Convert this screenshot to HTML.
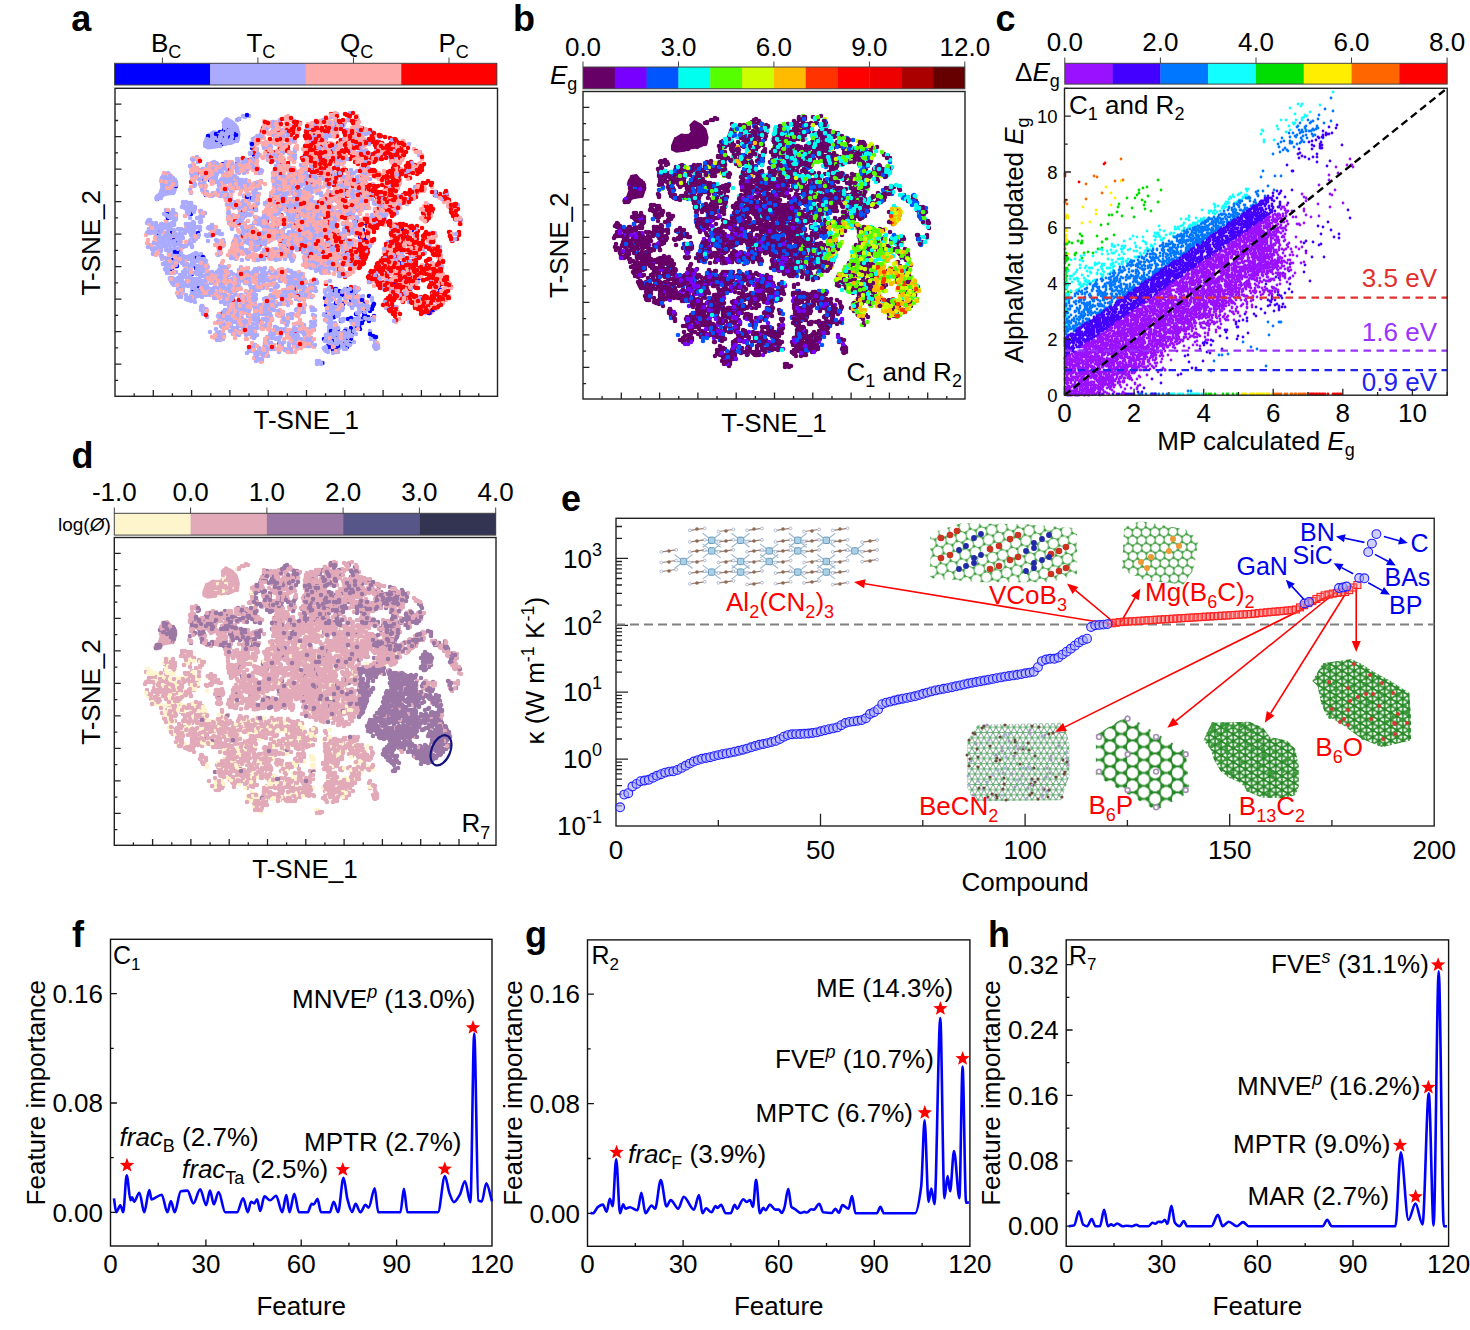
<!DOCTYPE html>
<html><head><meta charset="utf-8"><style>
html,body{margin:0;padding:0;background:#fff;overflow:hidden;}
svg{display:block;font-family:"Liberation Sans", sans-serif;}
</style></head><body>
<svg width="1470" height="1330" viewBox="0 0 1470 1330">
<rect width="1470" height="1330" fill="#fff"/>
<text x="71.3" y="31.0" font-size="36" font-weight="bold" >a</text>
<rect x="114.60" y="63.30" width="95.85" height="21.70" fill="#0000FF"/>
<rect x="210.15" y="63.30" width="95.85" height="21.70" fill="#AAAAFF"/>
<rect x="305.70" y="63.30" width="95.85" height="21.70" fill="#FFAAAA"/>
<rect x="401.25" y="63.30" width="95.85" height="21.70" fill="#FF0000"/>
<rect x="114.60" y="63.30" width="382.20" height="21.70" fill="none" stroke="#444" stroke-width="1.0"/>
<path d="M162.4 63.3L162.4 57.5M257.9 63.3L257.9 57.5M353.5 63.3L353.5 57.5M449.0 63.3L449.0 57.5" stroke="#444" stroke-width="1.0" fill="none"/>
<text x="150.9" y="52.4" font-size="26">B<tspan font-size="18" dy="6">C</tspan></text>
<text x="246.4" y="52.4" font-size="26">T<tspan font-size="18" dy="6">C</tspan></text>
<text x="340.0" y="52.4" font-size="26">Q<tspan font-size="18" dy="6">C</tspan></text>
<text x="438.5" y="52.4" font-size="26">P<tspan font-size="18" dy="6">C</tspan></text>
<path d="M204.0 142.4L207.1 135.3L213.2 131.3L220.3 132.3L224.3 128.2L222.3 122.1L226.4 118.0L232.5 121.1L237.5 126.2L239.6 134.3L238.6 140.4L232.5 143.4L224.3 144.5L216.2 147.5L208.1 148.5L204.0 146.5ZM155.3 197.3L159.3 193.2L161.4 187.1L160.4 179.0L163.4 172.9L168.5 171.9L172.5 176.9L175.6 179.0L176.6 187.1L174.6 193.2L169.5 194.2L164.4 195.2L159.3 199.3L156.3 199.3Z" fill="#AAAAFF" stroke="#AAAAFF" stroke-width="2" stroke-linejoin="round"/>
<path d="M224 130h0m-2 5h0m11 0h0m-16 5h0m3 1h0m2 3h0m30 4h0m2 7h0m-5 6h0m-42 16h0m-4 3h0m-33 12h0m36 3h0m-14 30h0m-35 3h0m15 4h0m221-1h0m-228 3h0m14 3h0m181 0h0m-182 4h0m188-1h0m32 1h0m-223 10h0m4 0h0m259-3h0m-239 8h0m193 0h0m-216 7h0m8-5h0m222 8h0m-234 6h0m242-1h0m-236 13h0m2 3h0m3-4h0m2 0h0m212 1h0m42 2h0m-105 6h0m1-3h0m-10 9h0m22-2h0m1-2h0m3 2h0m18 0h0m-16 7h0m71-1h0m-92 7h0m2-3h0m18 1h0m13 4h0m-1 2h0m4 4h0m-27 3h0m7-1h0m14 0h0m11-1h0m-22 10h0m5 0h0m3-2h0m-22 6h0m16 0h0m-29 7h0m2 1h0m25-1h0m-23 7h0m9-3h0m4 2h0m2-3h0m3 0h0" stroke="#0000FF" stroke-width="4.6" stroke-linecap="round" fill="none"/>
<path d="M337 114h0m13-1h0m-113 7h0m6-4h0m91-1h0m0 0h0m1 5h0m23 0h0m-31 4h0m27 1h0m-129 4h0m38 1h0m20 0h0m11-1h0m15 0h0m0-2h0m27-1h0m10 4h0m2 0h0m8 1h0m1-1h0m2-3h0m7 3h0m1 0h0m-148 3h0m4 3h0m2 1h0m3-2h0m2-1h0m5 2h0m20 2h0m3-1h0m3-3h0m10-1h0m3 2h0m3 2h0m3-1h0m3 1h0m25-1h0m14-1h0m4-3h0m22 4h0m8 0h0m3-1h0m21 2h0m-156 4h0m0 2h0m6 0h0m6-4h0m1 2h0m18 0h0m1-2h0m19 0h0m3-1h0m2 0h0m1 6h0m28-3h0m6-2h0m8 5h0m2-1h0m4 0h0m26-4h0m14 1h0m5 0h0m9 4h0m-165 0h0m58 0h0m9 3h0m10 2h0m0 0h0m12-1h0m4 1h0m4 0h0m7-1h0m13-2h0m14 0h0m7 1h0m2 0h0m3 1h0m15 2h0m6-1h0m12 0h0m3-2h0m12-3h0m-137 10h0m2 1h0m18-2h0m2 2h0m1 0h0m28-1h0m4-2h0m7 1h0m0 0h0m1-1h0m1-1h0m6 2h0m1-3h0m9 2h0m7 1h0m1 1h0m12 2h0m47-1h0m1-3h0m-223 5h0m1 5h0m1-3h0m39 1h0m1-1h0m4 2h0m0 0h0m9-1h0m3-2h0m13 2h0m8-2h0m33 4h0m2-5h0m1 4h0m16-4h0m5 4h0m9-3h0m2 2h0m14-1h0m7-2h0m2 2h0m1 0h0m4-1h0m7 0h0m8-1h0m11-1h0m-207 11h0m1-1h0m16-2h0m2 3h0m4-5h0m2 1h0m1 1h0m8 4h0m0-1h0m3-2h0m1 1h0m8-3h0m3 1h0m2 0h0m1-2h0m2 1h0m1-1h0m3 5h0m27-1h0m37-3h0m1-1h0m3 0h0m2 2h0m3-2h0m2 3h0m4-2h0m15 0h0m68 4h0m8 0h0m-226 3h0m0 0h0m9 4h0m1-5h0m5 3h0m4-4h0m1 1h0m0 4h0m1-2h0m2 1h0m1 2h0m2-4h0m2-1h0m6 1h0m2 0h0m0 2h0m1-1h0m2 2h0m6-1h0m1 1h0m1-4h0m8 0h0m6-1h0m2 3h0m0-1h0m5 0h0m12 3h0m5-2h0m2 0h0m0 1h0m10-4h0m0 3h0m16 1h0m0-4h0m24 4h0m21-2h0m16 2h0m2-3h0m18 4h0m20-2h0m2 2h0m9 0h0m-256 6h0m2-1h0m1 1h0m1 0h0m0-4h0m7 3h0m34 0h0m6-2h0m1-2h0m8 5h0m1-2h0m4 0h0m4-2h0m1 3h0m1-1h0m2-1h0m40-1h0m4 5h0m2-2h0m2-3h0m4 4h0m11-2h0m0-1h0m4 2h0m1-3h0m4 5h0m1 0h0m9-2h0m5 0h0m2-2h0m3 1h0m5 2h0m1-4h0m4 4h0m5-2h0m4 0h0m6-3h0m11 2h0m9-2h0m34 1h0m3 1h0m-245 4h0m0 3h0m5 0h0m4-2h0m2-1h0m19 6h0m11-6h0m0 5h0m11-3h0m6 2h0m2-3h0m6 1h0m0-1h0m1 2h0m2-1h0m3-1h0m6-1h0m1 4h0m0 0h0m0-3h0m14 3h0m4-3h0m14 1h0m3 0h0m1-2h0m1 2h0m5 2h0m4-2h0m5 1h0m1 2h0m1-1h0m0-4h0m3 2h0m8 3h0m1 0h0m0-4h0m2 2h0m0-1h0m0 4h0m2-6h0m4 0h0m1 4h0m2-4h0m9 4h0m5-2h0m2-1h0m5 4h0m3 0h0m1 0h0m5 0h0m0-1h0m15-4h0m2 3h0m25 2h0m-220 1h0m2 0h0m1 2h0m27-2h0m24 1h0m1 1h0m1 1h0m6 0h0m9-3h0m2 2h0m4 1h0m4 0h0m7-2h0m21 1h0m1 1h0m2-1h0m7 2h0m5-3h0m4 3h0m6-1h0m8 0h0m2-1h0m2 0h0m2 1h0m10-2h0m6 4h0m2-1h0m1-2h0m5 1h0m3 2h0m0-1h0m2 1h0m21-5h0m1 5h0m6-2h0m11 0h0m0-3h0m3 0h0m8 2h0m19 2h0m6 0h0m-265 6h0m13-3h0m2 0h0m18 0h0m0 0h0m21 2h0m7-2h0m7 2h0m0-2h0m1 1h0m3 3h0m14-1h0m14-1h0m15 2h0m4 0h0m6-3h0m1 0h0m0 4h0m12-2h0m0-3h0m5-1h0m8 5h0m0 0h0m18-3h0m11 2h0m0-4h0m11 4h0m5-3h0m1 1h0m2 3h0m0 0h0m1-5h0m8 0h0m4 2h0m19-2h0m23 4h0m2-3h0m-257 5h0m29 4h0m40-2h0m17 1h0m22 2h0m3-2h0m7-2h0m0 2h0m1-3h0m5 0h0m0 4h0m1 1h0m0-2h0m4-3h0m6 3h0m1 2h0m4-3h0m10 2h0m2 1h0m1 0h0m1-1h0m1 2h0m9-1h0m3-4h0m1 4h0m7-2h0m13-2h0m1 1h0m5 1h0m7-3h0m5 2h0m6-1h0m11 0h0m4 1h0m2 3h0m16-4h0m47 1h0m-261 6h0m1 1h0m6 0h0m32-3h0m10 1h0m16 4h0m3-4h0m11 1h0m3-1h0m1 0h0m6 4h0m4-4h0m2-1h0m4 4h0m0-2h0m5 3h0m2-5h0m0 0h0m1 2h0m0 1h0m2-3h0m2 4h0m3 0h0m1 0h0m0 1h0m12-1h0m0-2h0m2 2h0m1 0h0m0-2h0m3 3h0m1-1h0m2-3h0m1 1h0m0 4h0m4 0h0m1-2h0m1 2h0m3-2h0m9-3h0m3 5h0m0-5h0m17 1h0m5 1h0m14-2h0m2 0h0m0 4h0m9-5h0m1 4h0m34-3h0m21-1h0m9 1h0m-291 11h0m1-5h0m5 5h0m1-3h0m11 3h0m2-5h0m0 1h0m3 2h0m1-4h0m2 0h0m11 3h0m24 0h0m3 3h0m11-1h0m4-5h0m25 1h0m0 1h0m1 1h0m14-2h0m6 0h0m11 4h0m12-3h0m3 2h0m2-2h0m2 1h0m0 2h0m2-3h0m2-1h0m2 3h0m1 1h0m0-1h0m2 1h0m4-3h0m10-1h0m4 3h0m2 1h0m0 0h0m21 0h0m12-1h0m1-4h0m10 3h0m0-1h0m29 3h0m7-2h0m-282 7h0m1 0h0m16 1h0m8 1h0m1-3h0m22-1h0m3-1h0m3-1h0m25 1h0m2 2h0m1 0h0m4 2h0m1-3h0m4 4h0m1-5h0m1 2h0m13-2h0m1 2h0m1-1h0m1 0h0m5 1h0m0-1h0m1 1h0m1-2h0m1 5h0m0-5h0m5 1h0m1 1h0m4 1h0m5-1h0m8 1h0m0-1h0m2-2h0m1 2h0m3-2h0m9 5h0m11-3h0m2-1h0m8 3h0m0-1h0m1 2h0m1-2h0m3-2h0m0 0h0m2 0h0m4 1h0m30-1h0m4 0h0m6 3h0m2-5h0m48 0h0m30 4h0m5 0h0m-314 3h0m4 2h0m0-2h0m5 0h0m2 3h0m9-3h0m5 2h0m2 0h0m12-1h0m2 3h0m5-1h0m1 0h0m0-3h0m7-1h0m28 1h0m2 2h0m1 3h0m1-4h0m3 1h0m11 3h0m10-5h0m3 1h0m2 0h0m1-1h0m1 4h0m6 0h0m2-2h0m2 1h0m1-2h0m2 3h0m2-5h0m2 2h0m4 3h0m6-3h0m3-2h0m1 0h0m1 3h0m1 2h0m2-3h0m2-1h0m1 4h0m3 0h0m3-4h0m3 0h0m0 3h0m4 1h0m15-1h0m4-1h0m0-2h0m2 5h0m7-4h0m5 2h0m2-1h0m16-3h0m16 2h0m18 4h0m1-2h0m-252 7h0m0-4h0m7-1h0m2 3h0m2-3h0m5 6h0m1-1h0m5-4h0m10 0h0m5 2h0m3-2h0m5 0h0m0 4h0m1 0h0m17-3h0m5 3h0m0-2h0m2 0h0m27 0h0m0-1h0m1 1h0m0 3h0m2-1h0m8 0h0m11-2h0m12 1h0m11 1h0m2 1h0m0-5h0m6 1h0m2-2h0m4 5h0m12 0h0m2-5h0m2 4h0m5-1h0m0 1h0m2-2h0m2 2h0m0-3h0m1 3h0m3 0h0m5 2h0m5-5h0m3 0h0m2 3h0m3-2h0m-196 6h0m2 1h0m3 2h0m5-1h0m1 0h0m1 1h0m1-2h0m0-2h0m2 1h0m0 3h0m3-3h0m18 0h0m1 4h0m1-5h0m0 4h0m12-4h0m5 1h0m10-2h0m17 4h0m2-1h0m3-2h0m0-1h0m4 5h0m0 1h0m1-5h0m3 1h0m2 3h0m10 0h0m1-1h0m6-1h0m1 1h0m0 1h0m1-5h0m0 3h0m2-1h0m2 2h0m0-2h0m7 4h0m0-2h0m3 2h0m8-4h0m5 2h0m6-2h0m1 1h0m3-1h0m1-1h0m0-1h0m1 1h0m2 1h0m4 2h0m0 1h0m3-4h0m2 2h0m3-2h0m2-1h0m5 2h0m7 2h0m5-2h0m5-2h0m15 4h0m2 1h0m-216 6h0m7-1h0m5-4h0m0 0h0m2 1h0m6 0h0m0 1h0m4 3h0m13-3h0m3-1h0m26-1h0m4 1h0m2 3h0m34-1h0m7-1h0m19 0h0m2-1h0m1 0h0m5 2h0m4-2h0m0 3h0m0-1h0m1 0h0m5 2h0m0-4h0m2 0h0m5 1h0m1 2h0m1-4h0m2 3h0m2 0h0m1 3h0m1-1h0m2-1h0m1 0h0m3-1h0m0 1h0m6-2h0m11 3h0m5-3h0m5 3h0m0-3h0m3 3h0m14-4h0m23 1h0m2 2h0m-235 5h0m4-2h0m0 3h0m1 0h0m3-4h0m3 4h0m1 0h0m3 0h0m7 0h0m0-1h0m4 0h0m11-2h0m27 0h0m4-1h0m8 5h0m1 1h0m1-6h0m18 3h0m2 0h0m16 3h0m13-5h0m2 5h0m4-3h0m1 2h0m1-1h0m2-1h0m1-2h0m1-1h0m3 4h0m1 0h0m3-3h0m1 2h0m1 3h0m3-4h0m0 0h0m1 1h0m0 2h0m1-2h0m4 2h0m0-5h0m5 3h0m3 0h0m3 0h0m8 1h0m1-1h0m4 1h0m7 1h0m3-2h0m0-2h0m5 3h0m4-1h0m12 0h0m21 2h0m3-2h0m8 2h0m15 1h0m1-3h0m-262 5h0m0-1h0m9 3h0m12-3h0m1 1h0m9 3h0m8-2h0m4-2h0m35 1h0m2 3h0m0-4h0m0 3h0m4-3h0m1 1h0m11-2h0m18 1h0m5 4h0m10-2h0m3 0h0m6-2h0m3 4h0m11-1h0m3-3h0m4 1h0m3-1h0m4 1h0m4-2h0m1 1h0m15 2h0m1 1h0m11-1h0m2 0h0m4 2h0m1-2h0m5-3h0m23 1h0m8 2h0m2 2h0m6-3h0m7-2h0m7 5h0m-254 2h0m3 4h0m4-5h0m5 1h0m3 4h0m0-1h0m1-1h0m1 0h0m6 1h0m10-1h0m0-3h0m3 1h0m5 0h0m1 3h0m2-1h0m41-3h0m1 1h0m7 0h0m3 0h0m6-1h0m7 1h0m6 0h0m2 0h0m6-1h0m0 1h0m26 1h0m2-2h0m1 1h0m5 4h0m1-2h0m2 2h0m7 0h0m1-4h0m2 2h0m3 2h0m1-3h0m0-1h0m1 0h0m0 4h0m15-1h0m61 1h0m-250 1h0m3 4h0m1 1h0m3-5h0m5 3h0m1-1h0m8-1h0m2 2h0m1-3h0m2 3h0m3-3h0m2 0h0m4 2h0m1 1h0m4 1h0m1-3h0m1 2h0m17 1h0m2 1h0m4-2h0m13 2h0m7-1h0m12 1h0m2 0h0m3-1h0m23 2h0m19-3h0m4 1h0m3-3h0m9 1h0m3-1h0m2 5h0m0-5h0m2-1h0m12 2h0m43 3h0m4-3h0m4-2h0m41 3h0m-258 5h0m4 3h0m5-1h0m1-2h0m4 2h0m1 0h0m6 0h0m4-1h0m1 3h0m2-6h0m2 5h0m2-1h0m2 0h0m5 0h0m4-4h0m2 0h0m1 3h0m1 1h0m4-3h0m2 4h0m12-4h0m5 0h0m1 4h0m8-3h0m2 0h0m3 3h0m2 0h0m1-3h0m1 1h0m4 0h0m8 1h0m2 0h0m1-4h0m1 2h0m42 1h0m4-3h0m14 6h0m7-3h0m1 2h0m33-4h0m10 1h0m2 1h0m22 0h0m20 1h0m-265 4h0m3 1h0m9-1h0m0-2h0m4 1h0m1 4h0m3-4h0m2 3h0m2-1h0m6-2h0m1 4h0m3 0h0m3-1h0m3-1h0m5-1h0m3-1h0m2 0h0m0 1h0m1 0h0m1-1h0m8 3h0m8-4h0m1 2h0m1-1h0m0 4h0m1-1h0m2-4h0m0 0h0m6 3h0m2-3h0m5 4h0m1-4h0m2 4h0m2 1h0m2-3h0m1-1h0m5 1h0m2 2h0m4-4h0m0 0h0m3 1h0m4-1h0m1 2h0m3-2h0m3 1h0m0 0h0m1 2h0m1-1h0m1-2h0m2 3h0m2 2h0m7-4h0m0 3h0m13 0h0m1 2h0m63-1h0m0-3h0m19 1h0m16 2h0m24 1h0m-267 1h0m4 2h0m2-2h0m7 0h0m5 1h0m3 2h0m3-1h0m0 2h0m2-5h0m2 4h0m3-3h0m2 0h0m2 2h0m1 3h0m6-6h0m6 2h0m1 0h0m3-1h0m3-1h0m3 1h0m1 3h0m1-3h0m5 3h0m1-2h0m8-1h0m4 2h0m11 1h0m4-1h0m8 0h0m17-1h0m1-2h0m1 6h0m0-2h0m1-3h0m5 1h0m2-1h0m1 0h0m1-1h0m4 1h0m6 3h0m5-3h0m77 0h0m15 0h0m1 3h0m5 0h0m3-4h0m28 1h0m-268 6h0m14 4h0m2-4h0m5 5h0m1-4h0m2 1h0m6 2h0m2-4h0m0 4h0m1 0h0m2 0h0m1-5h0m4 0h0m1 1h0m0-1h0m6 0h0m3 3h0m2-1h0m1-1h0m15 3h0m10-2h0m15 0h0m14 0h0m4-2h0m7 0h0m0 5h0m0-1h0m5 1h0m4-5h0m3 1h0m8 2h0m9-1h0m1 0h0m4 0h0m1-1h0m0 1h0m1 4h0m4-3h0m1 2h0m2 0h0m4-2h0m4-2h0m3 2h0m2-1h0m1 3h0m0-1h0m47-3h0m38-1h0m6 4h0m-263 5h0m5 2h0m3 0h0m2-3h0m19-1h0m1 0h0m9 1h0m2-2h0m1 1h0m3 2h0m4 1h0m9 1h0m6 0h0m2-2h0m1-1h0m20 2h0m6 0h0m1-3h0m5 1h0m3 3h0m1-2h0m0 1h0m2-1h0m2 0h0m10-2h0m0 4h0m1 1h0m2-5h0m0 0h0m2-1h0m6 2h0m1 1h0m1-1h0m15-1h0m2 5h0m0-3h0m2-2h0m0 1h0m1 1h0m14 0h0m4-2h0m0 2h0m1-2h0m7 2h0m3 0h0m-133 4h0m2 5h0m1-5h0m1 2h0m0-1h0m5 0h0m0 1h0m0 2h0m3-5h0m3 4h0m2-2h0m0-2h0m1 4h0m1-3h0m6 0h0m1-1h0m15 3h0m1-2h0m2-1h0m0 3h0m0 1h0m5 2h0m23 0h0m4-1h0m26 0h0m0-4h0m5 4h0m1 1h0m2-3h0m12 1h0m2-4h0m4 2h0m1-2h0m2 3h0m0-3h0m1 5h0m0-2h0m7 2h0m6-5h0m1 3h0m15-2h0m0 1h0m47-1h0m-234 6h0m1 2h0m0-3h0m21 6h0m2-2h0m3 1h0m2-3h0m4 2h0m0 0h0m2-2h0m1-1h0m7-1h0m4 3h0m8-2h0m2 1h0m2-1h0m1 0h0m0 2h0m0 2h0m12-3h0m24 1h0m3 1h0m3-1h0m10 1h0m21 0h0m0-3h0m5 1h0m3 2h0m18-1h0m1 2h0m2-1h0m1-3h0m3 1h0m3 2h0m1-3h0m-153 9h0m6 0h0m1-4h0m4 6h0m2-4h0m0 0h0m0 3h0m1-5h0m5 0h0m18 2h0m0 3h0m10-3h0m3 1h0m9 0h0m4-1h0m9 4h0m1-4h0m6 1h0m18 1h0m9-2h0m4 2h0m0-3h0m3 2h0m2 3h0m1-6h0m1 2h0m1-1h0m3 1h0m20 4h0m5-2h0m-145 7h0m1-1h0m2 1h0m1 0h0m8 0h0m0 0h0m4-4h0m3-1h0m1 0h0m2 2h0m1-2h0m5 6h0m4-5h0m1 0h0m20 1h0m10 2h0m2 0h0m3-2h0m1-1h0m1-1h0m1 0h0m10 5h0m30 1h0m1-2h0m12-1h0m10-2h0m2 1h0m2 1h0m1 2h0m3 0h0m5-4h0m-150 10h0m6-2h0m11 2h0m1-1h0m12-2h0m3 3h0m13-4h0m4 0h0m4 0h0m5 2h0m10 2h0m11-5h0m4 2h0m6 3h0m1 0h0m24-3h0m2 0h0m0-2h0m0 4h0m1-2h0m2 3h0m10 0h0m13-5h0m-142 9h0m3 2h0m10-4h0m3 3h0m2-3h0m3 1h0m7 0h0m1-1h0m5 0h0m0-1h0m27 0h0m9 4h0m0-2h0m5 1h0m2 1h0m6-3h0m5 2h0m5-3h0m0 2h0m19 0h0m2 0h0m0 3h0m1-4h0m2 4h0m5-1h0m3-1h0m28-2h0m-154 7h0m4 2h0m32-3h0m2 1h0m13 4h0m6-5h0m5 2h0m13 1h0m5 0h0m3 1h0m6-5h0m0 1h0m2 3h0m0-4h0m0 2h0m3 0h0m15 3h0m2-3h0m0-2h0m2 0h0m0 6h0m1-4h0m5 2h0m4-3h0m1 0h0m3 2h0m3-1h0m1 0h0m2 4h0m22-4h0m4 3h0m-124 6h0m3 0h0m1-2h0m11 2h0m16-2h0m2-3h0m5 3h0m0 2h0m6-5h0m6 3h0m1 0h0m1-1h0m4 0h0m4 1h0m2 1h0m13 1h0m6 0h0m2 0h0m13 0h0m27-1h0m1-2h0m1-1h0m2 2h0m-131 8h0m2-3h0m0 1h0m1-3h0m10 6h0m3-1h0m1-1h0m7-3h0m4 0h0m4 3h0m12-3h0m33-1h0m10 0h0m2 3h0m1-1h0m-81 11h0m6 0h0m57 0h0m4 2h0" stroke="#AAAAFF" stroke-width="4.6" stroke-linecap="round" fill="none"/>
<path d="M335 113h0m-47 3h0m44 0h0m15-1h0m10 4h0m-90 3h0m1 3h0m3 1h0m1-2h0m0-2h0m20-2h0m1 1h0m3 3h0m2-1h0m2 1h0m8 0h0m0 1h0m12-4h0m8 4h0m16 0h0m-69 2h0m2-1h0m1 2h0m8 2h0m1 2h0m0-1h0m7 1h0m3-1h0m10-1h0m2 1h0m15 0h0m2-5h0m0 3h0m4-2h0m3 1h0m0-2h0m2 5h0m1-2h0m2-1h0m1 1h0m21 2h0m5-2h0m0 2h0m-104 7h0m2-1h0m6-3h0m6-2h0m6 3h0m0-3h0m1 2h0m5 3h0m4-5h0m7 1h0m17 2h0m3-2h0m1 1h0m3-2h0m1 5h0m6-4h0m16 1h0m2 2h0m16-1h0m8-1h0m0 1h0m-116 8h0m0-3h0m3 1h0m12 2h0m3-2h0m1 0h0m0 0h0m2 2h0m0-3h0m0 0h0m2-2h0m1 2h0m1 3h0m2-3h0m0-2h0m0 4h0m6 1h0m3-1h0m4 0h0m11-3h0m1 0h0m10 0h0m1-1h0m6 2h0m6 3h0m14-2h0m0 3h0m1-5h0m1 2h0m0-1h0m1 1h0m2-2h0m1 0h0m0 5h0m13-4h0m1-1h0m7 0h0m32 2h0m-149 5h0m9-1h0m2 3h0m1 0h0m3 2h0m10-3h0m0 2h0m1-5h0m2 3h0m3-2h0m3-1h0m26 0h0m2 3h0m4 2h0m9-3h0m2-1h0m7 3h0m0 1h0m8-2h0m4 1h0m3-3h0m8 5h0m1-3h0m2-1h0m1-1h0m0 0h0m1 5h0m17-4h0m4-1h0m2 0h0m2 1h0m3 0h0m0-1h0m1 0h0m3 2h0m1-3h0m4 5h0m11 0h0m-157 3h0m3 3h0m13 1h0m5-1h0m2-1h0m4-3h0m3 0h0m5 3h0m1 1h0m19-3h0m4-1h0m1 0h0m8 0h0m10 2h0m1 1h0m4 1h0m21-1h0m1-3h0m3 2h0m4 0h0m6 2h0m3-5h0m1 2h0m9 3h0m2-1h0m0-4h0m2 0h0m4 2h0m-201 7h0m3 0h0m34 3h0m16-2h0m15-2h0m5 1h0m0 0h0m6-3h0m2 3h0m5 0h0m23-2h0m16 0h0m4 3h0m12 0h0m17-2h0m0 0h0m8-1h0m3 1h0m1-1h0m6 2h0m6 1h0m18-2h0m-202 6h0m22 0h0m6 1h0m0 1h0m8-1h0m9 0h0m7 0h0m4 1h0m0 1h0m3-3h0m3-2h0m2 0h0m15 0h0m10 2h0m1-1h0m1 2h0m10-3h0m12 1h0m30 1h0m5 0h0m0-1h0m17-1h0m42 0h0m11 0h0m1 2h0m11 1h0m-258 9h0m36-1h0m3 0h0m8 0h0m2-5h0m3 4h0m10-3h0m10 3h0m6-2h0m3 1h0m9-2h0m1 3h0m5 1h0m13-1h0m3-1h0m3-1h0m3 2h0m2-3h0m6 2h0m1-1h0m4 2h0m6-4h0m1 5h0m0-1h0m8-1h0m1 2h0m2-4h0m10 2h0m3 0h0m12-1h0m5-2h0m18 3h0m1 0h0m1 1h0m1-2h0m7 4h0m1-1h0m6 0h0m14-2h0m3 1h0m5 1h0m0-4h0m13 2h0m-243 5h0m22 0h0m4 1h0m26 2h0m2-5h0m1 5h0m10 0h0m37 1h0m7-2h0m9-3h0m4 4h0m6 1h0m7-4h0m14-2h0m1 3h0m2-3h0m11 1h0m5 0h0m13 1h0m6 2h0m1-2h0m1 2h0m3-3h0m3 2h0m1-3h0m0 1h0m2-1h0m7 3h0m1-3h0m16 3h0m5-3h0m2 5h0m9-2h0m-237 8h0m3-2h0m20 1h0m6-1h0m0-1h0m0 2h0m21-1h0m4-1h0m13 2h0m6 0h0m8 1h0m3 1h0m2-4h0m37 4h0m1-3h0m9 1h0m3-3h0m1 4h0m6-1h0m1-1h0m9 0h0m9-3h0m8 0h0m5 4h0m10 1h0m0-1h0m5-4h0m7 6h0m4-2h0m10 1h0m6 1h0m1-1h0m4-4h0m1 4h0m5-2h0m21 2h0m2 0h0m1 0h0m-233 2h0m31 1h0m4 0h0m18 0h0m2 0h0m7 2h0m0 2h0m26-6h0m3 4h0m2 1h0m2-3h0m5 4h0m5-3h0m12 2h0m3-4h0m12 0h0m5-1h0m0 5h0m10-2h0m4 3h0m7-6h0m9 4h0m16-3h0m0 2h0m22 1h0m23-3h0m5 4h0m8-4h0m-262 5h0m33 0h0m4 3h0m3 1h0m12 0h0m18-2h0m8 0h0m10 2h0m1-2h0m13 1h0m11-1h0m11 1h0m8 1h0m8 0h0m19-4h0m1 6h0m5-1h0m14-1h0m1-1h0m2 1h0m4 1h0m0-5h0m7 2h0m2 0h0m3 1h0m3 2h0m1-4h0m3 3h0m2 0h0m1 0h0m1-2h0m3-2h0m4 4h0m4-3h0m15 1h0m5-2h0m7 1h0m23 1h0m-283 4h0m70 2h0m4-1h0m9 4h0m5 0h0m2-3h0m6 0h0m3-2h0m17 5h0m4-2h0m21-2h0m3 1h0m4-2h0m5 4h0m4 0h0m3 0h0m7 0h0m11-2h0m7 2h0m0-4h0m14 1h0m0 4h0m2-4h0m8 2h0m3-2h0m5 3h0m3-3h0m8 2h0m3 2h0m7-1h0m3 1h0m2-4h0m44 3h0m-217 3h0m1 4h0m7-2h0m7 2h0m5-1h0m1-4h0m0 5h0m18-5h0m3 5h0m1-4h0m1 0h0m4 0h0m3-1h0m2 5h0m0 1h0m2-4h0m8 4h0m2-1h0m2 0h0m1-3h0m2 0h0m5 0h0m0-2h0m1 4h0m6-1h0m5 2h0m8-3h0m9 2h0m8-2h0m1 2h0m3 0h0m0-3h0m6 2h0m1-2h0m2 1h0m3 0h0m1 0h0m2 0h0m0-1h0m8 0h0m13 1h0m4 2h0m0 1h0m3-2h0m3-3h0m1 5h0m5-2h0m1 1h0m28-2h0m1 3h0m2-3h0m22 1h0m3-3h0m3 2h0m-289 7h0m35-1h0m32 3h0m6 1h0m3-3h0m3 1h0m2 1h0m5-2h0m25 1h0m13-2h0m3 2h0m3-1h0m0 0h0m0 0h0m5-1h0m6 2h0m3-3h0m3 0h0m1 4h0m4-5h0m6 1h0m5 4h0m0-3h0m1 2h0m10-2h0m1 1h0m1 0h0m1 0h0m0 1h0m2 2h0m1-3h0m1 0h0m1 1h0m4-4h0m1 6h0m24-1h0m2-4h0m7-1h0m1 3h0m3 0h0m1-3h0m0 3h0m2-3h0m0 1h0m35-1h0m3 6h0m21-5h0m-286 10h0m71-1h0m0 1h0m26-1h0m15 1h0m3-1h0m1-1h0m14-3h0m10 5h0m4-4h0m10 3h0m2 1h0m10-5h0m3 2h0m9 0h0m3 3h0m20-4h0m8 1h0m5 3h0m44-5h0m-238 11h0m5-2h0m8 2h0m13-2h0m20-3h0m7 3h0m8 2h0m16-5h0m1 2h0m2 3h0m21-2h0m3 0h0m9-1h0m2 3h0m9-1h0m1-4h0m0 4h0m3-4h0m10 3h0m4 2h0m0-5h0m1 5h0m2 1h0m4-3h0m8-1h0m5 2h0m6-3h0m4 2h0m13-1h0m2-1h0m1 4h0m17-4h0m4 1h0m3 2h0m17 1h0m-262 6h0m10-1h0m11 1h0m36-4h0m4 2h0m57 2h0m4-4h0m4 2h0m3 2h0m22-3h0m2 3h0m0-5h0m5 4h0m8-2h0m1 2h0m1 1h0m8-3h0m2 1h0m5 1h0m3 1h0m6-2h0m8 0h0m3 3h0m2-2h0m3-1h0m8-3h0m0 1h0m22 0h0m3 1h0m5 0h0m1-1h0m5 2h0m-227 6h0m57 2h0m7-5h0m2 3h0m0-1h0m5 1h0m3-2h0m2 3h0m6-4h0m1 3h0m0-2h0m2 2h0m1-2h0m7 1h0m3 2h0m17-1h0m1 0h0m6-1h0m5-2h0m7 0h0m6 4h0m16-3h0m0 0h0m1-1h0m7 4h0m3 0h0m50-2h0m2-1h0m9 0h0m20 0h0m3-1h0m0 2h0m2 3h0m1 0h0m-272 1h0m29 2h0m32-1h0m14 2h0m1-2h0m3 2h0m4 2h0m0 1h0m16-3h0m2 3h0m3-6h0m6 2h0m12 0h0m10 3h0m2-2h0m3 0h0m0-3h0m3 3h0m6 1h0m7 1h0m1-2h0m1 2h0m0-5h0m5 0h0m0 3h0m3-2h0m1 0h0m10 4h0m3-4h0m1 1h0m1-1h0m1 5h0m8-2h0m2-4h0m0 5h0m2 0h0m2-4h0m17 2h0m2 0h0m19 3h0m37 0h0m3-4h0m4-2h0m19 1h0m-267 5h0m34 2h0m12 3h0m4-2h0m2 2h0m10-1h0m6 0h0m1-2h0m1 2h0m15 2h0m3-2h0m0 0h0m11 0h0m1-1h0m1 0h0m4-1h0m0-2h0m6 0h0m8 6h0m0-5h0m1 4h0m17-3h0m4 0h0m7-1h0m1 3h0m13-3h0m1 3h0m2-3h0m1 3h0m4-1h0m4 1h0m5-3h0m22 5h0m5-4h0m3 1h0m14 0h0m2-3h0m4 5h0m4-4h0m4 0h0m9 1h0m4 4h0m-280 3h0m18 3h0m2 0h0m52-3h0m8 2h0m1-3h0m15 3h0m4-2h0m4 2h0m2-4h0m1 1h0m1-1h0m2-1h0m3 6h0m10-1h0m2-4h0m3 1h0m3 0h0m4 4h0m41 0h0m0-6h0m6 3h0m12 1h0m6-1h0m1 1h0m2-3h0m5 4h0m20-4h0m4-1h0m23 0h0m27 5h0m-215 4h0m47-2h0m5-1h0m4 1h0m14 0h0m16 0h0m5-1h0m3 4h0m1-3h0m4 1h0m3 3h0m7-4h0m10 3h0m1-1h0m0 1h0m6 1h0m9 1h0m3-6h0m29 2h0m2 0h0m1 2h0m3-3h0m1 4h0m1-3h0m8 3h0m8-3h0m-228 8h0m12 1h0m6 0h0m3-1h0m0-3h0m1 2h0m33 0h0m3 2h0m15-1h0m44-3h0m12 3h0m1-1h0m1 0h0m10 1h0m7-1h0m1 0h0m1-3h0m4 1h0m10-1h0m1 4h0m2-4h0m1 2h0m1 2h0m25 1h0m3-3h0m3 0h0m5 0h0m1 0h0m0 3h0m1-3h0m1 3h0m4 0h0m3-2h0m1-1h0m12 3h0m1-4h0m1 4h0m7-2h0m2-1h0m0 3h0m14-4h0m3 1h0m-233 9h0m0-2h0m5 1h0m5 1h0m2 0h0m3-5h0m0 4h0m0 0h0m2 1h0m14-1h0m2-3h0m4 0h0m1 3h0m11 1h0m11-2h0m5-2h0m5 4h0m12-3h0m6 2h0m2 0h0m2 1h0m23-4h0m5 2h0m5 1h0m1-3h0m5 3h0m3-4h0m4 4h0m3 0h0m3-2h0m19 2h0m3-2h0m1 3h0m5-5h0m22 2h0m2 0h0m8 2h0m4 1h0m1-3h0m14 0h0m0 2h0m0-1h0m1 3h0m6-4h0m2 0h0m-228 5h0m2 2h0m8-2h0m11 1h0m7-2h0m8 3h0m4 1h0m1-3h0m0 5h0m8-2h0m7-1h0m3 0h0m1-2h0m4 0h0m6 0h0m3 5h0m0-2h0m5 1h0m12-3h0m11 1h0m61 2h0m4-2h0m0-1h0m0 2h0m7-1h0m4 0h0m0 1h0m9 2h0m9-1h0m4-3h0m4 3h0m0-5h0m7 5h0m20-2h0m-223 5h0m16 1h0m0 0h0m18 2h0m6 1h0m3-4h0m30-1h0m6-1h0m2 0h0m10 6h0m63-2h0m5 0h0m2-1h0m5 0h0m2-2h0m4 4h0m3-1h0m2 0h0m6-3h0m4 2h0m3 1h0m4-2h0m17-1h0m1 0h0m1 4h0m14-2h0m1 1h0m0-3h0m0 1h0m-245 10h0m10-2h0m4 0h0m4-4h0m4 6h0m3-5h0m9 1h0m45 4h0m1-4h0m5 0h0m0 3h0m15 1h0m9-6h0m3 0h0m11 2h0m20 4h0m5-6h0m3 0h0m38 4h0m13-2h0m37-1h0m2 0h0m3 2h0m-226 6h0m1-1h0m15-1h0m15 4h0m2-2h0m16-1h0m1 1h0m19 0h0m41-1h0m3 3h0m3-4h0m3 3h0m18-2h0m31 2h0m3-1h0m7-3h0m0 1h0m4 3h0m13-1h0m3 0h0m11 1h0m0 1h0m9-4h0m7 5h0m-204 5h0m4-3h0m0 1h0m9 0h0m6 2h0m2 0h0m3-2h0m1 1h0m4-3h0m1 1h0m55-2h0m16 2h0m9 2h0m3-4h0m3 1h0m1 2h0m26-2h0m31 3h0m4 2h0m9-3h0m5 3h0m3-4h0m-234 7h0m0-2h0m38 3h0m1-4h0m5 2h0m3-2h0m4 0h0m3 5h0m8-1h0m8-3h0m7 3h0m31-3h0m57-1h0m29 1h0m23-1h0m3 5h0m5-3h0m4 4h0m1-4h0m-214 10h0m8-4h0m8 3h0m7-3h0m10 4h0m12-4h0m5 1h0m1-3h0m10 4h0m19-2h0m60-1h0m32-1h0m7 0h0m-176 10h0m4-3h0m1 5h0m10-2h0m4-1h0m0 1h0m4-2h0m10-1h0m5 2h0m10 1h0m12-1h0m2 0h0m0-3h0m10 6h0m4-1h0m98-1h0m-169 6h0m17 1h0m2-1h0m6 1h0m5-4h0m7 1h0m3 0h0m3 3h0m16-5h0m4 6h0m46-5h0m-114 8h0m31-2h0m17 0h0m0-1h0m19 0h0m7 4h0m42-2h0m3 2h0m-129 3h0m55 0h0m1 2h0m4-1h0m33 2h0m1-3h0m20-1h0m5 6h0m10-2h0m-77 7h0m1-5h0m0 0h0m9 3h0m32-1h0m1-2h0m2 1h0m1 3h0m0-4h0m20 4h0m11-3h0m-79 11h0m1-1h0m4-3h0m7-1h0m2 0h0m25-1h0m29 0h0m-76 10h0m1-4h0m5 0h0m5 1h0m-6 5h0" stroke="#FFAAAA" stroke-width="4.6" stroke-linecap="round" fill="none"/>
<path d="M331 114h0m22-1h0m-22 1h0m5 3h0m11-2h0m2 5h0m1-4h0m-73 7h0m17-2h0m1 4h0m2 0h0m3-2h0m37 1h0m1-1h0m19-1h0m-46 5h0m2 3h0m4 0h0m6 1h0m3-4h0m18 4h0m12 0h0m6-3h0m-88 7h0m19-2h0m12 3h0m1 1h0m2-2h0m2-1h0m3 2h0m0-1h0m0 2h0m13 0h0m4-4h0m16 1h0m1-1h0m1 1h0m1-1h0m6 1h0m3 1h0m2-3h0m13 5h0m7-2h0m1 1h0m-111 3h0m10 0h0m32 4h0m8-4h0m18 4h0m2 0h0m7 1h0m1-4h0m25 0h0m3 2h0m3 0h0m3 1h0m8-5h0m-136 11h0m26 0h0m42-3h0m0 0h0m2 0h0m2-2h0m6 1h0m14 0h0m0-1h0m1 1h0m12 0h0m16 0h0m1-1h0m3 4h0m3 0h0m6 0h0m2 1h0m1-1h0m2-4h0m2 5h0m6-1h0m-114 3h0m18 4h0m3 0h0m2 1h0m14-1h0m0-2h0m7-1h0m1 3h0m5-4h0m3 2h0m3-3h0m7 3h0m1-3h0m11 2h0m0 2h0m1-2h0m9 4h0m2-2h0m1-1h0m13 2h0m1-5h0m2 5h0m5-5h0m5 5h0m-154 5h0m6-1h0m38 0h0m11-1h0m11 2h0m0-2h0m6-2h0m6 5h0m1 0h0m2 0h0m0 0h0m5-3h0m0 3h0m5 0h0m1-3h0m11 1h0m8 3h0m1-3h0m3-3h0m2 4h0m1-2h0m9 4h0m1-2h0m2-2h0m1-1h0m4 2h0m29 3h0m-174 2h0m34-2h0m9 2h0m40 4h0m15 0h0m23-4h0m5 0h0m0-1h0m29-1h0m4 3h0m14-2h0m5 2h0m5 2h0m1-2h0m3-1h0m-181 5h0m38-1h0m30 2h0m1 0h0m6 3h0m7-2h0m2 3h0m5-2h0m7 1h0m3-2h0m4-1h0m18-2h0m22 5h0m0 0h0m4-2h0m7-1h0m4 2h0m1 1h0m1-2h0m6-3h0m1 1h0m4 0h0m0-1h0m1 4h0m5 0h0m-126 5h0m16 2h0m15-3h0m0-2h0m5 2h0m2 2h0m17-4h0m13 4h0m3 1h0m17 0h0m1 0h0m2-2h0m4 0h0m3-1h0m2-1h0m1-1h0m4 2h0m11 2h0m-97 5h0m21 2h0m1-4h0m9 2h0m8 0h0m14 1h0m16-4h0m9 2h0m2 1h0m2-2h0m1 3h0m3-4h0m19 5h0m10-4h0m-191 7h0m41 3h0m19-3h0m39 0h0m30 0h0m0 1h0m5 0h0m2 2h0m1-3h0m1 0h0m12 2h0m2 1h0m4 0h0m23-1h0m1 2h0m4-2h0m-139 7h0m54-5h0m11 4h0m10-2h0m11 3h0m2-4h0m5 2h0m1-3h0m5 6h0m2-3h0m11-3h0m2 5h0m1-1h0m6-1h0m7 0h0m4 1h0m21-1h0m5-1h0m1 3h0m4-4h0m2 1h0m0 3h0m-164 4h0m19 1h0m1-1h0m16 1h0m22-1h0m25 2h0m11-3h0m3-1h0m4 4h0m2-2h0m3-1h0m0-2h0m13 1h0m1 4h0m0-2h0m2-1h0m0-1h0m39 0h0m1 0h0m1-1h0m-192 9h0m14 2h0m10-1h0m0-4h0m17 3h0m24 0h0m26-1h0m8-1h0m5 2h0m4-2h0m15 4h0m6-1h0m6-1h0m0 2h0m4-3h0m6 1h0m27 0h0m0 2h0m0-3h0m2 2h0m24-2h0m1 2h0m-188 7h0m34-3h0m2 0h0m28 2h0m18 1h0m6-2h0m28 2h0m45-1h0m25-2h0m-185 6h0m1 0h0m0 3h0m58-4h0m4 0h0m44 3h0m2-1h0m5 2h0m2-3h0m40 0h0m2 1h0m1 2h0m2-4h0m26-1h0m2 3h0m2-3h0m3 4h0m-225 4h0m42 3h0m53-3h0m31-1h0m14 4h0m1-3h0m0 1h0m15 1h0m9-2h0m2 1h0m2 0h0m5 2h0m-160 3h0m31 3h0m25-3h0m24 3h0m5 0h0m14-2h0m45-2h0m2 1h0m0 2h0m3 1h0m0-2h0m5-1h0m3 4h0m2-6h0m5 0h0m2 0h0m10 6h0m0 0h0m1-1h0m0-1h0m3 2h0m20-2h0m10 0h0m-207 6h0m87-3h0m1 1h0m3-2h0m18 2h0m1 2h0m1-3h0m1 4h0m4-3h0m6 3h0m28-4h0m4 4h0m4-1h0m5-4h0m1 5h0m0-2h0m1 2h0m9-3h0m8-2h0m17 1h0m0 0h0m6 4h0m2-5h0m-175 9h0m13 2h0m7-2h0m24 1h0m1-4h0m20 1h0m13-1h0m2 1h0m0 5h0m1-3h0m0-2h0m0 2h0m2 0h0m5-3h0m19 3h0m0 0h0m1 2h0m2-5h0m6 4h0m1-3h0m5 2h0m1 1h0m1 0h0m3-1h0m20-3h0m2 2h0m0-1h0m19 0h0m-179 9h0m13-3h0m1 4h0m47-5h0m15 3h0m8 2h0m8-3h0m3 0h0m18-1h0m1 0h0m1 2h0m0 0h0m2 1h0m2 1h0m3-3h0m6-1h0m6 4h0m4-4h0m22 2h0m2-1h0m-128 9h0m31 1h0m16-1h0m10-1h0m2 1h0m2-5h0m17 5h0m3-2h0m4 2h0m1-3h0m0 2h0m3-3h0m0-1h0m2 4h0m1 0h0m4 1h0m4-5h0m10 3h0m3 2h0m14-2h0m6-1h0m-184 5h0m63 4h0m11 1h0m14-2h0m8-4h0m7 4h0m4 0h0m17 2h0m1-4h0m0 2h0m8 2h0m0-1h0m1-4h0m1 5h0m5-6h0m2 4h0m11-1h0m3 0h0m3 3h0m1-4h0m13-1h0m8 5h0m2-2h0m1-2h0m-116 10h0m1-1h0m5-4h0m3-1h0m26 4h0m1-2h0m17-2h0m1 4h0m3-2h0m4 1h0m12-1h0m4-1h0m1 0h0m2 3h0m6 1h0m0-5h0m1 4h0m2-4h0m2 5h0m1-3h0m2 2h0m9-3h0m1 2h0m8 1h0m2 1h0m1-3h0m0-1h0m-69 8h0m2-1h0m0 0h0m14 2h0m8-3h0m1 4h0m3-2h0m1-1h0m5 2h0m3-2h0m1 3h0m6 0h0m8-1h0m4 0h0m8-1h0m5-2h0m1 2h0m-95 4h0m24 2h0m8-2h0m2 4h0m3 1h0m4-1h0m3-2h0m4 2h0m4-2h0m3-3h0m2 2h0m3 1h0m25-2h0m1 4h0m11-4h0m4 0h0m0 4h0m1-1h0m0 1h0m-116 6h0m20 0h0m27-2h0m13-1h0m3-1h0m3 2h0m1 1h0m4-1h0m4 2h0m1 0h0m0-2h0m1 0h0m1-1h0m1-1h0m3 0h0m1 2h0m1-3h0m14 5h0m5-2h0m0-1h0m3 3h0m8-4h0m1 2h0m2-2h0m3 4h0m-173 6h0m115-4h0m2 3h0m5-2h0m0-1h0m0 4h0m7-5h0m3 4h0m24 0h0m5 1h0m6 0h0m-53 6h0m6-4h0m6 0h0m1 0h0m2 0h0m2 0h0m1 0h0m3 0h0m8 2h0m5 0h0m8-2h0m0 5h0m7-3h0m0-2h0m0 3h0m-55 2h0m0 4h0m3-3h0m0 3h0m1-3h0m2 1h0m11 0h0m12 4h0m0-3h0m1-3h0m4 6h0m3-3h0m2-2h0m4 3h0m9-2h0m5-1h0m-174 8h0m122 0h0m24-2h0m0 1h0m7-2h0m0 1h0m3 2h0m1 0h0m5 1h0m3-3h0m1 2h0m-214 5h0m200 0h0m-161 8h0m19 22h0" stroke="#FF0000" stroke-width="4.6" stroke-linecap="round" fill="none"/>
<path d="M226 130h0m3 1h0m-21 5h0m8-2h0m4-2h0m5 4h0m2-1h0m1 1h0m8-1h0m-1 3h0m18 15h0m-30 11h0m-5 5h0m-8 11h0m-38 8h0m-15 11h0m274 9h0m-260 5h0m20 1h0m-23 4h0m-9 15h0m204-3h0m-194 10h0m5-2h0m21-2h0m220 3h0m-24 3h0m-212 12h0m18 3h0m205 6h0m-225 3h0m217 2h0m-222 2h0m20 4h0m10 17h0m133 0h0m4 0h0m3 3h0m5-5h0m4 2h0m-9 4h0m12 0h0m-28 10h0m10-2h0m15-3h0m4 2h0m10 1h0m1 2h0m8-1h0m-36 7h0m2-1h0m30 0h0m63 0h0m-107 5h0m8 1h0m30 0h0m1-1h0m9 1h0m-48 4h0m15 1h0m12 2h0m10-3h0m6 1h0m-31 8h0m20-1h0m-13 3h0m8 1h0m17 2h0m-42 6h0m5 0h0m13-2h0m0 7h0m1 2h0m3-3h0m-17 6h0m4-1h0m-15 14h0" stroke="#0000FF" stroke-width="4.6" stroke-linecap="round" fill="none"/>
<path d="M245 117h0m4-1h0m35 3h0m47-2h0m5-1h0m20 2h0m-130 2h0m49 4h0m5-4h0m0 1h0m53 2h0m3 0h0m4-2h0m8-1h0m-123 8h0m4 3h0m33 1h0m2 0h0m4-5h0m5 3h0m0-4h0m6 2h0m1 3h0m7-2h0m20-1h0m9-2h0m7 3h0m11-1h0m0 3h0m2-1h0m7-4h0m9 4h0m1-2h0m2 2h0m-136 7h0m0-2h0m3-2h0m4 4h0m1-5h0m3 1h0m1-1h0m27 4h0m4-1h0m0-3h0m11 3h0m0-1h0m4 3h0m29-1h0m1 1h0m18-5h0m6 2h0m0 2h0m18 0h0m0-3h0m23-1h0m-156 6h0m2 6h0m0-5h0m2-1h0m0 3h0m6-1h0m25 3h0m7-2h0m49 2h0m6-4h0m4 2h0m9-2h0m25 3h0m16-1h0m10 0h0m27 2h0m-179 1h0m27 2h0m3 4h0m2-1h0m7-1h0m3 0h0m2-1h0m1-1h0m15-1h0m21 3h0m0-3h0m1 0h0m4 3h0m5-3h0m3 3h0m6-2h0m5 0h0m7 0h0m3 2h0m9-1h0m10 1h0m-109 6h0m3-2h0m5 3h0m13-4h0m4 1h0m14 1h0m4 2h0m1 0h0m1-4h0m10 1h0m19 2h0m18-3h0m2 0h0m9-1h0m4 3h0m10-1h0m4 3h0m16-1h0m3 1h0m-198 4h0m64 1h0m12-2h0m6 2h0m7 1h0m10-5h0m4 2h0m11 0h0m4 1h0m8-1h0m5 3h0m0 1h0m12-1h0m2-5h0m2 3h0m3 1h0m5-1h0m11-3h0m3 1h0m2-1h0m7 3h0m1 1h0m1-4h0m2 0h0m17 5h0m1-5h0m3 1h0m-202 10h0m14-1h0m7 0h0m3-2h0m3 1h0m3 1h0m2 1h0m1-5h0m7 5h0m0-1h0m3 2h0m1-3h0m9 2h0m6-3h0m3-2h0m3 6h0m25-5h0m18 2h0m5 0h0m15-3h0m4 4h0m11 0h0m2 1h0m3-4h0m67 1h0m-217 9h0m4-1h0m0 2h0m8-5h0m4 1h0m6 1h0m4 1h0m0-1h0m2-3h0m21 1h0m38 0h0m13 2h0m3-2h0m17 1h0m11 1h0m3-2h0m1 3h0m0-1h0m3-2h0m20 5h0m5-1h0m3-2h0m5 1h0m6-3h0m2 1h0m43-1h0m-251 9h0m5-3h0m1 4h0m29-4h0m6 2h0m2 2h0m1-4h0m0 1h0m2 2h0m8 0h0m0-2h0m5 4h0m3-1h0m1-1h0m4-2h0m2 4h0m44-2h0m1 0h0m0 1h0m3-5h0m8 3h0m3-3h0m7 5h0m0-3h0m1 0h0m0 0h0m7-1h0m3 1h0m2 3h0m21 0h0m3-2h0m1 1h0m8-1h0m2 2h0m12-2h0m7 2h0m1-5h0m5 5h0m18-1h0m-226 7h0m1-5h0m4 5h0m1-3h0m2-1h0m0 3h0m2 2h0m1-5h0m3 1h0m0 2h0m25 1h0m3-2h0m9-3h0m5 2h0m10 0h0m4 2h0m4 2h0m2-1h0m8-1h0m0-1h0m0-3h0m12 4h0m1 0h0m2-2h0m15-2h0m0 2h0m14-2h0m7 2h0m0 0h0m1-2h0m1 1h0m0 1h0m3 2h0m2-4h0m6 0h0m1 1h0m4 4h0m0-5h0m4 6h0m12-5h0m4 4h0m1-1h0m5-1h0m23-3h0m7 5h0m26 0h0m-225 4h0m0-2h0m1-1h0m1 3h0m48-2h0m4 2h0m1-1h0m10 0h0m0 0h0m4 1h0m0 1h0m15 0h0m24 1h0m1 0h0m4-3h0m6 1h0m2-1h0m3 3h0m5-5h0m8 3h0m20-3h0m7 5h0m10 1h0m12-1h0m1-2h0m11-2h0m1 1h0m43 3h0m4-1h0m-259 7h0m46-3h0m2-2h0m3 3h0m1 0h0m1 1h0m1-1h0m7 1h0m4-2h0m1 3h0m0-3h0m19 2h0m5 0h0m0 0h0m6-4h0m0 5h0m1-2h0m1 2h0m14-1h0m4-1h0m2 0h0m2 2h0m5-2h0m9-2h0m2 2h0m1 0h0m3 1h0m0-1h0m1-3h0m2 6h0m3 0h0m19 0h0m3-1h0m3-1h0m1-4h0m7 4h0m0-1h0m6-3h0m11 5h0m8-5h0m0 5h0m3-1h0m5-4h0m1 2h0m6-2h0m0 1h0m2 1h0m2 0h0m19 2h0m44 0h0m2-3h0m-287 5h0m23 4h0m8 1h0m37 1h0m1-6h0m2 1h0m4 3h0m7 1h0m8-3h0m23 4h0m0-5h0m1 2h0m7-1h0m3 1h0m1-2h0m7 0h0m8 5h0m1-6h0m12 4h0m9-1h0m4 1h0m1-4h0m4 3h0m0-3h0m6 3h0m5 0h0m0 1h0m12-1h0m4 1h0m2-1h0m5 1h0m2 0h0m7 1h0m33 0h0m6-4h0m-231 8h0m6 0h0m0 1h0m1-4h0m2 1h0m0 0h0m1 1h0m3 3h0m44-3h0m3 0h0m1 2h0m0-2h0m1 2h0m3-4h0m9 0h0m1 0h0m11 5h0m1-2h0m10 2h0m10-1h0m1 1h0m2-2h0m3-3h0m3 4h0m3-1h0m0 0h0m3 1h0m4-3h0m2 4h0m1-2h0m0-3h0m8 4h0m0-2h0m8-2h0m0 6h0m12-4h0m11 3h0m1-3h0m8-2h0m2 4h0m1-3h0m4 0h0m14 0h0m3 0h0m6 4h0m7 0h0m3-1h0m1-4h0m7 0h0m-239 11h0m3-2h0m5 1h0m12 0h0m1-2h0m5 0h0m6-1h0m1 3h0m28-2h0m12 0h0m7 2h0m3 0h0m14 1h0m1 0h0m7-4h0m2 2h0m20 2h0m3-5h0m1 0h0m1 4h0m3-2h0m2 0h0m1 0h0m1 2h0m3-4h0m2 5h0m4-2h0m4-1h0m3 2h0m3 1h0m5-2h0m0-2h0m3 2h0m2-1h0m12 2h0m0-2h0m5 2h0m22-4h0m5 4h0m1-1h0m13 2h0m1-1h0m1-4h0m1 3h0m56-2h0m-252 9h0m28 1h0m0-1h0m8-4h0m0 2h0m2-1h0m1 1h0m1 0h0m2 0h0m17 1h0m2 0h0m4-2h0m0 2h0m7-2h0m0 2h0m1 0h0m4 0h0m5 1h0m9-4h0m6 4h0m1-2h0m1-2h0m13 3h0m0-2h0m1 1h0m5 1h0m9 2h0m2-3h0m1 0h0m14 0h0m5-1h0m1-1h0m3 5h0m3-4h0m17 0h0m11 2h0m-223 6h0m1 1h0m2-1h0m2 2h0m0-2h0m1 2h0m3-3h0m1 1h0m0-2h0m15 2h0m2 0h0m2-1h0m1 3h0m2 1h0m6-1h0m8 1h0m4-3h0m20 2h0m0-1h0m4-4h0m3 1h0m6 2h0m0 1h0m6 0h0m3-3h0m4 1h0m5 2h0m3-4h0m17 0h0m6 4h0m2-1h0m2 2h0m3-2h0m0-3h0m6 3h0m1 3h0m3-2h0m5 1h0m5-3h0m2 1h0m2 1h0m5-1h0m0-2h0m1 1h0m6 1h0m12-1h0m2 3h0m0-2h0m9 0h0m2 2h0m16-2h0m-226 8h0m3 0h0m4-1h0m6-3h0m1 2h0m0-1h0m7 0h0m6 0h0m1 3h0m5 0h0m8-4h0m2 3h0m3-3h0m2-1h0m5 2h0m14 3h0m8 1h0m21-4h0m6 0h0m2 3h0m2-5h0m0 2h0m1-1h0m5 4h0m7-1h0m3-2h0m2 1h0m0-2h0m1 0h0m1 0h0m1 3h0m1-1h0m1 1h0m1-3h0m2 3h0m1 1h0m2-1h0m13-4h0m12 1h0m2 5h0m5-4h0m1 2h0m1 0h0m13 0h0m25 0h0m1-1h0m18-2h0m18 3h0m2-3h0m38 4h0m-273 3h0m1 0h0m5 1h0m4 2h0m2-2h0m2-1h0m1 0h0m1 3h0m0-4h0m0 3h0m4-1h0m2 2h0m2-2h0m0-3h0m1 4h0m27-4h0m10 0h0m16 2h0m6-2h0m0 3h0m2 1h0m2 0h0m2 0h0m1 0h0m0-2h0m1-1h0m4 4h0m2-2h0m2-2h0m11 3h0m3 1h0m0-1h0m15-1h0m0 0h0m0-1h0m0-1h0m6 4h0m2-3h0m3-2h0m0 0h0m2 3h0m2-3h0m5 6h0m0-5h0m4 2h0m2-1h0m2-2h0m0 2h0m1 1h0m3 3h0m0-1h0m1-1h0m3-3h0m2 0h0m1 0h0m1 2h0m14-1h0m4 2h0m54-3h0m4 4h0m5-5h0m7 2h0m1 0h0m0 0h0m35-2h0m1 6h0m3-1h0m-296 3h0m0 0h0m3-1h0m3 4h0m2-5h0m0 4h0m2-3h0m5 1h0m13 1h0m0 1h0m4 0h0m0-4h0m17 1h0m9 0h0m6-1h0m0 1h0m1 2h0m11 2h0m10-3h0m1-2h0m1 2h0m2 0h0m7 0h0m2 3h0m2-5h0m3 3h0m3-3h0m3 1h0m14 1h0m0-2h0m2 4h0m2 0h0m3-2h0m1-1h0m1 1h0m0 4h0m2-6h0m2 5h0m6-4h0m0 4h0m4 0h0m2-4h0m0 4h0m3-2h0m1-1h0m3 2h0m1-4h0m1 2h0m4 4h0m1-5h0m0 1h0m10 2h0m19-3h0m3 4h0m42-1h0m13 1h0m-261 2h0m4 2h0m3-1h0m4 0h0m2 3h0m0-2h0m5-2h0m5 3h0m3-1h0m0 0h0m2 2h0m7-4h0m9-1h0m27 4h0m1-1h0m0 0h0m15 1h0m2-4h0m2 2h0m2 0h0m1 0h0m3 3h0m1 1h0m5-5h0m1 0h0m4 3h0m0 0h0m2-1h0m2-3h0m4 4h0m4-1h0m3 2h0m3-1h0m7 1h0m1-4h0m9-1h0m0 2h0m5 0h0m1 0h0m7 1h0m3-2h0m5 5h0m1 0h0m0-2h0m0 0h0m2-3h0m2 0h0m4-1h0m1 1h0m2 4h0m3-1h0m3-4h0m11 1h0m4 1h0m0 2h0m0 0h0m1-1h0m3-3h0m5 2h0m2 1h0m2 0h0m54 1h0m1-4h0m0 0h0m10 3h0m17-2h0m-271 7h0m0-1h0m3 2h0m2 1h0m4 0h0m5 0h0m4 1h0m3-1h0m7-2h0m2 4h0m2-4h0m17 1h0m17 1h0m3-3h0m1 0h0m18 3h0m7-4h0m4 3h0m1-3h0m1 4h0m1-2h0m0 4h0m3-1h0m2-4h0m2 5h0m1-1h0m5-2h0m0 1h0m20 2h0m2-3h0m5-1h0m4 1h0m2 0h0m20-2h0m0-1h0m2 3h0m4-1h0m4 0h0m9 0h0m1 1h0m35 1h0m1-2h0m8 1h0m24-2h0m15-1h0m-271 11h0m1-3h0m1 2h0m3 2h0m1-1h0m5-4h0m2-1h0m6 1h0m4 1h0m4 1h0m2-3h0m2 4h0m0-1h0m4-3h0m1 5h0m26-5h0m5 1h0m6 1h0m16 0h0m3-1h0m3 0h0m15-1h0m1 1h0m12 2h0m1-1h0m12 2h0m0-1h0m2-1h0m1 4h0m2-1h0m4-4h0m11 3h0m3 2h0m3-1h0m1-2h0m2 1h0m7-4h0m6 2h0m3-1h0m2 3h0m2-1h0m2-2h0m2 2h0m31-1h0m7 1h0m0-1h0m36 3h0m-267 6h0m1 0h0m0-4h0m1 0h0m4 2h0m5-2h0m14 5h0m3-4h0m3 2h0m7-3h0m1 4h0m3-2h0m13-1h0m4 1h0m17 1h0m23 1h0m15 1h0m31-4h0m4-1h0m1 3h0m0-3h0m2 1h0m0-1h0m1 2h0m0 1h0m1 0h0m4-1h0m4 2h0m3-1h0m10-3h0m5 0h0m11-1h0m76 4h0m6-1h0m4 0h0m-275 6h0m4-2h0m22 2h0m4-2h0m3 2h0m1-1h0m1 4h0m4-5h0m2 1h0m1 3h0m3-3h0m1 1h0m4-1h0m4 2h0m1-2h0m0 2h0m0 1h0m2 1h0m3-2h0m4-2h0m8-2h0m2 3h0m4 0h0m1 1h0m3 0h0m7 1h0m6-4h0m2 1h0m2 2h0m4-3h0m8 1h0m1-2h0m3 5h0m2-3h0m1 3h0m4-4h0m4 2h0m2 0h0m2 1h0m5 0h0m19-2h0m0-1h0m18 5h0m0-4h0m44 2h0m29-4h0m0 1h0m15-1h0m-257 9h0m2-1h0m5 2h0m1-2h0m4 3h0m6-1h0m4 0h0m1 2h0m2-1h0m2 1h0m5-1h0m4-3h0m8 4h0m0-1h0m1-2h0m5-2h0m3 2h0m0-1h0m1 0h0m6 2h0m14 1h0m1 0h0m1-5h0m5 1h0m0 3h0m7 0h0m0-2h0m1 1h0m2-1h0m2 3h0m1 1h0m7-3h0m1 2h0m2-2h0m0 0h0m7 2h0m2-2h0m0-1h0m14 3h0m1-2h0m1 1h0m4 1h0m0 0h0m27 0h0m56-2h0m16 3h0m3-3h0m7 2h0m19-2h0m10 1h0m-268 4h0m8-1h0m2 2h0m5 1h0m7-2h0m2 1h0m2-1h0m7 4h0m9-1h0m12-4h0m2 3h0m3 1h0m1 0h0m1-1h0m3-2h0m2 0h0m19 0h0m18 0h0m1 3h0m11-1h0m4-4h0m2 4h0m0-1h0m1-1h0m5 2h0m2-1h0m3-3h0m5 3h0m2 0h0m3 3h0m40-1h0m43-1h0m10 0h0m3 2h0m39-4h0m-271 5h0m3 4h0m1-2h0m9 0h0m3-1h0m0 2h0m4-2h0m3-1h0m2 0h0m1 2h0m3 3h0m1-3h0m2 1h0m1 1h0m8 0h0m8-3h0m5 2h0m4-2h0m10 2h0m2 0h0m1 1h0m1-2h0m0-3h0m3 1h0m0 3h0m26 0h0m7 1h0m9 0h0m10 0h0m0 0h0m1-4h0m3 2h0m2-2h0m1 1h0m12 2h0m2-2h0m2-2h0m1 6h0m6-1h0m6-1h0m5-2h0m8-1h0m41 2h0m15 2h0m22-2h0m-255 4h0m3 1h0m7 2h0m4 0h0m0-3h0m1-1h0m0 0h0m1 5h0m1-2h0m0-3h0m3 2h0m4 1h0m16-1h0m6-1h0m1 1h0m1 0h0m6 2h0m3-4h0m6 4h0m3 0h0m6 1h0m1-5h0m3 6h0m1-5h0m0 2h0m1 2h0m8 0h0m7-4h0m2 0h0m1 1h0m10 1h0m3-2h0m1 1h0m0 1h0m0-2h0m2-1h0m4 2h0m12-2h0m6 3h0m17 1h0m1-1h0m5-2h0m10 3h0m2 0h0m2-1h0m2 1h0m6 0h0m4-1h0m11 1h0m28-4h0m31 5h0m5-4h0m0-1h0m-241 8h0m34 0h0m2 3h0m1-2h0m2 2h0m5 1h0m6-2h0m2 1h0m1-1h0m1-1h0m4 2h0m2 0h0m0 0h0m6 0h0m4-5h0m1 4h0m1 1h0m0-4h0m1-1h0m1 1h0m3 1h0m3 1h0m6 1h0m6-3h0m1-1h0m0 5h0m12-5h0m5 5h0m24 0h0m0 0h0m1 0h0m1 0h0m13-2h0m9-3h0m1 5h0m1-4h0m0 2h0m2 2h0m6 0h0m65-1h0m9-3h0m-231 8h0m1 1h0m20 0h0m2 1h0m7-2h0m0-3h0m1 2h0m4-1h0m0 3h0m2-1h0m12-2h0m0 1h0m7 2h0m1 0h0m2-1h0m0-1h0m0 3h0m2-3h0m4 0h0m0 1h0m7 2h0m23-4h0m11 3h0m1-2h0m2 2h0m12 0h0m1 0h0m2-1h0m0-2h0m1 4h0m11-1h0m1-2h0m9 0h0m7-1h0m0 0h0m0 5h0m2-1h0m0-5h0m3 1h0m1 3h0m1-1h0m1-2h0m0-1h0m29 2h0m29-2h0m5 0h0m7 2h0m-234 6h0m17 2h0m5-2h0m0 3h0m1-4h0m3 5h0m5-5h0m3 0h0m5 0h0m5 0h0m6 3h0m9-2h0m6 4h0m2-6h0m1 4h0m11-2h0m1 0h0m6 1h0m2 0h0m2-1h0m9-2h0m24 4h0m7-3h0m1 1h0m2-1h0m2 0h0m1-1h0m19 4h0m7 2h0m61-5h0m-208 9h0m4-3h0m5 1h0m5-1h0m1 3h0m5-1h0m1 1h0m7-1h0m6-2h0m2 0h0m1 1h0m0-1h0m17 0h0m16 3h0m1-4h0m3 0h0m22 5h0m1-2h0m15 2h0m5 0h0m9-4h0m8 4h0m4-4h0m2 3h0m3-1h0m8-2h0m5 1h0m-153 6h0m16 3h0m6-2h0m0 0h0m0-2h0m5 5h0m2-3h0m3 1h0m0 1h0m0-5h0m1 5h0m3-5h0m5 5h0m1-3h0m4 0h0m1 2h0m2-3h0m7 3h0m4 1h0m13-1h0m8 1h0m0 0h0m1-3h0m1-1h0m7 3h0m3 2h0m1-5h0m14 2h0m7 2h0m19-2h0m1 2h0m1-3h0m0 3h0m1-5h0m2 1h0m-150 7h0m14 3h0m9-3h0m6 0h0m0 3h0m7 0h0m0-5h0m2 3h0m1 1h0m1 0h0m1 0h0m4-2h0m15 3h0m1-1h0m1-2h0m1 2h0m1 0h0m7 1h0m4-4h0m3 2h0m0 1h0m4 1h0m5-1h0m7 0h0m1-2h0m21 3h0m1 0h0m2-2h0m0-3h0m1 4h0m1 0h0m9-1h0m2 1h0m2-2h0m3 3h0m2-4h0m3 5h0m2-5h0m2 3h0m-140 3h0m52 0h0m3 0h0m1 1h0m5 0h0m2 2h0m1-3h0m12 2h0m1-3h0m8 3h0m6 0h0m1 1h0m1-3h0m2 1h0m1 3h0m14-3h0m2-1h0m6 0h0m2 3h0m0-1h0m3 0h0m4-1h0m1-2h0m-79 9h0m5-1h0m1-1h0m9 0h0m13-1h0m10 0h0m4 4h0m0-2h0m3 1h0m17 3h0m1-6h0m4 5h0m1-3h0m2 3h0m2-2h0m1 2h0m0-4h0m1 5h0m1-3h0m6-3h0m1 2h0m2 1h0m26-1h0m1 0h0m1 2h0m0-2h0m1 3h0m-118 5h0m4-1h0m2-1h0m16-2h0m3 2h0m3-1h0m3 3h0m33-4h0m1 2h0m1 1h0m1-1h0m9 2h0m1-2h0m38-2h0m3 0h0m-121 7h0m0 0h0m0 2h0m1 2h0m4 0h0m6-3h0m-10 4h0m59 1h0" stroke="#AAAAFF" stroke-width="4.6" stroke-linecap="round" fill="none"/>
<path d="M336 114h0m-50 3h0m6 3h0m34-3h0m3 3h0m4-5h0m24 1h0m0 2h0m-93 3h0m3 4h0m9-3h0m12 2h0m2-4h0m8 2h0m2 2h0m20-3h0m0 3h0m6-3h0m6 1h0m0 2h0m21-2h0m-90 7h0m3 0h0m6 3h0m6-4h0m1 1h0m6-1h0m3 2h0m3-1h0m3-3h0m5 2h0m15 3h0m9-2h0m6-3h0m1 5h0m7 1h0m1-6h0m1 1h0m16 2h0m3 2h0m4 1h0m-105 6h0m0-2h0m8-3h0m5 1h0m6 3h0m0 1h0m0-4h0m2 0h0m10 1h0m2-1h0m16 3h0m4-4h0m1 1h0m7 3h0m6-3h0m0-1h0m11 4h0m11-2h0m3 2h0m1 0h0m0 1h0m0-1h0m1 1h0m3-5h0m5 2h0m0 2h0m19-2h0m1 0h0m6 2h0m-121 1h0m2 4h0m11-1h0m15-2h0m15-1h0m1 3h0m4 1h0m2 2h0m6-1h0m5-1h0m15-1h0m9-2h0m16 4h0m34 0h0m4-2h0m-147 8h0m10-4h0m31 1h0m0 3h0m6 0h0m6 1h0m4 0h0m4-3h0m3 3h0m1 0h0m1-1h0m1 0h0m1-5h0m1 6h0m2-1h0m8 1h0m4-5h0m2 0h0m4 5h0m5-5h0m32 1h0m6-1h0m4 0h0m5 1h0m1-2h0m8 1h0m-149 9h0m9-3h0m1 4h0m1 0h0m2-4h0m3 4h0m2-1h0m0-1h0m2-2h0m1 3h0m2 1h0m12-1h0m2 1h0m13-5h0m6 6h0m1-6h0m2 4h0m7 1h0m5-2h0m6-3h0m3 3h0m3-1h0m1 0h0m4 0h0m7 2h0m5 1h0m10 0h0m25-3h0m1 0h0m1 3h0m5 0h0m23 0h0m-229 3h0m46 1h0m13 0h0m17-1h0m1 2h0m1-1h0m1-3h0m0 3h0m2-1h0m4 2h0m2 1h0m4-1h0m10 1h0m0-1h0m9-1h0m4 0h0m3 1h0m6-2h0m7 0h0m1 1h0m3-2h0m2 2h0m3-2h0m9 0h0m1-1h0m2 6h0m2-6h0m12 4h0m15 0h0m1-2h0m1 0h0m1-2h0m1 2h0m4-1h0m15 4h0m7-3h0m19 1h0m-231 8h0m22-1h0m4 1h0m2 0h0m4-2h0m4-1h0m3-2h0m17 1h0m3 4h0m4-5h0m3 4h0m25 0h0m2-1h0m4-2h0m16 1h0m1 3h0m0-4h0m5 0h0m3 2h0m2 0h0m7 1h0m3-2h0m36-2h0m7 3h0m24-2h0m2 4h0m2-2h0m11 0h0m7 1h0m5-2h0m-228 7h0m2 3h0m1-1h0m3-5h0m14 0h0m1 2h0m3-1h0m8-1h0m6 5h0m3-2h0m15 1h0m4-4h0m2 2h0m7 2h0m13 2h0m3 0h0m11-4h0m2 1h0m3-3h0m3 3h0m4 2h0m3-1h0m3 0h0m4-3h0m20-1h0m5 5h0m1 0h0m3-3h0m7 1h0m3 2h0m13-5h0m3 3h0m20 0h0m21-1h0m7 1h0m6 0h0m-250 4h0m29 3h0m3 1h0m9-4h0m3 3h0m11-2h0m3-2h0m2 2h0m0 1h0m53-1h0m1 2h0m6 2h0m6-4h0m10 3h0m9-3h0m8 1h0m4-1h0m1-2h0m8 3h0m4-1h0m1-1h0m1 1h0m3 3h0m4-1h0m1-3h0m15 2h0m13-2h0m7 0h0m4 2h0m2 0h0m4-3h0m15 5h0m2-5h0m-241 7h0m2 3h0m0-3h0m29-1h0m2 4h0m9-3h0m1 3h0m1-1h0m8 0h0m4-3h0m11 4h0m5-2h0m20 0h0m4 2h0m12-1h0m6 2h0m14-3h0m3-1h0m6 0h0m12 4h0m10-3h0m3 0h0m0-2h0m9 3h0m1 0h0m2 2h0m8-3h0m0 3h0m11-1h0m4-1h0m16-2h0m4-1h0m1 2h0m1-1h0m0 1h0m10-1h0m-231 7h0m35 0h0m2 2h0m0-3h0m1 1h0m19-2h0m9 5h0m8 0h0m2-3h0m1-1h0m3 3h0m1-3h0m26 0h0m5 2h0m4 1h0m13 2h0m1-2h0m4 1h0m12-5h0m23 0h0m1 1h0m3 2h0m0-2h0m10 5h0m2-3h0m7-3h0m2 0h0m1 0h0m6 5h0m4-2h0m4 2h0m9-4h0m0 2h0m12 0h0m21 2h0m1-2h0m2 2h0m1-5h0m3 3h0m-219 5h0m2 1h0m1 0h0m8 0h0m1 0h0m12 1h0m2-4h0m13 3h0m2 2h0m0-4h0m0-1h0m2 2h0m5 2h0m0 1h0m1-4h0m3 1h0m13-1h0m2 4h0m6-1h0m9-3h0m1 1h0m6 0h0m1-1h0m6 4h0m2-4h0m4 2h0m4 2h0m11-1h0m6 0h0m4-4h0m1 5h0m2-3h0m2-2h0m1 2h0m6 0h0m2-1h0m1 2h0m3 1h0m2-1h0m1-1h0m2 0h0m5 4h0m0-2h0m3 0h0m1-1h0m4 0h0m2 2h0m5-2h0m7-1h0m10 1h0m20 2h0m1-5h0m2 1h0m19 1h0m2 0h0m-211 6h0m4 3h0m16-5h0m11 3h0m10 1h0m2-2h0m7 0h0m4 0h0m2 2h0m8-2h0m5 2h0m1-1h0m5 0h0m0-1h0m10-2h0m11 4h0m6 0h0m2 1h0m7-4h0m5 3h0m0-2h0m4 2h0m5 0h0m5 1h0m1-5h0m10 5h0m0-1h0m0-3h0m14 2h0m13 1h0m3 0h0m1 0h0m6-2h0m3 3h0m40-2h0m1-3h0m-214 10h0m1-1h0m11 0h0m8-2h0m2 2h0m13-2h0m0-1h0m3 0h0m2 5h0m4-1h0m6-1h0m5 1h0m10 0h0m3-1h0m3 0h0m5 1h0m8 2h0m1-4h0m5 0h0m0 3h0m4-1h0m6 1h0m6-2h0m1 3h0m9-3h0m6-1h0m1 3h0m5-1h0m2-4h0m1 2h0m4 2h0m15-3h0m1 3h0m0-2h0m36 3h0m11-1h0m16-2h0m1-2h0m3 1h0m4 3h0m-256 3h0m1 2h0m1 2h0m38-5h0m0 3h0m3-1h0m8 1h0m14-1h0m1-2h0m6 5h0m1-1h0m1 1h0m1-5h0m7 6h0m8-3h0m3-1h0m2-1h0m8 2h0m14-1h0m0 1h0m1 3h0m4-1h0m14-2h0m3-1h0m4 3h0m3-1h0m0-3h0m7-1h0m6 1h0m1 3h0m0-4h0m15 4h0m4-2h0m10-2h0m2 4h0m3-2h0m0 3h0m37-3h0m0-2h0m-255 7h0m0-1h0m52 3h0m3 0h0m9 0h0m4-3h0m4 5h0m10-2h0m10-3h0m5 6h0m0-1h0m13-3h0m6 4h0m5-6h0m16 6h0m1-1h0m0-5h0m5 0h0m9 5h0m4 1h0m6-2h0m9 0h0m3-3h0m0 0h0m2 0h0m0 1h0m8 2h0m7 1h0m6 0h0m11-3h0m5 3h0m32-3h0m1 0h0m0 1h0m3 2h0m-276 3h0m51-2h0m30 2h0m6 2h0m3-2h0m5 3h0m0-4h0m5 4h0m4 0h0m2-5h0m4 1h0m1-1h0m8 3h0m5-2h0m0 3h0m6-4h0m4 2h0m3 0h0m9 2h0m4-1h0m8 0h0m11 0h0m1-2h0m0-1h0m1 2h0m3 1h0m3-1h0m9 1h0m1 1h0m11-3h0m2 4h0m2-1h0m19-4h0m3 4h0m11-4h0m0 0h0m0 3h0m12-1h0m2 1h0m0 1h0m4-1h0m0 3h0m0-1h0m10-1h0m49-2h0m-264 10h0m16-2h0m42 1h0m9-3h0m18 1h0m16-1h0m8 0h0m2 2h0m0 2h0m8-6h0m2 4h0m5-1h0m11-1h0m20-2h0m2 4h0m1-2h0m1-2h0m1 5h0m2-2h0m11-3h0m23 5h0m1 1h0m6-2h0m0-3h0m2 4h0m1-2h0m1-1h0m6 2h0m-266 3h0m27 4h0m2 0h0m66-1h0m3 1h0m0-1h0m6 1h0m2-1h0m14 0h0m13 2h0m1-2h0m0-3h0m1 3h0m1-3h0m7 3h0m11-1h0m2 2h0m1 0h0m0 0h0m2-2h0m1 1h0m1-2h0m2 0h0m2 0h0m5-2h0m2 5h0m3-2h0m2 0h0m3 0h0m3 1h0m1-2h0m6 3h0m3-1h0m4-2h0m1 3h0m3-5h0m14 2h0m1 0h0m6 2h0m23-4h0m2 0h0m10 0h0m11 6h0m22-4h0m15 0h0m-304 7h0m1-3h0m4 5h0m2-3h0m26 0h0m1 0h0m12-2h0m29 1h0m2 4h0m14-1h0m2-2h0m0 0h0m8-1h0m5 0h0m2-1h0m1 2h0m11 0h0m16 3h0m6 0h0m2 0h0m1 0h0m1-1h0m18 1h0m20-1h0m3-4h0m6 4h0m4 0h0m3 0h0m1-2h0m5-2h0m12 5h0m3-1h0m1-3h0m3 0h0m0 2h0m20-2h0m3 3h0m1 1h0m1-2h0m3-1h0m6 1h0m13 3h0m2-1h0m2 0h0m9-5h0m-273 11h0m22-2h0m37-2h0m2 3h0m18-1h0m0 3h0m20-6h0m8 2h0m6 2h0m1-1h0m7 1h0m4-4h0m2 5h0m1-1h0m2 1h0m2-3h0m6 2h0m4-1h0m0-1h0m9-2h0m2 0h0m4 2h0m9-1h0m2 1h0m3 2h0m6-1h0m4-2h0m5 4h0m0-3h0m1 2h0m0 1h0m4-2h0m1-1h0m2 2h0m2 1h0m36-4h0m0 4h0m1 0h0m5-3h0m0 1h0m3-1h0m4-1h0m6 0h0m0 3h0m2-2h0m7 3h0m12-1h0m4-2h0m0 1h0m2 0h0m0-3h0m1 3h0m-280 4h0m59 1h0m20 0h0m2-2h0m0 2h0m4 0h0m0-2h0m5 4h0m0 1h0m2-1h0m6 2h0m7-5h0m4 2h0m5-1h0m0 4h0m3-3h0m5 3h0m4-2h0m4 0h0m5 1h0m0-2h0m20 2h0m0-1h0m3 0h0m2 0h0m1-1h0m4 2h0m9-3h0m3 3h0m2 1h0m4-4h0m3 0h0m6 0h0m7 3h0m0-4h0m28 0h0m2 3h0m6-2h0m9 2h0m8 0h0m9-3h0m15 0h0m4 0h0m-274 5h0m21 3h0m37 2h0m37-4h0m48 2h0m6-1h0m11-1h0m3 3h0m3 0h0m2-3h0m0 1h0m3 0h0m0 1h0m12-2h0m7 2h0m10 0h0m17-1h0m3-1h0m21 2h0m27 3h0m-241 6h0m15-4h0m23 0h0m42 2h0m1 1h0m38-4h0m1 1h0m0 1h0m8 0h0m2-3h0m1 4h0m4-3h0m2 3h0m2-2h0m9 2h0m1-2h0m2 4h0m6-6h0m1 1h0m3 0h0m0-1h0m10 1h0m18-1h0m2 2h0m16-2h0m14 1h0m4 4h0m13-2h0m4-1h0m3 0h0m-229 5h0m17 4h0m24-3h0m1 3h0m5-4h0m27 3h0m4-3h0m0 3h0m14-2h0m4 2h0m69-1h0m3-1h0m4-1h0m6 3h0m0-2h0m5 2h0m1-4h0m17 1h0m4-1h0m1 5h0m3-4h0m4 5h0m8-5h0m5 2h0m2 2h0m1 1h0m3-6h0m2 5h0m2-1h0m-251 5h0m16-1h0m1 1h0m1-2h0m1 1h0m4 3h0m1-4h0m2 3h0m0 0h0m8-2h0m3 4h0m20-1h0m4-2h0m0-2h0m5 2h0m2 1h0m11-2h0m5 0h0m8-1h0m11 3h0m2-1h0m14 2h0m62-1h0m5-3h0m7-1h0m1 5h0m0-1h0m7 1h0m0-3h0m2-1h0m5 4h0m4-4h0m4 0h0m32 2h0m0 0h0m-234 3h0m7 0h0m2 2h0m18 3h0m1-3h0m2-1h0m1 3h0m1-3h0m27 2h0m32 1h0m3-1h0m1 3h0m3-2h0m6 1h0m0-2h0m3 0h0m58-3h0m10 0h0m0 2h0m1-1h0m1 4h0m2-1h0m6 1h0m2 0h0m2-1h0m6-1h0m14 2h0m1-3h0m17 4h0m4-5h0m0 4h0m0-3h0m10 2h0m2-3h0m-267 10h0m21-2h0m5-2h0m13 2h0m5 0h0m25 0h0m16-3h0m8 2h0m0 3h0m4-1h0m3 2h0m7-6h0m6 2h0m0 1h0m5-3h0m1 3h0m3 0h0m2-2h0m4 4h0m83-4h0m14 2h0m2 1h0m26-1h0m10-1h0m6-2h0m-259 9h0m20-2h0m9 2h0m9-2h0m10 4h0m8-4h0m35 5h0m2-2h0m3-4h0m20 3h0m50 0h0m5 3h0m33-2h0m6-4h0m13 4h0m5 0h0m7 2h0m11-6h0m11 2h0m-225 6h0m18-1h0m14 5h0m8-2h0m6-3h0m6 1h0m23 3h0m38-3h0m17 1h0m48-2h0m7-1h0m6 2h0m5 1h0m1 1h0m1-4h0m1 3h0m3-1h0m1 2h0m2 1h0m1-4h0m3 5h0m-207 5h0m7-4h0m12 3h0m5-1h0m5 2h0m12-2h0m4 1h0m27-1h0m0 3h0m3-3h0m3-1h0m23 0h0m10 2h0m80-2h0m4-1h0m8 0h0m8 0h0m-230 9h0m12-2h0m4 2h0m1-3h0m8 3h0m3-3h0m1 2h0m8-3h0m2 1h0m2 0h0m18 2h0m1 3h0m0-1h0m15-2h0m15 1h0m32-2h0m9 2h0m36 1h0m-154 4h0m19-3h0m0 5h0m20 0h0m3-1h0m10-3h0m127 0h0m-156 8h0m0 3h0m2-2h0m3-2h0m54-2h0m2 4h0m-89 7h0m20-4h0m2 1h0m5 0h0m13-1h0m19-1h0m5 1h0m9-1h0m2 3h0m2-2h0m15 1h0m42 4h0m-134 2h0m7 1h0m30-2h0m15 1h0m28 2h0m42 0h0m-82 5h0m17 1h0m22-2h0m3 1h0m5-2h0m1 0h0m6 3h0m5 1h0m23 0h0m40-4h0m-123 7h0m3 2h0m10 1h0m19-4h0m3 3h0m6 0h0m0 0h0m2-3h0m-32 7h0m-4 6h0" stroke="#FFAAAA" stroke-width="4.6" stroke-linecap="round" fill="none"/>
<path d="M282 119h0m55-3h0m8-2h0m2 1h0m2 1h0m-29 9h0m22 0h0m10-4h0m-90 10h0m1-3h0m15 2h0m9 0h0m12-1h0m7 2h0m11-1h0m4 0h0m49 1h0m0-1h0m-109 6h0m30-1h0m14 1h0m5-4h0m24 1h0m3 3h0m7-4h0m14 2h0m15 2h0m6 0h0m6 1h0m-108 3h0m43 0h0m21 0h0m9 1h0m1 0h0m2 2h0m12-1h0m4 1h0m3-1h0m3 1h0m16 0h0m1-4h0m1 2h0m4 1h0m4 1h0m-113 4h0m17-1h0m9 2h0m2-3h0m4 2h0m7 1h0m2 1h0m3-5h0m19 0h0m7 4h0m5-4h0m13 3h0m4-1h0m1-1h0m3 4h0m5 1h0m15-5h0m4 3h0m-154 5h0m13-1h0m6 0h0m15-2h0m28 1h0m3 3h0m0 0h0m1-2h0m0 3h0m11-4h0m9 0h0m2 0h0m2 1h0m8 4h0m2-1h0m8 0h0m11-1h0m10-1h0m5-2h0m3 1h0m3 2h0m1 0h0m1 1h0m0-3h0m1-1h0m1 3h0m3-2h0m15-1h0m-173 7h0m20-1h0m8 0h0m1 4h0m6-5h0m5 3h0m29 3h0m1-2h0m1 0h0m1 1h0m6-1h0m13 1h0m3-3h0m20 0h0m9-1h0m2 2h0m2 1h0m2-3h0m3 4h0m6-5h0m5 2h0m6-1h0m0 3h0m8-2h0m22-1h0m-134 6h0m0 2h0m27-2h0m2 4h0m5-4h0m33-1h0m39 4h0m4 1h0m8-1h0m3-1h0m-209 7h0m27-3h0m82 1h0m12 3h0m3-4h0m6 5h0m8-5h0m1 4h0m21-2h0m9-2h0m5 1h0m1 1h0m18-3h0m13 2h0m3 2h0m11-1h0m1-2h0m1 1h0m-141 4h0m30 2h0m10 2h0m8-3h0m0 1h0m0 3h0m10-4h0m2 0h0m0-1h0m38 1h0m8 1h0m0 4h0m5-5h0m0 0h0m6 2h0m3-3h0m5 2h0m11-2h0m-226 8h0m115 1h0m28 2h0m17-3h0m2 4h0m4-4h0m3-1h0m1 1h0m21 3h0m10-3h0m1 3h0m0-4h0m5-1h0m0 4h0m21 2h0m4-3h0m8 2h0m1-2h0m-134 8h0m0-4h0m48 3h0m14-3h0m9-1h0m0 4h0m5-4h0m12 1h0m7 4h0m0-2h0m17 2h0m0-1h0m1 2h0m10-2h0m1 0h0m14 2h0m-179 3h0m74 0h0m2-1h0m10 0h0m18-1h0m10 4h0m5-1h0m0-1h0m2-1h0m1 3h0m12-1h0m3-1h0m11-2h0m10 0h0m0 0h0m1 4h0m19-5h0m1 2h0m2 2h0m3 1h0m-167 2h0m16 2h0m35-2h0m16 0h0m36 3h0m1-2h0m4 2h0m1 0h0m3 1h0m2-1h0m3-3h0m4 0h0m9 3h0m5-2h0m5-2h0m33 1h0m2 1h0m-160 8h0m13-1h0m28 3h0m0-4h0m18-1h0m4 0h0m30-1h0m10 1h0m0 1h0m38 1h0m1-1h0m2 3h0m20 0h0m2 0h0m3 0h0m-215 3h0m13-2h0m25 5h0m45-3h0m2 1h0m21 1h0m27-3h0m9-1h0m6 2h0m3 2h0m29-1h0m2-2h0m7 1h0m24 3h0m-221 6h0m43 0h0m53 0h0m14-3h0m11 3h0m7 0h0m1 0h0m1-2h0m10 0h0m2 1h0m6-1h0m1 0h0m4 3h0m2-1h0m36 0h0m1-1h0m-188 3h0m57 2h0m32-3h0m39 4h0m2-1h0m2 2h0m4-1h0m4-2h0m1-1h0m9 2h0m4 1h0m3-1h0m7 0h0m3 0h0m11 1h0m-117 4h0m23-1h0m24-1h0m21 3h0m6 1h0m0-3h0m24 1h0m0-1h0m7 3h0m0-1h0m1-1h0m3 1h0m3-2h0m5 4h0m1-2h0m4-3h0m28 4h0m-207 4h0m15 3h0m11-5h0m66 5h0m3-3h0m4 0h0m1 3h0m19-2h0m2-3h0m2 2h0m0 2h0m0-3h0m26 1h0m5 0h0m3 2h0m1-2h0m4 1h0m0 2h0m4-4h0m1 1h0m13 0h0m4 2h0m0-1h0m1-2h0m22 1h0m1 2h0m0 1h0m8-4h0m-211 6h0m14 3h0m19-3h0m47-1h0m4 1h0m1 4h0m5 1h0m12-5h0m15 4h0m7-4h0m14 3h0m9 2h0m0-1h0m2-1h0m4 0h0m0-3h0m0 1h0m7 2h0m4 0h0m1-3h0m1 2h0m1 3h0m3 0h0m3-3h0m2-3h0m-156 10h0m33-1h0m29-1h0m16-2h0m9 2h0m3 2h0m3-3h0m1 2h0m0 3h0m0-1h0m1-4h0m4 4h0m20-4h0m0 1h0m4-1h0m1 0h0m1 3h0m2-2h0m0 0h0m1 1h0m0 2h0m1 0h0m1-3h0m2 2h0m2-4h0m0 4h0m9 1h0m2-3h0m2 0h0m3 2h0m2-1h0m11-1h0m6 1h0m1 1h0m1-3h0m2 4h0m-173 4h0m14-1h0m30 0h0m12-2h0m7 5h0m12 0h0m3 0h0m2-4h0m13 2h0m2-2h0m5 1h0m18 1h0m3-1h0m0-1h0m35 1h0m10 0h0m2 1h0m2 0h0m3 1h0m-126 4h0m16-1h0m21 2h0m9-1h0m3 0h0m1 3h0m1-4h0m18-1h0m0 6h0m4-6h0m0 0h0m2 5h0m0-3h0m25 3h0m2-1h0m10-1h0m4-2h0m13 3h0m-104 7h0m4-5h0m33 3h0m2 2h0m10-1h0m1 0h0m2-3h0m2 4h0m7-1h0m22-1h0m4 1h0m4-2h0m10 3h0m-68 6h0m2-4h0m2 5h0m2-5h0m7 2h0m5-1h0m10-2h0m3 2h0m8-2h0m3 0h0m0 4h0m11-3h0m4 1h0m1 0h0m2-1h0m1 5h0m4-6h0m3 1h0m-126 9h0m54-3h0m1 5h0m6-3h0m13 2h0m11-3h0m2 0h0m6 2h0m0-1h0m2-1h0m1 2h0m0-3h0m0 4h0m5-2h0m0 0h0m1-2h0m8 3h0m3-1h0m0 0h0m5-2h0m10 5h0m5-5h0m-121 7h0m53 1h0m1-2h0m1 0h0m1 5h0m1-5h0m5 3h0m3 1h0m4-2h0m2 2h0m1-2h0m3 0h0m1 3h0m1-2h0m0 0h0m0 0h0m4-3h0m1 3h0m0-1h0m3-1h0m1 3h0m1-1h0m17 1h0m5-1h0m1-3h0m2 2h0m4-1h0m2-1h0m3 2h0m-214 5h0m61-1h0m99-1h0m5 0h0m1 5h0m4 1h0m5-1h0m2-4h0m6-1h0m16 5h0m7 0h0m-141 3h0m90 2h0m4 0h0m1-2h0m4-1h0m0 2h0m3 1h0m1-4h0m1 4h0m3 1h0m4-3h0m1 3h0m7-1h0m8-2h0m5 3h0m4-1h0m5-1h0m3 2h0m1-5h0m0 5h0m2-4h0m3 2h0m1 1h0m-216 2h0m6 0h0m145 5h0m1-2h0m1 0h0m42-2h0m3 0h0m8 2h0m0 2h0m2-1h0m1-2h0m-54 5h0m2 4h0m3-4h0m24 1h0m1 0h0m3-1h0m2-1h0m2 2h0m3-2h0m-35 8h0m0-2h0m2 4h0m0-3h0m0 0h0m34 0h0m1 0h0m-34 7h0m-101 14h0" stroke="#FF0000" stroke-width="4.6" stroke-linecap="round" fill="none"/>
<path d="M239 119h0m8-4h0m-30 21h0m8 0h0m2 1h0m7-3h0m18 10h0m-76 42h0m71 11h0m5 1h0m-85 15h0m198 10h0m-206 10h0m39 0h0m204-4h0m10 1h0m-46 8h0m41 1h0m-233 1h0m4 11h0m184 0h0m-187 1h0m28 5h0m-30 3h0m23 8h0m218-2h0m21 3h0m-263 3h0m247 6h0m-26 6h0m4 2h0m-204 3h0m6-1h0m137 1h0m97 4h0m7-3h0m-86 7h0m-11 7h0m19-4h0m2 10h0m6 1h0m2-2h0m1-3h0m-39 11h0m22-3h0m73-1h0m-78 5h0m8 6h0m3-1h0m-5 3h0m2 0h0m1 3h0m-29 2h0m7 4h0m35 1h0m2 1h0m1 0h0m-47 10h0m9-1h0m-2 4h0" stroke="#0000FF" stroke-width="4.6" stroke-linecap="round" fill="none"/>
<path d="M239 119h0m26 4h0m8-1h0m20 4h0m1-5h0m6 3h0m14 1h0m1-2h0m8-3h0m6 3h0m12 3h0m4-4h0m-121 4h0m5 5h0m35-3h0m3 0h0m39 4h0m1-4h0m1-1h0m2 1h0m2-1h0m3 0h0m43 1h0m1 3h0m-144 7h0m5-1h0m3-3h0m3 3h0m0 1h0m1-4h0m0 0h0m5 3h0m0-4h0m26 3h0m3 0h0m0-1h0m14-2h0m8 2h0m2-3h0m1 0h0m2 3h0m23 3h0m0-3h0m4 2h0m11-3h0m0 3h0m2-1h0m7-3h0m20 3h0m6-3h0m5 1h0m3-1h0m-162 6h0m20 4h0m2 0h0m8-4h0m16 0h0m36 1h0m4 1h0m15-2h0m2 4h0m0 0h0m3-3h0m1 2h0m2 1h0m3-5h0m25 1h0m8 3h0m2 1h0m3-3h0m3 0h0m32 0h0m-172 6h0m51 1h0m37 2h0m4-3h0m8 2h0m6-2h0m1 3h0m4-3h0m3 3h0m3-1h0m1-1h0m8 1h0m8 1h0m3-4h0m5 0h0m7-1h0m10 4h0m-129 5h0m1 0h0m6 2h0m1-1h0m9 1h0m6-1h0m9-2h0m0 1h0m1 0h0m11 3h0m14-3h0m12 0h0m8 0h0m12 2h0m11-5h0m3 3h0m8-2h0m3 2h0m1-2h0m15 2h0m9 2h0m4-4h0m4 2h0m-205 7h0m44-1h0m1 2h0m7 0h0m1-1h0m0 1h0m5-2h0m6-2h0m0 4h0m15 0h0m0-1h0m5-4h0m17 0h0m0 4h0m10-1h0m0 2h0m1-3h0m18-2h0m1 1h0m5-1h0m4 0h0m2 2h0m2 3h0m4 0h0m24 0h0m3 0h0m10-4h0m-188 9h0m3 1h0m3 1h0m16-5h0m11 5h0m1-1h0m0-2h0m3-2h0m3 1h0m1 2h0m0 1h0m1-3h0m5 1h0m8-3h0m9 5h0m1-5h0m23 1h0m0-1h0m1 4h0m2 1h0m22 0h0m8-1h0m2-4h0m0 0h0m27 2h0m23 4h0m3-4h0m30-1h0m15 3h0m1-3h0m-216 10h0m4-3h0m11 0h0m0-1h0m3 0h0m3 2h0m1 1h0m1-1h0m3 1h0m4-3h0m11 2h0m1-1h0m6 3h0m2-3h0m12-1h0m1 4h0m3-2h0m13-1h0m0-1h0m16 0h0m1 1h0m1 0h0m3 3h0m6-1h0m3 0h0m1 1h0m6-1h0m0 1h0m9-4h0m0-1h0m8 5h0m2-1h0m0 0h0m9 1h0m29-4h0m0 3h0m1-2h0m26 1h0m12 0h0m1-1h0m-247 10h0m3-3h0m5-1h0m1 2h0m21-2h0m1 4h0m0-4h0m6 3h0m3-5h0m0 1h0m7 2h0m0 0h0m3-1h0m1 1h0m1 1h0m10 1h0m5-1h0m8 0h0m36 0h0m7-1h0m3 0h0m6 2h0m3 0h0m3-2h0m2 1h0m6-4h0m1 6h0m3-1h0m6-2h0m2-2h0m7 0h0m1 3h0m1 1h0m2 0h0m0-1h0m9-3h0m9 2h0m8 2h0m45-4h0m-232 8h0m2-3h0m1 2h0m3 3h0m0-2h0m3 2h0m1-4h0m1 4h0m0-1h0m18-3h0m1 4h0m5-1h0m4-1h0m12-2h0m2 1h0m1 3h0m6-3h0m3-2h0m12 0h0m0 2h0m1 2h0m1-1h0m1-2h0m6 2h0m6 0h0m1 1h0m18 0h0m4-2h0m3 1h0m2 1h0m4 0h0m2 1h0m2-5h0m2 5h0m6-5h0m3 2h0m2 2h0m7 2h0m4-4h0m1 4h0m11-1h0m0-5h0m3 4h0m2-2h0m1 1h0m6 3h0m4-1h0m5-3h0m8 0h0m4-1h0m2 0h0m26 1h0m1 3h0m-219 2h0m0 5h0m20-2h0m12 0h0m2-4h0m14 4h0m1-4h0m7 4h0m5 1h0m2-4h0m8-1h0m3 1h0m4-1h0m2 1h0m10 1h0m17-1h0m0 1h0m3 0h0m1 1h0m19 2h0m6-2h0m1-2h0m3 4h0m2-4h0m0 5h0m0-4h0m2 2h0m33-3h0m6 4h0m7-1h0m3-2h0m13 1h0m10 2h0m26 0h0m3-4h0m20 5h0m-278 5h0m3-1h0m1 1h0m52-2h0m0-2h0m2 0h0m8-1h0m3 1h0m0 3h0m1-1h0m0 2h0m21-2h0m6-3h0m0 2h0m1 0h0m1 0h0m0 1h0m0 2h0m1-1h0m0-2h0m20-2h0m1 1h0m4-1h0m0 5h0m0 1h0m1-1h0m1-4h0m1 2h0m2-2h0m8 3h0m0-2h0m1 0h0m1-2h0m4 5h0m3-3h0m7 4h0m6-5h0m4 0h0m0 2h0m12-2h0m2-1h0m9 2h0m8 0h0m4 2h0m3 0h0m8 0h0m12-1h0m18 1h0m4 1h0m2-1h0m11-1h0m22 1h0m-279 3h0m4-1h0m28 5h0m2 0h0m40 1h0m13-1h0m9-5h0m0 2h0m5-1h0m0 4h0m8 0h0m7-3h0m12-2h0m4 6h0m0-3h0m1 2h0m6-1h0m10-2h0m2 3h0m3-2h0m4 3h0m6-4h0m3 1h0m29-3h0m6 5h0m3-2h0m1-1h0m5 0h0m4-1h0m3 5h0m7-5h0m11 4h0m7-1h0m9-3h0m33 0h0m-276 11h0m17-5h0m1 1h0m1 2h0m5-3h0m4 3h0m36-2h0m4 1h0m1 0h0m2-2h0m1 1h0m1 2h0m2-4h0m1 0h0m0 1h0m3-1h0m1 0h0m1 0h0m2 5h0m0-2h0m1 1h0m15-4h0m5 6h0m5-2h0m1-1h0m3-1h0m1 1h0m2 2h0m1-5h0m6 2h0m1-2h0m0 4h0m6-3h0m3 0h0m1 0h0m1 1h0m1 1h0m1-3h0m9 4h0m8-3h0m1 3h0m1-2h0m7 0h0m2 2h0m9-1h0m6-2h0m0 2h0m9 1h0m3 0h0m8 0h0m17-2h0m3 0h0m65 1h0m-287 7h0m2 1h0m5-2h0m1 1h0m1-1h0m0-3h0m16 3h0m12-2h0m1 5h0m2-3h0m1 0h0m35 1h0m3 0h0m7 1h0m6-5h0m8 5h0m11 0h0m2-2h0m2 0h0m8-2h0m1 3h0m1 1h0m2-5h0m3 5h0m0-2h0m7-3h0m1 4h0m1-4h0m2 1h0m12 4h0m5-1h0m1-2h0m4-2h0m0 2h0m0-1h0m4-1h0m7 3h0m2-1h0m8 2h0m3-1h0m5-3h0m0 0h0m23 4h0m0-2h0m4 4h0m1-1h0m2 0h0m-238 6h0m20-5h0m1 1h0m0 0h0m2 1h0m1-2h0m1 2h0m1 1h0m1 1h0m1-1h0m14-1h0m41-1h0m3 0h0m4-1h0m1 2h0m2 3h0m4-5h0m12 3h0m4 1h0m2 1h0m5-3h0m4-1h0m5 2h0m13-2h0m1 0h0m2 3h0m9 1h0m3-3h0m11 1h0m16 0h0m1 2h0m3-4h0m1 1h0m20 0h0m16 0h0m87 1h0m-308 4h0m2 2h0m7-1h0m1 0h0m12-1h0m12 1h0m3 0h0m4-2h0m1 6h0m0-2h0m4 1h0m2-5h0m9 5h0m5 0h0m18-1h0m5-4h0m5 5h0m17-4h0m2 0h0m1 2h0m4 1h0m6-1h0m8-2h0m2 1h0m0 0h0m7 2h0m15-4h0m8 3h0m1 1h0m6 0h0m6-2h0m6-1h0m0 3h0m2 1h0m0 1h0m1-4h0m1-1h0m9 1h0m11-2h0m21 1h0m20 4h0m-248 5h0m4-2h0m4 2h0m4 1h0m2-5h0m2 0h0m3 5h0m11-4h0m6 1h0m1 3h0m5-1h0m3-1h0m1 1h0m17-3h0m21 0h0m13 2h0m5-1h0m3-2h0m7 5h0m3 0h0m6 0h0m0-5h0m7 5h0m7 0h0m0-3h0m6 2h0m4 1h0m2 0h0m8 0h0m2-3h0m2 0h0m0 2h0m2-2h0m3 1h0m9 2h0m23-2h0m0 1h0m1-1h0m8 2h0m1-3h0m1-2h0m4 6h0m2-4h0m34 4h0m2-1h0m19-4h0m19 4h0m-277 5h0m2-1h0m4 2h0m4-5h0m0 5h0m3-3h0m6 3h0m0-4h0m0 2h0m4-1h0m0-2h0m1 2h0m9-1h0m2 1h0m1 3h0m0 0h0m2 0h0m2-2h0m1-2h0m8 1h0m37-2h0m1 4h0m1-4h0m3 3h0m0-1h0m1 2h0m2-1h0m0 1h0m0-1h0m6 0h0m0 1h0m1-4h0m12 6h0m8-6h0m1 5h0m6 0h0m8-3h0m2-1h0m1 1h0m1 1h0m3 2h0m1-2h0m3 2h0m1-5h0m8 5h0m1-4h0m5 1h0m4 0h0m1-2h0m5 1h0m11-1h0m2 4h0m90-4h0m23 0h0m-302 9h0m6-1h0m1 1h0m0-2h0m3 3h0m0-4h0m2 5h0m4 1h0m1-4h0m3-1h0m1 4h0m3-1h0m1-3h0m0-1h0m0 0h0m1 1h0m0 4h0m8-1h0m6-3h0m23 0h0m0 3h0m1 1h0m2 1h0m14-4h0m2 3h0m4-2h0m0-2h0m8-1h0m0 3h0m0-2h0m0 0h0m2 2h0m0 1h0m1 0h0m1 1h0m2-3h0m1 1h0m0-1h0m3 0h0m0 1h0m3 0h0m2 1h0m2-3h0m0 3h0m19-2h0m4-1h0m5 3h0m1 1h0m1 0h0m5-4h0m1 4h0m4-3h0m3 2h0m6 0h0m4-3h0m2 2h0m1 2h0m1-2h0m1 1h0m2 0h0m2-1h0m2 1h0m1-2h0m5 0h0m0 3h0m4-2h0m9 0h0m4 0h0m2 2h0m6-4h0m29 4h0m4-2h0m1-2h0m13-1h0m1 2h0m-256 7h0m12-3h0m14 3h0m4-3h0m3 0h0m1 0h0m34 4h0m18-3h0m8 3h0m7-2h0m1-1h0m5 1h0m5 3h0m11-1h0m1-1h0m5-1h0m1-1h0m2 3h0m0-1h0m1-1h0m4 2h0m8-1h0m6 1h0m2-3h0m2-1h0m3 1h0m2 1h0m5 2h0m2 1h0m12-2h0m1-1h0m1 2h0m1-2h0m9-2h0m2 3h0m1-1h0m9 3h0m8-1h0m3 1h0m4-5h0m14 3h0m37-2h0m9-1h0m-271 7h0m1-1h0m1 4h0m13 0h0m1 0h0m6-3h0m13 1h0m26 0h0m13-1h0m4 0h0m1 2h0m9-2h0m2 0h0m20 2h0m1 1h0m5 0h0m1-1h0m1 0h0m1-1h0m11 2h0m1 0h0m1-4h0m28 4h0m4 1h0m3-2h0m2 3h0m9-4h0m7 1h0m3 3h0m0-1h0m1-3h0m6 0h0m40 2h0m5 1h0m4 0h0m9-1h0m-247 2h0m2 3h0m4 1h0m4-1h0m1 2h0m4-5h0m2 4h0m0 1h0m1-2h0m6-2h0m3 3h0m0-3h0m9 0h0m3 0h0m30-1h0m20 2h0m1 0h0m1 0h0m3-1h0m4-1h0m1 1h0m11 0h0m1 1h0m2-1h0m13 0h0m14 2h0m2 0h0m6 2h0m1-3h0m1 3h0m1-3h0m2 2h0m0 0h0m6-4h0m4 5h0m2-1h0m1-3h0m1 4h0m6-4h0m11 1h0m1-1h0m5 4h0m2-5h0m2 3h0m0 0h0m26-3h0m6 5h0m4-1h0m8 1h0m7-2h0m-242 8h0m20-4h0m9 1h0m0 3h0m1 0h0m1-3h0m2 2h0m25 1h0m29 0h0m2 0h0m4 0h0m2 0h0m19 1h0m29-3h0m1-3h0m3 1h0m5 3h0m1-1h0m5 2h0m4-1h0m4 1h0m18-4h0m31 2h0m2-1h0m38 0h0m-257 4h0m4 3h0m4 0h0m0-1h0m9 0h0m2 3h0m0-5h0m5 4h0m0-3h0m6 1h0m5-2h0m2 1h0m7 4h0m10-4h0m0 5h0m4-1h0m4-2h0m1 1h0m4 0h0m4 1h0m8-1h0m2-2h0m2 1h0m3 0h0m1-1h0m1 2h0m18 1h0m4-2h0m2 0h0m3 2h0m1-2h0m9-2h0m9 4h0m1-1h0m15-3h0m2-1h0m10 1h0m42 3h0m8-2h0m11 0h0m1 1h0m13-1h0m6 3h0m6-4h0m1 3h0m1-4h0m18 1h0m5 0h0m-269 10h0m1-3h0m2 1h0m0 2h0m1 0h0m3-1h0m1 1h0m3-3h0m9 0h0m0 0h0m2 2h0m3 2h0m1-3h0m8 2h0m2-4h0m5 1h0m1 3h0m2-1h0m3-2h0m4 2h0m1-1h0m4-3h0m0 4h0m5-1h0m5 2h0m1-4h0m0-1h0m7 3h0m1-3h0m3 3h0m2 2h0m7-5h0m2 4h0m2-3h0m1 1h0m1-1h0m1-1h0m2 4h0m7 0h0m6 1h0m0-1h0m8-3h0m1 5h0m2-1h0m1 0h0m3-5h0m4 2h0m6 2h0m40-4h0m30 0h0m5 3h0m7 2h0m-213 4h0m3-3h0m1 3h0m2 0h0m3 3h0m0-2h0m1 0h0m9 0h0m3-2h0m2 0h0m2-1h0m1 1h0m2 3h0m3-1h0m5-3h0m1-1h0m9 4h0m0-2h0m1 1h0m2 2h0m7 0h0m0-3h0m6 1h0m8-2h0m6 4h0m4 0h0m14-2h0m1-2h0m2 1h0m3 3h0m3-1h0m14 2h0m1-2h0m0 1h0m0 0h0m1-2h0m2-3h0m0 1h0m3 2h0m0 2h0m4-2h0m1 2h0m1 1h0m5-3h0m1 1h0m1 0h0m1 0h0m2-3h0m54-1h0m-190 11h0m2-2h0m11-3h0m3 1h0m2 1h0m3 3h0m6-5h0m1 0h0m3 5h0m1-1h0m0 0h0m2-3h0m0 0h0m1 4h0m10-5h0m3 1h0m3 0h0m2 3h0m5-3h0m3-1h0m8 4h0m0 1h0m0-1h0m11-2h0m4-2h0m17 6h0m4-2h0m2 1h0m2-1h0m1 0h0m3-3h0m0 1h0m1 1h0m8 2h0m3-3h0m5 0h0m0 1h0m5-1h0m22 0h0m9-1h0m3 4h0m0 0h0m2-4h0m6 3h0m2-2h0m1-1h0m22-1h0m3 1h0m4 0h0m4 0h0m5 4h0m8-1h0m6-4h0m30 3h0m-262 6h0m7-2h0m2 5h0m1-1h0m1-1h0m16-3h0m1-1h0m7 4h0m2-4h0m0 4h0m3-1h0m6 0h0m5 3h0m2-1h0m0-2h0m1 0h0m8-2h0m1 3h0m0-3h0m2 4h0m8 0h0m1-4h0m2 2h0m1-2h0m10 3h0m6-2h0m4 1h0m1-2h0m0-1h0m3 1h0m1 0h0m2 2h0m4-1h0m3 1h0m4-3h0m2 5h0m1-2h0m7 0h0m2-2h0m23 1h0m2 4h0m1-6h0m4 2h0m0-2h0m2 2h0m2 3h0m0 0h0m0-1h0m6 0h0m7-3h0m0 2h0m1 1h0m9-2h0m29-2h0m8 1h0m6-1h0m14 4h0m-229 3h0m30 1h0m3-2h0m1 4h0m16 0h0m19 1h0m6-1h0m3 1h0m1-3h0m1 3h0m2-3h0m6 2h0m0 0h0m3-3h0m0 1h0m9 0h0m8 3h0m29-2h0m11-2h0m0 4h0m1-3h0m13-1h0m2 3h0m0-2h0m1 2h0m1 1h0m28-3h0m24 0h0m-208 8h0m1-4h0m23 4h0m3 0h0m4 1h0m6-5h0m4 2h0m3 2h0m4 1h0m6-3h0m7 1h0m4 0h0m5 0h0m3 1h0m22 0h0m2-1h0m4-1h0m10 2h0m0-1h0m19-1h0m2 3h0m3-4h0m5 2h0m0-1h0m18 4h0m0-4h0m1-2h0m1 0h0m0 3h0m5-2h0m0-1h0m2 3h0m18-3h0m0 2h0m3 1h0m7-2h0m29 3h0m11-1h0m-233 4h0m4 4h0m13-1h0m0 1h0m4-5h0m4 2h0m2 3h0m6-1h0m1 0h0m1-2h0m2-1h0m8 3h0m11-2h0m6-2h0m1 2h0m0-1h0m3 1h0m12 1h0m2 2h0m5-2h0m16-3h0m9 3h0m11 0h0m3 2h0m1 0h0m4-3h0m5-1h0m0 3h0m1 0h0m19-3h0m8-1h0m-146 10h0m11-3h0m1-1h0m2 3h0m1 0h0m2 1h0m0-4h0m3 4h0m4 0h0m7 0h0m0-1h0m4-3h0m4 4h0m0-4h0m5 1h0m3 0h0m0 1h0m1 0h0m17 0h0m27 2h0m14-2h0m3-1h0m0 3h0m2-3h0m0 4h0m1-5h0m0 1h0m4 5h0m6-4h0m1 1h0m1-2h0m8 2h0m4 2h0m1-1h0m2 1h0m14-4h0m22 2h0m-170 4h0m7 1h0m7 0h0m3 0h0m2 1h0m2 3h0m5-3h0m7 1h0m7-1h0m3-3h0m0 0h0m8 3h0m1 2h0m1-1h0m10-3h0m10 5h0m0-1h0m14-3h0m2 1h0m1-1h0m16 0h0m0-1h0m1 0h0m3 0h0m1 1h0m3 2h0m16-3h0m1-1h0m3 1h0m-138 7h0m12-1h0m3 3h0m1 0h0m3-2h0m0-1h0m8 1h0m5 2h0m0-2h0m5 3h0m14-3h0m3-1h0m1 2h0m3-3h0m12 5h0m1-2h0m1 0h0m1-2h0m3 4h0m6-3h0m1 0h0m1 1h0m6-3h0m16 5h0m6-1h0m2-3h0m0 4h0m3-2h0m0 0h0m0 1h0m4 1h0m7-2h0m3 2h0m-134 5h0m3-3h0m1 0h0m2 2h0m30-2h0m2-1h0m12 4h0m9-1h0m13-1h0m5-1h0m1 0h0m1 2h0m1 0h0m1-3h0m11 1h0m2 1h0m18 3h0m1-4h0m1 0h0m7 3h0m1-3h0m0 2h0m3-2h0m2 3h0m0-1h0m0-1h0m3 4h0m1-5h0m23 2h0m-121 8h0m3-1h0m2-1h0m10-2h0m6 0h0m8 5h0m10-5h0m4-1h0m1 2h0m1 3h0m2-1h0m10-3h0m2 3h0m6-1h0m16-3h0m5 1h0m0 0h0m1 1h0m3-2h0m3 5h0m0-2h0m1 3h0m6-3h0m4-3h0m22 3h0m-124 6h0m4 1h0m1 1h0m1 0h0m1-5h0m3 3h0m3 1h0m5-4h0m3 1h0m11 0h0m2 1h0m1 1h0m0 0h0m2-1h0m37-2h0m2 4h0m5 1h0m3-2h0m2 1h0m6-3h0m2 0h0m30 0h0m-120 6h0m5 4h0m2-4h0m54 9h0m4 0h0m0-1h0" stroke="#AAAAFF" stroke-width="4.6" stroke-linecap="round" fill="none"/>
<path d="M286 119h0m45-4h0m4 4h0m-69 6h0m10-1h0m4 1h0m1 0h0m5-2h0m3 2h0m9-2h0m1 1h0m13-1h0m0 0h0m7 1h0m1 1h0m7-2h0m11-2h0m7 0h0m9 4h0m3-2h0m1 3h0m0-2h0m1-2h0m-96 8h0m1-4h0m3 6h0m2-6h0m6 4h0m3-1h0m12-1h0m1-1h0m20-1h0m16 5h0m23-1h0m1 0h0m1-2h0m9 0h0m5 2h0m-103 3h0m12-1h0m7 1h0m1-1h0m27 3h0m1-2h0m7-1h0m15 1h0m1 3h0m3-4h0m10 5h0m4-1h0m5-1h0m20 0h0m-120 5h0m1 4h0m2-2h0m1 0h0m3 1h0m11 0h0m11-3h0m3 0h0m2 3h0m16-4h0m1 4h0m11-4h0m15 5h0m9-1h0m4-4h0m3 4h0m1 0h0m6-3h0m1 0h0m1 0h0m3-2h0m0 5h0m4 0h0m-96 7h0m1-1h0m11 0h0m2-1h0m3-2h0m10 1h0m22-2h0m9 0h0m2 0h0m0 2h0m0-1h0m0 3h0m9 0h0m2-3h0m7 3h0m2-1h0m1-2h0m8 1h0m21 0h0m2-3h0m0 5h0m3-4h0m13 2h0m1 2h0m0-5h0m5 1h0m-138 8h0m7-1h0m9 3h0m8-3h0m17-2h0m3 3h0m8-1h0m7 3h0m3-3h0m0-1h0m2 3h0m1-1h0m11 1h0m7-4h0m5 3h0m1-1h0m3 2h0m22 0h0m0 0h0m4-3h0m1 1h0m1 1h0m7-2h0m7 2h0m1-1h0m16 0h0m3 0h0m-220 7h0m51 2h0m7 0h0m5-4h0m2 0h0m16 0h0m0 3h0m3-2h0m1 4h0m5-4h0m2 1h0m3 3h0m12-3h0m9 1h0m8 0h0m2 0h0m4 2h0m2-5h0m4-1h0m7 2h0m15 0h0m0 4h0m1-2h0m4-1h0m0 1h0m0 0h0m6-4h0m5 2h0m19 3h0m5 1h0m5-2h0m-208 5h0m16-1h0m7 3h0m4-2h0m7 1h0m0-2h0m1-1h0m4 4h0m7-2h0m3 2h0m4-2h0m0 2h0m9-3h0m23 2h0m8 0h0m1 0h0m16-2h0m3-1h0m4 0h0m4 3h0m3 0h0m2-2h0m0 1h0m12-3h0m5 1h0m5 1h0m28-2h0m30 1h0m14 4h0m4 0h0m2-4h0m1 4h0m-257 6h0m29-4h0m3 1h0m1-2h0m3 3h0m1 2h0m2-2h0m2-1h0m1 0h0m1 2h0m0 0h0m1 0h0m1-4h0m0 3h0m2 0h0m5-1h0m15 1h0m1 2h0m0 0h0m9-3h0m0 1h0m2-1h0m13 3h0m21-3h0m2 0h0m3-2h0m2 5h0m9-1h0m0 0h0m1-4h0m6 3h0m2-2h0m0 3h0m4-3h0m9 4h0m1-3h0m3 2h0m6 0h0m3-1h0m2 1h0m35-2h0m5 2h0m16 0h0m10-4h0m0 3h0m19 1h0m-223 7h0m4-2h0m6-3h0m4 4h0m0 1h0m2-3h0m2-1h0m2-1h0m14 1h0m2 0h0m2 0h0m44 0h0m5 3h0m4 2h0m5-3h0m1-1h0m1 0h0m3 0h0m1 3h0m1-5h0m5 2h0m4 1h0m8 3h0m8-1h0m4-5h0m2 2h0m2-2h0m1 2h0m4 2h0m14 1h0m2-1h0m12 1h0m2-2h0m0 2h0m1-2h0m3 1h0m12 1h0m16 0h0m1-1h0m-235 3h0m5 1h0m7 2h0m21-4h0m19 2h0m12 4h0m5-1h0m19-4h0m4 3h0m5 2h0m2-2h0m13-3h0m11 3h0m1-1h0m7-2h0m0 2h0m8-3h0m2 1h0m7-1h0m5 5h0m1-3h0m2 0h0m3 1h0m6-1h0m8 0h0m1 0h0m11 2h0m0-2h0m2 2h0m4-2h0m1 1h0m0 1h0m9 0h0m2-4h0m23 4h0m1 0h0m7 0h0m0-1h0m1 0h0m1-3h0m2 5h0m19 1h0m-248 2h0m1-1h0m20 5h0m10-6h0m5 0h0m16 2h0m0 1h0m9-1h0m2 0h0m5 0h0m7-2h0m1 4h0m3-1h0m2-2h0m22 4h0m6-2h0m5 1h0m1-3h0m2 0h0m2 0h0m0 2h0m15 3h0m11-1h0m4-1h0m16-1h0m3-1h0m5 2h0m5 2h0m8-5h0m4 1h0m2 2h0m1-3h0m0 4h0m10-2h0m11 2h0m3-1h0m10-3h0m19 3h0m-205 5h0m4-2h0m10 2h0m6 0h0m27 1h0m19 1h0m18-3h0m8 3h0m3-1h0m1 2h0m1-5h0m2 3h0m16-1h0m8-2h0m5 3h0m2-3h0m1 2h0m15 2h0m7-2h0m0-1h0m3-1h0m10 3h0m1 1h0m4-4h0m8 4h0m3-1h0m1 0h0m1-2h0m6 3h0m2 0h0m10-4h0m1-1h0m26 6h0m-213 3h0m11 0h0m8 0h0m11-1h0m13 2h0m2-2h0m0 1h0m3-3h0m8 3h0m4 1h0m2-3h0m4 2h0m8 1h0m1-3h0m4 0h0m0 4h0m0-1h0m1-1h0m3 3h0m12-4h0m0 2h0m1-3h0m6 4h0m3-4h0m6 3h0m3-2h0m2-1h0m3 4h0m0-2h0m2 3h0m5-3h0m2 1h0m2-1h0m0-3h0m9 1h0m3 0h0m8 2h0m2 2h0m2-1h0m4-1h0m1-1h0m4 3h0m6-2h0m4 0h0m1-3h0m13 0h0m12 5h0m22-1h0m-219 6h0m6-2h0m5-2h0m4 6h0m5-6h0m2 3h0m16-1h0m1 3h0m0 0h0m6 0h0m1-3h0m5 0h0m22 1h0m6 2h0m3-1h0m1-2h0m1-1h0m8 3h0m0-3h0m1 0h0m1 3h0m4 1h0m4-3h0m6 1h0m3-3h0m0 3h0m17 0h0m4-2h0m6 2h0m1 0h0m0-3h0m7 5h0m7 1h0m4-3h0m0-3h0m8 1h0m6 3h0m24 2h0m-256 0h0m35 3h0m61-1h0m5 0h0m2-2h0m4 0h0m1 1h0m9-1h0m5 1h0m2-1h0m1 1h0m6 0h0m3 3h0m1 1h0m5-1h0m0 2h0m6-2h0m10-2h0m2 3h0m0-2h0m3-1h0m3 2h0m6 0h0m10-4h0m6 1h0m8-1h0m5 5h0m10-3h0m6-1h0m44 1h0m1 3h0m3-1h0m22-3h0m2-1h0m-270 6h0m44 1h0m2 2h0m4-2h0m3-1h0m18 1h0m8 4h0m7-4h0m3 1h0m2 1h0m2 1h0m0 1h0m3-5h0m4 5h0m1-1h0m12 1h0m6-5h0m3 0h0m2 4h0m3 1h0m0-2h0m1 1h0m18-1h0m7-3h0m2 2h0m21 3h0m1-1h0m2-2h0m1 3h0m5-1h0m9-3h0m1 1h0m45 3h0m31-2h0m4-1h0m-308 10h0m64-1h0m16-2h0m2-1h0m14 3h0m16-4h0m1 0h0m7 3h0m2-2h0m3 1h0m3-2h0m6 0h0m8 4h0m3-4h0m1 3h0m1-1h0m3 3h0m2-5h0m0 0h0m10 2h0m4-1h0m2 0h0m3 2h0m3-4h0m1 5h0m16-4h0m7 1h0m11 3h0m4-5h0m4 4h0m2 1h0m23-1h0m-182 6h0m26-2h0m1 2h0m13-1h0m2 1h0m1-3h0m1 4h0m1-2h0m12 0h0m2 0h0m2 2h0m2-2h0m2 1h0m5 0h0m21 2h0m2-1h0m3-1h0m10-3h0m4 1h0m3 3h0m0 0h0m1-3h0m10 1h0m2 0h0m18-1h0m2 1h0m2 0h0m2 2h0m7-1h0m0-4h0m30 1h0m7 0h0m4 1h0m0 3h0m1 1h0m41 0h0m-297 4h0m40-2h0m1 1h0m49 0h0m2-2h0m3-1h0m1 3h0m4-2h0m1 3h0m11-3h0m3 1h0m3 3h0m0 0h0m1-3h0m9 0h0m2 1h0m4 2h0m1-1h0m2-3h0m4 0h0m0 3h0m1 2h0m4-1h0m9-5h0m0 4h0m0-1h0m11 2h0m10-4h0m3 1h0m3 0h0m5 2h0m1-2h0m13-1h0m7 1h0m5 1h0m24 2h0m4-4h0m4 4h0m15-1h0m14-1h0m5 0h0m-248 5h0m29 3h0m4 0h0m3-1h0m11 0h0m0 1h0m3-4h0m0 3h0m1 1h0m5-1h0m9-1h0m1 1h0m17-4h0m0 0h0m11 5h0m0-5h0m8 2h0m1 3h0m6-5h0m1 2h0m2 2h0m1 1h0m10-1h0m7-2h0m1 2h0m3-1h0m1-1h0m2 2h0m5 1h0m4-5h0m1 3h0m5 1h0m2-3h0m2 2h0m3 1h0m10 1h0m1-4h0m9 3h0m25 1h0m1-2h0m3-2h0m3 1h0m2-1h0m5 4h0m1 0h0m2-4h0m3 2h0m6 1h0m0-2h0m1 2h0m6 1h0m5-4h0m-198 11h0m0-1h0m2-3h0m1 3h0m1-1h0m3-1h0m0 2h0m14-3h0m33 0h0m2 2h0m2 1h0m29-4h0m3 3h0m7 1h0m1-1h0m9-2h0m0 3h0m8-3h0m1-1h0m8 4h0m34-3h0m3 2h0m2-4h0m13 5h0m5-3h0m0 0h0m6 0h0m4 0h0m-264 5h0m1 0h0m11 2h0m6 2h0m46-4h0m10-1h0m2 1h0m2 2h0m15 1h0m3-2h0m2 1h0m4 1h0m7-2h0m5 0h0m0 2h0m1-4h0m1 4h0m1-2h0m1-2h0m0 0h0m3 4h0m7 0h0m19 1h0m7 0h0m1 1h0m15-3h0m4 3h0m0-4h0m4-1h0m0 0h0m1 3h0m4 1h0m5 0h0m6 0h0m2-4h0m4 1h0m33 0h0m8-1h0m15 2h0m1-2h0m1 1h0m1-2h0m25 4h0m-271 5h0m6 2h0m4-4h0m21 4h0m36-5h0m17 2h0m52 3h0m0-4h0m10 0h0m2 1h0m1-2h0m2 3h0m4-1h0m5-2h0m6 1h0m8 0h0m10-1h0m1 2h0m29-1h0m2 3h0m5 2h0m1-4h0m9-2h0m13 5h0m27-4h0m-268 8h0m69 2h0m5-1h0m35 1h0m24-2h0m6-2h0m2 1h0m26 3h0m2 0h0m37-3h0m1 0h0m1 2h0m5-3h0m9 5h0m2-4h0m0 3h0m0-3h0m9 1h0m7 2h0m8 0h0m1-4h0m6 5h0m4-2h0m3-2h0m1-2h0m0 3h0m-264 6h0m2-1h0m17 0h0m21 3h0m13 1h0m1-5h0m2 2h0m11-1h0m8 3h0m9 0h0m23-5h0m1 4h0m1-1h0m0 0h0m43-1h0m1 1h0m1-2h0m16-1h0m6 5h0m3-5h0m31 2h0m1 1h0m9 0h0m4-3h0m0 1h0m8 2h0m8-2h0m1 3h0m0-3h0m17 0h0m7 4h0m4-5h0m-270 9h0m17 2h0m20-3h0m2 1h0m2 2h0m3-3h0m3 3h0m6 0h0m1-1h0m5 1h0m5-2h0m7-1h0m2-2h0m9 4h0m1 1h0m18-4h0m10 1h0m0 1h0m1 1h0m43 2h0m57-5h0m8 3h0m6-1h0m20-2h0m4 0h0m20 0h0m1 3h0m-265 5h0m49-2h0m8 0h0m1 0h0m11-1h0m0 0h0m10 1h0m2 4h0m3 0h0m8-3h0m3 1h0m2-2h0m18 4h0m14-5h0m52 6h0m26-4h0m4 1h0m4 2h0m10-4h0m1 0h0m4 1h0m3 3h0m2-3h0m4-2h0m20 5h0m1 0h0m1-2h0m5-2h0m3 3h0m4 1h0m-273 6h0m4-3h0m20-2h0m5 5h0m10 1h0m17-5h0m1 2h0m4-2h0m3 0h0m5 2h0m3 3h0m25-1h0m4 0h0m2-1h0m9-4h0m3 0h0m15 3h0m1-1h0m4-2h0m79 4h0m7-1h0m7-2h0m3 4h0m34-2h0m-224 5h0m1 2h0m8 1h0m16-1h0m0-2h0m6 2h0m29-2h0m11 3h0m1-4h0m2 0h0m4 2h0m4 2h0m3 0h0m1 1h0m9-4h0m34 1h0m3 0h0m6 0h0m35-3h0m5 3h0m2 0h0m6 2h0m0-1h0m12-1h0m17-3h0m7 2h0m-209 9h0m2-1h0m10-2h0m5 4h0m2-5h0m2 3h0m14-3h0m6 4h0m12-1h0m7-1h0m13 1h0m22-2h0m16 3h0m4-3h0m21 0h0m24 1h0m1 0h0m1-2h0m23 0h0m0 4h0m3-3h0m9 0h0m10 0h0m5 1h0m-236 8h0m23-1h0m1-3h0m4 4h0m0 0h0m5-5h0m16 5h0m5-3h0m38 2h0m1-1h0m39-1h0m24 1h0m22-3h0m40 5h0m3-2h0m-200 4h0m5 3h0m2 2h0m6-5h0m9 2h0m11-3h0m16 2h0m2 2h0m3-2h0m1-2h0m13 3h0m2 1h0m-83 7h0m5 0h0m10 1h0m9-3h0m1 2h0m10-3h0m0 2h0m12 1h0m10-3h0m16-2h0m12 2h0m14-2h0m12 2h0m-102 8h0m17-3h0m20 3h0m2 1h0m5 0h0m1-4h0m0-1h0m31 5h0m3-1h0m3 1h0m29-4h0m18-1h0m5 5h0m-135 2h0m11 3h0m5-2h0m1 1h0m6-2h0m27-1h0m5 3h0m9 2h0m22 0h0m0-4h0m2 2h0m2-3h0m28 4h0m-117 3h0m11 1h0m11 1h0m1 0h0m18 0h0m19 0h0m3-2h0m2 1h0m2 3h0m23-2h0m16-1h0m11 0h0m-89 5h0m5 3h0m9-3h0m5 3h0m8 0h0m15 1h0m5-5h0m5 4h0m1-2h0m4 0h0m24 3h0m-80 3h0m10-1h0m1 1h0m15 0h0m1 0h0m1-2h0m7 4h0m48-1h0" stroke="#FFAAAA" stroke-width="4.6" stroke-linecap="round" fill="none"/>
<path d="M291 118h0m35 0h0m17 2h0m13-3h0m-91 5h0m3 1h0m13 1h0m6 0h0m7-2h0m2 3h0m1-3h0m19-1h0m1 1h0m7 0h0m15-1h0m1 1h0m13 1h0m0-2h0m-64 10h0m3-2h0m1 1h0m1-3h0m12 5h0m1-6h0m6 4h0m3-2h0m1 0h0m5 0h0m3 3h0m3 0h0m1-3h0m7 1h0m5 0h0m11 2h0m0 0h0m9-1h0m-97 2h0m31 6h0m2-2h0m10-2h0m2 2h0m0 0h0m10 0h0m26-1h0m0-3h0m5 4h0m0 1h0m2-4h0m7 2h0m13 1h0m2-3h0m5 2h0m-121 5h0m29 0h0m19-2h0m4 0h0m3 5h0m2-1h0m1-3h0m6 1h0m31 1h0m3 1h0m10 1h0m3-4h0m7 4h0m1-1h0m18-3h0m1 1h0m3 3h0m3 0h0m-95 3h0m2 0h0m2-1h0m0 1h0m1 4h0m18-4h0m2-1h0m13 0h0m1 4h0m8-1h0m3-1h0m3-3h0m21 2h0m2 2h0m4-2h0m2-1h0m2 4h0m12-5h0m1 1h0m-98 8h0m1 0h0m3-3h0m6 3h0m4 0h0m2 0h0m3-1h0m14 1h0m1 3h0m2-5h0m6 0h0m13 3h0m7-1h0m10-2h0m7 3h0m1-1h0m4 1h0m7 0h0m1-3h0m1-1h0m3 1h0m2 4h0m2-3h0m-206 9h0m72 0h0m31-1h0m8-2h0m0 3h0m9-4h0m3 3h0m2 1h0m6 0h0m2-3h0m0 1h0m10-1h0m23 0h0m10 1h0m5 0h0m10-2h0m-76 6h0m0 3h0m5-2h0m1 4h0m2-6h0m2 2h0m1 2h0m4-2h0m33 1h0m2 0h0m4-2h0m26 2h0m13-2h0m1 4h0m0-2h0m11 3h0m1-2h0m1 1h0m-216 6h0m51-4h0m18 0h0m16 1h0m2 0h0m19 2h0m3 0h0m2-1h0m4 2h0m13-5h0m9 2h0m27 1h0m2-1h0m1 1h0m15 1h0m4 1h0m1-3h0m9 1h0m11 2h0m4-3h0m1 2h0m-91 8h0m1-6h0m8 4h0m0 0h0m18 2h0m20-4h0m3-1h0m5 5h0m2-3h0m2 0h0m2 0h0m0 0h0m4 0h0m1 2h0m9-5h0m-73 10h0m6-2h0m35 3h0m17-2h0m2-1h0m4 3h0m0-1h0m1 1h0m0-5h0m2 4h0m1 1h0m0-4h0m26 2h0m0 0h0m3 0h0m5 0h0m-206 6h0m112 3h0m4-1h0m18-3h0m14 3h0m0-1h0m1-4h0m1 5h0m0-4h0m1 0h0m0 5h0m2-6h0m3 6h0m9-2h0m6 1h0m0 0h0m14 0h0m2 1h0m5-1h0m5-4h0m10 5h0m14-1h0m-88 4h0m19-3h0m0 2h0m1-2h0m7 1h0m0 1h0m5 1h0m2 0h0m3 2h0m6 0h0m5-3h0m3-1h0m1 0h0m35 4h0m-215 3h0m40 0h0m13-1h0m0 2h0m14-2h0m7 4h0m18 0h0m21-3h0m2 1h0m21 0h0m13-3h0m0 4h0m6-3h0m2 3h0m6-2h0m1 0h0m1-2h0m9 1h0m5 3h0m2-3h0m44 5h0m-219 1h0m65-1h0m16 3h0m12 0h0m17 0h0m52 1h0m32 0h0m21 1h0m0-4h0m4 1h0m1-2h0m-128 9h0m61-3h0m38 0h0m2 4h0m0-2h0m3-2h0m20 3h0m0 0h0m4-2h0m-172 9h0m18 2h0m26-6h0m14 1h0m23 2h0m2 0h0m7 1h0m18-4h0m37 2h0m-145 6h0m53 1h0m0 1h0m23-1h0m2-1h0m5-2h0m3 4h0m2 1h0m4-1h0m1 2h0m1-3h0m4-1h0m1-2h0m7 1h0m10 1h0m1 3h0m0 0h0m2-3h0m8 2h0m1 0h0m48-2h0m-207 8h0m72-2h0m32 3h0m3 1h0m8-1h0m6-4h0m17 4h0m2-2h0m2-1h0m3 1h0m6 1h0m0 1h0m1-2h0m2 1h0m4-4h0m3 0h0m19 5h0m-220 2h0m46-1h0m10 2h0m57 1h0m9-1h0m0 1h0m3 2h0m0 0h0m1-1h0m35 2h0m17-6h0m3 2h0m4 2h0m5 0h0m5 1h0m9-3h0m0-1h0m12-1h0m21 2h0m-148 9h0m14-1h0m2-3h0m18 0h0m1 5h0m4-4h0m19 2h0m7-2h0m24 0h0m1 1h0m2-2h0m1-1h0m2 4h0m0-4h0m1 4h0m14-4h0m2 3h0m2-1h0m2 1h0m1 1h0m1-1h0m3 1h0m8-2h0m2 0h0m-213 6h0m72 0h0m13-2h0m33 4h0m13 1h0m10-2h0m0-2h0m0 4h0m3-2h0m1-1h0m25-2h0m6 4h0m3-4h0m1 3h0m4 1h0m4 0h0m12-1h0m1-3h0m5 1h0m3 1h0m0 1h0m3 2h0m3-2h0m-174 7h0m63 1h0m3 0h0m3-2h0m22 0h0m4-3h0m6 5h0m1-4h0m0 1h0m1 1h0m0 1h0m0 0h0m27 1h0m19-4h0m4 0h0m2 0h0m3 5h0m15-4h0m3-1h0m2 2h0m-106 9h0m12-6h0m7 1h0m4 3h0m3 0h0m1 1h0m3 1h0m15-1h0m3-2h0m2-1h0m3 0h0m3 2h0m6 1h0m9-3h0m3-2h0m8 5h0m1 1h0m12-4h0m15 1h0m-93 8h0m5-5h0m5 3h0m17 2h0m1-1h0m1-2h0m2 3h0m2-1h0m2-2h0m4 3h0m5-2h0m0-1h0m4 2h0m2 1h0m3-2h0m3-2h0m1 0h0m2 0h0m4 0h0m0 3h0m2-3h0m2 5h0m4-3h0m2 2h0m3-1h0m1 1h0m2-1h0m4 1h0m1 0h0m3-4h0m1-1h0m3 5h0m-200 5h0m41-2h0m61 2h0m28-2h0m0-1h0m9 0h0m1 1h0m1-2h0m0 4h0m1-4h0m8 1h0m18 3h0m5-3h0m1 1h0m2 3h0m3-2h0m2-3h0m7 5h0m5-2h0m1-2h0m2 0h0m4 0h0m-72 5h0m2 2h0m1 1h0m3 0h0m2 3h0m10-6h0m9 5h0m4-2h0m0 1h0m5-3h0m1 5h0m2-1h0m1-2h0m2 2h0m2 0h0m2-4h0m8 3h0m6-2h0m3-1h0m1 1h0m3 3h0m1-2h0m7 1h0m-142 3h0m77 2h0m1 0h0m0 2h0m5-2h0m2-2h0m5 2h0m0-1h0m4 2h0m2 1h0m2-2h0m3 2h0m27-2h0m6 2h0m10-3h0m1 0h0m2 1h0m-69 3h0m5 2h0m2-1h0m6 3h0m25-4h0m16 4h0m3 2h0m8-1h0m1-1h0m2-1h0m-166 8h0m108-3h0m0 0h0m4 4h0m1-2h0m0-3h0m2 1h0m14-2h0m3 3h0m2-1h0m7 3h0m1-1h0m2 0h0m0-1h0m1 0h0m5-1h0m3-1h0m3 5h0m2-3h0m8 1h0m-181 3h0m33 4h0m83 0h0m4-1h0m5-3h0m0 3h0m19-2h0m1 0h0m0 1h0m6-2h0m6 2h0m7 0h0m10 2h0m0 0h0m-52 5h0m2-1h0m5 0h0m22 0h0m3 2h0m5 0h0m0-2h0m1 2h0m7-3h0m1 0h0m0 0h0m3-1h0m-232 8h0m194-1h0m22-1h0m2-1h0m4 0h0m-183 18h0m36 3h0m-32 14h0m23 0h0m28-3h0" stroke="#FF0000" stroke-width="4.6" stroke-linecap="round" fill="none"/>
<rect x="115.00" y="88.30" width="382.50" height="308.00" fill="none" stroke="#222" stroke-width="1.4"/>
<path d="M115.0 104.2L121.4 104.2M115.0 120.5L118.1 120.5M115.0 136.7L121.4 136.7M115.0 152.9L118.1 152.9M115.0 169.2L121.4 169.2M115.0 185.4L118.1 185.4M115.0 201.7L121.4 201.7M115.0 217.9L118.1 217.9M115.0 234.2L121.4 234.2M115.0 250.4L118.1 250.4M115.0 266.7L121.4 266.7M115.0 282.9L118.1 282.9M115.0 299.2L121.4 299.2M115.0 315.4L118.1 315.4M115.0 331.7L121.4 331.7M115.0 347.9L118.1 347.9M115.0 364.2L121.4 364.2M115.0 380.4L118.1 380.4M134.2 396.3L134.2 393.2M153.3 396.3L153.3 389.9M172.4 396.3L172.4 393.2M191.6 396.3L191.6 389.9M210.8 396.3L210.8 393.2M229.9 396.3L229.9 389.9M249.0 396.3L249.0 393.2M268.2 396.3L268.2 389.9M287.4 396.3L287.4 393.2M306.5 396.3L306.5 389.9M325.6 396.3L325.6 393.2M344.8 396.3L344.8 389.9M363.9 396.3L363.9 393.2M383.1 396.3L383.1 389.9M402.2 396.3L402.2 393.2M421.4 396.3L421.4 389.9M440.5 396.3L440.5 393.2M459.7 396.3L459.7 389.9M478.8 396.3L478.8 393.2" stroke="#222" stroke-width="1.3" fill="none"/>
<text transform="translate(100.3,242.7) rotate(-90)" font-size="26" text-anchor="middle">T-SNE_2</text>
<text x="306.2" y="429.1" font-size="26" text-anchor="middle" >T-SNE_1</text>
<text x="513.0" y="31.0" font-size="36" font-weight="bold" >b</text>
<rect x="583.00" y="67.00" width="32.12" height="21.80" fill="#660066"/>
<rect x="614.82" y="67.00" width="32.12" height="21.80" fill="#7700FF"/>
<rect x="646.63" y="67.00" width="32.12" height="21.80" fill="#0055FF"/>
<rect x="678.45" y="67.00" width="32.12" height="21.80" fill="#00FFEE"/>
<rect x="710.27" y="67.00" width="32.12" height="21.80" fill="#55FF00"/>
<rect x="742.08" y="67.00" width="32.12" height="21.80" fill="#CCFF00"/>
<rect x="773.90" y="67.00" width="32.12" height="21.80" fill="#FFBB00"/>
<rect x="805.72" y="67.00" width="32.12" height="21.80" fill="#FF3300"/>
<rect x="837.53" y="67.00" width="32.12" height="21.80" fill="#FF0000"/>
<rect x="869.35" y="67.00" width="32.12" height="21.80" fill="#EE0000"/>
<rect x="901.17" y="67.00" width="32.12" height="21.80" fill="#AA0000"/>
<rect x="932.98" y="67.00" width="32.12" height="21.80" fill="#660000"/>
<rect x="583.00" y="67.00" width="381.80" height="21.80" fill="none" stroke="#444" stroke-width="1.0"/>
<text x="583.0" y="55.6" font-size="26" text-anchor="middle" >0.0</text>
<text x="678.5" y="55.6" font-size="26" text-anchor="middle" >3.0</text>
<text x="773.9" y="55.6" font-size="26" text-anchor="middle" >6.0</text>
<text x="869.4" y="55.6" font-size="26" text-anchor="middle" >9.0</text>
<text x="964.8" y="55.6" font-size="26" text-anchor="middle" >12.0</text>
<path d="M583.0 67.0L583.0 61.5M678.5 67.0L678.5 61.5M773.9 67.0L773.9 61.5M869.4 67.0L869.4 61.5M964.8 67.0L964.8 61.5" stroke="#444" stroke-width="1.0" fill="none"/>
<text x="550" y="83.9" font-size="26" font-style="italic">E<tspan font-size="18" font-style="normal" dy="6">g</tspan></text>
<path d="M672.0 145.6L675.1 138.5L681.2 134.5L688.3 135.5L692.3 131.4L690.3 125.3L694.4 121.2L700.5 124.3L705.5 129.4L707.6 137.5L706.6 143.6L700.5 146.6L692.3 147.7L684.2 150.7L676.1 151.7L672.0 149.7ZM623.3 200.5L627.3 196.4L629.4 190.3L628.4 182.2L631.4 176.1L636.5 175.1L640.5 180.1L643.6 182.2L644.6 190.3L642.6 196.4L637.5 197.4L632.4 198.4L627.3 202.5L624.3 202.5Z" fill="#660066" stroke="#660066" stroke-width="2" stroke-linejoin="round"/>
<path d="M821 116h0m-116 7h0m10-5h0m39 5h0m2-4h0m43-1h0m2 1h0m1 0h0m9 4h0m2-6h0m4 6h0m-123 1h0m39 1h0m8 1h0m3-1h0m5 3h0m0-1h0m7 0h0m5-3h0m2 4h0m3-2h0m10 2h0m12 0h0m0-4h0m7 3h0m0-1h0m13 0h0m5-2h0m13 5h0m0-2h0m-134 7h0m5 0h0m0 0h0m33 0h0m1-2h0m1-3h0m13 1h0m1 3h0m0-2h0m7 0h0m5 0h0m9 1h0m7 3h0m0 0h0m1-4h0m2-1h0m1 2h0m5-2h0m6 3h0m8-2h0m7 2h0m2-4h0m1 3h0m7 1h0m6 1h0m3-1h0m3-2h0m2 3h0m1-1h0m1 2h0m4-2h0m0 0h0m4 0h0m-154 4h0m3 3h0m0-2h0m3 0h0m0-2h0m1 1h0m3 3h0m1 0h0m0-3h0m0 0h0m1 2h0m33-2h0m0 1h0m12-1h0m3 4h0m5-3h0m2-2h0m7 1h0m1 2h0m7-3h0m9 4h0m1-1h0m2-4h0m0 3h0m1-1h0m0-1h0m2 4h0m5-5h0m8 5h0m3-4h0m2 3h0m14-1h0m0-3h0m1 4h0m3 0h0m0-3h0m1 4h0m1-1h0m0 2h0m18-5h0m2 2h0m1-2h0m1 4h0m1-4h0m4 2h0m1 1h0m1 2h0m0-2h0m-162 8h0m2-3h0m2 3h0m15-5h0m16 0h0m4 5h0m1-2h0m6-3h0m9 2h0m1 2h0m3-2h0m1-3h0m2 1h0m5 1h0m3 0h0m3 3h0m15-5h0m1 5h0m0-5h0m0 5h0m1-2h0m5-1h0m1 4h0m0-2h0m2-3h0m2 0h0m2 1h0m4 0h0m9 4h0m11 0h0m2-3h0m2-1h0m1 3h0m0-4h0m0 0h0m1 0h0m3 2h0m4 0h0m3-1h0m3 0h0m2 3h0m0 0h0m1 1h0m1-3h0m2-2h0m0 1h0m3 3h0m1-3h0m6 2h0m4 2h0m9-4h0m3-1h0m7 4h0m-147 7h0m9-2h0m2 0h0m3 2h0m0 0h0m7-6h0m4 1h0m2 2h0m3-2h0m10 4h0m2-3h0m11 3h0m6-1h0m5 0h0m1 0h0m0-1h0m0 3h0m1 0h0m4-4h0m2 3h0m2-4h0m0 2h0m2-1h0m4 4h0m0-4h0m2 0h0m0 2h0m1 0h0m0 1h0m8-4h0m0 4h0m1-4h0m2 2h0m1-1h0m4 3h0m2-2h0m2 1h0m0 0h0m1 0h0m0-2h0m2 4h0m4-5h0m1 5h0m10-3h0m4-1h0m3 0h0m7 3h0m1-3h0m0 2h0m0 1h0m7-2h0m11-3h0m-159 10h0m0-1h0m17 2h0m7 0h0m1-1h0m2-2h0m1 3h0m5-2h0m1-2h0m26-1h0m0 6h0m2-3h0m2-3h0m2 1h0m0 2h0m0-2h0m3 4h0m4 0h0m1-1h0m1-2h0m3 1h0m12-1h0m2-1h0m0 2h0m0-2h0m2 0h0m6 2h0m2 3h0m10-1h0m1-3h0m2 1h0m0 1h0m7 2h0m1-2h0m6-2h0m0 2h0m5-1h0m2 1h0m1 0h0m1 1h0m4-3h0m4-1h0m0 1h0m3 2h0m17-3h0m-223 7h0m4-1h0m1 3h0m0 2h0m40-2h0m14 0h0m5-3h0m11 4h0m4 0h0m0-1h0m0-4h0m8 1h0m4 5h0m7-3h0m0-3h0m3 0h0m0 6h0m0-1h0m12-1h0m0-2h0m5 0h0m0 3h0m2-1h0m6-4h0m4 4h0m1 0h0m1 1h0m0-1h0m6 1h0m2 0h0m0-1h0m2-1h0m2-1h0m0 3h0m4 0h0m2-3h0m1 2h0m9-2h0m4 4h0m2-3h0m3-3h0m0 4h0m2-2h0m1 0h0m1 0h0m1 1h0m3 1h0m1 0h0m4-1h0m1-3h0m5 2h0m1 1h0m4 0h0m6-2h0m5 5h0m3-4h0m2 2h0m-209 7h0m1-2h0m16 2h0m2-4h0m5 2h0m6-1h0m2 3h0m2-3h0m0 0h0m1 1h0m1 1h0m1-2h0m7-1h0m6 0h0m0 4h0m3-5h0m6 2h0m4 0h0m22-2h0m5 2h0m1 1h0m4-2h0m16 2h0m6-1h0m1 0h0m2-2h0m2 4h0m3 0h0m1-2h0m1 4h0m2-6h0m15 2h0m1 3h0m3-3h0m0 0h0m1 0h0m16-2h0m34 1h0m6 4h0m8-1h0m2-2h0m0 0h0m1 3h0m6-1h0m5 2h0m1-2h0m2-1h0m-259 9h0m1 0h0m30 0h0m8-5h0m0 2h0m1 2h0m2 0h0m1 0h0m1-1h0m4-4h0m1 3h0m1-2h0m1 0h0m3 3h0m4 0h0m5-3h0m0 0h0m5 4h0m0-2h0m14 0h0m1 2h0m1-4h0m9 1h0m2 3h0m20-3h0m1 1h0m2-3h0m1 4h0m6-1h0m1-2h0m4-1h0m8 1h0m0 1h0m1 3h0m3-5h0m0 5h0m3-4h0m0 1h0m3 3h0m0 1h0m3-1h0m6 0h0m0-5h0m0 6h0m6 0h0m1-2h0m1 1h0m1-1h0m1 0h0m1 0h0m6-2h0m0 0h0m1 0h0m18 1h0m8-1h0m3-1h0m1 0h0m0 0h0m1 1h0m3 1h0m11 0h0m3 2h0m1-1h0m5-4h0m3 3h0m13 2h0m0-2h0m11 0h0m-256 7h0m2 1h0m1-4h0m1 4h0m3-2h0m0 1h0m25-1h0m7 0h0m3 1h0m0-2h0m0 3h0m2-1h0m0-2h0m1-1h0m0 2h0m1-1h0m3 1h0m1 1h0m9-1h0m1 2h0m0 0h0m1-1h0m0-4h0m51 4h0m3 2h0m0-2h0m1-1h0m1-1h0m2 4h0m4-3h0m0 2h0m1 1h0m1-5h0m0 1h0m3 3h0m10-1h0m2 2h0m3 0h0m1-4h0m2 3h0m2 1h0m5-2h0m4-1h0m0 0h0m2-3h0m2 3h0m1 2h0m0-1h0m0-4h0m1 6h0m3-4h0m1 3h0m2-3h0m4 3h0m6-2h0m0 2h0m4-1h0m1-3h0m4 1h0m5 1h0m1 1h0m2 1h0m1 0h0m2-4h0m0 4h0m2-5h0m2 0h0m19 3h0m3 0h0m4 0h0m3 2h0m10-3h0m3 2h0m1 0h0m-246 5h0m2-1h0m3 0h0m1-1h0m0 3h0m1 0h0m0-1h0m1 3h0m1-5h0m3 1h0m0 2h0m19 0h0m6-1h0m1 1h0m8-3h0m2 3h0m1-1h0m0 0h0m3-1h0m2 0h0m0 0h0m1 3h0m2-2h0m3-2h0m4-1h0m0 2h0m2 0h0m0 3h0m2-1h0m1-2h0m3 4h0m3-2h0m1-1h0m2-3h0m1 4h0m0-3h0m6 3h0m7 2h0m1-2h0m1 2h0m1-2h0m1 0h0m16-3h0m1 2h0m1-1h0m6 2h0m1 0h0m2 1h0m2-3h0m8 0h0m2-2h0m0 2h0m1-2h0m5 4h0m2 2h0m2-6h0m1 2h0m5 2h0m0-2h0m1 4h0m9-3h0m2-2h0m5 1h0m3 0h0m0-1h0m7-1h0m5 5h0m2 0h0m4-1h0m4 0h0m5-3h0m0 4h0m2-4h0m22-1h0m2 4h0m0-1h0m1 0h0m5-2h0m1 3h0m3-3h0m20 5h0m3-1h0m2 0h0m8 0h0m-261 2h0m2 2h0m4-3h0m14 5h0m12-1h0m2 0h0m0-3h0m2 0h0m12 3h0m4-2h0m3 2h0m8 0h0m0 1h0m4-2h0m4-2h0m0 4h0m3-3h0m0-1h0m6 0h0m1 0h0m2 5h0m3-2h0m3-3h0m15 0h0m3 0h0m2 2h0m1 0h0m1 0h0m0 2h0m0-2h0m2 1h0m1 0h0m9-2h0m4 0h0m2 2h0m5 2h0m1-3h0m4 0h0m1 2h0m2 1h0m1-2h0m16-4h0m7 3h0m2-1h0m2-1h0m1 4h0m2 0h0m3-1h0m0 0h0m7 1h0m3-4h0m2 3h0m0 1h0m2-1h0m6-2h0m4 0h0m3 3h0m0-1h0m1-4h0m2 4h0m2-4h0m3 6h0m6-6h0m6 4h0m4-3h0m15 5h0m5-1h0m1 0h0m0-1h0m5 0h0m13 2h0m-277 5h0m11-5h0m21 1h0m15 1h0m5 1h0m1 0h0m1 0h0m2-2h0m2 2h0m7 0h0m8-3h0m15 5h0m1-2h0m0-1h0m6 1h0m1-3h0m1 5h0m1 0h0m21-4h0m4 5h0m1-4h0m4 0h0m2 1h0m4-2h0m2 1h0m1 2h0m1-3h0m2 3h0m1-4h0m1 6h0m3-5h0m0 2h0m5 2h0m1-1h0m7-3h0m10 1h0m6-1h0m0-1h0m5 3h0m5-1h0m4 3h0m2-1h0m3 0h0m3 1h0m1-1h0m5-3h0m2 2h0m0 2h0m2-2h0m1-3h0m0 4h0m1-3h0m1 4h0m1-2h0m2 2h0m0 0h0m7-5h0m4 2h0m3 0h0m5 1h0m1 1h0m3 0h0m9 1h0m2-4h0m5 3h0m2 1h0m4-4h0m19 2h0m6 2h0m4-4h0m-288 6h0m0 0h0m0 0h0m26 3h0m3 0h0m40-2h0m1 1h0m15 3h0m2-1h0m3-3h0m3 0h0m3-1h0m0 1h0m0 0h0m14 3h0m3-1h0m0-2h0m2 0h0m0 2h0m1 2h0m3-4h0m1 1h0m4-3h0m0 4h0m2-1h0m2-2h0m5 2h0m0 2h0m2-4h0m9 0h0m0 2h0m0 0h0m0-1h0m2 1h0m1 2h0m2-4h0m0 3h0m2 1h0m3-1h0m2 0h0m6 0h0m3 0h0m3 1h0m3-1h0m1 1h0m1 0h0m11-2h0m1 1h0m1-3h0m3 3h0m10-2h0m10-1h0m0 3h0m3-3h0m3 1h0m3 4h0m3-4h0m2-1h0m1 3h0m0 0h0m3-2h0m2 1h0m4 2h0m4-1h0m0-1h0m1-3h0m3 6h0m2-2h0m9-3h0m36 0h0m2 0h0m0 2h0m2-1h0m-266 5h0m2 3h0m5-3h0m4 4h0m34 0h0m6-2h0m1 0h0m1-2h0m6 1h0m1 0h0m5-2h0m1 5h0m0-2h0m5-2h0m0 2h0m2 1h0m1-4h0m8 0h0m2 2h0m0 0h0m1 3h0m0 1h0m0-1h0m1-3h0m1-1h0m4 5h0m1-2h0m0-2h0m5 3h0m3-5h0m6 5h0m1-5h0m0 4h0m0 2h0m5-3h0m0-1h0m2 0h0m4 1h0m0 0h0m1 0h0m1 1h0m0-3h0m5 5h0m3-2h0m0 0h0m1-1h0m2 2h0m3-2h0m1 0h0m0 3h0m3-2h0m1-2h0m0-1h0m1 4h0m2-2h0m2 2h0m2-2h0m1 3h0m1 0h0m0-4h0m3 3h0m3-2h0m2 0h0m7 1h0m3-1h0m1-2h0m5 3h0m6-3h0m1 4h0m3-2h0m1-2h0m2 2h0m15-2h0m0 3h0m1-2h0m1 0h0m1 1h0m0-3h0m3 0h0m4 2h0m0-1h0m28 4h0m28-2h0m0-3h0m3 0h0m1 5h0m-287 5h0m0 1h0m1-2h0m1 2h0m0-4h0m3 2h0m1 1h0m1-1h0m0-3h0m3 4h0m15 0h0m0-3h0m9 0h0m1 2h0m0 1h0m1 2h0m1-3h0m28 3h0m9-3h0m5 1h0m6 0h0m5-3h0m0 0h0m9 2h0m0 2h0m10 1h0m1-4h0m12 2h0m3-4h0m4 5h0m1-2h0m5 0h0m1 1h0m0 0h0m1 1h0m2-3h0m2 2h0m3-3h0m4 4h0m2-2h0m4 0h0m4-1h0m2-1h0m0 4h0m0 0h0m2-1h0m1 1h0m0-2h0m2 0h0m4-1h0m1 0h0m2 3h0m8-4h0m6-1h0m1 4h0m3-4h0m23 2h0m0 1h0m6-3h0m2 3h0m2-3h0m1 3h0m1 0h0m4 0h0m36 0h0m21 1h0m-302 7h0m18-3h0m1-1h0m2 1h0m4 2h0m22-1h0m3-2h0m3-1h0m25 1h0m1 0h0m2 2h0m0-1h0m6 2h0m1-4h0m2 3h0m2 0h0m14 0h0m6 0h0m1 1h0m1 0h0m2 2h0m5-5h0m1 0h0m1 5h0m0-1h0m3-2h0m0 1h0m2 1h0m3-5h0m0 4h0m2 0h0m1 0h0m1 2h0m7-3h0m1 1h0m2-3h0m1-1h0m4 0h0m4 0h0m6 1h0m2 3h0m1 0h0m0-3h0m1 1h0m1 1h0m2 0h0m3 1h0m10-2h0m0 0h0m6 1h0m4 0h0m5-1h0m2 3h0m3-4h0m7 0h0m10 1h0m11-1h0m6 2h0m41 2h0m35-2h0m1 1h0m-312 4h0m9 2h0m3-2h0m1 0h0m6 3h0m4-2h0m0 0h0m14-1h0m1 1h0m2 1h0m2 0h0m0-1h0m2 2h0m1 1h0m5 0h0m1-1h0m8 1h0m23-3h0m1 3h0m0-2h0m1-2h0m4-2h0m2 2h0m0 1h0m3 2h0m2 0h0m1-2h0m4 2h0m2-1h0m6-3h0m2 0h0m2 0h0m1 1h0m1-2h0m0 2h0m1-1h0m2-1h0m2 3h0m11-3h0m1 1h0m1 1h0m1 0h0m1 0h0m0-2h0m2 5h0m1-3h0m3 2h0m0 0h0m1-1h0m6-3h0m5 1h0m1 2h0m9-3h0m0 4h0m3-1h0m4 0h0m1-2h0m7 1h0m2-2h0m3 4h0m1-1h0m4 3h0m8-4h0m11-1h0m2 4h0m1-2h0m13 2h0m4 1h0m25 0h0m61-3h0m-303 7h0m3-1h0m1-2h0m4 4h0m1 0h0m7 1h0m1-1h0m10 0h0m3-3h0m24 0h0m10 4h0m17-2h0m7-1h0m0 0h0m1 0h0m2-1h0m2 4h0m2-2h0m0-3h0m0 1h0m2-1h0m1 4h0m1-2h0m6 2h0m6-3h0m2 1h0m0 2h0m1-4h0m7 3h0m0 0h0m1 1h0m0 0h0m2-1h0m1 1h0m0-3h0m10-1h0m6 2h0m4 2h0m0 1h0m2-4h0m2 3h0m7-2h0m2-3h0m2 1h0m3 4h0m0 1h0m0-1h0m1-3h0m3 3h0m1-1h0m0-2h0m2 0h0m1 0h0m2 1h0m5 1h0m0 0h0m2 0h0m1 2h0m5-4h0m0 2h0m5 0h0m7-1h0m3 2h0m15-1h0m17-3h0m2 2h0m20-3h0m9 1h0m3 5h0m34-2h0m-304 7h0m1-3h0m2 1h0m0 1h0m1-2h0m1 1h0m6 1h0m2 1h0m1-2h0m0-2h0m2 1h0m3 3h0m3-4h0m2 2h0m1 2h0m1-3h0m0-1h0m1 2h0m1 1h0m11 1h0m1-2h0m12 0h0m3-2h0m10-1h0m15 5h0m7-5h0m0 1h0m1 0h0m1 3h0m2 0h0m3-1h0m3 0h0m0 1h0m6 1h0m2-5h0m1 3h0m2 0h0m7-1h0m1 4h0m0-2h0m1-3h0m0 2h0m2-1h0m2 2h0m4 1h0m0-4h0m6 4h0m1-2h0m0-1h0m2 2h0m3-3h0m4 3h0m2-4h0m0 0h0m2 4h0m1 1h0m1-2h0m1-2h0m2 1h0m6 1h0m0-2h0m2 1h0m1 3h0m2-1h0m3 2h0m0-1h0m1-1h0m15-1h0m2-1h0m1 0h0m1 3h0m2-2h0m1-1h0m1 3h0m4-4h0m2-1h0m15 4h0m27-4h0m5 1h0m5 2h0m5 2h0m17-2h0m11 0h0m2-1h0m14 0h0m1-1h0m0 0h0m4 4h0m-305 6h0m4-3h0m3 2h0m2-2h0m6 4h0m5 0h0m5-1h0m12-2h0m0 1h0m0-2h0m3-1h0m25 4h0m2-4h0m5 3h0m0 1h0m2-2h0m9 2h0m2 1h0m1-2h0m0 1h0m4-3h0m0 0h0m0 1h0m5-1h0m3-1h0m3 3h0m1 0h0m3-1h0m0-1h0m3 3h0m1 1h0m1-6h0m7 2h0m1 0h0m1-1h0m0-1h0m12 1h0m2 4h0m2-3h0m2 2h0m1-3h0m2 1h0m4 0h0m1-1h0m5 4h0m2-4h0m0 0h0m0 4h0m2-1h0m5 0h0m2 1h0m2-2h0m0-2h0m2 4h0m1-3h0m1 2h0m1-2h0m0-1h0m3 5h0m2-2h0m2 0h0m3 2h0m4-2h0m0-3h0m1 2h0m2 2h0m3 1h0m0-1h0m1-1h0m5 0h0m1 1h0m3 0h0m1-4h0m1 5h0m1-5h0m38 5h0m2-3h0m3-2h0m5 0h0m1 1h0m1 2h0m8 1h0m2-2h0m5-1h0m7 3h0m7-3h0m2-1h0m-272 9h0m3-3h0m3 3h0m1 0h0m18-4h0m35 3h0m0-1h0m3-2h0m10 1h0m1 3h0m2-1h0m2 3h0m4-4h0m4 2h0m2 0h0m3-3h0m1 1h0m2 3h0m2-1h0m2-1h0m6 1h0m10 0h0m7-1h0m1-2h0m2 3h0m1 0h0m1 0h0m0-2h0m1 2h0m2 1h0m0 0h0m2-3h0m1 1h0m1-2h0m1-1h0m2 2h0m1 2h0m1 0h0m12-4h0m0 1h0m3 4h0m4-4h0m0 0h0m3 2h0m1-3h0m2 2h0m1 3h0m3 0h0m3-4h0m0 3h0m1 0h0m0 1h0m5-2h0m2 1h0m3-3h0m2 4h0m2-2h0m0 0h0m4 1h0m4 0h0m3-1h0m5 1h0m1 1h0m4 0h0m25-2h0m3-1h0m5-2h0m2 1h0m3 3h0m2 2h0m4-1h0m1-3h0m1 1h0m18-3h0m5 3h0m2 1h0m-284 3h0m3 2h0m2-2h0m11 2h0m10 0h0m2-2h0m13 2h0m2-2h0m1 1h0m0 4h0m2-2h0m4 1h0m14-3h0m11 1h0m5 2h0m0-3h0m2 1h0m2-1h0m0 1h0m2-1h0m4 0h0m0-2h0m5 5h0m1-5h0m3 5h0m5-1h0m6-2h0m0 0h0m4 2h0m1-1h0m1 3h0m3 0h0m3-3h0m2 0h0m1 2h0m12-1h0m3 1h0m0-1h0m1 2h0m11-2h0m1-1h0m5-1h0m8 0h0m4-2h0m0 5h0m4-2h0m1 3h0m3 0h0m4-5h0m2 0h0m1 5h0m9 0h0m3-4h0m1 3h0m1-2h0m2 3h0m2-6h0m1 3h0m0 1h0m31-3h0m24 3h0m26 1h0m-276 2h0m2-1h0m1 0h0m2 3h0m3 0h0m1 1h0m3-3h0m1 2h0m2 2h0m0-1h0m2-1h0m13-2h0m4 2h0m2-2h0m3 0h0m3 3h0m19-1h0m8-3h0m23 2h0m0 0h0m1 0h0m3 0h0m1-1h0m11 0h0m5-1h0m1 3h0m3-3h0m6 0h0m0 1h0m20 2h0m2 0h0m3 2h0m1-3h0m2 3h0m0-4h0m1-1h0m4 2h0m0 2h0m1 1h0m0-5h0m1 3h0m1 0h0m1 2h0m0-2h0m7 2h0m3-4h0m0 3h0m0-2h0m3 0h0m2-1h0m0 4h0m4-5h0m2 3h0m1-2h0m8-1h0m0 4h0m0 0h0m4 0h0m0-3h0m3 3h0m22-1h0m2-1h0m0 4h0m6-4h0m1-1h0m1 4h0m1-3h0m1 2h0m3-3h0m0 0h0m2 1h0m15 3h0m19 0h0m11-1h0m-277 8h0m2-1h0m5-2h0m13 2h0m1-4h0m1 0h0m4-1h0m5 2h0m4 2h0m2-3h0m3 2h0m1 0h0m13-1h0m2 2h0m19 1h0m0-1h0m3 2h0m4-2h0m13 1h0m49-3h0m1 1h0m3-1h0m1-1h0m2 2h0m1 1h0m3-3h0m3 5h0m2-5h0m4 1h0m0-1h0m5 2h0m10-2h0m5 0h0m0 5h0m2-4h0m3-2h0m4 4h0m1-2h0m17 4h0m4-2h0m2-2h0m0 1h0m2-1h0m7 0h0m5 1h0m4-2h0m3 3h0m2-2h0m29 3h0m1-2h0m2 1h0m-264 4h0m2 0h0m7 0h0m2 3h0m11-3h0m5 0h0m1 4h0m7-1h0m1 0h0m2 0h0m2-1h0m7 0h0m2 0h0m1-4h0m0 4h0m0 1h0m3-4h0m2 4h0m18-3h0m6 0h0m3 4h0m2-1h0m10-2h0m6-2h0m2 2h0m2-1h0m1-2h0m1 2h0m0 3h0m1 0h0m0-2h0m1 0h0m0 2h0m3 0h0m4-4h0m10 1h0m2 3h0m15-4h0m2-1h0m6 2h0m0 0h0m2-1h0m2 0h0m6 3h0m5 2h0m4-5h0m5 4h0m24-1h0m0-2h0m7-1h0m4 3h0m2-1h0m19 1h0m11 0h0m20-3h0m-263 7h0m1 1h0m9 2h0m5 0h0m1 0h0m6-1h0m2 2h0m1 0h0m5-1h0m4-3h0m1-1h0m2 3h0m3-2h0m2 4h0m1-2h0m3-2h0m3 0h0m1 2h0m1-1h0m1 2h0m3-1h0m7-2h0m4-2h0m0 2h0m2-1h0m5 2h0m0 2h0m4-1h0m4-1h0m1-2h0m3-1h0m1 4h0m1 1h0m2-2h0m1 1h0m1-2h0m6 1h0m0 0h0m3 2h0m3-5h0m7 2h0m0 1h0m1 0h0m3 2h0m5 0h0m1-4h0m4 4h0m2-2h0m5-1h0m72 3h0m2 1h0m2-2h0m1-2h0m0 2h0m3-3h0m3 4h0m19-4h0m-228 5h0m1 1h0m10 3h0m9 0h0m1-4h0m1 3h0m4-2h0m3 5h0m0-2h0m2 2h0m4-6h0m1 0h0m7 2h0m0 1h0m4 2h0m7-3h0m2 3h0m1-3h0m0-1h0m2 0h0m1 3h0m1-2h0m8-1h0m4 2h0m6-1h0m2 1h0m7 0h0m9-2h0m1 4h0m15-3h0m2 4h0m0-2h0m1 1h0m3-5h0m0 1h0m4 2h0m0-2h0m6 0h0m6 3h0m14-2h0m5 4h0m20 0h0m31-4h0m0 4h0m2-3h0m7 2h0m4-1h0m12-1h0m6 1h0m5-4h0m12 5h0m14-4h0m2 3h0m1 0h0m-266 5h0m11 0h0m1-2h0m1 0h0m1 0h0m4 1h0m3-1h0m6 5h0m2-4h0m1 2h0m1 1h0m1-4h0m0 3h0m24-3h0m0 2h0m1-2h0m8 4h0m4 0h0m30-1h0m0 2h0m3-4h0m1 2h0m2 1h0m2-1h0m0 1h0m1 0h0m5-4h0m1 3h0m1-4h0m0 5h0m4-5h0m5 1h0m1 1h0m1 0h0m3 3h0m2-5h0m4 3h0m9-1h0m5 4h0m6-4h0m1 4h0m2-1h0m7 1h0m6-4h0m4 2h0m29-2h0m3-1h0m4 3h0m6-1h0m1 3h0m1-5h0m0 0h0m3 5h0m30-3h0m5-2h0m7 4h0m0 0h0m-259 6h0m2 1h0m2-2h0m1-1h0m1 2h0m0-1h0m6-2h0m8-1h0m1-1h0m4 1h0m5 0h0m8 0h0m1 1h0m0 1h0m1 0h0m0-1h0m6 1h0m7 3h0m4-2h0m7 1h0m2 0h0m0 0h0m3-4h0m1 5h0m18-4h0m3 0h0m6 4h0m1-3h0m0 1h0m4-1h0m0-1h0m0 1h0m2 0h0m0 0h0m4-3h0m2 3h0m2-1h0m2 3h0m1-3h0m2-2h0m1 6h0m6-3h0m3-1h0m17 1h0m0-2h0m1 2h0m4-2h0m7 0h0m5 3h0m2-1h0m5 0h0m4 1h0m11-1h0m3 2h0m19-5h0m1 6h0m0-1h0m2 1h0m4-3h0m2-2h0m2 0h0m1 3h0m1 1h0m30-1h0m6-2h0m-245 7h0m32-2h0m2 5h0m1-4h0m1 1h0m0 2h0m8 1h0m3-1h0m3 0h0m1-3h0m0 1h0m2 3h0m2-5h0m5 3h0m5 1h0m1 0h0m6-4h0m0 3h0m4-2h0m5 4h0m0-4h0m8 3h0m3-4h0m1 0h0m12-1h0m26 5h0m2-2h0m1 3h0m0-1h0m0-3h0m1 3h0m1 0h0m8-4h0m0 4h0m1-3h0m3 2h0m8-4h0m3 5h0m1-4h0m0 1h0m4 3h0m4 1h0m9-6h0m11 5h0m3 0h0m2-3h0m32 4h0m13 0h0m8-1h0m2-2h0m-242 5h0m1 1h0m0-3h0m23 4h0m8-3h0m2 4h0m1-1h0m0-4h0m2 0h0m4 1h0m0 1h0m1 1h0m2 2h0m0-1h0m2-2h0m1 1h0m1 3h0m1-3h0m5 2h0m1 0h0m0-4h0m6 3h0m3-2h0m0 3h0m2-2h0m4 0h0m0 1h0m2-2h0m5 3h0m20-2h0m2 1h0m0-1h0m4-1h0m8 2h0m15-2h0m3 1h0m0-2h0m2 2h0m1 2h0m6-2h0m1 1h0m1-2h0m1 2h0m17-3h0m0 1h0m1 1h0m1-3h0m0 3h0m2 0h0m1-2h0m0 1h0m2 0h0m4 3h0m0-1h0m3-4h0m23 2h0m35 3h0m5-2h0m-233 4h0m16 1h0m2 1h0m8 3h0m2-4h0m4 4h0m1-2h0m1 0h0m0-2h0m1 0h0m3-1h0m6 0h0m14-1h0m5 2h0m0 0h0m0 1h0m2 3h0m1-2h0m1-4h0m1 5h0m11-2h0m1-3h0m5 3h0m1 0h0m13-3h0m11 4h0m2 0h0m9-2h0m7 1h0m3 1h0m0-4h0m3 1h0m0 4h0m1-4h0m1 1h0m0-2h0m19 4h0m6 0h0m1-1h0m30 1h0m26-1h0m7-2h0m-208 8h0m0 2h0m6-4h0m1 5h0m4-1h0m2-1h0m4 0h0m2-4h0m6 3h0m1 1h0m1 2h0m3-4h0m0 2h0m0-1h0m10 0h0m6-1h0m18 0h0m0 1h0m0-3h0m44 4h0m2 1h0m11-2h0m3-2h0m4 0h0m3 2h0m1 2h0m10 0h0m1-3h0m6 1h0m27 1h0m-172 6h0m9 1h0m4 0h0m11 1h0m2-3h0m7-2h0m0 3h0m5 1h0m8-4h0m7 3h0m13 2h0m12-1h0m1-1h0m1-3h0m27 0h0m2 3h0m1-2h0m2 3h0m2 0h0m8 0h0m5-1h0m2-4h0m2 3h0m3 3h0m0-6h0m0 1h0m1 1h0m-142 7h0m6-2h0m1 4h0m11-4h0m1 3h0m4-1h0m6-2h0m6 3h0m21 0h0m1-3h0m4 2h0m9 2h0m0-2h0m3 1h0m2-1h0m0 0h0m2 1h0m10 0h0m1-1h0m4 2h0m1-5h0m16 5h0m1 0h0m2-5h0m2 4h0m1-3h0m5 1h0m1 3h0m0-3h0m1 2h0m3 0h0m10 2h0m1-4h0m-137 6h0m8-1h0m22 2h0m1 0h0m5-2h0m15 1h0m0 2h0m1-3h0m10 2h0m11-1h0m2 3h0m2-4h0m2 4h0m2-1h0m9-2h0m1 3h0m0-3h0m1 2h0m1-3h0m16 5h0m1-2h0m2-3h0m1 4h0m1-3h0m0 0h0m1-1h0m5 3h0m1 0h0m1 1h0m1-1h0m2-1h0m3 2h0m0-2h0m0-3h0m2 3h0m1 3h0m-97 5h0m3-1h0m4 0h0m8-4h0m0 0h0m1 5h0m6 0h0m7-2h0m1-2h0m9 2h0m5-1h0m10 3h0m1-3h0m1 0h0m1 0h0m0-1h0m0 1h0m3-2h0m1 3h0m17 1h0m1 1h0m1-1h0m2 1h0m1-3h0m7 1h0m3 2h0m1 1h0m2-2h0m3-1h0m26-1h0m0 0h0m1 1h0m-127 5h0m8 2h0m1 1h0m2-1h0m2-1h0m1 3h0m1-4h0m0 2h0m0 0h0m2-2h0m1 3h0m19-2h0m1 0h0m47-2h0m2 2h0m0 1h0m-79 5h0m3-2h0m1 4h0m4-4h0m-7 5h0m4 1h0m55 3h0m2-3h0m2 3h0m1-1h0" stroke="#660066" stroke-width="4.6" stroke-linecap="round" fill="none"/>
<path d="M639 188h0m119 5h0m22-3h0m5 1h0m-37 18h0m-43 12h0m55-2h0m-57 8h0m77 1h0m8-1h0m-164 8h0m18-2h0m95 3h0m-33 3h0m14 2h0m8 0h0m29-3h0m39 1h0m-145 6h0m6 0h0m61-1h0m8 1h0m5 1h0m33 3h0m-2 2h0m5-2h0m4 1h0m-64 7h0m75 4h0m-33 2h0m37-1h0m2 0h0m-7 7h0m1-1h0m-105 6h0m18 5h0m16-5h0m14 1h0m11 2h0m12 0h0m13-2h0m6 3h0m-85 6h0m3 0h0m0-2h0m3 2h0m7-1h0m61 2h0m-90 5h0m31-4h0m66 4h0m6-2h0m3-2h0m1 2h0m-95 4h0m5 0h0m5-1h0m30 5h0m3-2h0m3-2h0m33 4h0m17-2h0m8-1h0m-24 5h0m2 0h0m35 3h0m-104 5h0m18-3h0m2 4h0m7 0h0m5-4h0m2 5h0m26-1h0m86-2h0m-126 8h0m3-4h0m17 3h0m0-1h0m4 1h0m32 0h0m1 0h0m36-3h0m25 6h0m-140 6h0m58-3h0m-46 3h0m4 2h0m15 2h0m9 1h0m31-5h0m36 2h0m2-1h0m25 1h0m-132 6h0m22 1h0m90-2h0m26-1h0m-69 12h0m-70 5h0m69-3h0m5-1h0m57 2h0m-48 4h0m4 1h0m34 0h0m35 0h0m-111 8h0m9-3h0m2 0h0" stroke="#7700FF" stroke-width="4.6" stroke-linecap="round" fill="none"/>
<path d="M736 127h0m-4 4h0m14 1h0m16 0h0m71 2h0m-102 2h0m2 0h0m5 1h0m8 0h0m10 1h0m-13 5h0m48 4h0m2-2h0m-7 3h0m80 4h0m-109 3h0m24 4h0m21-3h0m2 1h0m54 1h0m-145 6h0m17-4h0m10 5h0m9 0h0m42-1h0m54-3h0m45 1h0m-193 4h0m50 3h0m9-2h0m23 2h0m4-3h0m6-1h0m19 3h0m56 0h0m0-2h0m14 0h0m2 0h0m-219 11h0m7-3h0m2 3h0m7-2h0m2-4h0m3 0h0m3 3h0m12 2h0m12-2h0m128 1h0m6-1h0m18-1h0m-181 5h0m16 1h0m1 0h0m75 1h0m6 2h0m10 0h0m72-4h0m-217 8h0m56 1h0m5-3h0m0 3h0m25-3h0m22 4h0m6 0h0m4 0h0m1-2h0m5-2h0m27 2h0m2-1h0m7 0h0m27-1h0m2-1h0m2 3h0m0 1h0m-195 2h0m51 1h0m20-1h0m7 3h0m30 0h0m8-2h0m9 3h0m73-3h0m2 3h0m2 0h0m51 1h0m22 1h0m-226 4h0m27 2h0m9-4h0m2 1h0m41 1h0m57-2h0m7-2h0m12 4h0m2 1h0m58-3h0m-200 8h0m39-3h0m8 2h0m7 0h0m21 3h0m11-1h0m3-2h0m7-2h0m6 2h0m5-1h0m23 2h0m2 0h0m21 1h0m56-1h0m-209 5h0m43 1h0m0 0h0m2-1h0m9 1h0m12-1h0m2 2h0m7-1h0m1-4h0m11 4h0m7 2h0m1-2h0m10-1h0m1 3h0m5-5h0m5 2h0m39 2h0m5-2h0m1 2h0m55 1h0m-211 4h0m24-1h0m1 2h0m6-4h0m2 0h0m26 0h0m9 5h0m19-4h0m50 0h0m6 4h0m69-3h0m-224 6h0m11-1h0m29-2h0m10 5h0m41-2h0m32-3h0m105 4h0m-227 3h0m3 5h0m4-3h0m29-2h0m7 3h0m0-1h0m1 2h0m31-5h0m7 5h0m13-1h0m5 2h0m1-4h0m-171 9h0m90 1h0m33-3h0m73-2h0m1 5h0m-178 3h0m71 1h0m1-4h0m29 0h0m19 3h0m8 1h0m29-2h0m115 0h0m-286 8h0m52-3h0m1 4h0m41-2h0m7 1h0m15 1h0m9 0h0m5-1h0m3 1h0m21-1h0m9-1h0m2 1h0m0-4h0m1 2h0m18 2h0m2-3h0m103 1h0m-283 8h0m60 2h0m39 0h0m5-1h0m10-5h0m7 2h0m6 0h0m38 3h0m16-3h0m-87 5h0m9 3h0m6 1h0m5-1h0m23 2h0m8-5h0m9 0h0m7 2h0m5 1h0m18-2h0m3 0h0m-157 8h0m63-4h0m44 2h0m6 1h0m3 0h0m14 3h0m15-6h0m6 3h0m7 3h0m-154 1h0m110 0h0m2 3h0m2-1h0m5-1h0m-122 7h0m7-1h0m11 3h0m27 0h0m1 0h0m5-2h0m11-1h0m32 1h0m26-2h0m-133 9h0m7 1h0m43-4h0m6-1h0m27 3h0m11-3h0m1 4h0m-88 4h0m10-1h0m1 0h0m88 2h0m8 0h0m10 0h0m-104 8h0m3 0h0m14-5h0m7 4h0m17 0h0m30 0h0m31 0h0m19-4h0m19 5h0m-127 5h0m1-4h0m31 1h0m19 1h0m6 0h0m7 2h0m26-2h0m26-1h0m-70 10h0m2 0h0m1-3h0m2 0h0m87 1h0m-105 3h0m6 2h0m99-1h0m-135 9h0m1-4h0m4 6h0m4-2h0m2 2h0m20-1h0m69-2h0m12-2h0m2 3h0m-99 2h0m19 5h0m14-3h0m58-1h0m25 4h0m2-2h0m-116 4h0m12-1h0m82 1h0m1 4h0m21-3h0m-118 6h0m34-2h0m5 0h0m13 3h0m13 0h0m6-3h0m19 3h0m18 2h0m-125 4h0m83-3h0m30 4h0m7-3h0m-77 7h0m29 3h0m42-4h0m1 4h0m2 1h0m-59 3h0" stroke="#0055FF" stroke-width="4.6" stroke-linecap="round" fill="none"/>
<path d="M804 120h0m13 0h0m7 0h0m1 2h0m-86 7h0m21-6h0m65 3h0m-78 5h0m12 2h0m42-3h0m19 3h0m18 1h0m-109 7h0m8-4h0m2-1h0m4-1h0m0 1h0m2 4h0m53-4h0m7 3h0m7-3h0m2 1h0m1 3h0m3 0h0m2-4h0m6 3h0m1-1h0m13 1h0m1 0h0m12 1h0m-130 6h0m21-3h0m31-1h0m1 0h0m18 0h0m14 2h0m6-2h0m4 4h0m1 0h0m10-5h0m-81 11h0m32 1h0m14-6h0m0 2h0m3 4h0m58-5h0m1 3h0m6 1h0m14-1h0m-143 5h0m3 3h0m4-4h0m3 1h0m14 0h0m4 2h0m1 0h0m11 0h0m2-5h0m15 3h0m31-3h0m38 5h0m0-2h0m1-3h0m2 5h0m-144 7h0m1-3h0m60-1h0m1 4h0m12-4h0m8 0h0m7 1h0m22-2h0m9 3h0m3 0h0m1 2h0m18-5h0m-112 7h0m8 2h0m38 1h0m10-3h0m27-1h0m44 2h0m11 2h0m4 1h0m2-4h0m-218 6h0m68 2h0m4-3h0m15 1h0m7 2h0m5 0h0m19-3h0m2 2h0m36 2h0m0-2h0m2 0h0m8 0h0m14 3h0m11-4h0m4 3h0m0-4h0m13 0h0m3 1h0m1 4h0m2-2h0m-126 5h0m114 2h0m2-5h0m-161 7h0m82 0h0m3 5h0m48-1h0m5-3h0m0 1h0m6-2h0m3 3h0m1 1h0m-45 4h0m23-2h0m39 4h0m11-2h0m10 3h0m-213 4h0m49-3h0m64 0h0m1 1h0m42-1h0m25 2h0m11-1h0m21-1h0m1 3h0m-205 8h0m27-1h0m17-2h0m22-1h0m35-1h0m9 0h0m45 4h0m40 0h0m-95 5h0m25-1h0m2-2h0m40 3h0m30-3h0m20 1h0m1-2h0m3 1h0m-123 10h0m0-1h0m24-1h0m22-3h0m21 0h0m33 4h0m23-3h0m1 1h0m-141 9h0m52-3h0m92 2h0m1-4h0m-212 10h0m65 0h0m92 1h0m-39 3h0m32 4h0m5-5h0m4 3h0m8-2h0m3-2h0m37 6h0m-208 2h0m74 3h0m50-2h0m37 2h0m21-3h0m26 4h0m7-5h0m-203 7h0m33 4h0m43-1h0m69-4h0m11-1h0m9 3h0m7-2h0m5 1h0m-87 7h0m9 2h0m36-4h0m0 4h0m1-3h0m0 2h0m25-1h0m4-2h0m15 5h0m-199 1h0m125 1h0m1-1h0m0 1h0m1 2h0m4-4h0m24 5h0m6-4h0m0 3h0m27-3h0m-150 6h0m16 0h0m51 11h0m39-4h0m26 0h0m-64 8h0m33 2h0m14-3h0m32 1h0m-181 7h0m35-3h0m27 3h0m69-2h0m1 1h0m2-1h0m15 1h0m-16 7h0m5-1h0m24 0h0m-5 2h0m43 3h0m-200 7h0m189 0h0m-14 2h0" stroke="#00FFEE" stroke-width="4.6" stroke-linecap="round" fill="none"/>
<path d="M736 128h0m12-4h0m35 2h0m5 1h0m12 0h0m-45 7h0m26-1h0m4 1h0m6 0h0m33 0h0m-99 7h0m56-2h0m5 1h0m4-2h0m12-2h0m0 3h0m3-4h0m34 3h0m-56 4h0m32 5h0m29-1h0m1-2h0m22 2h0m5 0h0m-98 2h0m6 1h0m2-2h0m2 1h0m11 0h0m7 4h0m72-4h0m-39 7h0m27-1h0m-81 7h0m2 3h0m26-3h0m27 2h0m4-3h0m5 1h0m18-1h0m-113 9h0m23 1h0m-49 6h0m55-3h0m75 3h0m16-1h0m7 1h0m-212 4h0m142-2h0m30 0h0m8 0h0m2 0h0m-185 11h0m44-1h0m91-1h0m69-4h0m1 6h0m-155 1h0m122 2h0m51 3h0m2-5h0m-201 8h0m9 2h0m168 0h0m19-1h0m33-2h0m0 3h0m-90 1h0m52 3h0m-30 6h0m4 1h0m9-2h0m36 3h0m-85 4h0m33-2h0m51-1h0m5 1h0m-70 9h0m3-1h0m1-1h0m-31 8h0m19-3h0m7 5h0m4-6h0m8 1h0m7 0h0m9 2h0m6-1h0m7 4h0m-42 3h0m9 1h0m0-4h0m25 2h0m8-1h0m8 1h0m19 4h0m-98 1h0m30 2h0m5 1h0m8 1h0m17-5h0m1 5h0m1-5h0m1 3h0m1-2h0m5 4h0m15-1h0m0 1h0m1-2h0m-81 5h0m30 2h0m0 1h0m2-3h0m2-1h0m3 2h0m14 1h0m8-3h0m13 3h0m10 0h0m6 1h0m-77 4h0m19-1h0m3 0h0m31 3h0m1-3h0m9 2h0m2-3h0m0-1h0m12 3h0m-67 6h0m40 2h0m6-1h0m5-3h0m9 4h0m3 1h0m14-4h0m4-1h0m4 3h0m-77 7h0m20-4h0m5 3h0m7 0h0m18 1h0m-80 4h0m42 0h0m1-3h0m2 2h0m43-1h0m5 5h0m2-3h0m7-1h0m1-1h0m-90 8h0m25 0h0m2-2h0m1 2h0m7 1h0m16-1h0m2-2h0m14 1h0m27 0h0m-46 5h0m10 3h0m38 0h0m-74 2h0m11 3h0m7-2h0m11 4h0m10 0h0m27 0h0m10-3h0m-52 12h0m5 0h0m50 2h0m1-2h0m-57 8h0m23-2h0m9 2h0m-28 3h0m30 2h0m2-3h0m2 0h0m4 3h0m-5 5h0m-35 8h0" stroke="#55FF00" stroke-width="4.6" stroke-linecap="round" fill="none"/>
<path d="M825 119h0m-103 37h0m135-3h0m-168 16h0m36-4h0m-49 10h0m29-1h0m108 0h0m4 3h0m-25 0h0m64 3h0m0 0h0m-11 17h0m37-2h0m12 14h0m5 0h0m2 3h0m-60 13h0m52-1h0m-64 2h0m12 3h0m2 0h0m23 0h0m19 0h0m-49 7h0m27-1h0m1 2h0m2-2h0m1-1h0m-25 9h0m43-1h0m-49 5h0m23-1h0m1 2h0m18-2h0m-49 6h0m29-1h0m2 4h0m27-5h0m-26 7h0m9 0h0m8-1h0m-10 15h0m13 0h0m13 0h0m7 2h0m5-6h0m1 1h0m0 0h0m3 1h0m-67 6h0m6 0h0m9 2h0m1-3h0m8 2h0m13-2h0m6 1h0m2 4h0m9-4h0m3 2h0m1-1h0m4 2h0m0-5h0m0 1h0m-29 10h0m11-3h0m8 1h0m0 0h0m20 1h0m-66 3h0m10 1h0m16 1h0m0-2h0m1 2h0m29 2h0m0-3h0m-44 4h0m49 4h0m-54 6h0m1 0h0m13 0h0m18 0h0m7-1h0m3 2h0m5-4h0m-44 8h0m21-1h0m10-2h0m2 3h0m19-2h0m-21 6h0m16 0h0m-16 6h0" stroke="#CCFF00" stroke-width="4.6" stroke-linecap="round" fill="none"/>
<path d="M754 149h0m-2 27h0m141 36h0m5-2h0m-4 7h0m-63 7h0m59-3h0m-62 8h0m7 0h0m2 0h0m31-2h0m12 3h0m-10 8h0m12 5h0m-49 5h0m4-2h0m32-2h0m-6 8h0m-4 15h0m21-3h0m17-2h0m10 3h0m4-1h0m-63 8h0m34-2h0m2 2h0m13-1h0m1-1h0m5-1h0m6 3h0m-71 5h0m42-4h0m2 0h0m1 3h0m2 2h0m13-2h0m2-1h0m3-1h0m5 2h0m1-3h0m-66 6h0m32 5h0m8 1h0m8-1h0m1-1h0m15 2h0m2-2h0m1 0h0m0-3h0m2 3h0m2 2h0m-67 3h0m16 1h0m2-2h0m16-1h0m1 1h0m1 3h0m0-1h0m1-3h0m15 0h0m7 2h0m-31 3h0m1 6h0m1-2h0m35 0h0m-37 3h0m6 0h0m18 4h0m5-4h0m2 5h0m3-5h0m-32 8h0m6 0h0m13 1h0m7-3h0m-38 6h0m20 1h0m9 1h0m1 2h0m2-4h0m4 1h0m2 0h0" stroke="#FFBB00" stroke-width="4.6" stroke-linecap="round" fill="none"/>
<path d="M893 224h0m-9 41h0m-7 3h0m17 3h0m2 3h0m-18 9h0m2 1h0m17-2h0m-18 14h0m14 3h0m18 3h0m-32 3h0" stroke="#FF3300" stroke-width="4.6" stroke-linecap="round" fill="none"/>
<path d="M799 117h0m-82 2h0m35 3h0m2-2h0m5 1h0m1 2h0m37 0h0m2-4h0m4 4h0m0-1h0m12-4h0m3 1h0m8 4h0m-94 1h0m3 4h0m8-1h0m14 2h0m1-6h0m4 2h0m2 2h0m0 1h0m2-3h0m16 3h0m18-3h0m7-1h0m2 5h0m-117 0h0m1 2h0m38 0h0m3 2h0m1-2h0m8-1h0m4 2h0m1 2h0m3-1h0m4 0h0m1 0h0m3-3h0m3-1h0m0 2h0m15 2h0m0 1h0m2-4h0m1 0h0m4 1h0m7 1h0m2 2h0m1-5h0m0 1h0m1 5h0m2-6h0m1 6h0m0-5h0m3 1h0m1 3h0m1 0h0m1-5h0m1 6h0m1-3h0m3 0h0m2-3h0m16 2h0m8 2h0m-159 6h0m11-3h0m1 0h0m5 4h0m1 0h0m0 1h0m1-5h0m3 0h0m2 4h0m1-2h0m2 1h0m20 2h0m6-2h0m3-3h0m11-1h0m1 2h0m1 3h0m5-3h0m1 3h0m2-5h0m6 0h0m6 4h0m10-2h0m8 3h0m3-4h0m5 4h0m3 0h0m2-1h0m5-3h0m2 4h0m0-4h0m12 3h0m0-2h0m2-1h0m1 5h0m5-4h0m11 0h0m15 3h0m-163 2h0m6 4h0m6 0h0m5-5h0m1 2h0m15 3h0m12 0h0m11-2h0m2-1h0m1 1h0m1-2h0m1 2h0m1-2h0m1 5h0m1-6h0m6 5h0m2 1h0m2-5h0m3 3h0m17 1h0m1 0h0m4-4h0m0 2h0m2-3h0m11 5h0m10 0h0m2 0h0m3-4h0m5 2h0m1 0h0m3 2h0m2-3h0m0 3h0m1-3h0m4 3h0m15 0h0m15 0h0m5-3h0m7 2h0m-183 4h0m5-2h0m31 5h0m7-3h0m3 0h0m17 2h0m5-1h0m0-2h0m7 5h0m8-1h0m3-1h0m1-3h0m0 1h0m2 0h0m0 4h0m2-2h0m0 1h0m5-2h0m1 0h0m8 3h0m4-4h0m9 1h0m8 2h0m1 0h0m2-1h0m1-2h0m3-1h0m1 3h0m3-1h0m4 1h0m4-3h0m11 5h0m6-2h0m7 2h0m3-5h0m3 4h0m2-2h0m2-3h0m2 5h0m2 0h0m1-4h0m-153 9h0m3 1h0m4 0h0m2 0h0m6-4h0m1 4h0m0-2h0m6-1h0m7 2h0m7-3h0m5 2h0m0 1h0m1 1h0m1 1h0m1-1h0m10-3h0m1-2h0m2 3h0m1 0h0m8-1h0m3 1h0m5-2h0m2 1h0m1 1h0m1 2h0m3 0h0m2-4h0m0 2h0m1 1h0m1-3h0m5 3h0m2-3h0m5 0h0m4 1h0m0 2h0m1-1h0m1-1h0m0 1h0m0 2h0m8-3h0m0 2h0m4-3h0m2 2h0m7 2h0m3-4h0m5 0h0m2 3h0m5 0h0m0 1h0m0-5h0m4 5h0m2-3h0m1-1h0m0 3h0m1 0h0m2-2h0m16 0h0m4 1h0m2 2h0m-230 4h0m1 1h0m2-1h0m37 3h0m7-2h0m4 1h0m3-1h0m2 1h0m1 0h0m3-2h0m5 2h0m6-3h0m5 2h0m4 0h0m4-1h0m1-2h0m1 0h0m2 3h0m1-1h0m2-1h0m1 2h0m10 0h0m8-1h0m1 0h0m1-2h0m0 4h0m9-1h0m1 0h0m4-2h0m2 0h0m0-1h0m3 1h0m0 2h0m1-1h0m1 2h0m4 1h0m4-3h0m0-3h0m0 5h0m1 0h0m1 0h0m1-1h0m1-4h0m2 3h0m18 0h0m1 0h0m0-3h0m4 3h0m1-3h0m1 4h0m1 1h0m0-4h0m3 3h0m13-1h0m10-2h0m4 1h0m16 4h0m-221 4h0m2 0h0m22 0h0m1-2h0m2 3h0m0 0h0m2 0h0m5 0h0m1 1h0m3-2h0m5 1h0m4-2h0m0 0h0m3 0h0m5-3h0m1 5h0m1 0h0m2 0h0m0 0h0m5 0h0m1-5h0m16 1h0m12 0h0m23 3h0m1-3h0m7-1h0m1 1h0m0 2h0m2 2h0m3-2h0m0-1h0m1 4h0m1-1h0m1-5h0m5 1h0m2 1h0m5 4h0m1-2h0m7-3h0m20 3h0m2-1h0m1-1h0m2 1h0m43-3h0m1 2h0m2 3h0m7-2h0m-221 7h0m0-2h0m9-1h0m2 3h0m1-2h0m1-1h0m3 3h0m2-2h0m1 1h0m0 0h0m0-3h0m7 1h0m4 2h0m1 1h0m1 1h0m8-3h0m1 0h0m2 0h0m8-2h0m3 0h0m2 3h0m2-2h0m3 5h0m0-4h0m1 1h0m13-1h0m0-1h0m2 1h0m10 0h0m5 1h0m1 0h0m0 2h0m1-4h0m2 4h0m3 1h0m3-2h0m4-3h0m5 1h0m1 0h0m2-1h0m1 4h0m2-1h0m2 0h0m3 0h0m2-1h0m1 2h0m1 0h0m4 1h0m1-2h0m8 1h0m3-2h0m1-1h0m3 0h0m15-1h0m2 2h0m1-3h0m0 4h0m6 0h0m0-2h0m4 0h0m12 2h0m10 0h0m0-1h0m7 1h0m10-3h0m1 0h0m0 2h0m1 1h0m-253 6h0m3 1h0m1-4h0m2 0h0m2 2h0m3 1h0m19 1h0m1 1h0m4-5h0m2 4h0m1 0h0m2-5h0m4 1h0m3 3h0m3 1h0m2-5h0m2 4h0m5 2h0m5-5h0m0 4h0m3-1h0m2 2h0m2-2h0m3 1h0m37 1h0m0-1h0m1-4h0m7 3h0m1 1h0m1-2h0m7-3h0m3 2h0m1 4h0m1-3h0m2 2h0m1-2h0m0 0h0m1 3h0m4-5h0m0-1h0m1 6h0m3 0h0m14-1h0m1-1h0m2 1h0m1-3h0m0-2h0m2 3h0m1-3h0m1 5h0m3 0h0m0-1h0m2-1h0m0 0h0m5-2h0m1 1h0m1-1h0m1 2h0m2 0h0m5-3h0m5 6h0m16-1h0m6-2h0m0-1h0m1-1h0m5 4h0m0 1h0m2-3h0m4 1h0m4-1h0m1-2h0m2 0h0m0 5h0m5-1h0m17-5h0m-255 11h0m3-2h0m2-3h0m1 2h0m1 2h0m2-3h0m2 0h0m3 4h0m18-5h0m6 0h0m1 2h0m21 2h0m4-2h0m4-1h0m12 2h0m3 2h0m8-1h0m0 1h0m3-1h0m2-2h0m3 0h0m12-1h0m2 1h0m3 0h0m1-2h0m2 3h0m10-3h0m1 2h0m3 4h0m1-3h0m0-3h0m1 3h0m0-1h0m2 1h0m9-2h0m1 4h0m1-5h0m1 6h0m3-1h0m1 0h0m2-3h0m2-1h0m1 2h0m11-1h0m2 0h0m1-1h0m2 3h0m3 2h0m2-3h0m3 0h0m2-1h0m2 2h0m0-2h0m1 3h0m4 1h0m4-1h0m3-3h0m0-1h0m9 5h0m4-1h0m14-1h0m1-3h0m8 3h0m4-1h0m24 2h0m2-1h0m-256 5h0m2-1h0m0-1h0m19 5h0m28-6h0m5 1h0m1 0h0m1 3h0m0-2h0m1 1h0m16-1h0m3 3h0m0-2h0m2-2h0m29 1h0m2-2h0m4 2h0m2 0h0m1 0h0m5 1h0m4-2h0m3 0h0m2 5h0m1-1h0m6-3h0m5 0h0m3 0h0m13-2h0m1 1h0m6 2h0m3-1h0m2 2h0m6 1h0m2 1h0m2 0h0m9-6h0m1 3h0m1-2h0m1-1h0m1 2h0m5 3h0m1-5h0m2 2h0m3-1h0m0 0h0m0 2h0m1 2h0m9 0h0m1-2h0m5 1h0m3 1h0m0 1h0m19 0h0m10-2h0m-265 7h0m3-1h0m43-3h0m2 1h0m3 2h0m2-1h0m0 1h0m3-3h0m10 0h0m2 4h0m1-1h0m4 0h0m14 0h0m0 1h0m3-3h0m2 2h0m5 0h0m1-2h0m0-1h0m2 4h0m0-3h0m0 2h0m15-1h0m5-3h0m0 4h0m0 1h0m2-1h0m3-4h0m0 6h0m0 0h0m1-1h0m1-3h0m0 4h0m12-4h0m0 1h0m0-2h0m6 3h0m6-1h0m2 1h0m11-3h0m8-1h0m2 0h0m3 5h0m1 0h0m3-1h0m0-4h0m1 2h0m0 2h0m5-4h0m0 2h0m1 0h0m5 1h0m7-1h0m0 3h0m4-1h0m4-2h0m5 0h0m2 0h0m4 3h0m1-5h0m1 3h0m0 1h0m3 2h0m1-5h0m1 1h0m3 2h0m4-3h0m2 3h0m2-3h0m1 1h0m2 3h0m0-1h0m4 1h0m2-1h0m10 1h0m1-2h0m1-2h0m1 4h0m24-3h0m5 2h0m0 1h0m-284 1h0m66 3h0m2-2h0m1 1h0m8 1h0m2 2h0m5 0h0m11-4h0m1 2h0m1-2h0m7 4h0m3-2h0m5-1h0m2-1h0m5 1h0m1 0h0m9 1h0m2 0h0m1 0h0m2 2h0m1-2h0m5 1h0m1 0h0m5 0h0m2 1h0m12-3h0m1 2h0m0-2h0m2-1h0m0 3h0m1-3h0m2-1h0m8 2h0m7 2h0m3 0h0m0-3h0m1 1h0m5 2h0m2 0h0m4-4h0m3 4h0m2-1h0m5 1h0m1-2h0m1-1h0m5 3h0m0 1h0m3-1h0m0-3h0m2 3h0m3 0h0m2 1h0m1-4h0m6 1h0m2 3h0m2-1h0m3 0h0m4-3h0m1 4h0m1-2h0m44-3h0m-282 12h0m16-3h0m2-1h0m4 1h0m0 0h0m3-2h0m4 4h0m0-1h0m32-4h0m3 2h0m5 0h0m2-1h0m0 0h0m4 0h0m1-1h0m2 4h0m1-4h0m2 0h0m0 1h0m1 4h0m3-1h0m5-4h0m14 2h0m1-1h0m0 0h0m1-1h0m5 5h0m1-5h0m2 6h0m1-5h0m1 1h0m0 3h0m2-2h0m3-1h0m2 1h0m1 2h0m2 0h0m0 0h0m3-2h0m4 1h0m1-3h0m4 4h0m5-2h0m3 1h0m3 0h0m2 0h0m2-2h0m1 0h0m1-1h0m1 1h0m2 3h0m1 1h0m2 0h0m7-1h0m6-1h0m0 0h0m3 1h0m0-4h0m9 0h0m5 5h0m1-2h0m4-3h0m0 0h0m1 1h0m3 2h0m1-1h0m1 0h0m1 1h0m11-3h0m14 0h0m0 3h0m5 1h0m1-5h0m0 4h0m30 0h0m22-2h0m1 3h0m5 0h0m-291 7h0m1-6h0m6 3h0m13-2h0m0 1h0m2 2h0m4-4h0m1 2h0m8 3h0m2-2h0m0 1h0m1-1h0m24-1h0m4 4h0m31-1h0m7-3h0m1 2h0m1 0h0m2-3h0m0 0h0m2 2h0m0 1h0m4 1h0m1 1h0m8-2h0m2-4h0m1 4h0m0-3h0m0 1h0m1 4h0m4-6h0m1 1h0m0 1h0m2-2h0m0 2h0m2-1h0m0 1h0m3 0h0m2 2h0m4 1h0m2-1h0m6-2h0m2 1h0m1 1h0m0-1h0m1-1h0m2 0h0m1-1h0m0 2h0m1 0h0m10 1h0m2-1h0m0-1h0m1 1h0m4 3h0m1-3h0m2 1h0m0 0h0m3-1h0m16 2h0m13 0h0m1-2h0m0 2h0m5 1h0m8-4h0m0 2h0m3-1h0m56-2h0m-304 9h0m24-1h0m2 1h0m1-3h0m0 2h0m0-2h0m53 3h0m2-1h0m0 0h0m3-2h0m1 4h0m0-4h0m1 1h0m1-2h0m0 5h0m3-3h0m1 0h0m4-1h0m3 4h0m7-4h0m2 1h0m6 2h0m0-1h0m1 3h0m2-5h0m6 2h0m6 1h0m8 1h0m3-2h0m9 2h0m4 0h0m4 0h0m7-2h0m1 2h0m11-1h0m2 0h0m1 1h0m3-3h0m7-2h0m14 1h0m5 1h0m4 3h0m13-3h0m6 3h0m2-3h0m6 4h0m4-6h0m63 3h0m-304 4h0m3 2h0m13 1h0m0-2h0m4 0h0m1-1h0m2 2h0m12-1h0m0 3h0m2 0h0m1-3h0m3 3h0m1-5h0m1 6h0m0-2h0m0-3h0m0 3h0m36-2h0m2 1h0m0 1h0m0-3h0m15 5h0m1-1h0m5 1h0m1-4h0m1-2h0m4 1h0m5 1h0m2 2h0m0 1h0m4 0h0m3-4h0m1 1h0m3 1h0m0 2h0m9-4h0m5 2h0m0 0h0m2 2h0m1 0h0m0-5h0m1 4h0m0-4h0m3 4h0m1-2h0m4 4h0m1-5h0m1 4h0m6-3h0m4 3h0m13 0h0m2-1h0m1-2h0m4 1h0m2 1h0m0 1h0m6-4h0m0 2h0m0-1h0m3 3h0m2-1h0m1 1h0m1-2h0m5 0h0m15 1h0m3 0h0m11-3h0m12 2h0m6 0h0m2 0h0m8 1h0m-265 7h0m2-4h0m1 4h0m3 0h0m7-4h0m5 5h0m16-5h0m3 1h0m2 2h0m3-2h0m4 2h0m0-3h0m1 3h0m6-2h0m11-1h0m2 4h0m1-2h0m3 2h0m15-4h0m17 1h0m3 1h0m1-2h0m4 4h0m2 1h0m7-2h0m7 2h0m2-2h0m5 0h0m2 0h0m9 1h0m2 1h0m2 0h0m6-6h0m4 3h0m1 0h0m0-3h0m1 1h0m2 5h0m0-3h0m9 1h0m5-1h0m0-2h0m6 3h0m1 0h0m0-3h0m1 3h0m3 0h0m11-1h0m8 1h0m1-2h0m0-1h0m0 3h0m2 0h0m1-2h0m0 3h0m1-5h0m0 3h0m1 3h0m2-2h0m0-1h0m30 2h0m4 1h0m3-5h0m4 0h0m3 2h0m1-1h0m11 4h0m-259 2h0m3 3h0m3 0h0m0-2h0m3 1h0m1 2h0m1 0h0m2-4h0m1 0h0m1 3h0m1-1h0m0-3h0m1 4h0m2-2h0m1 0h0m16 2h0m0-3h0m1 0h0m1 4h0m3-5h0m12 1h0m2-1h0m30 1h0m0-2h0m1 4h0m0 1h0m3 0h0m5-4h0m2 4h0m1-4h0m1 3h0m2-3h0m6 3h0m2 0h0m1-3h0m2-1h0m2 2h0m1 3h0m1 1h0m1-2h0m0-2h0m5 4h0m1-2h0m1 0h0m1-3h0m1 5h0m0-1h0m2-2h0m5 1h0m1-1h0m3-1h0m2-1h0m7 4h0m3-2h0m1 3h0m0-5h0m2 1h0m1-1h0m0 3h0m0-1h0m1-1h0m5-2h0m0 3h0m1 1h0m3-2h0m1 4h0m2-3h0m1-1h0m3 1h0m2 1h0m4-4h0m5 6h0m0-1h0m1-1h0m0-3h0m1 3h0m3 0h0m0 0h0m0-4h0m1 5h0m17-3h0m5 3h0m2-1h0m42 0h0m17-1h0m2-3h0m0 5h0m1 0h0m21-1h0m8-4h0m-311 7h0m6 2h0m5-1h0m1 0h0m2-2h0m0 1h0m2-1h0m2 5h0m1-1h0m2-3h0m1 0h0m1 1h0m3-1h0m0 1h0m4-1h0m1-1h0m1 2h0m0-1h0m6 1h0m5 2h0m3-3h0m23 0h0m3 5h0m0-5h0m14 0h0m2 0h0m1 4h0m3-4h0m1 4h0m7-5h0m0 3h0m0-2h0m9 2h0m5 1h0m1-1h0m3-3h0m14 2h0m0-2h0m3 3h0m0-3h0m1 3h0m1 1h0m6-2h0m0 3h0m1-3h0m0 1h0m0 3h0m2-2h0m1-4h0m0 4h0m1 1h0m2-2h0m1 2h0m8-3h0m1 0h0m0 2h0m0 0h0m0 1h0m1-4h0m2 4h0m0-2h0m2 2h0m1 0h0m1-1h0m2 0h0m3-1h0m1 2h0m1-4h0m6 3h0m0-4h0m3 4h0m3-4h0m2 1h0m0 1h0m1 4h0m1-2h0m0 2h0m2-2h0m1-1h0m1 0h0m5 2h0m1-4h0m0 4h0m0-3h0m3 3h0m1-2h0m1-3h0m1 6h0m1-1h0m5-1h0m7-1h0m5-2h0m16 1h0m6-2h0m0 2h0m1 2h0m2-1h0m3 1h0m14-1h0m5 1h0m0 2h0m1-3h0m7 3h0m4-4h0m-283 5h0m7 2h0m4-2h0m0 1h0m0 3h0m2-2h0m3-3h0m7 5h0m3-2h0m3 1h0m0 0h0m1-1h0m8-3h0m6 1h0m26 1h0m2 1h0m0 1h0m11 1h0m6-4h0m2 1h0m6 3h0m6-1h0m2-2h0m1-1h0m2 3h0m0 0h0m3-2h0m8 3h0m6-1h0m2 0h0m6 1h0m1-4h0m0 1h0m2 0h0m2 3h0m4-1h0m1-4h0m9 3h0m1 0h0m1 0h0m3 3h0m0-6h0m0 1h0m1 2h0m1-3h0m0 2h0m0 3h0m5-5h0m3 1h0m2 2h0m6 1h0m2-3h0m2 1h0m1 2h0m1-1h0m3 0h0m2-2h0m0 1h0m3 3h0m6-5h0m2 2h0m1 3h0m3-1h0m1-1h0m1 2h0m3 0h0m0-3h0m1 1h0m0 2h0m1-2h0m1 2h0m1-2h0m5 1h0m1 0h0m6-4h0m18 6h0m3-5h0m3 1h0m2 3h0m1-3h0m3 1h0m17 1h0m9-3h0m4 1h0m1 2h0m4-1h0m2 0h0m-277 3h0m1 4h0m8-3h0m3 2h0m2-2h0m0 3h0m0 0h0m1-1h0m1 3h0m7-2h0m1 1h0m3 0h0m5-2h0m41 2h0m0-3h0m2 2h0m3-2h0m0 2h0m1-2h0m0-2h0m9 4h0m1-2h0m1 2h0m5-1h0m7-2h0m2-1h0m2 0h0m0 3h0m1-1h0m0 1h0m2 0h0m1 1h0m1 0h0m0-2h0m4-2h0m3 2h0m1 3h0m3-1h0m2 0h0m0-2h0m1 3h0m2-3h0m2 2h0m2-4h0m13 6h0m7-4h0m5 2h0m3-1h0m7 0h0m1 2h0m3 0h0m2 1h0m3-1h0m2-3h0m0-1h0m0 5h0m4-4h0m2 1h0m4-2h0m10 4h0m5 0h0m30 0h0m1-3h0m1 1h0m5 1h0m2-1h0m13-2h0m2 0h0m18 2h0m6-1h0m-275 9h0m5-3h0m3 0h0m1 4h0m2-1h0m0 0h0m2-2h0m2-1h0m0-1h0m3 2h0m1-3h0m4 1h0m1 0h0m3 2h0m0 2h0m6-4h0m2 2h0m1 2h0m3-4h0m0-1h0m2 3h0m30-2h0m11 0h0m1 0h0m11 0h0m5 0h0m28 2h0m14 2h0m1-2h0m2-2h0m8 3h0m1 0h0m6-3h0m0 0h0m1 4h0m5 0h0m2 0h0m0-2h0m3 3h0m1-5h0m18 2h0m1-1h0m2-2h0m1 4h0m1-1h0m0 1h0m0 0h0m2-4h0m4 1h0m16 2h0m5 2h0m0-3h0m9 4h0m0-2h0m3 0h0m6-2h0m1 1h0m25-2h0m-267 5h0m3 5h0m0-4h0m5 2h0m18 0h0m1 3h0m6-2h0m0 1h0m1 0h0m1-2h0m6 2h0m1-2h0m19 2h0m2 0h0m3-3h0m12 1h0m1 2h0m13 0h0m9 0h0m1 0h0m6-1h0m11 1h0m6 1h0m19-3h0m4 1h0m1-2h0m3 2h0m4 0h0m6 1h0m1 0h0m7-4h0m1 4h0m6-4h0m12 1h0m1-1h0m2 3h0m5-1h0m20-1h0m3 2h0m2-1h0m6-1h0m1 3h0m1 0h0m0-3h0m4 1h0m1 2h0m2 0h0m6-4h0m12 3h0m20 2h0m-271 3h0m7 0h0m16-1h0m0 2h0m1-2h0m2 1h0m8-2h0m1 5h0m1-5h0m1 0h0m2 4h0m0-4h0m2 4h0m2 0h0m7-3h0m3-1h0m1-1h0m0 5h0m1-2h0m0 2h0m0-2h0m2 2h0m0-1h0m2 1h0m2-1h0m0 0h0m9 1h0m3-1h0m1-1h0m4 1h0m0-1h0m4 2h0m7 0h0m8-3h0m6 0h0m6 2h0m9 0h0m14 0h0m2 0h0m20-2h0m4 1h0m14-1h0m1 2h0m2-4h0m8 5h0m20-1h0m8-3h0m2 0h0m1 1h0m1-1h0m0 2h0m1-3h0m6 2h0m7-1h0m8 2h0m5 3h0m7-5h0m13 5h0m-259 3h0m0 0h0m1 2h0m0-1h0m6 0h0m1-1h0m4 0h0m8-2h0m1 1h0m0 0h0m1 3h0m0-2h0m1 1h0m0 2h0m4-3h0m3-2h0m1 4h0m3 0h0m1 0h0m3-3h0m2 2h0m3 1h0m1 0h0m2-4h0m2 3h0m2-3h0m2 1h0m1-1h0m7 4h0m0 0h0m5-1h0m4-2h0m1 3h0m2-3h0m1-2h0m6 5h0m2 0h0m0-1h0m0-4h0m2 4h0m1 1h0m2-1h0m2-2h0m1 1h0m3-2h0m1 1h0m1 4h0m1-5h0m7 2h0m1-1h0m1 1h0m1-3h0m2 1h0m6 0h0m1 0h0m2-1h0m4 3h0m1-1h0m0 3h0m4-1h0m2 1h0m0-1h0m2-2h0m4 0h0m0 2h0m11-1h0m12 3h0m4-1h0m15-4h0m0-1h0m24 3h0m2-1h0m4 1h0m4 2h0m7 0h0m3-1h0m2 0h0m2-1h0m6 0h0m3 3h0m9-1h0m-237 4h0m2 0h0m2 1h0m2 1h0m1-3h0m2 1h0m2-2h0m5 1h0m3 2h0m3-1h0m4 1h0m22-1h0m2-1h0m8 3h0m3-4h0m2 2h0m9-3h0m5 5h0m3 0h0m6 1h0m1-1h0m4-2h0m4 0h0m0-1h0m3 1h0m4-1h0m12 2h0m5 0h0m1-1h0m3 1h0m2-4h0m1 4h0m1-2h0m0 4h0m9-3h0m0 0h0m1 3h0m0-1h0m1-1h0m1 0h0m0-1h0m2-1h0m0 4h0m2-5h0m61 2h0m7 0h0m3 2h0m0-1h0m3 1h0m1 0h0m1-3h0m1-1h0m3 2h0m0 2h0m11-2h0m2 3h0m6-4h0m21-1h0m9 4h0m4-3h0m-272 5h0m1 0h0m2 1h0m1 4h0m10-1h0m3-3h0m4-2h0m2 0h0m1 3h0m0 0h0m5-3h0m2 3h0m1 3h0m0-1h0m1-1h0m2 2h0m1 0h0m2 0h0m5-6h0m4 6h0m1-3h0m2-1h0m0-1h0m2 1h0m3 2h0m7-4h0m6 4h0m2 0h0m3 0h0m0-4h0m3 5h0m2-2h0m22 2h0m4 1h0m0 0h0m6-3h0m4-1h0m0-2h0m0 3h0m1 0h0m8 1h0m0 1h0m3-3h0m2 3h0m1-2h0m1-2h0m6 1h0m1-2h0m10 4h0m2-2h0m7 2h0m2-1h0m0-1h0m3 1h0m3 1h0m1-1h0m4-2h0m3 0h0m0 2h0m3 2h0m0-1h0m1-4h0m37 4h0m2-3h0m4 5h0m8-1h0m5-4h0m24 3h0m11-2h0m-267 6h0m3 1h0m5-2h0m2 3h0m1 1h0m3-4h0m24 3h0m4-2h0m2 0h0m5 3h0m3-3h0m0 4h0m2-1h0m3-5h0m2 1h0m3 4h0m2-1h0m0-3h0m2 3h0m4-3h0m0 2h0m3-2h0m20 0h0m2 0h0m4-1h0m3 2h0m1-1h0m1 4h0m1 0h0m4-4h0m1-1h0m2 1h0m4 1h0m2 3h0m2-3h0m0 3h0m31-1h0m2-1h0m5-1h0m0-2h0m2 2h0m2 3h0m0-1h0m5 1h0m0-1h0m2-1h0m0 0h0m2-2h0m0 2h0m1 0h0m1 1h0m2-3h0m0 2h0m3 0h0m7-1h0m27 0h0m6 1h0m3-2h0m1-1h0m4 4h0m2-3h0m17 4h0m3-1h0m16 1h0m-251 2h0m33-1h0m5 2h0m2 0h0m0 3h0m2 0h0m11-3h0m2 0h0m3 2h0m6 1h0m6 0h0m3 0h0m2-1h0m0-1h0m2-3h0m1 1h0m2-1h0m0 4h0m1 1h0m10-4h0m6 4h0m11 0h0m0 1h0m1-1h0m3 0h0m23-3h0m20 0h0m5-1h0m1 3h0m1-4h0m0 4h0m2-4h0m0 2h0m0 0h0m1-2h0m1 5h0m0 0h0m1-2h0m8 2h0m18 0h0m1-4h0m1-1h0m3 4h0m1-3h0m2 1h0m24 2h0m5 0h0m7-2h0m3 1h0m7-1h0m-237 8h0m2-1h0m20 3h0m5-1h0m2-3h0m5 3h0m2-3h0m18 0h0m8 2h0m4-2h0m2 1h0m4-2h0m7 4h0m16-1h0m2 2h0m1-2h0m2 0h0m1-2h0m9-1h0m1 3h0m1 0h0m14 1h0m7-1h0m3 0h0m1 1h0m1-3h0m2 1h0m11-1h0m0-1h0m8 0h0m4 3h0m3-2h0m1-2h0m0 3h0m2 1h0m16-4h0m0 2h0m49 1h0m2-2h0m-230 9h0m11 0h0m5 1h0m1-4h0m0 0h0m3 2h0m1 0h0m2 2h0m1-3h0m3-1h0m2 2h0m6-2h0m4 0h0m7 3h0m2-2h0m4 0h0m3 1h0m2-1h0m13 0h0m5 2h0m0-1h0m1-1h0m0 3h0m7 1h0m6-2h0m8-3h0m23 4h0m1-1h0m0-3h0m1 1h0m4-1h0m0 5h0m1-4h0m2-1h0m2 4h0m19-4h0m2 5h0m5-2h0m1 2h0m9-1h0m19-3h0m2-1h0m31 0h0m-211 10h0m4-1h0m1 1h0m2-4h0m0 3h0m5-1h0m3 3h0m2-5h0m1 2h0m3 1h0m3-1h0m2 0h0m0 1h0m2 0h0m8-3h0m1 1h0m2-1h0m1 1h0m0-1h0m0 0h0m11 0h0m1 1h0m17 2h0m4-3h0m1-1h0m3 0h0m2 6h0m17-2h0m20 0h0m4 2h0m6-4h0m0 0h0m1 1h0m1-2h0m0 2h0m8-3h0m5 4h0m2 1h0m0-1h0m0 1h0m3-2h0m12-3h0m23 2h0m-174 7h0m5 2h0m14-3h0m2 1h0m0 0h0m0 3h0m1-1h0m1-1h0m1-2h0m6 3h0m1 0h0m8 0h0m2-3h0m3-1h0m1 1h0m1 3h0m7-2h0m0 0h0m1 2h0m1-1h0m8 1h0m1-5h0m10 0h0m7 2h0m12-1h0m15 1h0m0-1h0m6 0h0m2 3h0m18 0h0m1-2h0m0 3h0m-142 6h0m5-3h0m0 4h0m2-3h0m11 0h0m1 1h0m1-3h0m7 1h0m8 2h0m1 0h0m0-3h0m1 2h0m1-1h0m2 1h0m15-2h0m2 1h0m3 1h0m4-2h0m6 0h0m2 4h0m1-5h0m5 1h0m2 3h0m5-3h0m3 1h0m7 0h0m1 1h0m2-3h0m13 5h0m3-3h0m1 2h0m1 1h0m3-4h0m3 3h0m0 1h0m4 0h0m0-1h0m1-1h0m2-1h0m4 2h0m3 1h0m2-3h0m1-1h0m16 1h0m-158 5h0m3 2h0m6-1h0m34-2h0m18 2h0m11 1h0m3-1h0m11-1h0m9 2h0m2-1h0m1 0h0m1 1h0m18 3h0m2 0h0m3-5h0m2 3h0m3-1h0m1-2h0m3 2h0m5-2h0m1 5h0m26-5h0m1 0h0m-127 10h0m5 0h0m1-2h0m11-1h0m5-1h0m1 4h0m2-2h0m19-3h0m2 5h0m7-4h0m1-1h0m6 1h0m4 3h0m13 1h0m2-4h0m5 4h0m2 0h0m6-2h0m2-3h0m3 0h0m0 0h0m1 2h0m0 3h0m3-1h0m0-2h0m27 2h0m0-2h0m1 3h0m-128 1h0m2 4h0m4 0h0m1 1h0m6 0h0m0-4h0m10 1h0m6 1h0m5-2h0m1 1h0m3 2h0m1 0h0m0-1h0m2-2h0m33 0h0m1 1h0m1 1h0m1-1h0m1 3h0m2-5h0m6 2h0m2 2h0m-84 6h0m2-3h0m1 0h0m5 4h0m3-3h0m-4 7h0m60 0h0m2 0h0" stroke="#660066" stroke-width="4.6" stroke-linecap="round" fill="none"/>
<path d="M748 181h0m28 2h0m-147 1h0m158 5h0m-146 0h0m116 3h0m-131 7h0m137-2h0m16 4h0m-138 18h0m119-5h0m13 2h0m-133 3h0m95 5h0m58 0h0m-89 6h0m28 0h0m32-2h0m27 0h0m-155 6h0m77 0h0m9 1h0m-61 4h0m58 1h0m13-2h0m-73 5h0m51 4h0m10 2h0m48-5h0m-59 7h0m12 1h0m18 3h0m-118 3h0m97 2h0m63-1h0m-128 5h0m121-2h0m-113 8h0m6 0h0m9 0h0m20 0h0m83 0h0m8 0h0m-100 3h0m60 0h0m-68 9h0m4-1h0m8 0h0m3 1h0m11 3h0m7-1h0m55-1h0m18 2h0m-117 1h0m92 5h0m2-1h0m-97 3h0m17-2h0m5 0h0m2 3h0m7 0h0m3-2h0m32-1h0m46 3h0m50-2h0m-157 8h0m19 0h0m105-2h0m25 1h0m-117 9h0m5-5h0m32 4h0m1-2h0m63 4h0m-80 1h0m11 2h0m68-2h0m38 2h0m-144 4h0m51 3h0m1 0h0m19-2h0m27 1h0m-96 4h0m24-1h0m6 4h0m54 1h0m1-1h0m-34 7h0m30-3h0m24 1h0m-89 8h0m5-4h0m41 0h0m-69 8h0m54-1h0m3-1h0m21 2h0m-22 7h0m22-1h0m8 1h0m6 0h0m62-2h0m-96 4h0m14 4h0m0 0h0m42-3h0m-80 6h0m2 6h0" stroke="#7700FF" stroke-width="4.6" stroke-linecap="round" fill="none"/>
<path d="M825 121h0m-91 7h0m20-2h0m14 1h0m-33 8h0m22-1h0m61-1h0m-64 2h0m9 6h0m10-1h0m19-4h0m55 2h0m-97 5h0m58 7h0m41-2h0m-61 7h0m22-1h0m-104 10h0m30-2h0m26 2h0m1-3h0m96 3h0m-184 6h0m9-4h0m5 2h0m2 0h0m5 1h0m4-2h0m1 4h0m16-2h0m3-2h0m3-1h0m65 2h0m38-1h0m42-1h0m21 5h0m-230 3h0m14 0h0m2-1h0m9 0h0m1 4h0m23-4h0m51-1h0m0 2h0m-65 3h0m4 2h0m46 3h0m13 0h0m4 0h0m52 0h0m14-3h0m-192 9h0m74-3h0m61 0h0m39 1h0m23-3h0m25 5h0m4 0h0m-202 2h0m10-1h0m21 3h0m11-2h0m47 5h0m4-1h0m1-4h0m12 3h0m9-1h0m5-2h0m26 0h0m5 5h0m30-3h0m13-2h0m30 0h0m4 2h0m3-2h0m-143 10h0m51 1h0m0-2h0m4-3h0m15 3h0m6-2h0m4 3h0m5-1h0m6-3h0m66 2h0m1-1h0m-154 8h0m2-2h0m4-1h0m9 1h0m12 2h0m28 0h0m5-2h0m24-1h0m28 0h0m54 1h0m-199 8h0m46-3h0m5-1h0m1 3h0m17 1h0m11-1h0m18-1h0m35 0h0m1 0h0m67 1h0m4-1h0m1-1h0m2 0h0m-273 11h0m43-3h0m12-2h0m2 4h0m1-1h0m0-2h0m9 2h0m23-1h0m15-1h0m27 4h0m14-6h0m0 5h0m11-2h0m1 2h0m3-1h0m13-3h0m20 3h0m6-4h0m10 2h0m0 2h0m-154 3h0m36 2h0m5 1h0m37-3h0m14 4h0m120-5h0m-219 8h0m45-2h0m39 3h0m10-3h0m7 1h0m11 2h0m4-1h0m-155 9h0m15-4h0m7 2h0m54 1h0m2-2h0m25 1h0m10 3h0m8-2h0m18 1h0m13-4h0m0 0h0m-156 6h0m50 3h0m5-3h0m2 1h0m2 3h0m2-2h0m9-2h0m28 4h0m5-3h0m23 3h0m8-4h0m1 2h0m6-2h0m3 5h0m10-2h0m11-3h0m71 1h0m2 1h0m-262 3h0m21 4h0m30 1h0m5-4h0m15 4h0m74-2h0m6 0h0m-140 8h0m41-4h0m57 3h0m10-1h0m2 0h0m24 3h0m1 0h0m14-1h0m5-2h0m13-1h0m7 3h0m2-3h0m-83 6h0m3 3h0m37 0h0m2 0h0m11 0h0m8-3h0m6 2h0m6 0h0m0-2h0m1 3h0m8-1h0m-119 2h0m3 1h0m18 1h0m75-1h0m-68 10h0m55-2h0m11 1h0m-101 6h0m19-3h0m0 0h0m35 3h0m48-1h0m-154 9h0m3-2h0m49-3h0m19-1h0m21 5h0m21-4h0m-73 7h0m19 2h0m43 1h0m21-3h0m12 1h0m48 3h0m-124 3h0m97-1h0m20-2h0m4 1h0m-136 9h0m4-3h0m52 0h0m5 0h0m21 1h0m7 2h0m20 2h0m12 0h0m17-2h0m-104 7h0m16-3h0m1 0h0m29 4h0m44-4h0m11 1h0m8-2h0m-155 10h0m106-3h0m-110 7h0m17 1h0m0 1h0m12-5h0m16 1h0m19 4h0m67 0h0m-45 1h0m72 5h0m13-3h0m-131 7h0m19-1h0m2 2h0m0-2h0m3 0h0m2-1h0m33-1h0m5 5h0m-97 3h0m22-1h0m15 1h0m27-1h0m-39 7h0m17-1h0m27 3h0m13-1h0m3 3h0m43 1h0m16-1h0m-101 8h0m6-2h0m42 0h0m36 2h0m38-1h0" stroke="#0055FF" stroke-width="4.6" stroke-linecap="round" fill="none"/>
<path d="M802 118h0m13 0h0m0 1h0m-82 7h0m2-1h0m5 2h0m22-3h0m6 3h0m0 0h0m8 0h0m4-1h0m7 1h0m5-2h0m30 4h0m5-3h0m-96 8h0m12-1h0m3-1h0m21-1h0m7 3h0m2-4h0m9 3h0m5-2h0m26 3h0m-86 4h0m1 2h0m18-5h0m2 4h0m22 0h0m1 1h0m2 0h0m2-3h0m1 4h0m11-6h0m9 2h0m17 0h0m0 2h0m8 0h0m4-3h0m3 2h0m-89 6h0m6 2h0m30-5h0m6 5h0m30-3h0m4 4h0m14-5h0m7 0h0m-104 9h0m12 1h0m6-4h0m37 3h0m2-1h0m16 1h0m22-1h0m17 1h0m0-1h0m3-1h0m2-1h0m13 2h0m1-3h0m-117 12h0m7-6h0m20 5h0m9-4h0m10 1h0m0-1h0m13 0h0m0 5h0m53-4h0m2 2h0m3-1h0m1-3h0m20 2h0m-151 6h0m6-2h0m38 5h0m11 1h0m5-5h0m7-1h0m37 1h0m26-1h0m24 1h0m-164 11h0m29-1h0m17-3h0m20 1h0m1 0h0m30-2h0m15-1h0m24 5h0m6-5h0m9 4h0m10-2h0m1 3h0m-217 2h0m14 4h0m10-3h0m10 2h0m6-2h0m33 4h0m2-3h0m14-1h0m20 3h0m32-5h0m25 1h0m49 2h0m3-2h0m1 1h0m-229 6h0m20 0h0m9 4h0m9-4h0m48-2h0m62 0h0m21 5h0m12-3h0m13 1h0m2 0h0m-124 8h0m117-5h0m13 4h0m36-1h0m1 0h0m-194 5h0m105 1h0m20-1h0m24 2h0m2 1h0m9-3h0m12 4h0m11-2h0m0 0h0m11 2h0m-219 3h0m41-3h0m1 5h0m29-3h0m49 0h0m23-2h0m1 5h0m18-2h0m1 0h0m0 0h0m6-2h0m11 2h0m1 0h0m2 2h0m42-1h0m-90 8h0m9-3h0m1-2h0m5 1h0m33 1h0m8-2h0m3 4h0m-88 5h0m63-3h0m3 3h0m-91 5h0m35 1h0m16-3h0m6 4h0m2 1h0m3-6h0m4 5h0m71-1h0m-58 4h0m1 2h0m-55 3h0m57 3h0m8-1h0m9 1h0m-76 7h0m12 0h0m5-3h0m26 4h0m1-4h0m1 4h0m31-2h0m2-2h0m3 1h0m13 3h0m14 0h0m1-1h0m-127 5h0m45-2h0m22 2h0m34 1h0m15-4h0m9 0h0m3-1h0m6 0h0m18 5h0m-167 3h0m107 0h0m6 3h0m11-3h0m15 4h0m-203 4h0m120-3h0m6 4h0m3-4h0m2 3h0m9-3h0m32 5h0m5-3h0m16-2h0m2 3h0m4 0h0m19-2h0m-163 5h0m72 1h0m17 2h0m3-2h0m43 2h0m3 0h0m1-3h0m21 2h0m-100 6h0m12-1h0m-7 9h0m16-5h0m54 5h0m-59 1h0m30 0h0m32 5h0m-97 5h0m64 1h0m19 1h0m10-3h0m-14 7h0m6-1h0m2-2h0m44 1h0m2-1h0m-65 6h0m3 0h0m18 1h0m-8 6h0m13-1h0m16 2h0m19-2h0m-8 7h0m-49 5h0m40 2h0m-119 36h0" stroke="#00FFEE" stroke-width="4.6" stroke-linecap="round" fill="none"/>
<path d="M803 116h0m15 1h0m-70 7h0m17 2h0m-29 4h0m6 8h0m45-1h0m46 8h0m34 1h0m-145 3h0m16 3h0m43 1h0m70-1h0m15-5h0m6 1h0m-64 10h0m3-5h0m38 4h0m15 1h0m3 0h0m7-3h0m-142 5h0m16 4h0m30-1h0m19-4h0m15 6h0m6-3h0m3-1h0m5 2h0m10 1h0m8-2h0m5-3h0m-164 8h0m23 0h0m73 1h0m2 1h0m-4 6h0m7 1h0m69 3h0m5 1h0m10-3h0m-199 6h0m128 1h0m20 1h0m37 0h0m3 0h0m5 1h0m1 2h0m22 1h0m-71 5h0m27-2h0m12 1h0m9 1h0m0 0h0m20 0h0m-26 6h0m16-3h0m-50 9h0m33-3h0m25-2h0m-67 15h0m78-2h0m7 1h0m24 3h0m-91 7h0m10-4h0m5 3h0m3-2h0m1 0h0m5 2h0m-20 4h0m2 2h0m1 0h0m4-3h0m0 2h0m2-1h0m4-1h0m0 0h0m9-1h0m5 4h0m5 0h0m0 0h0m10 0h0m-37 2h0m17 4h0m7 0h0m8 1h0m25 0h0m-99 2h0m28 2h0m3-1h0m1-3h0m46 2h0m-75 6h0m19 3h0m8-4h0m3 2h0m1-3h0m6 1h0m23 5h0m2-6h0m1 1h0m3 2h0m4 2h0m3 0h0m8-1h0m7-4h0m11 0h0m-73 12h0m1-5h0m24 1h0m0-1h0m1 5h0m1-3h0m2 1h0m3-4h0m15 4h0m4-2h0m17 0h0m9 2h0m-99 5h0m25 1h0m21 1h0m3-2h0m6 1h0m15-3h0m8 2h0m2-2h0m19 0h0m-106 6h0m4 1h0m16-1h0m12 2h0m14 3h0m38 0h0m-86 5h0m19-4h0m33 1h0m4 0h0m3 2h0m13-3h0m4 2h0m9 3h0m13-3h0m-15 8h0m1-4h0m21 4h0m4-3h0m4 2h0m-75 3h0m11 3h0m3 2h0m4-1h0m14-1h0m4-3h0m2 5h0m2-4h0m2 3h0m3 0h0m19-4h0m1 1h0m3 3h0m11 0h0m-92 7h0m28-5h0m2 3h0m7-2h0m10 4h0m1-1h0m7-1h0m23 2h0m1-4h0m3 3h0m6-3h0m5-1h0m-48 10h0m40-3h0m4-1h0m-49 9h0m51 2h0m-61 2h0m3-1h0m4 1h0m11 1h0m26 1h0m12 2h0m-52 5h0m2-2h0m30-2h0m4 1h0m-26 11h0" stroke="#55FF00" stroke-width="4.6" stroke-linecap="round" fill="none"/>
<path d="M858 141h0m-26 8h0m15 2h0m2-4h0m-66 16h0m-73 4h0m13-1h0m-38 8h0m22 2h0m14-3h0m157-1h0m3 4h0m-107 3h0m79 1h0m0 24h0m43 14h0m1-3h0m0 6h0m-20 9h0m-37 1h0m31 2h0m2 1h0m7-2h0m4 0h0m-52 11h0m40-5h0m1 2h0m12-1h0m-52 5h0m1 10h0m1-2h0m21 0h0m7-1h0m15 3h0m11-3h0m-37 5h0m-24 10h0m56-2h0m-38 8h0m1-3h0m1-1h0m6 0h0m30 1h0m1 4h0m19-6h0m-64 11h0m6-3h0m7 2h0m7-1h0m20-2h0m5 4h0m18-1h0m-48 7h0m20-2h0m14-2h0m9 0h0m10 3h0m6-3h0m-48 9h0m5 0h0m4 1h0m1 0h0m1-4h0m27 4h0m11-1h0m-37 6h0m29 1h0m9-2h0m-63 13h0m24-4h0m6 6h0m-24 3h0m24-2h0m2 2h0m1 0h0m7 1h0" stroke="#CCFF00" stroke-width="4.6" stroke-linecap="round" fill="none"/>
<path d="M738 147h0m11 5h0m-1 6h0m147 51h0m4 3h0m-4 3h0m4 0h0m0-1h0m0 5h0m-61 5h0m52-2h0m4 2h0m1-1h0m-44 3h0m14 10h0m1 5h0m10-3h0m8 2h0m-55 10h0m25 1h0m2 1h0m32 1h0m-60 6h0m3-3h0m53 0h0m4 4h0m3-3h0m-60 10h0m22-6h0m29 5h0m1 1h0m0-1h0m13-3h0m-43 9h0m3-1h0m9 1h0m14-1h0m2 1h0m1 0h0m1-4h0m-29 9h0m21-2h0m4-1h0m2 3h0m3 0h0m6-4h0m10 3h0m-24 8h0m7-1h0m8 1h0m8 0h0m11 1h0m5-4h0m-46 7h0m6-1h0m4 0h0m28 2h0m7-3h0m1 2h0m3 2h0m-57 3h0m40 4h0m-41 1h0m25 4h0m2-1h0m7 0h0m8-3h0m0 5h0m5-3h0m-47 7h0m24-3h0m18 5h0m3-4h0m5 0h0m-57 4h0m30 2h0m8-2h0m3 6h0m9-4h0" stroke="#FFBB00" stroke-width="4.6" stroke-linecap="round" fill="none"/>
<path d="M892 222h0m-2 48h0m1-1h0m2 0h0m-16 8h0m6-3h0m15 1h0m2 0h0m-16 9h0m21-2h0m-1 4h0m-27 13h0m18 4h0m0 5h0m2 0h0m10-2h0m-2 6h0m-8 4h0" stroke="#FF3300" stroke-width="4.6" stroke-linecap="round" fill="none"/>
<path d="M804 117h0m1 0h0m-98 6h0m0-1h0m4-2h0m2 0h0m81 1h0m0 0h0m5-1h0m1-1h0m5 0h0m19 2h0m-84 4h0m5 1h0m3 2h0m7-1h0m11-1h0m1 1h0m1-1h0m12 0h0m8-2h0m6 0h0m2 4h0m1-2h0m4 0h0m4 1h0m1-1h0m2-2h0m2 4h0m6-5h0m5 3h0m4-1h0m-132 7h0m1 2h0m3 0h0m33 1h0m11-2h0m13 0h0m1 2h0m0-2h0m5-1h0m1 1h0m4 1h0m14-4h0m2 4h0m10-2h0m3 1h0m2 1h0m6-3h0m2 1h0m15 1h0m1 2h0m0-4h0m1 0h0m2 1h0m1 3h0m3-1h0m2-2h0m1-1h0m-147 10h0m2-2h0m3 2h0m3-2h0m2 1h0m0-1h0m2-1h0m1 0h0m2 0h0m1-3h0m1 2h0m2 0h0m2 1h0m22 2h0m3-1h0m12-1h0m1 0h0m2 2h0m4 0h0m2-4h0m5 4h0m1-2h0m5-2h0m13 5h0m0-2h0m4-3h0m1 2h0m2 0h0m2 0h0m4 1h0m5-2h0m1-2h0m1 0h0m23 5h0m1 1h0m4-4h0m1 2h0m1-1h0m2-1h0m1 1h0m0 0h0m20 1h0m-172 3h0m9 0h0m1 1h0m3-2h0m0 4h0m4 0h0m2-2h0m1 3h0m2 1h0m8-3h0m18 0h0m0 0h0m1-1h0m2 1h0m1 1h0m1 0h0m6 0h0m4-3h0m12 4h0m7-3h0m17-1h0m0 0h0m3 2h0m1 3h0m3-4h0m2 2h0m10 1h0m4 0h0m9 0h0m6-2h0m0-2h0m8 3h0m1 1h0m2-3h0m3 0h0m11 3h0m13 0h0m10-4h0m1 3h0m4 0h0m-179 2h0m34 0h0m0 2h0m0 2h0m5 1h0m8-1h0m4-1h0m1-1h0m1 1h0m14 1h0m11 0h0m1 1h0m8-2h0m6-2h0m0 1h0m4 3h0m5 1h0m2-1h0m0-3h0m0 1h0m1 2h0m1-5h0m3 5h0m2-3h0m0 3h0m1-3h0m0 0h0m1-1h0m1-1h0m0 1h0m0 0h0m6 4h0m1-4h0m2 1h0m4-1h0m0 5h0m1-3h0m3-1h0m1 3h0m1-5h0m6 1h0m1 2h0m2-3h0m2 1h0m13 0h0m1-1h0m5 5h0m1 0h0m2 0h0m3-3h0m2-1h0m5 0h0m9 0h0m0-1h0m-150 9h0m0-1h0m4 2h0m0 1h0m1-1h0m12-3h0m1 0h0m1 4h0m1 0h0m5-1h0m4-2h0m0 2h0m5-3h0m5 3h0m2 2h0m12-3h0m1 0h0m9 1h0m4-1h0m0 2h0m4-2h0m6 1h0m7-1h0m2 0h0m1 0h0m0 2h0m1-2h0m3-1h0m4-1h0m9 3h0m0-1h0m0 2h0m2-2h0m2 1h0m1-2h0m0 0h0m5 3h0m2-2h0m3 3h0m2-1h0m4-5h0m7 4h0m3 1h0m0-4h0m2 4h0m2-4h0m9 1h0m18 3h0m-220 4h0m0 0h0m1 2h0m39-2h0m4 2h0m0-3h0m3 4h0m7-2h0m3 0h0m1 2h0m6-5h0m7 4h0m1-4h0m1 4h0m2-3h0m0 3h0m2-3h0m2 2h0m5-1h0m6-1h0m14 2h0m6 2h0m1-3h0m11 1h0m2-4h0m5 5h0m3-4h0m2 1h0m5 4h0m4-2h0m0-1h0m0-1h0m4-2h0m11 2h0m1 4h0m0-2h0m7-3h0m1 0h0m5 2h0m1-1h0m2 1h0m1 2h0m0-1h0m4-2h0m8-1h0m5 4h0m4 0h0m7-3h0m-212 10h0m0-1h0m2 0h0m0-3h0m3 4h0m12-4h0m5 2h0m1-4h0m9 6h0m0-2h0m1-1h0m1 2h0m1-5h0m3 3h0m1-3h0m1 5h0m2 0h0m3 1h0m1-4h0m8 1h0m2 0h0m0-2h0m3 5h0m4-6h0m3 4h0m22 1h0m5-2h0m17 0h0m2 3h0m10-5h0m0-1h0m9 1h0m3 1h0m0 2h0m7-4h0m9 1h0m20-1h0m2 2h0m0 4h0m6-5h0m27 2h0m13 0h0m2 2h0m3 0h0m-223 6h0m2-3h0m1 3h0m1-1h0m1-1h0m0 2h0m5 1h0m0 0h0m6-2h0m4-2h0m0-1h0m2 5h0m1-3h0m7-2h0m2-1h0m6 2h0m0 3h0m3 0h0m6-3h0m0 2h0m5-3h0m1 4h0m2-3h0m9-1h0m1 3h0m4 0h0m13 2h0m0 0h0m2-5h0m2 3h0m3 0h0m0-2h0m1-2h0m4 1h0m5 2h0m1 0h0m0 0h0m1-2h0m1 3h0m9 0h0m1 0h0m2 0h0m1 0h0m6 0h0m9-3h0m4 3h0m0-2h0m4-1h0m0-1h0m5 0h0m17 2h0m16 3h0m3-2h0m2 3h0m1-1h0m6 0h0m13 1h0m9-1h0m1 0h0m3-3h0m3 1h0m1-3h0m3 3h0m6 2h0m-256 6h0m0 1h0m3-3h0m27-1h0m1 0h0m4 2h0m5-4h0m0 1h0m3 4h0m2-2h0m0 1h0m5-2h0m4 0h0m7 4h0m4-3h0m1-2h0m0 3h0m4 0h0m3-2h0m2 3h0m38-1h0m0-2h0m8 0h0m5 1h0m2 0h0m4-1h0m1-1h0m2 3h0m1-2h0m2 0h0m11 0h0m2 0h0m0 1h0m2-2h0m7 0h0m1 4h0m1-2h0m2-1h0m3-1h0m0 1h0m0 0h0m4 3h0m1-4h0m2 3h0m3-2h0m7 1h0m1 3h0m5-6h0m11 3h0m0 1h0m0-2h0m1 1h0m1 3h0m1-3h0m1 1h0m5-4h0m7 6h0m4-5h0m0 4h0m4 1h0m7-5h0m3 1h0m1-2h0m3 0h0m8 2h0m-246 4h0m1 0h0m4 2h0m5 2h0m1 1h0m1-5h0m0 2h0m1 3h0m15-3h0m3-1h0m6 3h0m1 1h0m0 0h0m3-2h0m1-3h0m0 5h0m6-3h0m5-1h0m6 3h0m3-2h0m0-2h0m15 0h0m1 4h0m2 0h0m0-3h0m3 3h0m0-3h0m9 2h0m3 1h0m3-2h0m15 0h0m4 1h0m3 2h0m2-1h0m5-3h0m2 2h0m3 2h0m1 0h0m4-4h0m2 0h0m0 3h0m2 0h0m0-3h0m2 1h0m0 1h0m2 2h0m0-4h0m2 5h0m1-5h0m1-1h0m1 3h0m2-3h0m1 0h0m0 4h0m1 0h0m1 2h0m9-1h0m3 0h0m4-3h0m0 3h0m1 0h0m0-4h0m5 4h0m0-2h0m3 2h0m0 0h0m1 0h0m7 0h0m0-3h0m2 3h0m3-3h0m5 0h0m1 2h0m4-1h0m4 2h0m1 0h0m11-4h0m1 4h0m6 1h0m1-1h0m3 0h0m0-1h0m1 1h0m1-4h0m0 4h0m2-4h0m1 3h0m1-4h0m19 5h0m5-2h0m-256 5h0m3 4h0m0 0h0m1-4h0m2-1h0m1 1h0m0 2h0m27-4h0m1 3h0m2-3h0m18 2h0m4 0h0m1 0h0m4 4h0m6-3h0m4 0h0m0 1h0m4-3h0m2 3h0m1-1h0m4 1h0m1 0h0m7-2h0m13 4h0m5-1h0m2-3h0m2 2h0m7-3h0m2 5h0m5 0h0m2-1h0m3-5h0m12 0h0m1 5h0m1 1h0m4-3h0m4-2h0m5 4h0m7 0h0m1-5h0m1 6h0m0-2h0m1-1h0m8 3h0m1-5h0m2-1h0m10 4h0m1-3h0m2 4h0m1 1h0m6-1h0m1 0h0m3 0h0m1-2h0m2 3h0m0-3h0m10 2h0m0-4h0m1 2h0m3-2h0m6 5h0m1-3h0m13 2h0m0-1h0m6 1h0m1 0h0m4 0h0m1-5h0m10 1h0m-271 10h0m10-4h0m2 0h0m18 1h0m15 1h0m1-3h0m2 3h0m2 0h0m1 2h0m3-4h0m4 0h0m6 2h0m0-1h0m1 0h0m0 2h0m0-3h0m1 1h0m3 3h0m1-2h0m9 0h0m9-1h0m0 3h0m5 0h0m2-2h0m0 0h0m2-1h0m0 2h0m1-2h0m12 2h0m2 1h0m0 0h0m11-1h0m1-1h0m3-1h0m6 1h0m1-1h0m0 2h0m0 0h0m1-3h0m5-1h0m1 6h0m0-1h0m1 0h0m2 1h0m1-1h0m1 1h0m1-5h0m1 5h0m3-1h0m9-2h0m2 1h0m6 1h0m2-2h0m7-2h0m0 4h0m3-4h0m7 3h0m3 1h0m1-2h0m1 0h0m1-1h0m0-1h0m3 5h0m1-6h0m3 6h0m3-3h0m0-1h0m3 2h0m4-3h0m0 5h0m1-5h0m4 0h0m1 3h0m1 1h0m1-1h0m0-2h0m0 3h0m6-4h0m4-1h0m4 4h0m12-2h0m4-1h0m1-1h0m4 0h0m1 1h0m2 1h0m23 4h0m-283 1h0m3 0h0m29 4h0m2 1h0m0-1h0m35-3h0m4 3h0m1-4h0m12 2h0m3 0h0m0-3h0m11 2h0m9 3h0m3-3h0m4-1h0m2-1h0m1 0h0m6 5h0m0-1h0m1-1h0m1 0h0m2-2h0m1 4h0m6 1h0m4-5h0m3 5h0m5-6h0m1 5h0m0-3h0m4 3h0m1-4h0m0 3h0m1 2h0m2-2h0m1 2h0m2-2h0m5 1h0m0-2h0m4 1h0m5-1h0m6-2h0m4 1h0m1 2h0m4 1h0m5-1h0m2-4h0m1 3h0m2 2h0m3 0h0m7-2h0m0 2h0m1 0h0m2-4h0m8 2h0m3-2h0m2 0h0m1 3h0m2 0h0m1-2h0m0 4h0m1-1h0m2-4h0m4 1h0m4 2h0m3-1h0m1-3h0m1 1h0m1 2h0m2-1h0m2 3h0m2 0h0m4-4h0m42 5h0m-267 4h0m1-1h0m0-3h0m2 1h0m1 1h0m35-1h0m2 3h0m5 1h0m1-2h0m3 0h0m1-1h0m0 2h0m1-4h0m2 6h0m0-5h0m1 4h0m3-4h0m0 3h0m1 0h0m2-4h0m4 5h0m3-4h0m10-1h0m2 5h0m1-5h0m0 3h0m1 3h0m4-1h0m1-4h0m3-1h0m1 5h0m4-5h0m4 4h0m2 0h0m5 1h0m0-5h0m0 1h0m1 3h0m0-3h0m3 4h0m1 0h0m0-4h0m3 3h0m0-1h0m0-3h0m3 3h0m3-1h0m2 3h0m3-4h0m2 1h0m3 2h0m1-2h0m2 3h0m0-1h0m3-2h0m3-2h0m2 2h0m2 3h0m9-2h0m5 0h0m1-2h0m0 5h0m0-2h0m4 2h0m3-5h0m2 1h0m1 0h0m3-2h0m5 1h0m2 0h0m2-1h0m7 5h0m2 0h0m5 1h0m2-1h0m5-2h0m0 2h0m0 0h0m7-1h0m11-4h0m48 2h0m-291 8h0m7-1h0m0 0h0m17 1h0m1-2h0m1 2h0m10-2h0m1 1h0m0-2h0m38 5h0m2-4h0m1 1h0m1-1h0m3-2h0m1 5h0m1 0h0m2 0h0m16 0h0m0-5h0m3 2h0m2-1h0m3 4h0m5-2h0m6-3h0m1 1h0m1 0h0m2 4h0m1-3h0m5-1h0m1 2h0m0 0h0m7 2h0m0-2h0m4 1h0m3-4h0m3 1h0m2 1h0m2 0h0m0 1h0m1 1h0m0 2h0m0-6h0m4 6h0m0-1h0m2-4h0m2 2h0m2 0h0m2 2h0m2-1h0m2-1h0m2 0h0m3-1h0m4 2h0m5 0h0m1 1h0m0-1h0m2 1h0m2-5h0m1 1h0m6-1h0m12 6h0m3-2h0m2 1h0m2-3h0m5 3h0m5-5h0m2 0h0m0 4h0m0 0h0m3 1h0m0 0h0m61-4h0m1 0h0m-308 11h0m18-1h0m2-5h0m1 2h0m5 1h0m0 3h0m16-4h0m11 2h0m28 1h0m1-2h0m5 2h0m3-4h0m2 5h0m1-1h0m3-5h0m12 2h0m2 0h0m0 2h0m2-1h0m1 1h0m2 1h0m2-4h0m1 1h0m0-1h0m0 2h0m1 0h0m1 0h0m5 0h0m1-1h0m0 1h0m4 3h0m0-3h0m3 0h0m8 1h0m1-3h0m1 0h0m0 0h0m1 5h0m5-6h0m1 5h0m1-2h0m3 3h0m2 0h0m1-4h0m2-2h0m6 6h0m1-6h0m2 4h0m6 1h0m3-4h0m1 5h0m2-1h0m0-5h0m2 2h0m1 3h0m1-1h0m0 2h0m0-4h0m0-1h0m3 2h0m1-2h0m2 3h0m4-3h0m2 1h0m1 0h0m5-1h0m0 0h0m2 1h0m4 4h0m8 0h0m6-4h0m3 2h0m48-1h0m1 0h0m38-1h0m0 2h0m-313 3h0m4 2h0m1-2h0m10 2h0m1 1h0m2 0h0m2 1h0m7-3h0m18 1h0m6 2h0m2-5h0m9 5h0m3-2h0m0 0h0m2 2h0m2 0h0m20-4h0m3 0h0m0 0h0m8 5h0m11-4h0m2-1h0m0 1h0m3 2h0m9 0h0m3-2h0m2 3h0m3-3h0m2 0h0m2 0h0m3 1h0m9 1h0m0-1h0m1-2h0m0 4h0m2-1h0m0-1h0m0-1h0m2 3h0m1 1h0m2-5h0m2 4h0m1-2h0m1-2h0m3 3h0m2 0h0m1-4h0m2 2h0m2 0h0m1 2h0m1 0h0m0-1h0m3 1h0m2-2h0m0-1h0m1 0h0m0 1h0m1 3h0m4 1h0m2-1h0m0 1h0m1-3h0m0 0h0m0-2h0m17 4h0m15-5h0m1 0h0m3 0h0m7 6h0m13-4h0m1 3h0m3 0h0m2-3h0m2 1h0m17 2h0m-267 5h0m1 1h0m5 0h0m2-5h0m1 0h0m2 6h0m1-1h0m0-5h0m1 2h0m3-1h0m7 1h0m1 3h0m6-4h0m2 4h0m10 0h0m4-4h0m0 4h0m1-5h0m2 6h0m1-1h0m14-1h0m2 1h0m5-2h0m19-1h0m9 4h0m3-4h0m4-1h0m1 4h0m9-2h0m5-3h0m0 3h0m2-2h0m4 0h0m0 2h0m1 2h0m6 0h0m7-1h0m4 1h0m2-4h0m5 1h0m4 0h0m1 4h0m1-1h0m1-3h0m1 2h0m4 0h0m7-2h0m0-2h0m1 5h0m5-3h0m0 3h0m1-2h0m13 3h0m5-3h0m1 0h0m3 0h0m4 0h0m3 0h0m18-2h0m26 0h0m36 5h0m14-2h0m1 0h0m-304 3h0m19-1h0m3 5h0m2-1h0m1 1h0m2-3h0m1 1h0m0 1h0m3 1h0m5-5h0m0 2h0m10 0h0m1 4h0m1 0h0m2-2h0m2-1h0m8-1h0m15-2h0m17 4h0m2 0h0m4-1h0m1 1h0m2 2h0m0-5h0m1 3h0m1-1h0m0-1h0m0 0h0m2 0h0m2 3h0m1-1h0m2-1h0m2 0h0m1-2h0m0-1h0m4 5h0m6 0h0m0-3h0m1 1h0m1 2h0m1-1h0m1 2h0m3-3h0m7-1h0m3 4h0m1-3h0m5 0h0m5 3h0m0-4h0m1 0h0m2 1h0m1 2h0m1 0h0m0-5h0m1 5h0m2-2h0m0 2h0m2-3h0m2 1h0m1-3h0m0 1h0m3 1h0m2-2h0m0 3h0m0-2h0m5 0h0m1 2h0m1 1h0m1-2h0m2 0h0m0 0h0m1 2h0m1-3h0m3 0h0m0 1h0m2-1h0m2 2h0m2 2h0m3-1h0m2-4h0m1 4h0m1-1h0m0-1h0m19 0h0m1-1h0m29 2h0m16 2h0m7-3h0m1 0h0m18-2h0m17 2h0m-304 8h0m5 2h0m9-3h0m0-2h0m1 0h0m2 1h0m6 0h0m4 3h0m0-4h0m4 3h0m1-2h0m0-2h0m1 5h0m13-5h0m15 2h0m11 3h0m4-5h0m1 5h0m9-1h0m1-2h0m3 1h0m4 3h0m5-6h0m3 3h0m1 2h0m3-4h0m1 1h0m1-2h0m1 3h0m2 0h0m4-2h0m1 2h0m0 1h0m2-2h0m17 0h0m2-1h0m6 4h0m0-1h0m3 0h0m0 0h0m1-4h0m1 5h0m1-3h0m5 3h0m1 1h0m2-3h0m2 2h0m5-2h0m3 3h0m2-2h0m1-2h0m1-1h0m2 2h0m1 3h0m0-4h0m0-1h0m1 1h0m0 2h0m0-3h0m10-1h0m5 1h0m3 0h0m3 1h0m3 2h0m2-2h0m4-1h0m4 1h0m8 4h0m1-5h0m26 2h0m1-2h0m6 4h0m6 0h0m3-4h0m5 3h0m2-1h0m1 3h0m3-3h0m3 2h0m10-5h0m2 1h0m19 0h0m-300 9h0m0-1h0m7 1h0m2 1h0m5-4h0m8 2h0m1 3h0m1-1h0m3 1h0m2-3h0m0 1h0m1-4h0m1 2h0m3-1h0m6 0h0m28 2h0m10 2h0m2 1h0m0-1h0m1 0h0m2-1h0m2-1h0m1-1h0m0 3h0m8 1h0m5-4h0m4 0h0m5-1h0m4 4h0m2-3h0m2 1h0m3 3h0m2-3h0m1 2h0m10 1h0m1-4h0m2 2h0m1 1h0m1-1h0m2-1h0m0-3h0m6 3h0m0 1h0m4-2h0m2 4h0m0-2h0m1-1h0m2 2h0m0-3h0m1 1h0m5 3h0m0-3h0m0-3h0m1 4h0m4 0h0m3 0h0m2-3h0m5 1h0m6 2h0m1-4h0m3 2h0m8 3h0m0-1h0m0 0h0m1-1h0m5-2h0m9 4h0m5-2h0m26 1h0m4 1h0m0-2h0m6-3h0m9 1h0m22 4h0m3-2h0m1 0h0m1-3h0m3 5h0m-283 2h0m1 0h0m1 1h0m3 2h0m7-2h0m5 4h0m1-5h0m0 4h0m0 0h0m3-1h0m12 0h0m9 2h0m2-4h0m17 1h0m2 0h0m1-1h0m10 0h0m0-1h0m2 0h0m3 4h0m11-4h0m6 1h0m3 4h0m0-2h0m4 1h0m1-1h0m11-2h0m0 3h0m0-5h0m2 2h0m1 2h0m1-3h0m4 5h0m1-5h0m0 1h0m3 2h0m4 0h0m3-3h0m0 5h0m13-1h0m4-4h0m4 1h0m5 1h0m2 2h0m4 0h0m0-5h0m7 3h0m2-2h0m3 0h0m5 3h0m0 1h0m2 0h0m3 0h0m2 0h0m1-3h0m3 1h0m2-2h0m4 4h0m7 0h0m21-3h0m2 2h0m3-1h0m2 1h0m42-2h0m3 1h0m3-3h0m-271 12h0m0-5h0m2 4h0m4 0h0m1 0h0m4-4h0m2 3h0m0 1h0m0-5h0m3 4h0m10 0h0m0-4h0m8 1h0m2 4h0m17 0h0m20-3h0m14 0h0m0 0h0m2-1h0m6-1h0m0 1h0m7 0h0m7 0h0m2 0h0m13 0h0m12 4h0m0-2h0m3 3h0m6-4h0m0-1h0m0 0h0m5 4h0m6 0h0m0-2h0m2 1h0m1 2h0m0-1h0m2-5h0m0 4h0m1 1h0m0-4h0m3 3h0m2-2h0m6 2h0m1 0h0m1 1h0m5 0h0m0-2h0m1-2h0m4 3h0m0-4h0m6 2h0m3 0h0m0 2h0m18-2h0m3-1h0m5 5h0m0 0h0m0-4h0m3 0h0m5 3h0m4-4h0m1 4h0m1 0h0m-238 6h0m2 0h0m0-4h0m3 0h0m5 2h0m1-1h0m1 0h0m7-1h0m2 2h0m5 3h0m3-6h0m4 6h0m0-1h0m1-3h0m4 3h0m1 0h0m3-1h0m0-2h0m17 1h0m23 1h0m10 1h0m2 0h0m1 1h0m22 0h0m21-5h0m7 0h0m5 0h0m0 3h0m2-3h0m4 2h0m1 2h0m1-2h0m3-2h0m1 3h0m0 1h0m1 1h0m2-6h0m9 5h0m1-3h0m0-1h0m2 1h0m0 3h0m1-5h0m5 0h0m4 0h0m2 2h0m8-1h0m16 4h0m3 0h0m10-4h0m3 2h0m0 2h0m0 0h0m0-3h0m1 4h0m3-2h0m0-4h0m3 3h0m1 0h0m23 2h0m14-3h0m-273 4h0m4 4h0m1-3h0m1-1h0m0 3h0m0-1h0m2 0h0m6 3h0m5-4h0m0 3h0m1-2h0m4 2h0m1 0h0m6-3h0m0 3h0m12 2h0m4-3h0m2 1h0m7 1h0m7-1h0m2-2h0m2 2h0m6-2h0m8 3h0m0-1h0m2 0h0m0-1h0m5 1h0m0-3h0m8 4h0m16-2h0m1 2h0m3-2h0m2-1h0m1 0h0m6 0h0m6 2h0m3 1h0m3-1h0m19-1h0m4-2h0m9 0h0m5 5h0m7-2h0m24-2h0m5 4h0m9-4h0m5 0h0m5 3h0m1-4h0m7 1h0m0 0h0m2 0h0m29 1h0m6-2h0m0 0h0m1 2h0m-269 5h0m2 2h0m0 2h0m5-1h0m3-4h0m4 0h0m6 4h0m15-1h0m1-1h0m2 0h0m0-1h0m5 0h0m0 3h0m3-3h0m0 2h0m2-2h0m0 1h0m4-1h0m5 4h0m1-2h0m2-1h0m9-3h0m2 0h0m3 0h0m3 3h0m2-2h0m2 0h0m5-1h0m0 3h0m2 1h0m0 1h0m1 0h0m2 0h0m1-4h0m0 0h0m7 3h0m1-3h0m2 2h0m4-2h0m2 4h0m0 0h0m1 1h0m2-4h0m6 4h0m0-5h0m3 4h0m13-1h0m6 1h0m58 1h0m10-4h0m6-1h0m1 2h0m1-2h0m6 4h0m4-2h0m0 0h0m2-1h0m1 1h0m0 2h0m0-4h0m1 1h0m4 2h0m35-1h0m1-2h0m-269 6h0m1 2h0m4 0h0m1-1h0m2 1h0m3-1h0m0 4h0m0-1h0m1-1h0m1-3h0m8 3h0m3-2h0m2 0h0m3 0h0m2 3h0m4-2h0m4-2h0m3-1h0m1 5h0m6-3h0m0 0h0m8 3h0m2-1h0m1-3h0m4 2h0m1 1h0m0 0h0m1-2h0m1 1h0m6-2h0m1-1h0m9 6h0m3-1h0m3 0h0m9-4h0m3 2h0m5 1h0m13-4h0m1 0h0m1 1h0m0 0h0m2 1h0m4 3h0m3-5h0m2 4h0m0 2h0m1 0h0m1-5h0m4 5h0m61-5h0m8 2h0m4 2h0m3-2h0m6 0h0m1 3h0m1-4h0m3 2h0m0 1h0m1-1h0m2-1h0m2 0h0m0-2h0m1 3h0m0-2h0m12-2h0m22 5h0m-260 6h0m2 0h0m4-2h0m9-3h0m3 4h0m4 2h0m1-4h0m0 3h0m3-2h0m0 3h0m1-5h0m1 2h0m1 3h0m0-6h0m5 4h0m6 0h0m2-2h0m1 3h0m7-4h0m6 1h0m4 0h0m4 0h0m6 2h0m1 0h0m1 2h0m18-5h0m4 1h0m3 3h0m1-3h0m0 3h0m3 0h0m2-1h0m9-3h0m0-1h0m6 2h0m1 3h0m0 0h0m16-5h0m1 2h0m13 0h0m0 0h0m4 0h0m1 0h0m4 0h0m0 1h0m7 3h0m3-5h0m2 0h0m0 2h0m4 0h0m7 0h0m34-2h0m1 3h0m3-1h0m9-2h0m2 3h0m40 0h0m-268 5h0m2 0h0m8 3h0m4-6h0m0 0h0m2 3h0m0-2h0m15 0h0m2 0h0m2 3h0m4-2h0m1 1h0m13 1h0m1-1h0m10-1h0m1 3h0m1 0h0m2-2h0m2 1h0m5 2h0m1-3h0m0 0h0m9 2h0m2-1h0m4-2h0m1 1h0m5 0h0m7 1h0m1-1h0m2 0h0m3 2h0m3-4h0m5 2h0m6 2h0m1-2h0m2-3h0m0 1h0m6 2h0m16 0h0m1-1h0m1 1h0m1 3h0m1-6h0m2 5h0m6-1h0m6 1h0m2-5h0m2 1h0m4 3h0m3-1h0m1-1h0m2 1h0m1 0h0m2 3h0m27-4h0m6 2h0m1-3h0m0 2h0m2-3h0m6 2h0m9 1h0m2 0h0m0 1h0m4 0h0m1-1h0m12-3h0m8 5h0m-217 3h0m1 2h0m7-1h0m1-3h0m3 2h0m0 3h0m6-4h0m0 3h0m2-4h0m1 4h0m2 2h0m5-1h0m0-4h0m4 5h0m7-1h0m2-5h0m1 1h0m1 1h0m1 1h0m3 2h0m2-2h0m6 1h0m0 1h0m3-3h0m9 0h0m0 1h0m13 1h0m1 1h0m22-4h0m7 4h0m3-3h0m0 1h0m5 2h0m2-2h0m11 1h0m1 1h0m2-4h0m1 3h0m6-1h0m1 2h0m7-2h0m1 1h0m13 0h0m2-2h0m13-1h0m10 2h0m14-1h0m2 1h0m-226 3h0m1 2h0m4 3h0m19 1h0m1-2h0m1 1h0m1 0h0m1-1h0m1-3h0m1 4h0m2-1h0m0 0h0m2-1h0m1-2h0m3-1h0m1 5h0m9-5h0m5 2h0m2 4h0m1-4h0m3 0h0m1 2h0m3 0h0m6-1h0m3 1h0m29-1h0m9 1h0m16 0h0m3 2h0m11-2h0m1-2h0m18 4h0m0 0h0m2-1h0m2 0h0m0-1h0m1-1h0m0-3h0m1 1h0m0-1h0m23 6h0m31-1h0m4 0h0m0-5h0m-219 9h0m1 3h0m18-3h0m0 2h0m1-3h0m5 3h0m4-4h0m2 0h0m3 0h0m10 2h0m2 3h0m13-5h0m2 5h0m2-4h0m1-2h0m11 2h0m0 1h0m10 0h0m6 0h0m0 2h0m29-1h0m2 1h0m4-2h0m3 0h0m21-1h0m3-1h0m5 0h0m1 0h0m33-1h0m2 2h0m-182 9h0m1 0h0m12 0h0m3-2h0m2-3h0m2 1h0m0 2h0m1 1h0m0 1h0m0-1h0m1 1h0m1-3h0m1-1h0m10 0h0m6-1h0m4 5h0m1-4h0m7 4h0m2-2h0m0-2h0m15 1h0m11 4h0m2 0h0m14-6h0m11 2h0m1 0h0m4 3h0m0 1h0m1-5h0m0 0h0m4 5h0m18-1h0m2-3h0m1 0h0m3 4h0m3-5h0m4 0h0m3 1h0m3-1h0m-156 10h0m8-4h0m7 1h0m3 2h0m12 0h0m2-2h0m1 3h0m4-1h0m4-3h0m6 4h0m4-4h0m1 3h0m1-4h0m1 1h0m24 3h0m3 2h0m0 0h0m3-1h0m0-3h0m2 4h0m2-2h0m2 1h0m0 1h0m5-2h0m2-1h0m1-1h0m0 4h0m15-3h0m2-1h0m2 0h0m1-1h0m20 1h0m1-2h0m3 4h0m1-2h0m1-1h0m0 5h0m-130 1h0m3 3h0m4-2h0m1 0h0m1 0h0m0-1h0m6 1h0m0-2h0m1 1h0m0 0h0m2 2h0m1 1h0m8 2h0m13-1h0m0-4h0m1 4h0m0-3h0m3 3h0m4-5h0m3 5h0m0-1h0m7-1h0m1-2h0m3 4h0m4-1h0m0 1h0m6-3h0m3 1h0m2-1h0m2-1h0m22 1h0m3 4h0m0-1h0m3-1h0m3 0h0m1 0h0m4-3h0m4 5h0m0-5h0m24 5h0m-157 1h0m4 0h0m33 0h0m1 1h0m11 1h0m2-1h0m1 1h0m4-1h0m0 0h0m19 4h0m4-5h0m1 3h0m0 0h0m3 1h0m6-1h0m2-3h0m4 1h0m1 3h0m2-2h0m10 0h0m2-1h0m1-2h0m1 4h0m2-2h0m3 2h0m6-3h0m0 0h0m2 3h0m2-2h0m1 0h0m2 1h0m1-1h0m24 1h0m-120 9h0m1-5h0m3 3h0m0-1h0m9 2h0m6-3h0m1 2h0m8 2h0m3-3h0m7-2h0m0 4h0m4-5h0m1 3h0m3 1h0m0 0h0m3-1h0m2 1h0m1-2h0m4 2h0m2 0h0m1 1h0m0-2h0m17 3h0m4-6h0m1 5h0m2 0h0m2-4h0m1 3h0m0-2h0m1 2h0m2-4h0m3 3h0m4 2h0m27-1h0m2-3h0m2 2h0m-131 8h0m2-2h0m13 3h0m5-3h0m8-2h0m4 3h0m3-4h0m4 1h0m1 3h0m1-3h0m3 3h0m6-3h0m27 0h0m2 0h0m7 4h0m3-2h0m0 0h0m1-1h0m7-1h0m32 1h0m2-1h0m-123 5h0m3 5h0m5-4h0m-7 6h0m61 0h0" stroke="#660066" stroke-width="4.6" stroke-linecap="round" fill="none"/>
<path d="M640 189h0m102-2h0m36-1h0m-2 9h0m11-2h0m-44 6h0m8-2h0m41 4h0m2-3h0m-53 9h0m16 0h0m8 0h0m27 1h0m-73 8h0m-8 5h0m30-1h0m-121 11h0m92-5h0m18 2h0m12 1h0m28 2h0m23-3h0m-173 5h0m11 2h0m97 1h0m8-2h0m6 1h0m2 1h0m-108 1h0m74 3h0m10 1h0m41 1h0m-1 7h0m24-5h0m-161 7h0m64 2h0m53 0h0m8 1h0m-21 5h0m10-4h0m1 5h0m45-2h0m3 1h0m-57 3h0m53 1h0m1 3h0m-36 7h0m41-2h0m-148 4h0m37 1h0m11 3h0m4 0h0m2-5h0m15 3h0m1-2h0m15 0h0m24 2h0m12-1h0m9 2h0m-89 2h0m10 2h0m30 1h0m18-2h0m18-1h0m14 4h0m-82 5h0m5-3h0m1 1h0m3-1h0m33 1h0m9 0h0m20 4h0m13-5h0m-81 5h0m9 3h0m56-3h0m12 6h0m5 0h0m2-4h0m40 3h0m-118 5h0m26-3h0m12 4h0m19-3h0m12 4h0m-63 4h0m30 0h0m63 1h0m26-2h0m3-2h0m-152 8h0m35-2h0m30 3h0m60-2h0m5 0h0m-116 8h0m22-1h0m6 1h0m17-2h0m3 1h0m23 0h0m83 1h0m-152 8h0m1-1h0m49-4h0m16 1h0m12 0h0m-62 6h0m12 2h0m4 1h0m13-5h0m3 5h0m86 1h0m-117 2h0m131 2h0m-153 7h0m50 1h0m4-5h0m5 2h0m50-2h0m1 2h0m48 2h0m-110 4h0m72-2h0m-83 7h0m79 0h0m13-1h0m-78 7h0" stroke="#7700FF" stroke-width="4.6" stroke-linecap="round" fill="none"/>
<path d="M804 119h0m-43 10h0m1-5h0m42 2h0m16-1h0m-88 10h0m5-6h0m3 6h0m45-4h0m22 0h0m19 3h0m27 6h0m-129 2h0m20 4h0m44 0h0m55 1h0m-121 5h0m115-5h0m12 2h0m16 1h0m-122 5h0m19 4h0m29 0h0m22-3h0m16 1h0m40 1h0m-164 5h0m54 0h0m13-1h0m25 0h0m-108 6h0m10 1h0m7-1h0m7-2h0m31 3h0m41-4h0m77 5h0m1-2h0m-202 5h0m4-2h0m98 4h0m7 1h0m91-2h0m22 1h0m-192 5h0m58-3h0m16 2h0m38 2h0m29 2h0m-169 5h0m9-2h0m21 3h0m21-3h0m52-3h0m17 2h0m28 3h0m3-1h0m6-1h0m0 0h0m-147 5h0m21 1h0m5-1h0m2 0h0m4 0h0m59 3h0m40 0h0m23-3h0m-152 7h0m40-3h0m11 4h0m19 1h0m50 0h0m9-5h0m20 5h0m2-1h0m10-1h0m10-2h0m-147 6h0m43 3h0m9-3h0m13 4h0m6-3h0m5 2h0m16-3h0m9 2h0m10 0h0m0-2h0m16 4h0m56-5h0m30 1h0m2-1h0m-202 12h0m25-1h0m7-2h0m3-1h0m13 1h0m11 2h0m25-1h0m11-1h0m1-3h0m10 3h0m7 0h0m1 0h0m3 1h0m21-4h0m17 4h0m57 1h0m-184 6h0m28 0h0m22 0h0m7-2h0m19-3h0m14 0h0m24 0h0m7 0h0m0 2h0m58 1h0m-285 8h0m19-5h0m54 2h0m32 0h0m15 1h0m23 1h0m22-1h0m23 2h0m-198 3h0m44-1h0m1-1h0m135 4h0m11-3h0m-157 9h0m53-2h0m34-1h0m0 4h0m28 1h0m3-1h0m3 0h0m4-1h0m38 1h0m5 0h0m68-1h0m-182 2h0m6 1h0m2 3h0m43-2h0m1-1h0m10-1h0m4 2h0m141 0h0m-293 5h0m64 0h0m11 2h0m14-1h0m1-1h0m2 2h0m1 0h0m18-3h0m26 3h0m3 2h0m2-4h0m5 2h0m7-1h0m9 1h0m2 1h0m4-1h0m-95 5h0m6 1h0m20-3h0m26 3h0m3 2h0m18-4h0m3 2h0m8-1h0m3 3h0m17-1h0m9-4h0m3 2h0m-110 6h0m33 4h0m5-3h0m2 3h0m7-3h0m54 1h0m18-1h0m-80 5h0m2-1h0m14 2h0m54-2h0m8 4h0m-179 2h0m87 4h0m9 0h0m34-2h0m24 1h0m6-4h0m3 5h0m12-1h0m-159 6h0m8-1h0m12-1h0m27-2h0m9 2h0m12 4h0m2-4h0m2 2h0m5 0h0m3 1h0m7-5h0m69 5h0m-166 3h0m67 1h0m5 3h0m20-2h0m9-1h0m11 0h0m1-3h0m19 4h0m-83 8h0m5-3h0m65-3h0m-119 11h0m48-4h0m29 1h0m26 0h0m18 4h0m6-4h0m23 4h0m4 0h0m-142 6h0m24-3h0m23-2h0m13 2h0m20 1h0m80-3h0m-111 7h0m32 1h0m61 0h0m13 2h0m4-4h0m-128 9h0m36 1h0m40-4h0m14 4h0m44 1h0m2-6h0m10 2h0m-139 8h0m61-2h0m5 3h0m70 0h0m-106 5h0m20 0h0m0 0h0m6 0h0m-45 3h0m2 5h0m42-5h0m-52 10h0m4 0h0m16-4h0m42 3h0m34-3h0m1 3h0m24 0h0m-51 4h0m24-1h0m42 1h0m-100 6h0m13-2h0m15 0h0m39 5h0m-78 7h0m10-6h0m1 1h0" stroke="#0055FF" stroke-width="4.6" stroke-linecap="round" fill="none"/>
<path d="M765 128h0m20-2h0m3 2h0m3-4h0m15 1h0m6 4h0m9-5h0m0 1h0m1 4h0m-91 4h0m10-3h0m21 5h0m13-4h0m0 2h0m0-4h0m7 5h0m10 0h0m12-2h0m8 3h0m13-2h0m-100 6h0m1 0h0m0 1h0m4-5h0m47 4h0m0 0h0m41 2h0m9-1h0m2-4h0m-103 7h0m52 4h0m2-2h0m10-2h0m19 0h0m6 1h0m-68 6h0m28 1h0m20 1h0m19-5h0m17 1h0m25 0h0m6 1h0m-121 8h0m0 2h0m22-4h0m24 2h0m5 1h0m0 0h0m7-4h0m4 2h0m2-2h0m14-1h0m0 1h0m9 3h0m11 1h0m8-1h0m19-3h0m4 0h0m-147 8h0m52 0h0m9 0h0m10 2h0m1-4h0m1 4h0m14-4h0m19 0h0m1 3h0m11-2h0m1-1h0m3 3h0m1-2h0m-168 6h0m68-1h0m3 5h0m1-4h0m6 2h0m6-4h0m98 1h0m19 3h0m8 1h0m-226 2h0m4-1h0m20 4h0m39-1h0m40 2h0m20-3h0m11 1h0m3 2h0m4 0h0m1 0h0m4 1h0m1-1h0m8 0h0m6 0h0m6-2h0m5-1h0m-60 6h0m15-2h0m15 1h0m1 3h0m13 1h0m44 0h0m5-2h0m8-1h0m-78 8h0m64-2h0m5-1h0m26 3h0m0-1h0m5-1h0m-180 5h0m128 1h0m0 3h0m35 1h0m-184 3h0m156 0h0m18 2h0m0 0h0m0-1h0m39-2h0m1 3h0m6-4h0m-219 11h0m118-3h0m9 1h0m3-3h0m21 4h0m0-5h0m9 5h0m12-3h0m11 0h0m31-1h0m6 3h0m-146 5h0m0 0h0m41-2h0m40 4h0m3-3h0m0 2h0m6-3h0m32 5h0m2-1h0m25-4h0m-68 6h0m-126 8h0m72-2h0m8 1h0m10 3h0m20-1h0m12-2h0m1 0h0m-36 6h0m4 2h0m36-4h0m19 2h0m57 0h0m-62 6h0m7 1h0m0 0h0m1-1h0m3 1h0m1 2h0m8-1h0m15 1h0m-188 4h0m95-1h0m63 2h0m6-3h0m7 4h0m11-1h0m1-3h0m28-1h0m1 5h0m-238 2h0m69 1h0m77 1h0m25 2h0m17-5h0m26 2h0m-196 9h0m109-4h0m11 4h0m4 0h0m23-2h0m6-2h0m7 2h0m2 1h0m5-3h0m8 3h0m2 2h0m7-5h0m-71 9h0m6-1h0m8 2h0m2 0h0m19-2h0m14 2h0m-69 2h0m3 5h0m17-5h0m30 5h0m11 0h0m5-4h0m11-2h0m33 3h0m-126 4h0m14 0h0m50 3h0m58 0h0m-43 5h0m15-2h0m-31 6h0m11 4h0m8 0h0m-163 7h0m165-3h0m-18 3h0m20 3h0m-91 5h0m92-1h0m3 1h0m11 2h0m21-3h0m-50 8h0m-142 9h0m44 23h0m26 12h0" stroke="#00FFEE" stroke-width="4.6" stroke-linecap="round" fill="none"/>
<path d="M750 123h0m-6 4h0m40-3h0m0 5h0m49 3h0m-39 5h0m19 1h0m31 0h0m-83 6h0m25-3h0m2 2h0m54 1h0m3 1h0m-61 4h0m73-1h0m4-1h0m2 2h0m19 3h0m-157 3h0m74 0h0m44 2h0m8-1h0m-78 5h0m42 1h0m31-2h0m14 4h0m-120 1h0m33 1h0m1 0h0m114 0h0m-208 10h0m178-1h0m6-4h0m10 2h0m1 1h0m-109 5h0m40 0h0m14 3h0m15-4h0m25 0h0m-59 9h0m24-1h0m34 2h0m2-1h0m1-3h0m-150 7h0m1 7h0m7 3h0m90-3h0m5-1h0m33 1h0m30-2h0m3 1h0m-50 6h0m-11 7h0m6-1h0m97 3h0m-124 2h0m16 4h0m1-2h0m36 1h0m40 1h0m-64 5h0m7 2h0m8-3h0m0 0h0m10 0h0m-20 4h0m6 1h0m5-1h0m25 3h0m2-1h0m3 1h0m-38 6h0m1-3h0m24 1h0m2 0h0m7 3h0m2 0h0m0 0h0m1-1h0m1-3h0m2-1h0m3 0h0m1 4h0m-50 6h0m4-2h0m0-1h0m27 1h0m6-1h0m4-1h0m4 5h0m10-3h0m-84 10h0m27-5h0m4 0h0m7 2h0m1-2h0m18 5h0m0-2h0m1 0h0m1 0h0m3 1h0m1 1h0m0-2h0m1 0h0m0-2h0m16 0h0m-67 6h0m15 3h0m4-4h0m22 1h0m20 3h0m4-3h0m2-2h0m1 3h0m1 2h0m8-4h0m6 2h0m3-1h0m6 1h0m2-2h0m-82 8h0m1-2h0m29 1h0m0-1h0m3 4h0m2-2h0m3-2h0m0-1h0m7 5h0m8-5h0m23 1h0m5 2h0m-101 4h0m43 3h0m2-4h0m4 0h0m0 0h0m2 5h0m1-3h0m19 1h0m1 0h0m4 0h0m23 3h0m4-5h0m-56 7h0m4 0h0m0 3h0m14-2h0m10-3h0m14 1h0m5 3h0m10-1h0m-89 5h0m18-1h0m12 2h0m8-1h0m12 0h0m11 2h0m0 1h0m6-1h0m5-3h0m1 3h0m10 2h0m3-5h0m2 4h0m-63 2h0m12 2h0m20-2h0m5 1h0m-35 5h0m0 4h0m1-4h0m0 1h0m7-1h0m4 4h0m4-1h0m36-3h0m1 4h0m3 0h0m6-3h0m7 1h0m-68 4h0m27 4h0m8-5h0m21 6h0m-42 1h0m5 4h0m5 1h0m19-2h0m19-3h0m-23 8h0m3 0h0m2-2h0m13 1h0m-49 7h0m34 2h0m9 1h0m-39 0h0" stroke="#55FF00" stroke-width="4.6" stroke-linecap="round" fill="none"/>
<path d="M813 125h0m56 21h0m2-2h0m1 14h0m-157 5h0m121-4h0m-148 9h0m108 10h0m71 2h0m-186 3h0m164 20h0m27 2h0m1-1h0m21 6h0m2 3h0m-63 9h0m12 1h0m50-3h0m-48 7h0m19 2h0m2-1h0m2 0h0m-33 3h0m5 2h0m19-1h0m14 3h0m-10 4h0m6 3h0m-10 5h0m2-3h0m11 2h0m0 1h0m2 0h0m8-2h0m2 4h0m-22 4h0m5 1h0m18 0h0m14-2h0m-47 4h0m7 3h0m10 1h0m37-1h0m-34 8h0m20-3h0m-33 4h0m4 1h0m16 0h0m8 3h0m2-1h0m9 1h0m2 1h0m6 0h0m-49 1h0m3 1h0m19-1h0m14-1h0m12 2h0m-70 4h0m24 5h0m9-3h0m10 1h0m5-1h0m15-1h0m-51 8h0m29-1h0m1 4h0m1-4h0m0 3h0m17 0h0m5-2h0m4 0h0m8-1h0m2 0h0m3 3h0m-56 5h0m16-3h0m7-1h0m14 5h0m7 0h0m3-4h0m4 3h0m-16 7h0m2-3h0m6-1h0m3 2h0m7 0h0m-55 4h0m23 4h0m2-4h0m1 1h0m1 4h0m3-3h0m18 2h0m-45 5h0m24-3h0m8 1h0m5 2h0m-9 2h0" stroke="#CCFF00" stroke-width="4.6" stroke-linecap="round" fill="none"/>
<path d="M755 143h0m-18 18h0m2 2h0m153 46h0m8 2h0m-56 13h0m14 1h0m34-6h0m2 1h0m-64 7h0m12 3h0m40 1h0m-52 10h0m6-1h0m67 12h0m-20 5h0m17 10h0m-20 2h0m3-1h0m6 2h0m2 2h0m5 1h0m5-4h0m-61 6h0m36 4h0m4-6h0m5 0h0m16 6h0m0 0h0m1-3h0m-48 7h0m23-2h0m22 1h0m-25 8h0m3-3h0m1 3h0m38-4h0m-14 9h0m1-1h0m16-3h0m-59 9h0m17-2h0m1 4h0m1-4h0m28 0h0m1 3h0m9 0h0m-20 6h0m2-3h0m8 5h0m-46 1h0m25 1h0m3 0h0m1-1h0m3 3h0m-34 3h0m4 0h0" stroke="#FFBB00" stroke-width="4.6" stroke-linecap="round" fill="none"/>
<path d="M891 216h0m-13 51h0m6 5h0m18-1h0m-19 11h0m1-3h0m0 1h0m-2 8h0m16 0h0m18 1h0m-32 11h0m14 4h0m4 6h0m-4 6h0" stroke="#FF3300" stroke-width="4.6" stroke-linecap="round" fill="none"/>
<rect x="583.00" y="91.50" width="382.00" height="307.50" fill="none" stroke="#222" stroke-width="1.4"/>
<path d="M583.0 107.4L589.4 107.4M583.0 123.7L586.1 123.7M583.0 139.9L589.4 139.9M583.0 156.2L586.1 156.2M583.0 172.4L589.4 172.4M583.0 188.7L586.1 188.7M583.0 204.9L589.4 204.9M583.0 221.2L586.1 221.2M583.0 237.4L589.4 237.4M583.0 253.7L586.1 253.7M583.0 269.9L589.4 269.9M583.0 286.1L586.1 286.1M583.0 302.4L589.4 302.4M583.0 318.6L586.1 318.6M583.0 334.9L589.4 334.9M583.0 351.1L586.1 351.1M583.0 367.4L589.4 367.4M583.0 383.6L586.1 383.6M602.1 399.0L602.1 395.9M621.3 399.0L621.3 392.6M640.5 399.0L640.5 395.9M659.6 399.0L659.6 392.6M678.8 399.0L678.8 395.9M697.9 399.0L697.9 392.6M717.0 399.0L717.0 395.9M736.2 399.0L736.2 392.6M755.4 399.0L755.4 395.9M774.5 399.0L774.5 392.6M793.6 399.0L793.6 395.9M812.8 399.0L812.8 392.6M832.0 399.0L832.0 395.9M851.1 399.0L851.1 392.6M870.2 399.0L870.2 395.9M889.4 399.0L889.4 392.6M908.5 399.0L908.5 395.9M927.7 399.0L927.7 392.6M946.8 399.0L946.8 395.9" stroke="#222" stroke-width="1.3" fill="none"/>
<text transform="translate(568,245.2) rotate(-90)" font-size="26" text-anchor="middle">T-SNE_2</text>
<text x="774.0" y="432.0" font-size="26" text-anchor="middle" >T-SNE_1</text>
<text x="846.5" y="381" font-size="26">C<tspan font-size="18" dy="6">1</tspan><tspan dy="-6"> and R</tspan><tspan font-size="18" dy="6">2</tspan></text>
<text x="995.5" y="31.0" font-size="36" font-weight="bold" >c</text>
<rect x="1064.80" y="63.30" width="48.09" height="20.80" fill="#9911FF"/>
<rect x="1112.59" y="63.30" width="48.09" height="20.80" fill="#4400FF"/>
<rect x="1160.38" y="63.30" width="48.09" height="20.80" fill="#0077FF"/>
<rect x="1208.16" y="63.30" width="48.09" height="20.80" fill="#11FFFF"/>
<rect x="1255.95" y="63.30" width="48.09" height="20.80" fill="#00DD00"/>
<rect x="1303.74" y="63.30" width="48.09" height="20.80" fill="#FFEE00"/>
<rect x="1351.52" y="63.30" width="48.09" height="20.80" fill="#FF6600"/>
<rect x="1399.31" y="63.30" width="48.09" height="20.80" fill="#FF0000"/>
<rect x="1064.80" y="63.30" width="382.30" height="20.80" fill="none" stroke="#444" stroke-width="1.0"/>
<text x="1064.8" y="51.0" font-size="26" text-anchor="middle" >0.0</text>
<text x="1160.4" y="51.0" font-size="26" text-anchor="middle" >2.0</text>
<text x="1256.0" y="51.0" font-size="26" text-anchor="middle" >4.0</text>
<text x="1351.5" y="51.0" font-size="26" text-anchor="middle" >6.0</text>
<text x="1447.1" y="51.0" font-size="26" text-anchor="middle" >8.0</text>
<path d="M1064.8 63.3L1064.8 57.5M1160.4 63.3L1160.4 57.5M1256.0 63.3L1256.0 57.5M1351.5 63.3L1351.5 57.5M1447.1 63.3L1447.1 57.5" stroke="#444" stroke-width="1.0" fill="none"/>
<text x="1015" y="81.2" font-size="26">Δ<tspan font-style="italic">E</tspan><tspan font-size="18" dy="6">g</tspan></text>
<path d="M1104 164h0m1-1h0m-40 11h0m0 2h0m14 6h0m229 212h0m2 0h0m1 0h0m0 0h0m1 0h0m1 0h0m0 0h0m1 0h0m2 0h0m1 0h0m2 0h0m1 0h0m2 0h0m1 0h0m2 0h0m0 0h0m3 0h0m5 0h0m2 0h0m2 0h0m1 0h0m0 0h0m2 0h0m1 0h0" stroke="#FF0000" stroke-width="2.8" stroke-linecap="round" fill="none"/>
<path d="M1121 159h0m-27 17h0m3 1h0m18 4h0m8-1h0m-37 4h0m16 9h0m-36 7h0m20-1h0m-21 3h0m2 2h0m0 12h0m208 178h0m2 0h0m2 0h0m2 0h0m4 0h0m2 0h0m4 0h0m0 0h0m1 0h0m3 0h0m1 0h0m3 0h0m2 0h0m0 0h0m2 0h0m1 0h0m1 0h0m0 0h0m3 0h0m0 0h0" stroke="#FF6600" stroke-width="2.8" stroke-linecap="round" fill="none"/>
<path d="M1121 181h0m-15 6h0m5 6h0m4 5h0m-32 9h0m28-2h0m-15 5h0m-30 8h0m1-3h0m1 1h0m0 2h0m28-4h0m-14 9h0m8-1h0m-25 8h0m0 0h0m0 0h0m1 0h0m0 0h0m0-1h0m0 6h0m0 1h0m1-5h0m-2 12h0m0-1h0m0 0h0m1-1h0m0 1h0m0-3h0m1 1h0m-2 8h0m0-2h0m0-2h0m1-1h0m-1 11h0m1 1h0m2-1h0m0 0h0m-2 1h0m176 139h0m2 0h0m0 0h0m1 0h0m1 0h0m4 0h0m1 0h0m1 0h0m0 0h0m0 0h0m1 0h0m1 0h0m0 0h0m3 0h0m0 0h0m1 0h0m1 0h0m1 0h0m1 0h0m0 0h0m1 0h0m1 0h0m1 0h0m3 0h0m2 0h0m0 0h0m0 0h0m3 0h0" stroke="#FFEE00" stroke-width="2.8" stroke-linecap="round" fill="none"/>
<path d="M1158 180h0m-15 8h0m4-1h0m-8 3h0m0 3h0m22-3h0m-34 8h0m8 0h0m2-3h0m5 5h0m6-4h0m-30 11h0m1-3h0m25 1h0m1-3h0m13 0h0m-41 10h0m15-4h0m13 1h0m6 2h0m-42 4h0m3 0h0m10 1h0m12 1h0m-26 7h0m-7 1h0m-21 9h0m2 2h0m15 0h0m17-1h0m-45 7h0m9-1h0m3 2h0m1 0h0m0-2h0m20 1h0m4-3h0m1 0h0m-42 5h0m0 5h0m2-5h0m5-1h0m30 5h0m-36 5h0m9 2h0m0-1h0m1-1h0m8 0h0m4-1h0m5 1h0m5-4h0m-33 10h0m0-3h0m0 0h0m0 2h0m1 3h0m0-2h0m0 1h0m0-3h0m0-1h0m1 4h0m0-2h0m0 2h0m1-1h0m0-1h0m0 0h0m14 0h0m-17 5h0m1-2h0m3 4h0m-4 3h0m0 3h0m1 1h0m0-1h0m0-1h0m1-2h0m0 1h0m1 1h0m-3 5h0m0 3h0m0-4h0m1-1h0m1 3h0m-2 9h0m0-6h0m0 4h0m1-2h0m0 3h0m0-5h0m0 6h0m1-2h0m-1 3h0m0 2h0m0-1h0m0 2h0m1-3h0m-1 8h0m0 0h0m2-2h0m3 0h0m135 102h0m3 0h0m2 0h0m0 0h0m4 0h0m8 0h0m4 0h0m1 0h0m0 0h0m5 0h0m0 0h0m4 0h0" stroke="#00DD00" stroke-width="2.8" stroke-linecap="round" fill="none"/>
<path d="M1333 92h0m-35 12h0m4 0h0m18 1h0m-30 3h0m11-2h0m-6 8h0m9 3h0m1-2h0m2 1h0m3-4h0m-29 8h0m5 0h0m7 3h0m3-3h0m6 0h0m0-2h0m-25 8h0m1 3h0m11-3h0m5-2h0m1-1h0m-34 11h0m1-4h0m1 1h0m23 1h0m4-2h0m-26 10h0m10 0h0m-10 2h0m-18 47h0m2 0h0m-9 5h0m2-1h0m6 2h0m0-4h0m-18 8h0m1-2h0m1 1h0m2-3h0m0 1h0m1 1h0m4-2h0m1 6h0m0-1h0m1 0h0m1 0h0m2-2h0m0-1h0m2 0h0m0-2h0m2 1h0m-33 8h0m1 1h0m0 2h0m3-1h0m5 0h0m2-2h0m1-2h0m0 2h0m2-2h0m0 1h0m1 0h0m0 0h0m6 0h0m2-1h0m1 0h0m-36 8h0m7 1h0m2 0h0m3 0h0m1-1h0m2 2h0m3-1h0m2-3h0m1-1h0m1 1h0m1-1h0m1 0h0m-45 12h0m5 0h0m3-2h0m0-1h0m7 2h0m8 0h0m4 0h0m0 0h0m1 0h0m0-5h0m4 0h0m0 0h0m2 1h0m-31 9h0m0 0h0m5-3h0m4 5h0m0-2h0m2 1h0m0-1h0m2 1h0m0-1h0m1-2h0m2 0h0m1-2h0m1 2h0m0-1h0m1-1h0m0 2h0m-44 5h0m1 4h0m4 1h0m11-2h0m0-2h0m1 2h0m2-2h0m1 2h0m2-3h0m1 5h0m1-6h0m1 4h0m0 1h0m0-2h0m4 0h0m1-2h0m0 2h0m1-3h0m1 1h0m-58 10h0m4 1h0m6 0h0m4-6h0m7 5h0m1-3h0m1 0h0m0 4h0m1-3h0m1-1h0m1 3h0m0-1h0m1 2h0m6-2h0m4-1h0m1-1h0m2 3h0m1-3h0m-50 8h0m6-2h0m13 2h0m2 1h0m10-2h0m6 0h0m1 0h0m0 0h0m1-1h0m1-1h0m-52 6h0m0 2h0m2 1h0m1-1h0m0 0h0m3-1h0m3 4h0m0 0h0m1-3h0m2 2h0m1-2h0m5 3h0m5-6h0m1 3h0m0 1h0m4 1h0m6-5h0m0 1h0m1 4h0m1 1h0m3-4h0m0 1h0m1 0h0m1 1h0m2-3h0m-59 8h0m4-3h0m2 5h0m0-4h0m5 1h0m1 3h0m3-4h0m1 3h0m2 0h0m2-2h0m6-2h0m0 3h0m2 2h0m4-4h0m6 1h0m3 0h0m3 2h0m1 2h0m0 0h0m3-2h0m1-2h0m1-1h0m4 0h0m-79 10h0m4-1h0m5 1h0m1-4h0m2 5h0m1-6h0m9 1h0m15 3h0m4 1h0m6-1h0m1-4h0m1 4h0m2-1h0m1 1h0m5 0h0m3 1h0m4-3h0m2 0h0m1 0h0m-58 8h0m6 1h0m9-1h0m0-2h0m2 1h0m2-1h0m2 4h0m1-3h0m0 2h0m2-2h0m0 1h0m7-1h0m0 1h0m2-2h0m0 1h0m1 2h0m2-4h0m3 2h0m3-2h0m0 2h0m1-2h0m3-1h0m1 2h0m0-2h0m-59 10h0m8 1h0m1-2h0m3-2h0m5 0h0m2 3h0m2-3h0m1 0h0m0 4h0m2-4h0m5 5h0m1-3h0m4-1h0m1 2h0m1 1h0m3-4h0m2 0h0m1 0h0m0 0h0m1 4h0m2-5h0m0 3h0m-48 6h0m0-3h0m5 6h0m0-3h0m2 0h0m2 3h0m0-5h0m3 4h0m5-3h0m2 3h0m4-2h0m3-3h0m6 1h0m4 0h0m0 0h0m0 0h0m1 1h0m0 2h0m1-1h0m0-1h0m5-1h0m-43 5h0m0 1h0m2 3h0m5-1h0m3-3h0m3 0h0m0 2h0m0-1h0m1 4h0m1-1h0m3 2h0m1-1h0m1-3h0m1-1h0m1 2h0m1 1h0m1-2h0m0 0h0m1 2h0m1 0h0m2-2h0m2-1h0m-29 7h0m1 1h0m1-3h0m8 6h0m1-1h0m2-1h0m1-4h0m1 1h0m0 1h0m2-1h0m4-1h0m-22 10h0m0 1h0m0-1h0m0 1h0m1-2h0m0 1h0m0 1h0m1 0h0m0 0h0m1 0h0m0-2h0m0 1h0m1 0h0m0 0h0m2-4h0m-6 6h0m0 2h0m0-1h0m0 0h0m1 5h0m0-1h0m1-3h0m0 1h0m0-3h0m0 5h0m1-2h0m1-1h0m0-1h0m-4 9h0m0-1h0m0 1h0m0-1h0m0 1h0m0-2h0m1 2h0m0 1h0m0 0h0m0-2h0m1-1h0m-2 7h0m0 2h0m0-2h0m0-1h0m0 3h0m0 1h0m0-3h0m0-2h0m0-1h0m0 3h0m1 0h0m0-1h0m0-2h0m0 4h0m0 0h0m0-3h0m1 1h0m0 1h0m0 1h0m2-3h0m-4 6h0m0 2h0m0-1h0m0 2h0m0 2h0m0-5h0m1 4h0m0 0h0m0 1h0m0 0h0m0-3h0m1 0h0m0-2h0m0 1h0m1 1h0m-3 6h0m0-1h0m0 2h0m0 0h0m0 0h0m1 1h0m0-3h0m0 3h0m1-2h0m0-1h0m1 0h0m0 1h0m1 2h0m-4 4h0m0-1h0m0-1h0m1 4h0m0 1h0m0-6h0m1 5h0m0-2h0m0 2h0m1-1h0m1-3h0m101 66h0m0 0h0m2 0h0m1 0h0m1 0h0m4 0h0m2 0h0m0 0h0m3 0h0m0 0h0m5 0h0m2 0h0m0 0h0m1 0h0m1 0h0m1 0h0m0 0h0m1 0h0m0 0h0m2 0h0m0 0h0m1 0h0m1 0h0m1 0h0m3 0h0" stroke="#11FFFF" stroke-width="2.8" stroke-linecap="round" fill="none"/>
<path d="M1331 98h0m-6 11h0m8 2h0m-14 4h0m-19 8h0m8-3h0m2 3h0m1-1h0m2-1h0m5-2h0m6 4h0m7-2h0m-34 6h0m1-1h0m7 1h0m0 1h0m1-2h0m7 3h0m4-1h0m0-2h0m1 2h0m-29 5h0m4 0h0m4 2h0m2-5h0m1 3h0m1-1h0m1-1h0m0-1h0m1 2h0m3 3h0m0-4h0m0-1h0m3 1h0m2 0h0m1 3h0m0-4h0m1 5h0m1-5h0m2-1h0m-34 9h0m2 3h0m6-4h0m5-1h0m1 1h0m5 1h0m1 2h0m1-4h0m4 2h0m6-2h0m2-1h0m8 3h0m-45 6h0m3-2h0m9-1h0m0 2h0m2 0h0m0-1h0m5 2h0m3-1h0m1-1h0m3 0h0m-25 5h0m1 5h0m3-2h0m2-2h0m2 2h0m1 1h0m6-4h0m-21 7h0m-10 17h0m12 5h0m6 0h0m-20 1h0m7 9h0m-12 6h0m1 2h0m1-3h0m5 0h0m11-1h0m-34 11h0m6-3h0m2 0h0m0 0h0m1-1h0m1 1h0m5 2h0m3-4h0m0-1h0m7 1h0m-31 10h0m0-2h0m0 1h0m3-1h0m1 1h0m1-3h0m0-1h0m0 5h0m1-3h0m0-1h0m0 0h0m2-1h0m2 4h0m1 0h0m5-4h0m1 5h0m2-1h0m0 1h0m1-4h0m1-1h0m1 3h0m0-1h0m-32 8h0m4-1h0m1-3h0m0 1h0m3 2h0m0-2h0m1 2h0m0 2h0m0-1h0m1 1h0m1 1h0m0-4h0m0 3h0m1-2h0m1 3h0m2-6h0m1 3h0m1 0h0m2 1h0m1 0h0m0 2h0m0-3h0m1-2h0m0 1h0m1 0h0m1-1h0m1 1h0m-39 9h0m2 1h0m3-2h0m1 2h0m1 0h0m2-2h0m0 1h0m1-3h0m1 3h0m1-4h0m0 5h0m1-4h0m1-1h0m2 3h0m0-3h0m1 1h0m2 2h0m1-3h0m1 3h0m1-2h0m1 0h0m1 2h0m0-2h0m0 0h0m1 2h0m1-1h0m1-3h0m1 1h0m0 3h0m1-3h0m0 3h0m1-3h0m3 0h0m-41 10h0m1-1h0m1 0h0m1 0h0m1-2h0m0 3h0m1-2h0m0-1h0m1-1h0m0 1h0m1 0h0m0 0h0m1-2h0m1 5h0m2-2h0m0 1h0m0-4h0m0 5h0m1-3h0m0 3h0m1-2h0m1 0h0m1 1h0m0-3h0m0 1h0m1 0h0m0-1h0m0 0h0m1 1h0m0-1h0m0-1h0m1 4h0m1 0h0m1 0h0m0-2h0m1 1h0m1-3h0m0 4h0m1-1h0m0 0h0m2-3h0m1 3h0m0-2h0m0 4h0m1-2h0m0 1h0m1 0h0m1-1h0m1-1h0m0-1h0m1 0h0m2-1h0m1 0h0m0 0h0m-48 11h0m3-1h0m0 0h0m3 1h0m0-2h0m2 2h0m0-3h0m0 1h0m1 1h0m0-2h0m0 2h0m0 0h0m0 1h0m1-1h0m1-3h0m0 4h0m1-2h0m0-1h0m0-1h0m0 1h0m1 0h0m1 1h0m0 2h0m1-3h0m0 4h0m1-2h0m0 2h0m0-4h0m0 3h0m1 0h0m1-3h0m0 2h0m1 1h0m0-3h0m1-1h0m1 1h0m0 2h0m0 1h0m1-1h0m0-4h0m2 5h0m1-2h0m0 1h0m1 2h0m0 0h0m0-2h0m1-3h0m2-1h0m0 2h0m0 1h0m0 2h0m1-1h0m1-2h0m0 0h0m0 4h0m0 0h0m0-5h0m1 3h0m0-2h0m1 0h0m1 0h0m2-2h0m1 0h0m-47 11h0m0 1h0m1-2h0m1 1h0m1-1h0m0 1h0m1 0h0m0-2h0m2 1h0m1-1h0m0 2h0m0-5h0m2 2h0m0-1h0m1 4h0m0-3h0m1-1h0m1 5h0m1-2h0m1-1h0m0 0h0m1 1h0m0-3h0m0-1h0m0 4h0m0-3h0m1 4h0m1-3h0m2-1h0m0 1h0m0 2h0m1 1h0m1-1h0m1 1h0m0-4h0m0 4h0m1-5h0m0 1h0m0 0h0m1 3h0m0-4h0m1 2h0m0 1h0m0 1h0m0 1h0m2-1h0m0 1h0m0 0h0m1-1h0m2 1h0m0 0h0m0-3h0m0 0h0m1 0h0m0 1h0m0 0h0m0-1h0m2 2h0m0-2h0m0 3h0m0 0h0m1-1h0m0-2h0m1-1h0m0 2h0m0 0h0m1-2h0m0 2h0m2-3h0m-46 10h0m3 1h0m2-5h0m1 0h0m0 0h0m2 2h0m0 2h0m2 1h0m0-1h0m1 0h0m0-1h0m1 0h0m0 1h0m1-2h0m0-2h0m0 3h0m1 0h0m0 1h0m1 1h0m0 0h0m0-5h0m0 3h0m0 2h0m1-1h0m1 1h0m1-2h0m1 1h0m1-1h0m2-2h0m0 3h0m0-1h0m1 0h0m1 0h0m0-1h0m0 4h0m2-1h0m0 0h0m0-4h0m1 4h0m0-2h0m0 1h0m1-2h0m0-1h0m0-1h0m1 3h0m0 2h0m0 0h0m1-4h0m0 0h0m0 1h0m0 4h0m0-2h0m1-2h0m0 3h0m0 0h0m0 0h0m0 1h0m1-4h0m0 3h0m0 1h0m0 0h0m0-4h0m1 1h0m1-2h0m0 3h0m0-3h0m1-1h0m0 2h0m2-1h0m2 0h0m1-1h0m0 0h0m-56 12h0m4 0h0m3-3h0m2-1h0m0 4h0m1-4h0m0 2h0m0 1h0m0-5h0m1 4h0m0 0h0m0 0h0m2-3h0m0 2h0m0 0h0m2-2h0m0 1h0m0 1h0m2-2h0m0 4h0m1 0h0m0-5h0m1 5h0m1-3h0m0-1h0m0 3h0m1 0h0m1-2h0m1 3h0m1 0h0m1-1h0m0-2h0m2-2h0m1 4h0m1-1h0m0-3h0m1 3h0m3 2h0m0-4h0m1 2h0m0 1h0m1 2h0m0-3h0m0-1h0m1 3h0m1-4h0m0 2h0m0-2h0m1 1h0m0 3h0m0-3h0m2 0h0m0 0h0m0 2h0m0-1h0m0-1h0m1 0h0m0 1h0m0 2h0m0-3h0m0-1h0m3 0h0m0 0h0m0-1h0m0 1h0m1 0h0m0 0h0m0 0h0m-51 10h0m1-3h0m2 3h0m2 0h0m0 0h0m0-3h0m1 2h0m0 0h0m0-3h0m1 4h0m1 0h0m1 1h0m1-5h0m3 3h0m2-3h0m1 4h0m0-3h0m1-1h0m0 2h0m2 2h0m1 1h0m0-1h0m1-4h0m1 1h0m0-1h0m1 1h0m0-2h0m0 5h0m0-3h0m1 2h0m1-3h0m0 3h0m0-3h0m1 1h0m1 1h0m0-1h0m0 3h0m2 0h0m0-2h0m1 1h0m0-3h0m1 2h0m1 2h0m2 1h0m0-2h0m0-2h0m1 4h0m1 0h0m0-1h0m1-1h0m0 0h0m1 0h0m0 0h0m1-2h0m0 1h0m0-2h0m0 1h0m1-1h0m1 1h0m0 0h0m1 0h0m1-2h0m-58 12h0m2 0h0m4-1h0m1-3h0m3 0h0m0 1h0m2 0h0m0 1h0m2-3h0m1 4h0m0 0h0m1 1h0m2-4h0m1 1h0m0 3h0m1-3h0m0 2h0m1 0h0m0-3h0m1 2h0m0-1h0m2-1h0m0 1h0m2 0h0m0 0h0m1 2h0m1-4h0m0 5h0m0-5h0m3 3h0m0-3h0m0 3h0m1 2h0m2-4h0m1-1h0m0 3h0m1-4h0m0 4h0m1 0h0m0-1h0m0 1h0m2 1h0m0-4h0m1 3h0m1 0h0m1-4h0m0 5h0m0 0h0m1-3h0m0 0h0m1 0h0m1 2h0m0-1h0m2 0h0m2-1h0m1-2h0m0 0h0m-55 11h0m1-2h0m1 1h0m1-3h0m1 4h0m0-1h0m0-4h0m1 2h0m1 2h0m3 0h0m0 1h0m1-2h0m1 1h0m1-3h0m0 1h0m1 1h0m0-2h0m0 0h0m0 2h0m1-2h0m1 4h0m2-4h0m0 3h0m1 1h0m0-4h0m3-1h0m0 5h0m1-4h0m1 5h0m0-2h0m2 0h0m3-2h0m0-2h0m1 4h0m1-1h0m0 1h0m1 0h0m4-3h0m0 3h0m1-1h0m1 0h0m0-2h0m0 0h0m2-1h0m0 5h0m1-3h0m1 1h0m0 0h0m0 1h0m0 1h0m1-5h0m0 1h0m0-1h0m0 3h0m0-2h0m1 1h0m0 1h0m2-1h0m1-1h0m-59 9h0m1 2h0m4 0h0m0-3h0m1-1h0m0-2h0m1 5h0m0-1h0m1 1h0m0-1h0m1 0h0m0-4h0m1 1h0m1 2h0m4-1h0m0 3h0m3-1h0m1 0h0m3 0h0m0 2h0m0-3h0m0 1h0m1-1h0m1 1h0m0-4h0m2 1h0m2 1h0m1 1h0m0-1h0m0 0h0m1 1h0m1-1h0m0 0h0m3-1h0m1 4h0m1-1h0m1-3h0m2 4h0m0 0h0m1 0h0m0 1h0m1-3h0m0 3h0m1-2h0m0 2h0m0-3h0m0-1h0m0-2h0m2 2h0m0 4h0m0-2h0m1 0h0m0 0h0m1-2h0m2-1h0m2 1h0m0-1h0m-58 10h0m3 1h0m0-1h0m1-4h0m0 0h0m1 3h0m2-1h0m0-3h0m1 2h0m1 3h0m1 0h0m1-1h0m1-2h0m2 4h0m1-2h0m2 1h0m3-1h0m1-2h0m1 3h0m1-1h0m0 1h0m1 0h0m1-2h0m0-1h0m2 1h0m1 1h0m1 2h0m1-1h0m0-2h0m1 2h0m1-2h0m0-1h0m1-2h0m1 5h0m1 1h0m1-2h0m0-1h0m2-1h0m0 2h0m0-4h0m1 5h0m1 1h0m1-4h0m0 0h0m2 2h0m0 0h0m0-4h0m1 5h0m2-1h0m1-2h0m0-2h0m1 1h0m1 1h0m-65 9h0m4 1h0m1-1h0m1-2h0m1 2h0m0-4h0m4-1h0m1 0h0m0 2h0m1-1h0m2 4h0m2-1h0m1 0h0m1 0h0m1 1h0m0-2h0m1 1h0m0-3h0m2 5h0m0-3h0m1-3h0m0 2h0m1 3h0m0-2h0m1-1h0m1-1h0m0-1h0m2 3h0m1-2h0m0 1h0m1 3h0m3 0h0m2-4h0m4 4h0m3-2h0m1-2h0m0 5h0m0-6h0m0 2h0m1-1h0m1 2h0m0-2h0m1 1h0m1 2h0m0 1h0m1-1h0m1 1h0m0 0h0m0 0h0m1-5h0m1 5h0m0-2h0m0 2h0m0-1h0m1-3h0m0 3h0m1-4h0m0 1h0m0 2h0m1-2h0m1 0h0m0 1h0m0-1h0m2-1h0m-63 10h0m1 0h0m0 0h0m1-1h0m5 2h0m0 1h0m1-4h0m0-1h0m0 0h0m0 3h0m1-4h0m0 1h0m2 0h0m1 1h0m0 4h0m1-3h0m1-1h0m0 1h0m0 2h0m1 1h0m3-4h0m1-1h0m2 2h0m0-1h0m0-1h0m0 4h0m4-4h0m0 3h0m0-3h0m1 1h0m0 1h0m1 1h0m0-4h0m2 6h0m1-4h0m1 3h0m1-3h0m0 1h0m2 3h0m0-5h0m1 1h0m1 1h0m0-2h0m1 3h0m0 1h0m3-1h0m1-4h0m0 2h0m1 0h0m0 0h0m0-2h0m0 3h0m1 1h0m1 1h0m1-4h0m0 4h0m0-3h0m0-1h0m0 5h0m1-1h0m0 0h0m1-2h0m0 2h0m1 0h0m0-3h0m0 0h0m0 3h0m1-2h0m0-1h0m0 1h0m0-2h0m0 2h0m1 0h0m0 1h0m0-1h0m-60 6h0m0 2h0m2-3h0m1 1h0m1-3h0m2 1h0m1 2h0m0-1h0m0-2h0m3 2h0m0 1h0m2-2h0m2 3h0m1-1h0m0 3h0m1-1h0m7-2h0m0 1h0m0-4h0m1 3h0m0-2h0m2 4h0m0-4h0m0 1h0m2 2h0m0 1h0m0-3h0m1 1h0m1 2h0m0-4h0m0 1h0m1 2h0m1-1h0m4 0h0m1 0h0m0 2h0m0-5h0m4 3h0m1 3h0m0-1h0m0-1h0m0 2h0m1-6h0m1 2h0m1 1h0m1-3h0m1 1h0m1 2h0m0 1h0m1 0h0m0-3h0m0 4h0m1-5h0m1 3h0m1-1h0m1-1h0m-62 7h0m2-1h0m1 3h0m1-3h0m2 0h0m2 4h0m1 0h0m1-1h0m3 0h0m0 1h0m1-1h0m0-2h0m1 1h0m3 0h0m0-1h0m0 4h0m1-6h0m0 2h0m5 3h0m2-3h0m1 2h0m1-2h0m0 2h0m3-2h0m1 1h0m2 1h0m3-3h0m0 2h0m0-2h0m1 2h0m1-2h0m2 0h0m0 1h0m1 4h0m1-5h0m0 0h0m1 4h0m1-4h0m1 4h0m0-2h0m2-2h0m0-1h0m1 0h0m2 4h0m1-3h0m0 1h0m1 1h0m1-3h0m0 1h0m1 0h0m-55 8h0m0-2h0m2 5h0m1-6h0m1 3h0m1 0h0m1 0h0m4-2h0m1 4h0m1 1h0m2-1h0m0-2h0m2-3h0m2 1h0m1 2h0m0-2h0m0 5h0m0-2h0m1-2h0m1-2h0m0 3h0m0 3h0m0-1h0m1-5h0m0 2h0m1 4h0m1-2h0m0-3h0m1 4h0m0-2h0m1 1h0m0-1h0m1 0h0m0-1h0m0 0h0m1 1h0m1 0h0m2 3h0m0 0h0m1-4h0m0-1h0m1 1h0m0 1h0m1 0h0m0-2h0m1 0h0m1 1h0m0 1h0m0 0h0m1 0h0m1 0h0m1 2h0m0-5h0m1 5h0m0 1h0m1-1h0m2-1h0m1-1h0m0-2h0m0 2h0m1-1h0m0-2h0m-46 10h0m1 0h0m2 0h0m2-4h0m0 0h0m5 3h0m0 0h0m0-1h0m1 0h0m3 2h0m0-1h0m0-2h0m0 3h0m2 2h0m0-1h0m1-2h0m1 3h0m1 0h0m0-3h0m0-2h0m1 4h0m0 1h0m2-5h0m1 2h0m1-2h0m1 2h0m0 1h0m1-2h0m0 0h0m0 3h0m1-1h0m1 0h0m2-1h0m1 1h0m1-4h0m0 5h0m0 0h0m1-1h0m1 0h0m1-2h0m0 2h0m1-1h0m0-2h0m1 2h0m0-1h0m1 0h0m1-1h0m-39 6h0m2 3h0m0 2h0m2-4h0m2-2h0m1 5h0m0 0h0m2-2h0m0 1h0m0 2h0m2-5h0m1 3h0m2-2h0m0 3h0m1-3h0m0 2h0m1-3h0m0 0h0m1 1h0m1 1h0m1-2h0m2 3h0m1 0h0m0 0h0m0 0h0m1 1h0m0-5h0m0 6h0m1-2h0m0 2h0m2-6h0m6 0h0m-32 12h0m0-4h0m2-1h0m1 1h0m1-2h0m0 4h0m1-3h0m0 5h0m1-4h0m0-1h0m2 4h0m1 0h0m1 0h0m0 0h0m1-2h0m0-2h0m0 1h0m1 2h0m0 0h0m2-2h0m0 1h0m0-1h0m2 3h0m0 0h0m0-2h0m1 1h0m1-4h0m0 1h0m2 1h0m2-1h0m1 0h0m180 0h0m5 4h0m6-4h0m2 0h0m-216 9h0m2 0h0m0-2h0m0-2h0m0 4h0m1 0h0m1-2h0m2 0h0m2-1h0m1 2h0m0 1h0m0-4h0m1 2h0m0 0h0m2-1h0m0 1h0m3-2h0m0 0h0m-14 7h0m1 1h0m0 0h0m202 0h0m-26 7h0m8 5h0m6 2h0m-38 6h0m3 0h0m6-1h0m-14 7h0m52 5h0m-55 5h0m-23 20h0m3 0h0m-52 3h0m2 0h0m1 0h0m4 0h0m5 0h0m0 0h0m2 0h0m0 0h0m1 0h0m1 0h0m1 0h0m0 0h0m3 0h0m4 0h0m4 0h0m0 0h0" stroke="#0077FF" stroke-width="2.8" stroke-linecap="round" fill="none"/>
<path d="M1329 127h0m0 0h0m7 1h0m1-3h0m-14 6h0m0 4h0m3 0h0m0-2h0m1 1h0m2 0h0m3-1h0m-16 7h0m2-3h0m1 1h0m3-1h0m1 0h0m-14 5h0m3-1h0m0 4h0m2 1h0m6 0h0m0-2h0m1-2h0m1 3h0m20 0h0m-43 4h0m13 0h0m8-1h0m2 0h0m-24 6h0m1 4h0m1-5h0m2 3h0m3 1h0m8 0h0m4 0h0m0-3h0m-30 11h0m22-6h0m8 3h0m13-1h0m-38 10h0m1 0h0m34-5h0m-54 27h0m4-2h0m2 3h0m1-1h0m1-2h0m11-1h0m-29 11h0m2-2h0m0 1h0m0-2h0m1 2h0m0 0h0m1-2h0m1 1h0m0-3h0m1 2h0m2 0h0m0 0h0m1 1h0m0 1h0m1-4h0m4 2h0m8-1h0m-32 10h0m1-1h0m1 0h0m0 0h0m1 0h0m0 0h0m0 0h0m2-1h0m1-1h0m0 1h0m1-1h0m0-2h0m1 1h0m0 2h0m0-4h0m1 3h0m0 0h0m0-3h0m0 1h0m1 0h0m0 0h0m1 2h0m1 0h0m0 2h0m1-2h0m0-2h0m1 0h0m1-1h0m0 1h0m1 4h0m0 0h0m0 0h0m3-2h0m0 0h0m0 2h0m1 1h0m0 0h0m1-6h0m4 6h0m1 0h0m1-5h0m0 3h0m0-2h0m8 0h0m-42 10h0m1-2h0m0 0h0m1 1h0m0 0h0m1-2h0m1 1h0m0 1h0m0-1h0m0-2h0m0 3h0m1-3h0m0 3h0m1-4h0m0 0h0m1 0h0m1 4h0m0-2h0m1-1h0m0 1h0m0-3h0m0 2h0m0 3h0m0-4h0m1 0h0m0 1h0m1-2h0m0 3h0m0-1h0m0-1h0m1 2h0m0 1h0m1-2h0m0 4h0m1-5h0m1 4h0m0-2h0m0 2h0m1-4h0m0 1h0m1 1h0m1 3h0m0-1h0m1 0h0m1-3h0m1 4h0m2-6h0m0 1h0m1 2h0m1 0h0m1 1h0m0 1h0m0-2h0m1-2h0m0-1h0m2 4h0m4-4h0m69 3h0m-110 8h0m1 1h0m0 0h0m1-1h0m0 0h0m1-1h0m0-1h0m1 1h0m0 1h0m1-4h0m0 2h0m0-2h0m1-1h0m0 0h0m0 2h0m0-2h0m1 2h0m0 2h0m1 1h0m0-4h0m0 4h0m0-3h0m1-1h0m0 1h0m0-1h0m0 1h0m0 2h0m1 2h0m0-4h0m0 0h0m0 2h0m0 0h0m0 1h0m0-3h0m1 0h0m0 2h0m0 1h0m0-2h0m0-2h0m0 0h0m1 4h0m0-1h0m0 2h0m0-2h0m1-2h0m0 0h0m0 3h0m0-1h0m0 0h0m0 2h0m0-3h0m1-1h0m0 2h0m0-3h0m1-1h0m0 4h0m0-1h0m0 0h0m0-1h0m1 0h0m1-1h0m0-1h0m1 3h0m1-1h0m0-2h0m0 4h0m1-1h0m0 2h0m1-2h0m0 0h0m1-1h0m0 3h0m0 0h0m0-1h0m0 1h0m1-3h0m0 2h0m0 2h0m0-2h0m1-2h0m0 4h0m0-4h0m0-1h0m1 2h0m0-2h0m0 2h0m1 2h0m1-1h0m0-1h0m0-1h0m1 1h0m0-1h0m2 0h0m1-1h0m1-1h0m80 5h0m-122 6h0m1-1h0m2 1h0m1-2h0m0 3h0m0-2h0m0 0h0m1-1h0m0 0h0m0 0h0m0-1h0m1 3h0m0-3h0m0 2h0m0-1h0m0-2h0m1 4h0m0 0h0m0-3h0m0 4h0m1-2h0m0 1h0m0-4h0m1 4h0m1-1h0m0-2h0m1-1h0m0 2h0m0-1h0m0-2h0m0 6h0m0-3h0m1-3h0m0 5h0m0-5h0m0 5h0m0-4h0m0 1h0m0-1h0m0 1h0m1 4h0m0-1h0m1-5h0m0 4h0m0-1h0m1-1h0m0 3h0m1 1h0m1-2h0m0-2h0m1 2h0m0 0h0m0 1h0m0-2h0m0 3h0m1-3h0m0 1h0m0 1h0m0-1h0m0-1h0m0 0h0m0-1h0m0-2h0m1 0h0m0 3h0m0-2h0m0 1h0m0 1h0m1-2h0m0 0h0m0 1h0m0 0h0m0 1h0m0 0h0m1 3h0m0-3h0m0 0h0m0 3h0m0-1h0m0 0h0m0 0h0m0-3h0m1 2h0m0 0h0m0-3h0m0 4h0m0-1h0m0-3h0m1 1h0m0-2h0m1 3h0m0 2h0m0-1h0m0-1h0m0 2h0m1-2h0m0 2h0m0 1h0m1 0h0m0-2h0m0-1h0m0-3h0m1 5h0m0 0h0m0-2h0m0-3h0m1 2h0m0 0h0m0 1h0m0-1h0m0 0h0m0 0h0m1-1h0m0 3h0m1-3h0m0 3h0m2-3h0m0 2h0m1-1h0m0 0h0m0-2h0m66 3h0m-109 9h0m1-1h0m1-1h0m1 0h0m0 2h0m1-2h0m0 0h0m0 1h0m1-2h0m1 2h0m0-1h0m1 2h0m0-4h0m1 0h0m0-1h0m1 4h0m0-1h0m0-2h0m0 2h0m0 1h0m0-1h0m1-3h0m0-1h0m0 2h0m0-2h0m0 0h0m2 6h0m0-1h0m0-1h0m0-3h0m1 4h0m0-1h0m1 1h0m0-3h0m0 3h0m1-5h0m1 4h0m0-1h0m0 0h0m1 0h0m1 0h0m0 1h0m0-1h0m1 0h0m0 3h0m1 0h0m2-2h0m0-1h0m1 0h0m0 3h0m0-2h0m1-2h0m2 0h0m2 0h0m0 2h0m0 0h0m0 1h0m0-2h0m0 3h0m1-2h0m0-2h0m0 0h0m0-2h0m0 4h0m0 1h0m1-4h0m0 0h0m0 0h0m0 0h0m0-1h0m0 2h0m1 2h0m0-3h0m0 1h0m0 0h0m1-1h0m1 2h0m4-3h0m62 1h0m5 1h0m8 3h0m-120 6h0m1 1h0m1-2h0m0 1h0m1-2h0m1 1h0m0-1h0m0 2h0m0-2h0m1-1h0m0 0h0m2-1h0m0 5h0m1-4h0m0 0h0m0 0h0m0 1h0m1-1h0m0-1h0m0 4h0m1-3h0m0 2h0m0-3h0m0 5h0m0-6h0m1 3h0m0-1h0m0 4h0m0-1h0m1-1h0m0-2h0m0 1h0m0 2h0m0-2h0m1-2h0m0 1h0m1 3h0m0-4h0m0 0h0m1 0h0m0-1h0m1 5h0m2-3h0m1-2h0m0 2h0m0 3h0m0-3h0m1 3h0m0-2h0m0-1h0m1-1h0m1 1h0m0 1h0m0-1h0m0 4h0m0-5h0m0 3h0m1 0h0m0 1h0m0 0h0m1-4h0m0 4h0m0-2h0m0 2h0m0 0h0m0-1h0m2 0h0m0-3h0m1-1h0m0 1h0m0 1h0m0-1h0m1 4h0m0-3h0m0 0h0m1 3h0m0-4h0m0 1h0m0-1h0m0 2h0m1-3h0m1 2h0m0-1h0m2 0h0m1-1h0m3 0h0m73 3h0m13 3h0m5-3h0m-136 8h0m1 1h0m2-1h0m1 1h0m0-3h0m1 3h0m1-5h0m0 2h0m0 2h0m1-1h0m0-2h0m0 0h0m3-2h0m0 3h0m1 1h0m0-4h0m0 3h0m0-2h0m0 2h0m0 1h0m1 0h0m0 0h0m1-3h0m0 3h0m1 1h0m0-3h0m0-1h0m0 4h0m0-1h0m0-1h0m0 2h0m0-4h0m0 0h0m1 3h0m0 1h0m0 0h0m0-4h0m1 5h0m0 0h0m0-5h0m0 2h0m1 1h0m0-4h0m1 4h0m1 1h0m0-4h0m0 1h0m0-1h0m0 4h0m1-2h0m0 3h0m1 0h0m1-2h0m1-3h0m0-1h0m1 0h0m0 4h0m0-1h0m0 0h0m0 1h0m0 0h0m0 2h0m1-4h0m0-1h0m0 0h0m1 1h0m0 3h0m1-2h0m1 0h0m0-1h0m1-2h0m1 2h0m0 0h0m0 0h0m1-1h0m0 0h0m1-1h0m1 0h0m0 2h0m70 2h0m7 1h0m26-4h0m-147 11h0m2-1h0m3-3h0m1 2h0m0-2h0m0 1h0m0 3h0m2-3h0m0 1h0m0 1h0m1-1h0m0 1h0m1-3h0m0 1h0m0 2h0m1-2h0m0 1h0m0 0h0m0 1h0m0-5h0m2 2h0m0 1h0m0-2h0m1 0h0m0 3h0m0-3h0m0 2h0m1 1h0m0-3h0m0 3h0m0-2h0m1 0h0m0 1h0m1 1h0m0-2h0m0 1h0m1-1h0m0 0h0m0 3h0m0-1h0m1 2h0m2-5h0m0 0h0m0-1h0m0 1h0m1 1h0m0 1h0m1 1h0m1 0h0m0 1h0m0-1h0m0-3h0m1 2h0m0-3h0m0 2h0m0 0h0m1 1h0m0 3h0m1-5h0m0 0h0m0 5h0m0 0h0m0-6h0m0 1h0m0 4h0m0-1h0m0-2h0m1 2h0m0-3h0m1 0h0m0 5h0m0 0h0m0-4h0m0 0h0m0 3h0m0 0h0m1-5h0m1 2h0m0 0h0m1 2h0m1-4h0m3 2h0m0-1h0m76-1h0m15 2h0m2-1h0m-137 11h0m1 0h0m2-1h0m2-2h0m1 2h0m0 1h0m1-5h0m0 4h0m1-3h0m0 3h0m0-1h0m0 0h0m0 2h0m1-3h0m2 3h0m0-2h0m0 1h0m0-4h0m1 4h0m0-1h0m0-3h0m1 0h0m0 2h0m1 1h0m1-2h0m1 0h0m0 0h0m1 4h0m0-4h0m0 2h0m1-1h0m0 1h0m0 0h0m0 1h0m1-2h0m0-1h0m1 0h0m2-2h0m1 3h0m1 1h0m0-3h0m0 0h0m0 4h0m0-1h0m0-4h0m0 3h0m0-1h0m0 1h0m1-1h0m0-1h0m0 0h0m1 2h0m0 3h0m0-1h0m0-5h0m0 1h0m1 2h0m0 2h0m0-3h0m0 2h0m0 1h0m1-5h0m1 3h0m1 3h0m0-2h0m0 1h0m0-2h0m1-1h0m0 0h0m0 2h0m1-2h0m1 0h0m2-2h0m1 1h0m1 0h0m85 1h0m-129 10h0m3-2h0m0-1h0m2 2h0m0 0h0m1-2h0m0-2h0m0 2h0m1-1h0m1 0h0m1 2h0m0 0h0m1 1h0m0 0h0m0-3h0m0-1h0m1 1h0m0 1h0m1 2h0m0 0h0m0-3h0m0 3h0m0-5h0m1 6h0m0-1h0m0 0h0m1-3h0m0-1h0m0 1h0m0 2h0m1-1h0m0 0h0m0 2h0m0 0h0m2 0h0m0-3h0m0 3h0m0-4h0m0 2h0m1-1h0m0 1h0m0-3h0m0 1h0m2 4h0m0-2h0m1 1h0m0 0h0m1-2h0m0 0h0m1 0h0m0 2h0m1-1h0m0 2h0m1-3h0m0 3h0m0-4h0m0 4h0m1-1h0m0 0h0m0 0h0m2-2h0m1 2h0m0 0h0m1-3h0m0 0h0m1 2h0m0-3h0m2 2h0m3-2h0m99 2h0m12 0h0m-155 9h0m1-1h0m1-1h0m1 1h0m0 1h0m0-3h0m1 1h0m0 2h0m0-4h0m1 4h0m0-3h0m0 0h0m0-1h0m1 2h0m0-3h0m0 3h0m1-2h0m0 1h0m0 0h0m0-1h0m1 3h0m1-1h0m0-3h0m1 1h0m0-1h0m1 6h0m0-3h0m0 0h0m0-1h0m0-1h0m0-1h0m1 4h0m1-3h0m0 3h0m1-2h0m0-2h0m1 5h0m1-1h0m0-2h0m0 1h0m1 2h0m0-1h0m0-1h0m0 2h0m1-1h0m0-2h0m0 3h0m0-3h0m0 3h0m1 1h0m0-2h0m0-2h0m1 3h0m0-1h0m0 0h0m0-4h0m1 2h0m1 0h0m0 2h0m1 1h0m0 1h0m1-3h0m0-2h0m1 4h0m0 1h0m0-3h0m1 2h0m1 1h0m0-1h0m0 0h0m0-5h0m0 0h0m0 3h0m2-2h0m1 2h0m0-1h0m1-2h0m0 2h0m0 0h0m1-1h0m89 2h0m15 1h0m-146 8h0m1-1h0m1 0h0m0-2h0m2 0h0m0 2h0m1-3h0m1 3h0m0-4h0m1 4h0m0-5h0m0 1h0m0 4h0m0-2h0m0-1h0m1 2h0m1 0h0m0 0h0m1-2h0m1 2h0m1-1h0m0 3h0m0-1h0m1 1h0m0-6h0m0 4h0m0 0h0m2-3h0m0 3h0m0 1h0m0-1h0m1 0h0m0 0h0m1-3h0m0 2h0m1 0h0m0 1h0m1-1h0m1 3h0m0-5h0m0-1h0m1 1h0m0 5h0m0-4h0m0-1h0m1 4h0m0-3h0m1 1h0m0 2h0m1-5h0m0 1h0m1 2h0m0 1h0m0 1h0m0-1h0m1 1h0m0-3h0m0 1h0m1 0h0m0-2h0m1 0h0m0 1h0m1 2h0m0-2h0m0 0h0m1 1h0m1-1h0m1-2h0m0 2h0m1-1h0m1 1h0m96 2h0m15 1h0m-152 6h0m0 0h0m0 0h0m1-1h0m1 1h0m0 1h0m0-2h0m1 1h0m0-3h0m0 1h0m1 3h0m0-1h0m0 1h0m0-4h0m0 0h0m1-1h0m1 0h0m0 1h0m0 4h0m0-1h0m1 0h0m0-1h0m0-3h0m0 3h0m1 0h0m1-4h0m0 5h0m0 0h0m0-3h0m1 3h0m0-5h0m0 2h0m0 1h0m0 2h0m0-4h0m1 4h0m0-1h0m0-3h0m1 1h0m1 0h0m0 0h0m1 0h0m0 4h0m1-2h0m0-1h0m0-3h0m0 1h0m1 1h0m1 2h0m0-4h0m1 2h0m0 3h0m0-2h0m0-1h0m1-1h0m0-1h0m1 3h0m0 0h0m1-3h0m0 2h0m1-1h0m0 3h0m0 0h0m1-1h0m0-1h0m0 0h0m0 3h0m0-1h0m1 0h0m0-1h0m0 3h0m0-5h0m0 4h0m1-4h0m0 2h0m0 0h0m1-2h0m0 4h0m0-4h0m1 1h0m0 2h0m1-1h0m1 1h0m0 0h0m1-4h0m0 3h0m0 0h0m0 0h0m0-2h0m0 2h0m94 1h0m3 1h0m4-5h0m7 5h0m-148 6h0m0 0h0m1 0h0m1 1h0m0-1h0m0 0h0m1-2h0m1 0h0m0 0h0m0-1h0m1 1h0m0 0h0m0 2h0m1-2h0m1-2h0m0 0h0m0 0h0m2 3h0m0-3h0m1 4h0m0-4h0m1 3h0m0-1h0m1 3h0m0-4h0m0 3h0m0-4h0m1 4h0m0-5h0m1 5h0m1-2h0m0 2h0m1-3h0m0 3h0m0 1h0m1-5h0m0 2h0m1 0h0m0 2h0m0 0h0m0 1h0m1-1h0m0-1h0m1-1h0m0 3h0m1-2h0m0 1h0m0-3h0m0 2h0m1-2h0m0 0h0m0-1h0m0 3h0m1-3h0m0 4h0m0 0h0m0-4h0m0 3h0m1-3h0m0 3h0m1 1h0m0-4h0m0-1h0m1 6h0m0-4h0m0 1h0m1 0h0m0-3h0m1 2h0m0 1h0m0-1h0m0 3h0m1-1h0m1-1h0m0 0h0m0 1h0m1-1h0m0-2h0m0 0h0m0 2h0m2-1h0m0 0h0m0 0h0m1 0h0m90 3h0m24 0h0m20-3h0m-176 9h0m1 0h0m1 0h0m0-1h0m0 0h0m0-1h0m2 0h0m1 3h0m0-1h0m0-1h0m0-1h0m1-1h0m1 0h0m0 3h0m0-5h0m2 4h0m0-2h0m0-2h0m1 1h0m0-1h0m1 2h0m0-1h0m0-1h0m0 4h0m0-4h0m0 3h0m1-1h0m0 3h0m0-3h0m1-1h0m1 1h0m0 2h0m2 1h0m0-1h0m1-2h0m0-1h0m0 0h0m0-1h0m0 6h0m0-3h0m1 1h0m0-4h0m0 2h0m0 3h0m0 1h0m0 0h0m1-6h0m0 1h0m0 1h0m1 3h0m0-1h0m0-2h0m0 3h0m1-1h0m0-1h0m0-2h0m0 2h0m1 1h0m0 2h0m0-6h0m0 1h0m0 4h0m1 1h0m1-5h0m0 1h0m1 3h0m1-1h0m0-3h0m0 5h0m0-3h0m0 0h0m0 2h0m1 0h0m0-4h0m1 5h0m0-2h0m0-4h0m1 5h0m0-1h0m0 1h0m1-1h0m0-2h0m0 2h0m1-3h0m0 2h0m0 1h0m0-3h0m2 0h0m102 5h0m4-3h0m1 0h0m15 1h0m-164 8h0m2-1h0m1 1h0m0-2h0m1-2h0m1 1h0m0 3h0m1-2h0m0-2h0m1 0h0m0 4h0m1-3h0m1-1h0m0-1h0m0 3h0m0 0h0m0-2h0m1 4h0m0-4h0m0 4h0m0-4h0m1 2h0m0-3h0m0 5h0m0 0h0m1 0h0m0-5h0m1-1h0m2 2h0m0 2h0m0 2h0m1-3h0m1 2h0m0-4h0m1 1h0m0 3h0m0-4h0m1 3h0m0-3h0m0 3h0m0-1h0m1-3h0m0 3h0m1 3h0m0-2h0m0 1h0m0-2h0m0 1h0m0 0h0m1-3h0m0-1h0m0 5h0m0-4h0m0 4h0m0-1h0m1-1h0m0-2h0m1 5h0m0 0h0m0-4h0m0-1h0m0-1h0m0 5h0m1-4h0m0-1h0m0 5h0m0 1h0m1-2h0m0-4h0m0 0h0m1 1h0m1-1h0m0 1h0m1-1h0m1 4h0m1 0h0m0-2h0m1 1h0m0-1h0m115 4h0m0-2h0m6-3h0m0-1h0m0 4h0m1 0h0m2 1h0m0 0h0m4-3h0m7-1h0m-175 11h0m0-1h0m1 1h0m1-1h0m0-1h0m0 1h0m1 0h0m0 0h0m1-2h0m1 1h0m1-1h0m0-1h0m0-1h0m1 4h0m0-3h0m1 0h0m0 1h0m0-1h0m0-1h0m0 0h0m0 4h0m1-4h0m0 3h0m1-3h0m2 1h0m0 0h0m1 1h0m1 1h0m0-2h0m1-1h0m2 4h0m0-1h0m0 0h0m0 2h0m2-2h0m0-3h0m0 4h0m1-4h0m1 2h0m0-3h0m0 1h0m1 3h0m0 0h0m0-1h0m0 1h0m0-2h0m1-2h0m0 4h0m0 2h0m0-5h0m0 1h0m1-1h0m1 1h0m0 3h0m0-1h0m0 0h0m1 0h0m0-3h0m0-1h0m1 1h0m0 2h0m0 3h0m0-2h0m1-3h0m1 0h0m0 4h0m0-4h0m2 0h0m0 1h0m0 0h0m1 0h0m0-2h0m0 1h0m1 0h0m1-1h0m117 3h0m2 1h0m1 1h0m0-1h0m1-2h0m3 1h0m7-2h0m-172 9h0m0 1h0m1-1h0m0 1h0m0 1h0m1-1h0m2-1h0m1-2h0m0 0h0m0 1h0m0 1h0m0 1h0m0-2h0m0-1h0m1 1h0m0-3h0m0 4h0m0-2h0m1 0h0m0 4h0m1-4h0m1-1h0m2 3h0m0-1h0m0 3h0m0-3h0m0 3h0m1-2h0m0-1h0m0 1h0m0-2h0m1 0h0m0 3h0m0-1h0m1 1h0m0-3h0m1 3h0m0-3h0m2 2h0m0-2h0m0 3h0m1-4h0m0 5h0m0-1h0m0-5h0m2 1h0m0 4h0m1-2h0m0 2h0m0-1h0m1 1h0m0 0h0m0-1h0m0-3h0m0 2h0m1-1h0m0 0h0m0-2h0m0 2h0m0 4h0m1-1h0m0-2h0m0-2h0m1 1h0m1-2h0m0 5h0m1-1h0m0-4h0m1 3h0m0-2h0m0 0h0m1 0h0m0 0h0m1 0h0m0-1h0m1 2h0m0 0h0m0-1h0m1 0h0m114 3h0m5 2h0m7-3h0m2-1h0m5 0h0m2-1h0m2 2h0m0 2h0m3-1h0m1-3h0m2 3h0m-184 8h0m1-2h0m0 1h0m0-1h0m2-1h0m0-1h0m0 1h0m2-2h0m1 4h0m0-4h0m0-1h0m1 1h0m0 4h0m0-3h0m1 2h0m0 1h0m0 0h0m1-2h0m2-2h0m0 4h0m1-4h0m0 2h0m0 0h0m1-2h0m1 3h0m0-4h0m0 2h0m1-2h0m0 3h0m0 0h0m2 3h0m1-2h0m0 0h0m0-1h0m2 1h0m0-1h0m0 0h0m0-2h0m2 4h0m0-2h0m1-3h0m0 5h0m0-4h0m0 4h0m1-1h0m0 0h0m0-4h0m0 3h0m0 3h0m1 0h0m1-4h0m0 3h0m0-2h0m1-2h0m1 4h0m0-5h0m0 4h0m1-4h0m2 2h0m0-1h0m0-1h0m1 0h0m112 5h0m9 0h0m11-1h0m9-2h0m0 0h0m5-1h0m-189 11h0m3-1h0m0 1h0m1-2h0m0 2h0m0-2h0m0-2h0m1 2h0m1-1h0m0 2h0m0 0h0m1-4h0m0 4h0m0 1h0m1-5h0m0 3h0m0 1h0m0-1h0m1-4h0m0 6h0m0 0h0m0-3h0m1 3h0m0-3h0m0 1h0m2-2h0m0-1h0m0 1h0m1 4h0m0-2h0m0-1h0m0-3h0m1 1h0m0-1h0m0 4h0m0 0h0m0 2h0m0 0h0m0-3h0m1 0h0m0 3h0m0-2h0m1 0h0m0-1h0m0 2h0m1 0h0m1-3h0m0 2h0m1 0h0m0-1h0m2 1h0m0-3h0m0 1h0m1 1h0m0 0h0m1 2h0m0-1h0m0-1h0m0-2h0m0 0h0m1 1h0m0 1h0m0-3h0m0 3h0m0-1h0m1 0h0m0 3h0m1 0h0m0-4h0m0 4h0m0-3h0m1 1h0m0-3h0m0 2h0m0 3h0m1-2h0m0-1h0m0 1h0m0-2h0m0 2h0m0 1h0m0 2h0m0-5h0m0-1h0m1 5h0m0-3h0m1 0h0m0 0h0m0 3h0m1-2h0m1-2h0m1-1h0m1 2h0m0-2h0m0 1h0m119 4h0m4-2h0m9-2h0m-174 11h0m1-2h0m1 0h0m0 1h0m1-2h0m2 0h0m0 3h0m0-1h0m0 0h0m0-1h0m0-2h0m1 3h0m0-2h0m1 1h0m0 1h0m0-2h0m1-1h0m0 1h0m0-3h0m1 5h0m0-2h0m0-3h0m0 2h0m0-2h0m1 5h0m0 0h0m0-2h0m0 3h0m0-5h0m2 5h0m0-1h0m0-5h0m1 5h0m0-4h0m0 3h0m1 0h0m0-2h0m0 3h0m0-4h0m0 2h0m1 2h0m0-4h0m0 0h0m0 2h0m0-2h0m1 2h0m0 2h0m1 0h0m0-4h0m0 1h0m0 1h0m0 2h0m1-5h0m0 3h0m0-2h0m0 5h0m0-1h0m0-2h0m1 0h0m0 1h0m0-1h0m0-1h0m1 4h0m0 0h0m1-4h0m1 3h0m0-4h0m0 3h0m0-4h0m1 3h0m1 0h0m0 0h0m0 0h0m0-2h0m1 3h0m0 1h0m0-4h0m0 1h0m1 3h0m0-4h0m0 4h0m1-1h0m0-1h0m0 1h0m0 2h0m1-2h0m0-4h0m0 5h0m0 1h0m1-1h0m0-3h0m0-2h0m0 2h0m0 1h0m0 2h0m1-1h0m1-3h0m0 1h0m1 1h0m0-1h0m1-1h0m1 0h0m120 0h0m0 2h0m1 3h0m1 0h0m1-6h0m8 0h0m-171 10h0m1-1h0m1 2h0m0-2h0m1 2h0m0-2h0m0 2h0m0-4h0m1 2h0m0 2h0m0-4h0m0 0h0m0 1h0m0-1h0m0 1h0m1-1h0m0 4h0m0 1h0m0-1h0m1 0h0m3 1h0m0-5h0m0 4h0m1-4h0m0 1h0m0 2h0m2 0h0m0 0h0m0 2h0m0-6h0m0 0h0m0 2h0m0 1h0m0 1h0m0-2h0m1 1h0m0-3h0m0 2h0m0 1h0m0 3h0m0-5h0m0 0h0m1 4h0m0 0h0m0 0h0m1 0h0m0-2h0m0-1h0m1 1h0m0 1h0m0 1h0m1-2h0m0-1h0m0 3h0m1 0h0m0-2h0m0 0h0m0-2h0m0 0h0m0 5h0m1-6h0m1 0h0m1 4h0m0 1h0m0-1h0m0-1h0m0-2h0m1 4h0m0 0h0m0-2h0m0 0h0m0 1h0m0-1h0m1 2h0m0-5h0m0 6h0m0-3h0m1 0h0m0 0h0m1-1h0m0 2h0m0-4h0m1 4h0m0-3h0m1 3h0m0-1h0m0 1h0m1-2h0m1 0h0m1-1h0m1 1h0m118 1h0m1 2h0m1-2h0m-162 8h0m0 0h0m0 1h0m2-2h0m0 1h0m1-1h0m1-2h0m2-1h0m0 0h0m0 2h0m1 2h0m0-4h0m0 2h0m0-2h0m0 2h0m1-2h0m0 4h0m1-3h0m0 3h0m1-2h0m0 0h0m0 1h0m0 1h0m0-2h0m1 2h0m0-4h0m0 1h0m1-2h0m1 2h0m1-2h0m0 2h0m0 0h0m0 3h0m1 1h0m0-3h0m0 1h0m1-4h0m0 2h0m0 0h0m1 3h0m0-4h0m0 4h0m1-2h0m0-1h0m0-1h0m0 0h0m0 1h0m1 4h0m0-4h0m0 4h0m1-5h0m0 0h0m1 1h0m0-2h0m0 2h0m1 1h0m1 2h0m0-1h0m0 1h0m1-3h0m0-1h0m0 5h0m1-3h0m0-3h0m0 1h0m0 1h0m1-2h0m0 5h0m0-4h0m1 5h0m0-4h0m0 0h0m0-1h0m1 3h0m0-2h0m1-2h0m0 2h0m0 2h0m0-3h0m0 2h0m0-2h0m2 2h0m1 0h0m1 0h0m0-2h0m1 1h0m121 1h0m7 2h0m10 1h0m1-3h0m5 1h0m5-4h0m-183 8h0m0 3h0m0-2h0m1 0h0m0-2h0m0 0h0m0 0h0m1 1h0m0 2h0m0-1h0m1 2h0m0-2h0m0 1h0m1-2h0m0-2h0m1 4h0m0-3h0m2 2h0m0-1h0m1 1h0m0-3h0m0 4h0m0-3h0m1 2h0m0 1h0m1-3h0m2-1h0m0 2h0m0 1h0m2-2h0m0 2h0m0 1h0m1-2h0m0 2h0m1-1h0m0 3h0m0-3h0m1 1h0m0 1h0m0 1h0m0 0h0m1-5h0m1 0h0m1 2h0m1 1h0m0-2h0m0-1h0m1-1h0m0 4h0m0-3h0m0 1h0m1 0h0m0 0h0m0 1h0m1-1h0m2-2h0m112 4h0m1 1h0m1-2h0m2 1h0m4-3h0m0 0h0m2 1h0m-148 5h0m1 2h0m0-2h0m0 1h0m0 2h0m1-3h0m0 4h0m0-5h0m1 5h0m0-3h0m1-2h0m0 2h0m0 3h0m0-1h0m1 0h0m0 1h0m0-2h0m2 1h0m0-2h0m0 2h0m0 2h0m0-1h0m1 0h0m0-1h0m0-3h0m1 2h0m2-3h0m0 0h0m1 2h0m2 0h0m0-1h0m0 0h0m1 0h0m0 1h0m1-1h0m1 0h0m118 3h0m4-4h0m7 0h0m11 4h0m-156 3h0m0 1h0m0-1h0m0 4h0m1 0h0m0-1h0m1-3h0m0 4h0m0-3h0m1 0h0m0 0h0m0 1h0m5-2h0m0 0h0m111 4h0m3-1h0m19-3h0m3 1h0m-145 5h0m2-1h0m122 5h0m14-1h0m-11 7h0m4 0h0m-31 2h0m13 5h0m3-1h0m-29 5h0m9-4h0m0 8h0m-23 9h0m4 0h0m2-4h0m-45 6h0m4 0h0m10 0h0m4 0h0m0 0h0m2 0h0m3 0h0m3 0h0m1 0h0m1 0h0m2 0h0m2 0h0m2 0h0m1 0h0m0 0h0m18 0h0m3 0h0" stroke="#4400FF" stroke-width="2.8" stroke-linecap="round" fill="none"/>
<path d="M1347 165h0m3-6h0m1 6h0m-15 2h0m16-2h0m1 2h0m-24 8h0m9-2h0m-9 7h0m-10 5h0m-17 9h0m28 0h0m2 1h0m3-5h0m-31 7h0m2 1h0m0 3h0m-22 6h0m3-2h0m31-1h0m25-1h0m-62 6h0m1-2h0m3 3h0m0-1h0m1 2h0m0 2h0m1-1h0m0 0h0m1-1h0m4 0h0m12 0h0m0-2h0m26-2h0m-63 11h0m2-1h0m1 0h0m3 2h0m0-3h0m0-1h0m0 2h0m1 2h0m1-5h0m0 5h0m1-4h0m1 2h0m1-3h0m0 2h0m1-2h0m1 1h0m0 3h0m1 0h0m1 1h0m1-5h0m0 2h0m2 2h0m1-2h0m7 1h0m3 0h0m10-2h0m5 2h0m8-1h0m-61 8h0m1 0h0m0-1h0m1 1h0m0-1h0m1 0h0m2-1h0m0 1h0m1-1h0m1-1h0m0 1h0m0-2h0m0 1h0m1-1h0m0 3h0m0 1h0m1-1h0m0 1h0m0-4h0m0 5h0m1-6h0m0 0h0m1 2h0m0 3h0m0-4h0m1 4h0m0-1h0m0 0h0m2 0h0m0-3h0m1 1h0m0 0h0m1-1h0m0 1h0m1-1h0m0 2h0m1 0h0m1-2h0m0 1h0m1 3h0m0 0h0m0-5h0m3 1h0m1 2h0m2 0h0m0 0h0m0 0h0m3-1h0m1 3h0m9 0h0m2 0h0m5-1h0m-55 8h0m1 0h0m0-1h0m1 0h0m0 0h0m0 0h0m1 1h0m0-1h0m0-1h0m0-1h0m1 0h0m0 2h0m0-2h0m1 1h0m1 0h0m0-2h0m0 3h0m0 0h0m1-4h0m0 2h0m0 1h0m0-2h0m1 1h0m0 1h0m0-4h0m0 3h0m0 1h0m1 1h0m0-5h0m0 5h0m0-3h0m0 0h0m0 3h0m1 1h0m0-5h0m0 3h0m0-2h0m0 2h0m0-3h0m1 1h0m0-1h0m0 1h0m0-1h0m1 4h0m0-1h0m0-3h0m1 5h0m1 0h0m1-4h0m0 1h0m0-2h0m1 1h0m1 1h0m0-1h0m0 0h0m1-1h0m0 2h0m1-3h0m0 0h0m0 5h0m1-3h0m0-2h0m1 5h0m0-3h0m0 4h0m0-5h0m3 0h0m1 3h0m1-1h0m0 0h0m1 1h0m0 1h0m0 0h0m0-1h0m0 2h0m1 0h0m0-6h0m1 4h0m0 1h0m0-2h0m0 3h0m0-1h0m0-1h0m2-2h0m1-2h0m0 3h0m1 0h0m1 3h0m1-3h0m1 0h0m1 2h0m0-4h0m0 0h0m14-1h0m-58 10h0m1 1h0m2 0h0m0-1h0m0-2h0m0 2h0m1-1h0m2 1h0m0-2h0m0 3h0m0-1h0m0 0h0m1-3h0m0-1h0m1 5h0m0-3h0m0-1h0m1 3h0m0 0h0m0 0h0m0 2h0m0 0h0m1-3h0m0-2h0m1 1h0m0 4h0m1-5h0m0 0h0m0 3h0m0-3h0m1 4h0m0-5h0m0 5h0m0-4h0m1 4h0m0-5h0m0 3h0m1-2h0m0 2h0m1-2h0m0 2h0m1 0h0m0 2h0m0 1h0m1-4h0m0 2h0m0-1h0m1-2h0m0 0h0m0 5h0m1-4h0m0 3h0m1 1h0m0-1h0m1-3h0m0 2h0m0-3h0m1 2h0m0-1h0m0 0h0m0 4h0m0-2h0m2-2h0m0 2h0m1-1h0m0 1h0m0-4h0m0 6h0m1-3h0m0-2h0m1 3h0m0-3h0m0-1h0m1 5h0m0-2h0m0 2h0m0-1h0m1 0h0m1-3h0m1 0h0m0 3h0m0-2h0m1 3h0m1-2h0m0 2h0m1-4h0m1 5h0m1-5h0m2 1h0m2 3h0m2-2h0m0 0h0m11 3h0m-64 5h0m1 0h0m0 0h0m0 0h0m1 0h0m1 0h0m1-2h0m0 0h0m0 2h0m1-2h0m1 0h0m1-2h0m0 3h0m1 1h0m0-3h0m0-1h0m0 4h0m1-3h0m0 2h0m1 0h0m0 0h0m1-4h0m0 0h0m0 4h0m0 1h0m1-1h0m0-2h0m0 1h0m1-2h0m0 0h0m0 5h0m0-5h0m1 1h0m1 2h0m0 0h0m0 1h0m0-4h0m0 4h0m1-2h0m0 0h0m1 0h0m0-2h0m0 0h0m0-1h0m0 4h0m0-1h0m0-2h0m1 2h0m0 1h0m1-1h0m1-2h0m0 2h0m0 1h0m1 0h0m0-2h0m0 0h0m1-2h0m0 4h0m1-2h0m0 3h0m0-2h0m1-2h0m0 4h0m0 0h0m0-2h0m0 1h0m0-1h0m0-2h0m0 4h0m1-1h0m1 1h0m0-2h0m0 0h0m1 2h0m0-4h0m0 3h0m1 2h0m0-1h0m0-4h0m0 2h0m2-1h0m0-1h0m0 2h0m0 1h0m0-2h0m0 2h0m0-3h0m0 5h0m1-1h0m0-3h0m1 2h0m1-2h0m0 3h0m1 0h0m0-3h0m0-1h0m0 0h0m0 2h0m1-1h0m0 2h0m0 1h0m4 0h0m0-2h0m0 1h0m0-2h0m0 1h0m0-2h0m0 1h0m0-2h0m2 1h0m2 2h0m0 0h0m1 0h0m0 0h0m1-2h0m1 4h0m0-1h0m0-2h0m1 1h0m0 1h0m3-4h0m2 4h0m0-4h0m1 3h0m4 3h0m7-6h0m5 5h0m-76 7h0m3-3h0m0-1h0m1 1h0m0 0h0m0 0h0m0 0h0m1-2h0m0 3h0m0 1h0m1-1h0m1-3h0m0 3h0m0-1h0m1 2h0m0-5h0m0 5h0m0-3h0m1 0h0m0 2h0m1-3h0m1-1h0m0 3h0m0-2h0m0 3h0m1-3h0m1 0h0m0 0h0m0 2h0m0-1h0m0-1h0m1 3h0m1-2h0m0-1h0m0 5h0m0-1h0m0-4h0m0 0h0m0 0h0m1 3h0m2 1h0m0-2h0m0 2h0m1-3h0m1 2h0m0-4h0m0 1h0m1 1h0m0 0h0m0-2h0m0 3h0m0 2h0m2-2h0m0 3h0m1-2h0m0-1h0m1-2h0m1 4h0m1 1h0m0-2h0m0 2h0m0-3h0m0 2h0m0-4h0m1-1h0m1 6h0m0 0h0m0-3h0m0 0h0m1-2h0m0 0h0m1 2h0m0-2h0m0 1h0m0-1h0m0 4h0m1-4h0m0 3h0m0 0h0m0-4h0m0 0h0m0 5h0m0-2h0m1 2h0m0-2h0m0 0h0m0-1h0m0 2h0m1 0h0m1-3h0m0 1h0m0 0h0m0 4h0m0-2h0m0-2h0m1 1h0m0 1h0m0-2h0m0 1h0m0-1h0m0 1h0m1 1h0m0 0h0m0-2h0m0 4h0m0-6h0m0 2h0m0 3h0m1-4h0m1 4h0m1 0h0m0-3h0m0 4h0m0 0h0m0-2h0m1-4h0m1 5h0m0-4h0m0 4h0m1 1h0m0-1h0m0-2h0m1 1h0m0 1h0m0-1h0m0 0h0m1-1h0m0 1h0m0 0h0m1-3h0m0 2h0m0 2h0m0-5h0m0 1h0m1 1h0m1 0h0m0 3h0m1-3h0m0-1h0m1 1h0m1-2h0m3 6h0m0-2h0m0-4h0m1 2h0m6 4h0m1-4h0m1-1h0m0 3h0m8 0h0m6 0h0m-88 8h0m1 0h0m1-1h0m2 1h0m0 0h0m1-1h0m1-2h0m2-1h0m0 0h0m1 0h0m2 1h0m0-2h0m0 0h0m1 4h0m0-5h0m0 3h0m0-1h0m1 3h0m1-1h0m0 1h0m0-5h0m1 3h0m1-3h0m0 5h0m0-5h0m0 4h0m0-3h0m1 0h0m1 2h0m1-2h0m0-1h0m0 4h0m0 1h0m1-3h0m0 1h0m1-1h0m0 1h0m0 2h0m1 1h0m0-3h0m0 0h0m1-3h0m1 5h0m0-2h0m0 2h0m3-4h0m0 2h0m0 2h0m1 1h0m0-1h0m0 0h0m0-3h0m0 1h0m0-2h0m1 3h0m0 2h0m0-4h0m1 3h0m0-4h0m0 4h0m1-1h0m0 0h0m1 0h0m0-2h0m0 0h0m0 2h0m0 1h0m1 0h0m0-2h0m1-2h0m0 4h0m0 0h0m1-4h0m0 0h0m0 0h0m1 0h0m0 2h0m1-1h0m0 3h0m0-3h0m2 2h0m0 1h0m1 0h0m0-3h0m0 2h0m0 1h0m0-1h0m0-1h0m0-2h0m0 1h0m1 4h0m0-3h0m0 2h0m0-3h0m0 3h0m0-4h0m0 3h0m1 0h0m2-2h0m0-1h0m0 1h0m1-1h0m0 4h0m0-1h0m0-3h0m1 3h0m0-3h0m0-1h0m0 0h0m1 0h0m0 5h0m0 1h0m0 0h0m0-1h0m1-3h0m0 3h0m0-2h0m0 1h0m0-3h0m0-1h0m0 4h0m0-2h0m1 2h0m0-1h0m0 2h0m1 1h0m0 0h0m0-2h0m0 2h0m0-5h0m0 4h0m1-3h0m0 0h0m1 4h0m1-4h0m0 0h0m0 3h0m0-4h0m0 1h0m1-2h0m0 2h0m0 0h0m1-1h0m1 1h0m0 3h0m0-4h0m1 0h0m0 1h0m0-1h0m0 4h0m2 0h0m1 1h0m0-3h0m0-2h0m1 2h0m1-2h0m1 3h0m0-1h0m2-3h0m0 1h0m3-1h0m1 4h0m1-3h0m6 5h0m1-6h0m1 3h0m1 3h0m6-6h0m7 4h0m-100 8h0m0 0h0m1-1h0m1 0h0m0 0h0m0 1h0m0-1h0m2-1h0m2 0h0m0-1h0m1 0h0m0 2h0m1-4h0m0 5h0m2-3h0m0-3h0m0 5h0m0-2h0m1 0h0m1-1h0m0 3h0m0-1h0m1 0h0m0-1h0m1 1h0m0-2h0m0 3h0m0 0h0m1-5h0m0 3h0m1 1h0m0-2h0m0 3h0m0-5h0m1 1h0m0-1h0m1 2h0m1 2h0m0-3h0m0 0h0m0 5h0m1-6h0m0 4h0m0-1h0m1 2h0m1-3h0m0 3h0m0-1h0m0-3h0m3 1h0m0 1h0m0 0h0m1-2h0m0 1h0m0-1h0m2 4h0m2 0h0m0 0h0m0 1h0m1-2h0m0-1h0m1 1h0m1-3h0m0-1h0m0 4h0m0-3h0m0 3h0m0-1h0m1-3h0m1 3h0m0 1h0m1-1h0m0 1h0m0 2h0m0-1h0m0-4h0m1 2h0m0-1h0m1-1h0m1 5h0m3-1h0m0-3h0m0-2h0m0 3h0m1 0h0m0 3h0m1 0h0m2-5h0m0-1h0m0 2h0m0-1h0m1 0h0m0 0h0m0 5h0m0-2h0m0 2h0m0-4h0m1-2h0m0 2h0m0 2h0m0 1h0m0-4h0m0 4h0m2-3h0m0 1h0m0 0h0m0-3h0m0 3h0m1-2h0m0 1h0m0 1h0m1-1h0m0 3h0m0-3h0m0 3h0m1-2h0m0-1h0m0 1h0m1-2h0m0 5h0m0-2h0m1 1h0m0-2h0m0 1h0m1 2h0m0-2h0m0-2h0m0 3h0m0 0h0m1-1h0m0 2h0m0-4h0m1-2h0m0 3h0m0-2h0m1 3h0m0 1h0m0-3h0m0 4h0m1-5h0m1 2h0m0-2h0m1 1h0m0-2h0m1 3h0m0 1h0m1-2h0m0 0h0m1-2h0m1 0h0m0 2h0m0 3h0m0-2h0m1 3h0m2-1h0m2 1h0m1-3h0m0 1h0m0-4h0m1 5h0m0-1h0m0 1h0m1-3h0m0 1h0m0 0h0m1 0h0m1 0h0m3-2h0m3 4h0m2 0h0m7-4h0m-98 10h0m0 0h0m1-2h0m1 1h0m0 0h0m1 1h0m0-3h0m1 1h0m0 2h0m0-1h0m0 1h0m0-2h0m1 1h0m0-3h0m1 5h0m1-3h0m1-2h0m0 4h0m0-3h0m0 2h0m0 0h0m0-2h0m1 2h0m1-2h0m0 2h0m0 1h0m0-5h0m1 4h0m1 1h0m0-2h0m0-2h0m1 4h0m1-2h0m0 2h0m0 0h0m1-1h0m0 1h0m0-1h0m1-4h0m0 5h0m0-4h0m0 3h0m0 0h0m1 2h0m0-2h0m0-3h0m0 3h0m0 2h0m1-1h0m1 1h0m0-2h0m1-2h0m0-1h0m1 2h0m0 3h0m0-5h0m0 0h0m1 1h0m0 0h0m0 0h0m0-1h0m1-1h0m0 5h0m0-4h0m0 3h0m0-4h0m0 5h0m1-3h0m1 4h0m0-2h0m1 2h0m0-2h0m0-2h0m1 0h0m1-1h0m0 2h0m0 0h0m0 1h0m1-4h0m0 4h0m0-3h0m0 5h0m1-1h0m0-2h0m2 1h0m1-1h0m2 0h0m0 2h0m0-4h0m0 1h0m1 0h0m0 2h0m0-1h0m1 2h0m1-4h0m1 2h0m0 0h0m1-1h0m0 0h0m1 0h0m2-1h0m1 5h0m0-5h0m0 0h0m0 1h0m1 3h0m0 0h0m0-4h0m1 3h0m1 1h0m1-5h0m1 4h0m1-2h0m0 1h0m0-3h0m0 5h0m0 0h0m0-4h0m0 4h0m0-5h0m1 1h0m0 2h0m0-3h0m0 6h0m1-1h0m0 0h0m1-4h0m0 4h0m0-3h0m1 1h0m0 3h0m0-2h0m1-2h0m0 2h0m0 2h0m0-2h0m1-3h0m0 3h0m0-4h0m0 5h0m0-2h0m1 3h0m0-2h0m0 1h0m0 0h0m1-1h0m0 2h0m0-1h0m1 0h0m0-1h0m0-1h0m0 1h0m1 1h0m0-1h0m0-2h0m0 3h0m1-4h0m0 0h0m0 2h0m0 1h0m1 1h0m0 0h0m0-2h0m0-3h0m0 0h0m1 4h0m0-3h0m0 0h0m1 0h0m0 4h0m0 0h0m0 0h0m1-1h0m0-4h0m0 5h0m1-2h0m0 0h0m0 2h0m1-3h0m0 1h0m0 0h0m1 2h0m0-2h0m0-2h0m1 0h0m0 1h0m1 4h0m0-2h0m0-2h0m0 0h0m1 0h0m0 1h0m0-1h0m0 4h0m0-3h0m1-3h0m0 0h0m1 3h0m0-2h0m0 0h0m1 5h0m0-1h0m1-2h0m0 1h0m1-2h0m0 1h0m0-1h0m0-1h0m0 3h0m1 2h0m0 0h0m1-3h0m0-2h0m0 1h0m0 2h0m0 2h0m1-1h0m0-3h0m0 3h0m1-4h0m2 0h0m0 1h0m1 3h0m0-3h0m0-2h0m2 0h0m0 5h0m1-4h0m2 1h0m4 0h0m2 0h0m8 0h0m3-1h0m-112 11h0m0-3h0m0 1h0m2 1h0m1-2h0m1 3h0m0-2h0m0-1h0m1 0h0m0-3h0m0 6h0m1-2h0m0 1h0m2-2h0m0 1h0m0 0h0m0-2h0m0 0h0m0 3h0m0-4h0m1 1h0m0 1h0m1 1h0m0 1h0m0-2h0m1 3h0m0-4h0m0-2h0m0 0h0m0 5h0m0-1h0m1-2h0m1 3h0m1-3h0m1 3h0m0-1h0m0 1h0m0-5h0m1 5h0m0-2h0m0 3h0m1-2h0m0 0h0m1 1h0m0-5h0m1 1h0m0 1h0m0-2h0m1 1h0m0 0h0m1-1h0m0 6h0m0-4h0m0 1h0m1-2h0m0 3h0m0 1h0m0-3h0m0 3h0m1-5h0m2 1h0m2 4h0m0-1h0m1-1h0m1 2h0m0 1h0m0-5h0m1 3h0m1 1h0m0 0h0m0-3h0m0 1h0m0-2h0m0 5h0m1-2h0m0-3h0m0 0h0m0 5h0m1-6h0m1 3h0m0 0h0m1 0h0m0-3h0m0 4h0m1-4h0m0 4h0m1 0h0m0-3h0m0 1h0m3-1h0m0 5h0m0-3h0m0 0h0m1-1h0m1-2h0m0 4h0m1-1h0m0-1h0m0 3h0m0-5h0m0 4h0m1 0h0m0-2h0m1 2h0m0 1h0m0 0h0m0-5h0m1 4h0m1-4h0m0 6h0m1-4h0m0 2h0m0-4h0m0 3h0m1-2h0m0 0h0m0 3h0m0 1h0m0-1h0m0 1h0m1-3h0m0-2h0m1 2h0m0 2h0m0 0h0m0 0h0m0-2h0m1 0h0m1 2h0m0-3h0m0 1h0m0-1h0m0 3h0m1-4h0m0 1h0m1 1h0m1-1h0m0 4h0m0 0h0m0-1h0m1-3h0m1 0h0m0 3h0m0-2h0m0 0h0m0 0h0m1 0h0m0 0h0m0-1h0m0 3h0m1-3h0m0 1h0m1 3h0m0-4h0m0 2h0m0 0h0m0-1h0m1 4h0m0-5h0m0 4h0m0 0h0m0-2h0m0 0h0m0-1h0m1-1h0m0 1h0m0 3h0m0 1h0m2-2h0m0 0h0m0 2h0m0-3h0m1 2h0m0-3h0m0 3h0m0 0h0m1-1h0m0 0h0m0 0h0m0 0h0m0-1h0m0 2h0m0-2h0m1 1h0m0-1h0m0-1h0m0-1h0m0 2h0m1-2h0m0 2h0m0 0h0m0 1h0m1-3h0m0 4h0m0-5h0m1 2h0m0-2h0m0 2h0m0 0h0m1 2h0m0-2h0m0 3h0m0 0h0m1-4h0m0-1h0m1 1h0m0 0h0m1 0h0m0 4h0m0 0h0m0-4h0m0 3h0m0 1h0m1-5h0m0 6h0m0-5h0m1-1h0m0 4h0m0-4h0m1 3h0m0 0h0m1 2h0m1-2h0m0 1h0m0 1h0m0-5h0m1 1h0m0 0h0m0 1h0m0-1h0m1 0h0m2 5h0m1-4h0m0 0h0m1 1h0m2-2h0m0 0h0m0 0h0m1 0h0m4 1h0m3-1h0m0 2h0m2-3h0m1 3h0m4 3h0m-113 6h0m2-2h0m0 2h0m1-2h0m0 1h0m1-3h0m0 1h0m0 0h0m0-1h0m1-1h0m0 5h0m1-4h0m0 1h0m0-3h0m0 4h0m0-1h0m1 2h0m0 0h0m0-4h0m1 5h0m0-1h0m2 0h0m0-2h0m0 1h0m0-3h0m1 4h0m0-4h0m0 5h0m0-4h0m1 2h0m0 0h0m0-4h0m1 1h0m1 1h0m1 2h0m0-3h0m0 4h0m1-2h0m1-3h0m0 0h0m1 5h0m1-2h0m0 0h0m0 1h0m1-1h0m0-2h0m0 3h0m1 0h0m0-1h0m1-1h0m0 2h0m0 0h0m0-4h0m0 1h0m1 0h0m0 4h0m1 0h0m0-4h0m0 2h0m2 2h0m0-2h0m1-2h0m0 2h0m0 2h0m0 1h0m1-6h0m1 4h0m0-3h0m0 0h0m1 1h0m0 3h0m0 0h0m1-3h0m0 3h0m1-4h0m0 4h0m1-3h0m0 0h0m2 4h0m1-1h0m1-1h0m1 1h0m0 0h0m1-2h0m0 0h0m1-1h0m0 3h0m0-1h0m1-2h0m2-1h0m1 2h0m0-1h0m0-2h0m0 2h0m0 2h0m1 1h0m0-3h0m0 1h0m0 1h0m0-3h0m1 4h0m0-1h0m0-3h0m1 3h0m0-1h0m1-1h0m0 2h0m1 0h0m0 0h0m0-2h0m1 2h0m0-4h0m1 2h0m0 3h0m1 0h0m0-3h0m1-1h0m0 2h0m0-2h0m2 4h0m0 1h0m0-3h0m1 2h0m0-1h0m0-2h0m0 2h0m1 1h0m0-1h0m0 0h0m0-2h0m1 2h0m0 1h0m1-4h0m0 2h0m0-1h0m1 3h0m0-1h0m0-1h0m1 0h0m2 1h0m0-4h0m0 1h0m0 3h0m0-1h0m1 1h0m0-3h0m1 3h0m2-2h0m0 4h0m1-1h0m0-3h0m1 2h0m0 1h0m0-2h0m1-1h0m0-1h0m0 2h0m0 3h0m0-4h0m1 1h0m0 0h0m0 0h0m0-1h0m0 1h0m1-1h0m0 3h0m0-1h0m0-3h0m1 1h0m0 1h0m1-2h0m0 1h0m1 3h0m0 1h0m0-1h0m1-3h0m0-2h0m2 5h0m2-4h0m0 1h0m1 1h0m0-1h0m0 0h0m3-1h0m1 3h0m0-3h0m1 3h0m3 2h0m0 0h0m2 0h0m0-5h0m0 0h0m5-1h0m0 2h0m2-2h0m0 2h0m0 2h0m2-3h0m1 2h0m2 0h0m0 2h0m0-4h0m4 5h0m4-3h0m-122 8h0m3-1h0m1 0h0m0 1h0m0-1h0m0 1h0m1 1h0m0-2h0m0 2h0m0-1h0m0-3h0m1 3h0m0-2h0m0 2h0m1 0h0m0 0h0m0 0h0m1-1h0m0 0h0m1 2h0m0-3h0m0 1h0m0-2h0m1-1h0m0 0h0m0 1h0m1-2h0m0 3h0m1 2h0m0-1h0m0-2h0m1-2h0m1 4h0m1 1h0m0 0h0m0-2h0m1 1h0m0 2h0m2-3h0m1-2h0m0 1h0m0 3h0m0 0h0m0-2h0m1-1h0m1 2h0m0-1h0m0 3h0m0-5h0m0 4h0m0-3h0m0 3h0m1-2h0m0-1h0m0 0h0m0 2h0m1-1h0m0 0h0m0 3h0m0-2h0m0-2h0m1 3h0m0-1h0m1-3h0m1 2h0m1-1h0m0 3h0m0-2h0m0 3h0m0-4h0m1-2h0m0 5h0m1-5h0m0 0h0m0 3h0m1-1h0m0 1h0m3-2h0m0 3h0m1-4h0m0 5h0m2-3h0m0 4h0m0-1h0m1-5h0m0 4h0m0-2h0m1 3h0m0 0h0m0 0h0m0-3h0m1 1h0m0 3h0m0-2h0m1-1h0m0 2h0m0-4h0m1 0h0m0 1h0m1 0h0m0-2h0m0 4h0m1 0h0m1-2h0m0 0h0m1 2h0m0-1h0m0-2h0m0 3h0m0-2h0m1-1h0m0 2h0m0 1h0m1-1h0m0-3h0m0 0h0m1 2h0m0 1h0m0 0h0m1-3h0m2 2h0m0-1h0m1-1h0m2 1h0m0 4h0m0-3h0m1 0h0m1 3h0m0-2h0m0 1h0m1 0h0m1 2h0m0-5h0m0 4h0m1-1h0m0-1h0m0 3h0m0-1h0m1-1h0m0-2h0m0 3h0m0-2h0m1-1h0m0-1h0m0 0h0m1 2h0m2 2h0m0-4h0m0 3h0m1 0h0m0-1h0m0 3h0m1-3h0m1-2h0m0 1h0m1 4h0m0-5h0m1 2h0m0-1h0m1 3h0m0 0h0m0-1h0m1 2h0m0-6h0m2 5h0m1-1h0m1 0h0m0-1h0m0 0h0m1 2h0m0-1h0m0-1h0m0-1h0m2 1h0m0-1h0m0 1h0m0-1h0m0 2h0m1 1h0m2-5h0m2 0h0m1 1h0m0 4h0m2-3h0m2 2h0m1-2h0m2 1h0m2-2h0m2 1h0m2 0h0m1 0h0m0-1h0m1 1h0m0-1h0m1 0h0m3 0h0m0-1h0m3 6h0m3-5h0m0 0h0m0 4h0m7-2h0m-125 9h0m2-1h0m3-2h0m0 0h0m0 1h0m1-1h0m0 0h0m1 1h0m0-2h0m1 2h0m0-1h0m0 1h0m0-1h0m0-2h0m0 4h0m1-4h0m0 0h0m0 5h0m0-6h0m1 5h0m0 0h0m1-4h0m1 4h0m1-5h0m2 4h0m1-3h0m0 0h0m0 3h0m0 0h0m1-4h0m0 4h0m0-4h0m0 1h0m1 0h0m0 4h0m0-4h0m0 0h0m1 1h0m0 3h0m0-1h0m1-3h0m0 4h0m0-3h0m1 2h0m0 1h0m0-2h0m1 0h0m0 1h0m0-2h0m0 3h0m0-4h0m0 4h0m1-4h0m0 3h0m0 2h0m1-3h0m0-2h0m0 0h0m0 2h0m1 0h0m0-2h0m1 4h0m1-1h0m1-2h0m0 1h0m0 1h0m1 2h0m0 0h0m1-1h0m0 1h0m0-2h0m1 0h0m0 2h0m1-1h0m0-5h0m0 0h0m1 3h0m1 2h0m0-2h0m0 1h0m0-2h0m1 2h0m0 1h0m1-2h0m0 1h0m1-4h0m1 2h0m0-2h0m2 4h0m0 1h0m0-4h0m1 4h0m0-2h0m1 1h0m0 0h0m0-3h0m3 4h0m1 0h0m0-3h0m0 0h0m0 0h0m0 2h0m1-3h0m1 2h0m0-1h0m0 3h0m1-2h0m0 2h0m0 0h0m0-2h0m0 3h0m1 0h0m1 0h0m0-4h0m0 3h0m1-2h0m1-2h0m0 4h0m0-5h0m1 6h0m1-4h0m0 3h0m1-5h0m0 1h0m0 2h0m1 1h0m0 1h0m0-1h0m0-2h0m1 0h0m0 1h0m0-3h0m1 6h0m0-5h0m0 4h0m0-2h0m0 3h0m1-1h0m0-1h0m1 2h0m0 0h0m1 0h0m1-5h0m0 4h0m0 1h0m1-4h0m1 3h0m0-4h0m1 3h0m0-2h0m2 4h0m0-1h0m0-4h0m0 2h0m1 1h0m0 0h0m1 0h0m0-4h0m0 3h0m0 0h0m1 1h0m0 2h0m1-5h0m0 0h0m1 0h0m0 1h0m0 2h0m0-3h0m0 2h0m0 0h0m0-1h0m1-1h0m0 5h0m0-2h0m0-1h0m0-1h0m0 4h0m2-3h0m1 2h0m0 0h0m1-2h0m1-2h0m1 4h0m1-1h0m2-2h0m0-1h0m1 3h0m0-3h0m0 1h0m1-1h0m1-1h0m1 2h0m1 0h0m0-1h0m0 5h0m1-3h0m4 2h0m0-2h0m1-3h0m2 2h0m0-1h0m1 1h0m3 1h0m1 2h0m2-3h0m0 3h0m1-1h0m1 0h0m1 2h0m3 0h0m1-4h0m0 0h0m2 1h0m2 1h0m2 1h0m-124 7h0m0 0h0m3-1h0m1 0h0m1 0h0m0 0h0m0-3h0m1 2h0m0-2h0m0 0h0m1 0h0m0-1h0m0 2h0m0-2h0m0 0h0m1 1h0m1 1h0m0-1h0m1 2h0m1-1h0m0 3h0m1-5h0m1 2h0m0-2h0m0 2h0m1-2h0m0-1h0m0 4h0m1 0h0m0 2h0m1-3h0m0-2h0m0 1h0m0 2h0m1-1h0m0 2h0m1 0h0m3 0h0m1 1h0m0-5h0m1 0h0m1-1h0m1 3h0m1 3h0m0-6h0m1 1h0m0 2h0m1 2h0m1-4h0m1 3h0m0-4h0m2 0h0m1 5h0m1-1h0m0-3h0m0 1h0m2 2h0m0 1h0m1-4h0m0 4h0m2-4h0m0 1h0m1 2h0m0 0h0m1 0h0m0-2h0m0-1h0m1 0h0m0 1h0m0 3h0m1-1h0m0-2h0m1-2h0m0 4h0m0-3h0m0 2h0m1 1h0m1-4h0m0 0h0m1 5h0m0-3h0m1 3h0m0 0h0m0 0h0m0 1h0m1-4h0m0 2h0m0-3h0m0 0h0m0 2h0m0 0h0m0 2h0m1-5h0m0 3h0m1-1h0m1-2h0m0 6h0m0-1h0m0 0h0m1-2h0m0 3h0m0 0h0m0-4h0m1 3h0m1-2h0m0 0h0m0-3h0m0 4h0m1-4h0m0 3h0m0-1h0m1 2h0m0-1h0m0-2h0m0 4h0m1-4h0m1-1h0m0 3h0m1-2h0m0 4h0m0-4h0m1 5h0m0-2h0m1-3h0m2 4h0m0-5h0m0 2h0m0 0h0m0 0h0m0 2h0m1-2h0m0-1h0m0 3h0m0 2h0m0-2h0m1-3h0m0 2h0m0 2h0m1-5h0m0 6h0m1-6h0m1 6h0m0-4h0m0 1h0m1-2h0m0 4h0m0-1h0m1-1h0m2 0h0m1 0h0m0-2h0m0 0h0m2 3h0m0-4h0m0 1h0m1-1h0m0 0h0m0 1h0m1 0h0m0 2h0m0 1h0m0 1h0m1-2h0m0 0h0m2-2h0m0 0h0m1 3h0m0-3h0m0-1h0m1 2h0m1-1h0m0 1h0m1 4h0m0-3h0m0 0h0m0 1h0m0-3h0m3 0h0m0 3h0m1-4h0m1 5h0m0-1h0m1 1h0m2 0h0m4-3h0m2-2h0m0 5h0m1-4h0m1 1h0m1-1h0m0-1h0m1 6h0m3-5h0m1 3h0m2-1h0m1-2h0m4-1h0m1 4h0m1-2h0m2-2h0m0 3h0m3-3h0m0 1h0m-128 10h0m2-1h0m1 1h0m0-1h0m1 1h0m0-2h0m2-1h0m0-1h0m0 3h0m0-3h0m0 4h0m0-3h0m0-1h0m0 5h0m0-4h0m1 0h0m1 0h0m1 3h0m0-3h0m1 1h0m1 1h0m1-3h0m0 3h0m1-2h0m1-1h0m0 3h0m0-3h0m1 0h0m1 5h0m0-4h0m1-1h0m0 1h0m0-2h0m1 3h0m0 3h0m0 0h0m1-2h0m1 0h0m0 2h0m0-6h0m1 6h0m0-3h0m0 1h0m1-2h0m1 2h0m0 1h0m0 1h0m0-1h0m1 0h0m0-1h0m1-2h0m0 0h0m0 1h0m0-2h0m0 0h0m1 4h0m0 0h0m1-2h0m0 0h0m0 0h0m1-3h0m1 3h0m0-1h0m1 1h0m1 3h0m0-2h0m0 1h0m1-1h0m0-1h0m0 3h0m1-5h0m0 0h0m0 0h0m1-1h0m0 4h0m0 0h0m1-1h0m0-1h0m1 4h0m0-2h0m1-3h0m0 0h0m0 4h0m0-3h0m1 0h0m0 1h0m0 2h0m1-1h0m0-1h0m1-2h0m0 2h0m0 3h0m0-1h0m1 1h0m0 0h0m2-3h0m0 1h0m1 1h0m0-3h0m0-1h0m0 2h0m2-2h0m1 5h0m0-2h0m0 1h0m0-2h0m0-2h0m0 0h0m0 3h0m0-3h0m1 2h0m0 2h0m0-1h0m1-2h0m0 0h0m2-1h0m0 2h0m0-1h0m1-1h0m0 1h0m0-2h0m1 4h0m0-1h0m0 3h0m0-2h0m0-2h0m0-1h0m2 1h0m0 1h0m0 0h0m1-3h0m0 3h0m0-1h0m1 2h0m0-1h0m1 1h0m0 1h0m0 1h0m1-2h0m1-3h0m0 5h0m0-5h0m1 0h0m1 0h0m0 0h0m0 2h0m0-1h0m0 2h0m0 1h0m1-1h0m0-3h0m1 4h0m0 0h0m0 0h0m0-1h0m1 2h0m0 0h0m1-1h0m0-3h0m0 3h0m1-1h0m0 2h0m1-2h0m0 1h0m1-1h0m0-4h0m1 5h0m0-2h0m0 2h0m0-4h0m1 2h0m0 2h0m0 0h0m0-4h0m2 2h0m2 2h0m0-4h0m0-1h0m0 5h0m0-4h0m0 3h0m0-4h0m1 1h0m0 4h0m1-1h0m0-2h0m0-1h0m1-1h0m1 4h0m0-3h0m0 0h0m1 4h0m1 0h0m1-4h0m0 3h0m0-3h0m1 0h0m1 4h0m0-2h0m1 1h0m1 1h0m0 0h0m1 1h0m0-6h0m1 1h0m1 2h0m2-3h0m2 1h0m0 0h0m1 2h0m4 0h0m1-1h0m0 2h0m1 1h0m1-5h0m3 4h0m0-3h0m0 0h0m2 2h0m8-1h0m-124 10h0m4 0h0m0 0h0m1-4h0m1 2h0m0 0h0m1 0h0m0-1h0m1 3h0m1-2h0m0 0h0m2-1h0m1 1h0m0 0h0m1 0h0m0-4h0m0 3h0m1 1h0m1-3h0m1 2h0m0-3h0m1 3h0m0 0h0m1 1h0m0-3h0m1-1h0m1 1h0m0 1h0m0-1h0m0 1h0m1 1h0m0 1h0m0-4h0m0 2h0m0 0h0m1 0h0m0 1h0m0-3h0m1 3h0m0-2h0m1 5h0m0-3h0m0-2h0m1 0h0m0 2h0m0 1h0m0-1h0m1 0h0m1-2h0m1 1h0m0 3h0m1-2h0m0-2h0m0 1h0m1 4h0m0-4h0m0 0h0m0 0h0m0 0h0m0 4h0m0-1h0m1-1h0m0-3h0m0 1h0m1 3h0m0-5h0m1 5h0m1-5h0m1 3h0m0-2h0m0 4h0m0-4h0m0 0h0m0 4h0m1-3h0m0 2h0m1 2h0m0-4h0m0-1h0m1 2h0m0 3h0m0-5h0m1 2h0m0 2h0m1-1h0m0-3h0m0 4h0m0-2h0m1 1h0m0-3h0m0 2h0m1-2h0m0 2h0m0-2h0m0 5h0m0-5h0m0 0h0m1 0h0m0 4h0m1-2h0m0 2h0m0-4h0m0 3h0m1 0h0m0-4h0m0 1h0m1-1h0m0 5h0m1-4h0m0 4h0m0-1h0m0 2h0m0-1h0m2-2h0m0 3h0m0-4h0m1-1h0m0 0h0m1 2h0m1 0h0m1-2h0m1 5h0m1-1h0m1-1h0m0 1h0m2 1h0m0-2h0m0-2h0m1 1h0m0-1h0m1 0h0m0 1h0m0 3h0m0-2h0m0-1h0m0-3h0m0 2h0m1-1h0m0-1h0m1 4h0m0 1h0m0-2h0m0-1h0m0 0h0m1-1h0m1 4h0m0-3h0m1-1h0m0 3h0m1-1h0m1-3h0m0 5h0m0-3h0m0 3h0m0 1h0m0-6h0m1 4h0m1-2h0m0 2h0m0 2h0m1-4h0m0-1h0m0 3h0m0-2h0m1 2h0m0 0h0m2 2h0m1-5h0m1 0h0m1 1h0m1 1h0m0-3h0m0 4h0m1-3h0m0 2h0m0 2h0m0-1h0m0-3h0m1 0h0m0 5h0m0-6h0m1 1h0m0-1h0m0 3h0m2 1h0m0-4h0m0 5h0m0-2h0m1-2h0m0 2h0m1-1h0m1 1h0m0 2h0m1-4h0m0 2h0m1-2h0m0 2h0m2-3h0m0 3h0m3-1h0m0-1h0m3 4h0m0-1h0m0-4h0m3 1h0m2 3h0m4-1h0m1-1h0m1-1h0m4 4h0m0-1h0m0-3h0m5 3h0m0-2h0m0 0h0m-121 9h0m0-1h0m1 0h0m0 0h0m0 0h0m1 1h0m0 0h0m1-3h0m1 4h0m1-4h0m1 0h0m0 2h0m0-3h0m0 5h0m0-5h0m1-1h0m0 6h0m1 0h0m0-4h0m0-1h0m0 2h0m1 2h0m0-5h0m0 5h0m0-5h0m1 3h0m0 3h0m0-3h0m1-3h0m0 1h0m0 3h0m0-1h0m1 0h0m1 0h0m1-3h0m1 2h0m0 3h0m0-2h0m0 3h0m1-1h0m0-5h0m0 4h0m0 0h0m0 0h0m0 1h0m0-5h0m0 1h0m0 1h0m1 0h0m2 2h0m0 0h0m0-4h0m0 3h0m1-3h0m0 2h0m0-1h0m1 2h0m1 1h0m0-3h0m0 0h0m0-1h0m0 0h0m1 2h0m0 3h0m0-3h0m0 2h0m0-1h0m1-2h0m0 4h0m0-5h0m0 1h0m0 4h0m1 0h0m0-3h0m0-1h0m1 0h0m0 0h0m0 4h0m1 1h0m0-4h0m1 1h0m1-3h0m0 4h0m0-4h0m1 2h0m0 4h0m0-5h0m1 2h0m0 0h0m0 1h0m1-2h0m0-1h0m1 1h0m1 1h0m0 2h0m1-1h0m0 2h0m0-5h0m1 1h0m2 2h0m1-2h0m0-2h0m0 2h0m1 3h0m0-2h0m0 0h0m3-1h0m0-1h0m0 2h0m1 3h0m0-2h0m0 1h0m0-4h0m1 1h0m0-1h0m0 3h0m0-2h0m0 2h0m1-3h0m0 0h0m1 0h0m0 0h0m0 2h0m1 2h0m0 1h0m1-4h0m0 3h0m0-3h0m1 2h0m1 0h0m0 0h0m0-2h0m0 2h0m1-2h0m0 4h0m0-2h0m0-4h0m0 4h0m0 1h0m1-1h0m0 0h0m0 0h0m0-2h0m0 1h0m1 0h0m0 0h0m1 0h0m0-1h0m1 4h0m0-2h0m0-2h0m1 2h0m0-4h0m0 1h0m0 0h0m1 0h0m1 3h0m0-1h0m0 2h0m0 0h0m0-2h0m1 2h0m0 0h0m1-2h0m0-1h0m1 0h0m0 3h0m1-4h0m0 4h0m0 1h0m1-1h0m0-2h0m0 2h0m1-3h0m0 1h0m1 2h0m0 0h0m1-4h0m1 3h0m1-3h0m0 2h0m0 3h0m1-6h0m1 5h0m0 1h0m1 0h0m1-4h0m0 3h0m0 1h0m0-3h0m0-2h0m0 2h0m1 2h0m0-3h0m0 4h0m0-3h0m1-2h0m1 4h0m2-1h0m0-2h0m1-2h0m0 3h0m0 2h0m0-3h0m1 4h0m0-6h0m3 0h0m0 3h0m1-3h0m1 5h0m0 1h0m0-5h0m0 0h0m0 1h0m1-2h0m3 3h0m0-2h0m0 0h0m2 1h0m2-2h0m1 5h0m5-3h0m2 1h0m1 1h0m0-1h0m1 2h0m2-3h0m0-2h0m2 4h0m0-1h0m8 0h0m-123 9h0m2-2h0m0 1h0m0-2h0m1 1h0m0 0h0m0-2h0m0 1h0m0 1h0m1-1h0m0 3h0m0-1h0m1-4h0m0 3h0m2-4h0m1 2h0m0 3h0m0 1h0m1-6h0m0 4h0m0-3h0m0 4h0m0 0h0m2-4h0m0 1h0m0 3h0m0 0h0m0-2h0m1 2h0m0-4h0m0 2h0m0-2h0m1 1h0m1-1h0m0 1h0m0 2h0m1 0h0m0 1h0m1-3h0m0-1h0m1 0h0m0 1h0m1 3h0m1-1h0m0 1h0m1 0h0m0-2h0m0-3h0m0 3h0m0 1h0m1-1h0m0 2h0m0-4h0m1-1h0m1 1h0m0 3h0m1 0h0m1-2h0m0 0h0m0 0h0m0 3h0m0-1h0m0-1h0m1 1h0m0-3h0m0 0h0m1 0h0m0 3h0m0-2h0m1 3h0m0-4h0m0 0h0m0 3h0m1 1h0m0-1h0m1-4h0m1 3h0m0 2h0m0 0h0m1 1h0m0-1h0m0-1h0m1 1h0m0-1h0m1-3h0m1 1h0m0 0h0m1 0h0m0-1h0m0 1h0m0 3h0m1-4h0m0 1h0m1-1h0m0 3h0m0-2h0m1-1h0m0 3h0m1 1h0m0-1h0m0-2h0m0 0h0m1-2h0m0 4h0m1 1h0m0-4h0m1 1h0m0 1h0m0 1h0m1-2h0m0-2h0m0 2h0m1 3h0m0 1h0m0 0h0m1-2h0m0-4h0m0 5h0m0 1h0m1-1h0m0-1h0m0-2h0m0 0h0m1 1h0m0-2h0m1 3h0m0-3h0m1 5h0m0-1h0m0 1h0m0-5h0m1 1h0m1-1h0m0 0h0m1 2h0m0 2h0m1-4h0m1 3h0m0 1h0m0 0h0m0-1h0m1-3h0m0 3h0m0 0h0m0 0h0m0 0h0m1 1h0m0 1h0m1-1h0m0-2h0m0-2h0m0 4h0m1-1h0m0 1h0m1-2h0m0-1h0m1 2h0m1-1h0m0 1h0m0-1h0m0 1h0m1-3h0m0 1h0m0 3h0m1-3h0m1-1h0m0 4h0m0-1h0m1 1h0m1-4h0m0 5h0m1-1h0m0-2h0m0 1h0m0-4h0m1 3h0m0-1h0m0 2h0m1-1h0m0 0h0m1 0h0m0 2h0m2-3h0m0-2h0m0 0h0m1 2h0m2-1h0m0 2h0m0 1h0m0 0h0m1-2h0m0-1h0m1 2h0m0-3h0m1 3h0m1-1h0m1-1h0m1 0h0m1 2h0m1-3h0m1 1h0m0 1h0m1-1h0m0 1h0m1 3h0m2-2h0m0-2h0m1-1h0m0 0h0m0 0h0m3 2h0m1 1h0m2-2h0m1-1h0m0 6h0m0-2h0m3-2h0m1-1h0m1 3h0m1 1h0m1-3h0m1-1h0m0 4h0m0-4h0m6 4h0m6-4h0m-129 11h0m4-3h0m0 1h0m1-2h0m0 0h0m1 3h0m0 1h0m0-4h0m0-1h0m1 5h0m0 0h0m0-3h0m0 1h0m1-2h0m0-1h0m0 0h0m1 3h0m0 2h0m0-3h0m0 1h0m1-2h0m0-2h0m0 3h0m0 1h0m1-2h0m0 1h0m1 0h0m1-2h0m0 4h0m0 0h0m0-2h0m0 0h0m1-3h0m0 1h0m1 3h0m0 0h0m1-2h0m1 3h0m0-1h0m0 0h0m0-2h0m0 1h0m0-3h0m2 3h0m0 1h0m0 1h0m1-4h0m0 1h0m0 1h0m1 1h0m1-1h0m0 0h0m1-1h0m0 1h0m0 1h0m2-4h0m0 5h0m0-1h0m0-2h0m0-2h0m1 1h0m0 2h0m0 3h0m1-1h0m0 1h0m0-5h0m0 4h0m2 0h0m0-2h0m0 0h0m0 2h0m1 1h0m0-4h0m1 1h0m0 1h0m0-1h0m0-1h0m1 1h0m0 2h0m1-2h0m0-3h0m0 5h0m1 1h0m0-5h0m0 1h0m1-2h0m0 0h0m0 3h0m0 2h0m0-3h0m0 2h0m2 0h0m0-1h0m0-1h0m0 0h0m0 2h0m0-2h0m0 4h0m1-6h0m0 5h0m0-4h0m1 2h0m1-2h0m1-1h0m1 3h0m0 0h0m0 1h0m1 0h0m1-1h0m0 1h0m1 1h0m0-2h0m0-1h0m1-1h0m0-1h0m0 2h0m0 1h0m0-1h0m0-1h0m0 2h0m1-2h0m0 3h0m1-2h0m0 2h0m0 1h0m0-2h0m1-2h0m0 0h0m0 1h0m0 4h0m0-6h0m1 1h0m0 2h0m0 2h0m0 0h0m0-4h0m1-1h0m0 2h0m1-1h0m0 1h0m0 0h0m0 3h0m0-4h0m0 3h0m1 2h0m1-3h0m0-2h0m0 4h0m2-1h0m0 0h0m0-1h0m0 1h0m1 0h0m0-1h0m2-2h0m0 3h0m2-3h0m0 1h0m1-1h0m0 0h0m1 4h0m0 0h0m0-2h0m2 2h0m0-3h0m1 2h0m1-3h0m0 0h0m1 1h0m2 0h0m0-2h0m1 1h0m0 2h0m1-2h0m0 1h0m0 0h0m0-1h0m1 5h0m0-3h0m0 2h0m0 1h0m0-5h0m0 4h0m1-4h0m0-1h0m0 0h0m1 2h0m1-1h0m0 1h0m1 1h0m0-2h0m0 5h0m1-1h0m0-5h0m0 4h0m1 1h0m0-4h0m0 1h0m1 0h0m0 3h0m1-1h0m2-2h0m0-2h0m1 0h0m0 5h0m1-3h0m4 0h0m0 1h0m0-1h0m1 4h0m0-1h0m1-3h0m2-1h0m0 1h0m2 1h0m1-1h0m0 1h0m0 1h0m1-2h0m0-2h0m0 4h0m1 0h0m0 1h0m1-2h0m2-3h0m0 1h0m2 0h0m0 2h0m0-2h0m1 1h0m2-1h0m1 5h0m3-3h0m-115 8h0m1-1h0m1 0h0m1-1h0m1 3h0m0-4h0m0 0h0m0 0h0m1 1h0m0-2h0m0-1h0m0 2h0m0-2h0m1 4h0m0 0h0m0-3h0m0 0h0m2 4h0m0-1h0m1-3h0m0-1h0m1 6h0m0-6h0m1 0h0m0 5h0m1-3h0m0 2h0m0-3h0m0 4h0m1-3h0m0 2h0m0-2h0m0-1h0m1 3h0m0 0h0m0 0h0m1 0h0m1 0h0m0 2h0m0-5h0m0 1h0m1 2h0m0-2h0m1-1h0m0 5h0m0-2h0m0-1h0m0 1h0m1-1h0m0 0h0m0-3h0m1 6h0m1-4h0m1 2h0m0 1h0m1 0h0m0-3h0m0 0h0m0 2h0m1-3h0m0 1h0m0 3h0m1-1h0m0 0h0m0-4h0m0 3h0m1-3h0m0 6h0m0-4h0m0 1h0m1-1h0m0 0h0m0 3h0m1 0h0m0-4h0m0 2h0m1 1h0m0-3h0m0 5h0m1-2h0m0-2h0m0 1h0m0 3h0m1-4h0m0 1h0m0-1h0m1-1h0m0 2h0m1 2h0m0-3h0m0 4h0m1-3h0m0-2h0m1 1h0m0 1h0m0 1h0m1-3h0m0 1h0m1-1h0m0 3h0m0-2h0m1 4h0m0-2h0m0 2h0m0 0h0m1 0h0m0-4h0m0 3h0m0-2h0m1-1h0m0 1h0m1-1h0m2 0h0m0 0h0m0 0h0m0-1h0m0 4h0m0 0h0m1-1h0m0-3h0m1 3h0m0-2h0m3 3h0m0 0h0m0-2h0m1-2h0m0 3h0m0-4h0m1 4h0m0 1h0m0-5h0m1 5h0m0-5h0m0 1h0m1 4h0m0 0h0m1-4h0m0 4h0m0 0h0m1-3h0m0 2h0m0-2h0m0-2h0m0 2h0m0-1h0m1 1h0m1 0h0m0 1h0m0 0h0m1 0h0m1 2h0m0-2h0m0-2h0m0 1h0m0-1h0m0 0h0m1 2h0m0-2h0m0 4h0m0 0h0m1 0h0m0-4h0m1 4h0m1-2h0m0 2h0m0-1h0m0 1h0m1 1h0m0-1h0m0-1h0m1 0h0m0-2h0m0 4h0m1-6h0m1 4h0m0 2h0m1-1h0m0-5h0m0 1h0m1 1h0m0 0h0m0 3h0m1-1h0m0 2h0m0 0h0m0-5h0m0 0h0m1 1h0m0-1h0m0 0h0m0 2h0m0 1h0m0-1h0m1 2h0m0-3h0m1 3h0m0-4h0m0-1h0m0 5h0m0-2h0m1-1h0m0-1h0m0 4h0m0-3h0m0 4h0m1-3h0m0 2h0m0-4h0m1-1h0m0 1h0m0 0h0m0 1h0m1 1h0m0 0h0m1-1h0m1 0h0m0 2h0m1-1h0m1 1h0m0-3h0m0 1h0m2 0h0m0-2h0m1 2h0m0-2h0m3 2h0m0-2h0m0 4h0m1-3h0m3 1h0m7-1h0m2 0h0m4 2h0m0-1h0m7 3h0m0-2h0m3-2h0m1 0h0m-122 9h0m0 0h0m0 2h0m0-1h0m1-1h0m1 0h0m0 1h0m0-2h0m1 0h0m0 2h0m0-4h0m0 2h0m1 1h0m1 1h0m0-4h0m0 5h0m1-4h0m0-2h0m1 2h0m1 4h0m0-2h0m0-2h0m0 3h0m1-3h0m1 1h0m0 3h0m0-1h0m0 0h0m1-4h0m0 3h0m2-1h0m1 2h0m1-2h0m0-2h0m0 1h0m0 0h0m0 1h0m0-2h0m2-1h0m0 3h0m0-1h0m0 4h0m0-5h0m1 0h0m1 3h0m0 0h0m1-1h0m0-2h0m0 5h0m0-5h0m2-1h0m0 1h0m0-1h0m0 1h0m0 2h0m1 2h0m0-4h0m0 2h0m0 1h0m1-2h0m0 0h0m1 3h0m0-4h0m1 3h0m0-1h0m0-1h0m1-1h0m0 4h0m0-3h0m1 2h0m0 2h0m0-4h0m1-1h0m1 2h0m2-2h0m1 1h0m0 3h0m0-1h0m0 0h0m0-1h0m0 2h0m1-2h0m0 2h0m1-3h0m0-1h0m0 5h0m0-1h0m0-4h0m1 3h0m0 1h0m0-2h0m1-2h0m0 1h0m0 3h0m0-4h0m2 1h0m1 4h0m0-5h0m1 4h0m0-1h0m1-1h0m0-2h0m0 4h0m0-1h0m1 2h0m0 0h0m0-1h0m1-4h0m0 4h0m1-4h0m0 3h0m1 0h0m0-1h0m1-1h0m0 0h0m1-1h0m0 0h0m1 4h0m1-3h0m0 3h0m1-4h0m0 2h0m0-3h0m1 1h0m0 3h0m0-1h0m0-1h0m0 4h0m1-6h0m0 1h0m2 0h0m0 4h0m0-4h0m0 5h0m0-3h0m1-2h0m0 5h0m0-4h0m0-2h0m0 2h0m0 1h0m1-2h0m0 4h0m0-4h0m1 0h0m1 2h0m2-1h0m0 0h0m0 1h0m1-3h0m0 4h0m0 0h0m0 2h0m1-2h0m0-2h0m0 3h0m0-4h0m1 2h0m0 2h0m0 0h0m1 0h0m0-2h0m1 1h0m0 1h0m0-3h0m0 2h0m0 0h0m0 1h0m1-4h0m0 3h0m0-1h0m1 1h0m0-3h0m1 4h0m1-1h0m0 1h0m1 0h0m1 1h0m0 0h0m0 0h0m0-1h0m0-1h0m1-4h0m2 1h0m0 2h0m0 1h0m1 1h0m2 1h0m0-5h0m0 2h0m1 2h0m0-3h0m1 4h0m0 0h0m0-1h0m0-5h0m0 2h0m1 2h0m0 2h0m5-1h0m0-1h0m1-3h0m1 0h0m0 3h0m3-3h0m1 3h0m1-1h0m2 0h0m1-2h0m0 3h0m1-4h0m0 4h0m1-4h0m1 4h0m0-3h0m2 1h0m1 1h0m5-3h0m0 4h0m3-4h0m0 2h0m-122 10h0m1-2h0m0 1h0m0 0h0m0 0h0m1-1h0m0 1h0m2-1h0m0 0h0m1 0h0m1-2h0m0 0h0m0 3h0m1 0h0m0-1h0m1-3h0m0 1h0m1 0h0m0 2h0m1-1h0m0-1h0m2 2h0m0-2h0m1 0h0m0-2h0m1 1h0m0 0h0m0 2h0m0-1h0m1-1h0m0 1h0m0 1h0m0 0h0m1 1h0m0-2h0m1 1h0m0-2h0m0 4h0m1 1h0m0-1h0m1-5h0m0 5h0m0-1h0m1 0h0m0-3h0m1 5h0m0 0h0m0 0h0m0-5h0m1 3h0m0 0h0m0 1h0m0-5h0m1 2h0m1 4h0m0-4h0m0-1h0m1 3h0m1-2h0m0-1h0m0 4h0m0-4h0m1 1h0m1 1h0m0 3h0m1-5h0m0 1h0m1-2h0m0 5h0m0-4h0m0-1h0m0 0h0m0 1h0m0 2h0m1-3h0m0 3h0m1 1h0m0-1h0m1 1h0m0 0h0m0 0h0m1-2h0m0 3h0m1-5h0m1 2h0m1 4h0m0-2h0m0 0h0m0-2h0m1-2h0m1 1h0m1 3h0m0-2h0m0-1h0m1 4h0m0 1h0m0-2h0m0 1h0m1-4h0m0 3h0m1-2h0m0 2h0m0-3h0m1 1h0m0 3h0m1-3h0m0 0h0m0 0h0m0 4h0m0-3h0m0-2h0m0 5h0m1-2h0m1 0h0m0 1h0m0-1h0m0-4h0m2 1h0m0 3h0m0-2h0m0-2h0m0 2h0m1 1h0m0 2h0m1-3h0m0 2h0m0-2h0m0-2h0m0 1h0m0 2h0m0 1h0m1-3h0m0 3h0m0-2h0m1-1h0m0 0h0m0-1h0m1 3h0m1-2h0m0 4h0m1 1h0m0-5h0m0-1h0m0 4h0m1-2h0m0 3h0m0-4h0m1 3h0m0-1h0m0-2h0m1 3h0m0-1h0m3 3h0m0 0h0m0 0h0m1-4h0m0 0h0m0 3h0m0-1h0m1-4h0m1 2h0m0 4h0m0-1h0m1-2h0m0 2h0m1-2h0m0-2h0m0 0h0m0 1h0m2 0h0m0 3h0m1-2h0m0 3h0m0-5h0m1 0h0m0 4h0m1 0h0m0-2h0m0 0h0m0-1h0m1-1h0m0 1h0m0-1h0m0 3h0m0-1h0m1 1h0m0-2h0m1 2h0m0-3h0m0 4h0m1 0h0m1-3h0m0 3h0m1-4h0m0 5h0m1-5h0m0 0h0m1 3h0m0 2h0m0-3h0m0 0h0m2-1h0m0-2h0m1 0h0m0 0h0m1 6h0m0-1h0m1-4h0m0 0h0m0 2h0m1 1h0m0-4h0m0 1h0m1 4h0m2-2h0m0 0h0m1-2h0m1 4h0m0-3h0m0-1h0m2 3h0m1-1h0m1-2h0m2 0h0m0 1h0m5-2h0m5 6h0m2-3h0m2 3h0m0-4h0m9-1h0m2 0h0m-126 7h0m0 0h0m0 4h0m2-5h0m0 4h0m0-3h0m0 3h0m1 1h0m0-6h0m0 4h0m0 2h0m0 0h0m1-2h0m0-4h0m0 6h0m0-3h0m0 0h0m0-1h0m0 0h0m1 4h0m0-5h0m1 3h0m1-3h0m0 1h0m1-2h0m0 3h0m0 1h0m1-3h0m1 5h0m1-4h0m0 4h0m0-5h0m0 4h0m0-4h0m1 5h0m0-4h0m1-1h0m0 2h0m1 0h0m0-1h0m0-1h0m0-1h0m1 4h0m0-3h0m0 4h0m0 0h0m0-4h0m1 3h0m0-3h0m0 3h0m0 2h0m0-4h0m0 4h0m2 0h0m0-5h0m0 2h0m0 1h0m0-2h0m1 3h0m0-5h0m1 5h0m0-2h0m1 1h0m0-3h0m0-1h0m1 5h0m0 0h0m0-1h0m1-1h0m0 0h0m0-2h0m1 4h0m0-2h0m0-1h0m0-1h0m1 0h0m0 3h0m0 1h0m1-5h0m1 4h0m1-2h0m0 1h0m0-1h0m1 0h0m0 2h0m0-2h0m0 4h0m1-1h0m0-1h0m0-3h0m1 3h0m0-2h0m0 2h0m2-1h0m0-3h0m0 0h0m1 1h0m0 1h0m0-2h0m0 0h0m0 3h0m1 1h0m0-3h0m0 5h0m0-1h0m1-4h0m0 0h0m0 0h0m0 1h0m1 1h0m1-1h0m1 2h0m0 1h0m0-2h0m1 2h0m0-1h0m0-1h0m0-2h0m1-1h0m0 3h0m0 0h0m0-2h0m1-1h0m0 6h0m0-1h0m0 1h0m0-3h0m0 2h0m1-2h0m1-2h0m0 3h0m0-4h0m0 6h0m1-5h0m1 2h0m0 2h0m0-5h0m0 3h0m1-1h0m1 4h0m0-1h0m0-3h0m1 0h0m0 1h0m1 2h0m0-1h0m0 0h0m0-3h0m0 4h0m1-2h0m0 2h0m0 1h0m1-1h0m0-4h0m0 2h0m2 0h0m0-2h0m0 3h0m1-2h0m0 1h0m0 2h0m1-3h0m1-2h0m0 5h0m0-3h0m0-1h0m2 5h0m0-5h0m0 2h0m1-1h0m0 1h0m0-2h0m1 2h0m0 1h0m0-3h0m1 3h0m0-2h0m0 2h0m1 0h0m0 1h0m1-3h0m0 3h0m0-2h0m1-2h0m0 2h0m0 0h0m1 0h0m1 3h0m0-4h0m0 3h0m2-1h0m0 0h0m1-3h0m0 4h0m0-1h0m0 1h0m0-1h0m1 0h0m0-3h0m1 1h0m0 3h0m1-5h0m0 1h0m2 3h0m0-2h0m0-1h0m1 2h0m2-3h0m0 1h0m1-1h0m1 1h0m1 2h0m1 0h0m0 1h0m0-1h0m1-3h0m2 1h0m0 1h0m0-1h0m1 0h0m0 1h0m5 0h0m1-2h0m1 3h0m9-2h0m5 2h0m11-2h0m-132 10h0m2 1h0m0-2h0m2-1h0m1 2h0m2-2h0m1 1h0m0-3h0m0 1h0m0 1h0m0 3h0m0-1h0m0 0h0m0 0h0m1-2h0m0 1h0m1-1h0m0 3h0m0-1h0m0 0h0m0-3h0m1 2h0m0-2h0m1-2h0m0 2h0m1 1h0m0-1h0m0 3h0m1-3h0m0 0h0m0 4h0m0-6h0m0 0h0m1 4h0m0 2h0m0-6h0m0 6h0m0-1h0m1 0h0m0-5h0m0 3h0m1-2h0m1 2h0m0-2h0m0 4h0m0-2h0m0 1h0m0-3h0m0 0h0m1 1h0m0 2h0m1-3h0m0 4h0m0-4h0m1 2h0m0 3h0m1 0h0m0-5h0m0 5h0m1-6h0m0 5h0m0-3h0m1-1h0m0 4h0m0 0h0m1-4h0m2 2h0m0-3h0m0 4h0m0 2h0m0-6h0m0 2h0m1 4h0m0-6h0m0 3h0m1 0h0m0 0h0m1-1h0m0 3h0m0 1h0m0-5h0m1 4h0m1-4h0m2 0h0m0 4h0m0 1h0m0 0h0m0-4h0m0 1h0m0 2h0m0-2h0m1 0h0m0-3h0m1 4h0m0-2h0m1 1h0m1-3h0m0 1h0m0 0h0m2-1h0m0 4h0m0-2h0m1-1h0m1 2h0m2 0h0m0-2h0m0 5h0m0-2h0m1-3h0m0 3h0m0 2h0m0-2h0m1-2h0m0 1h0m1 1h0m0-4h0m0 5h0m1-1h0m0 0h0m0-2h0m1-1h0m0 4h0m0-2h0m0 3h0m1-4h0m0 3h0m0-3h0m1 1h0m0-3h0m0 3h0m0 0h0m0 1h0m1 2h0m1-1h0m0-3h0m1 0h0m0 3h0m0 0h0m0 0h0m1-4h0m1 2h0m1 0h0m0 2h0m1 1h0m0-4h0m0 1h0m0 0h0m1 1h0m0-1h0m1 3h0m1-6h0m1 1h0m0 5h0m0 0h0m1-3h0m0 0h0m0-2h0m0-1h0m0 2h0m1-1h0m0 2h0m0 0h0m1 2h0m0-2h0m0 1h0m0 2h0m0-5h0m1-1h0m0 1h0m1 0h0m0 3h0m1-4h0m1 5h0m0 1h0m0 0h0m0-5h0m1 4h0m0-1h0m1 2h0m0-4h0m1-1h0m0 2h0m0 2h0m0-2h0m0-1h0m2-1h0m0 2h0m0 0h0m0-2h0m0 0h0m0 3h0m1-3h0m0 2h0m1 3h0m0-3h0m0-2h0m1 4h0m0-3h0m0 3h0m0-1h0m1-2h0m0 2h0m0-2h0m1 0h0m0 4h0m0-6h0m1 2h0m3-1h0m0 4h0m0-3h0m0 0h0m1 3h0m0 1h0m0-4h0m0 0h0m1 4h0m0-4h0m1 2h0m0-3h0m1 2h0m0 1h0m0-4h0m0 2h0m1 2h0m1-3h0m1 0h0m0-1h0m0 1h0m2 4h0m1-5h0m0 2h0m1 0h0m0 2h0m1 1h0m2-5h0m3 4h0m9-4h0m-112 8h0m0 3h0m0-3h0m1 0h0m0 1h0m0 3h0m1-3h0m0-2h0m0 4h0m1 0h0m1 0h0m0-3h0m1 0h0m0 2h0m1-1h0m0 1h0m0 0h0m1 2h0m0-1h0m0-3h0m1 2h0m1-4h0m0 3h0m0 1h0m1-3h0m0 4h0m0 0h0m1-3h0m0 1h0m1-1h0m0 1h0m0 3h0m1-2h0m0 2h0m1-4h0m0 2h0m1 2h0m0-3h0m0 0h0m0-2h0m1 5h0m1-3h0m0 2h0m1 0h0m0-5h0m1 4h0m1-4h0m1 2h0m0-1h0m0 4h0m0-3h0m0 4h0m1-6h0m0 3h0m1 2h0m0-2h0m1-3h0m0 3h0m0 1h0m2 1h0m0-1h0m0-2h0m1 1h0m0 1h0m0 0h0m0-3h0m0 2h0m0-3h0m1 5h0m0-2h0m0-2h0m0 4h0m1-5h0m0 3h0m0-1h0m0-2h0m2 5h0m0-5h0m0 5h0m0-2h0m0 1h0m0 2h0m1-3h0m0 3h0m1-5h0m0-1h0m0 3h0m0-1h0m1 0h0m0 2h0m0-4h0m1 5h0m0-3h0m0 3h0m0-1h0m0 0h0m0-3h0m0 4h0m1 1h0m1-1h0m0-3h0m0 0h0m1 0h0m0 0h0m0 4h0m0-1h0m1 1h0m0-4h0m0 4h0m0-4h0m1 3h0m0-2h0m1 0h0m0 0h0m1-2h0m0 1h0m1 4h0m0-3h0m0 1h0m1-2h0m0 4h0m0-1h0m0 1h0m1-4h0m0 2h0m1 2h0m0-3h0m1 2h0m0-1h0m0 1h0m1-4h0m0 0h0m0 5h0m0-1h0m0-3h0m1 3h0m0-4h0m0 3h0m1 0h0m1-2h0m0-2h0m0 1h0m0 2h0m0 0h0m1 3h0m0-2h0m0-2h0m0 0h0m1 0h0m1 4h0m0 0h0m1-1h0m0 1h0m1-5h0m0-1h0m1 1h0m0 5h0m1-2h0m1-2h0m0 0h0m0 2h0m0-3h0m0 2h0m1 1h0m0-1h0m1 3h0m2-5h0m1 3h0m0 1h0m1-1h0m0 1h0m0-3h0m1 1h0m0-1h0m0 4h0m0-1h0m0 0h0m0 1h0m0-1h0m1-2h0m0-2h0m1 2h0m0-1h0m1-1h0m0 3h0m0-1h0m1 2h0m1-2h0m1-2h0m0-1h0m0 3h0m0-1h0m0 0h0m1 0h0m0 0h0m1-1h0m0 0h0m0 2h0m1-1h0m0 3h0m0-3h0m2 0h0m1 2h0m1 1h0m0-3h0m1-1h0m0 1h0m0-2h0m3 4h0m0-1h0m0 2h0m1-2h0m0 1h0m1-3h0m3 2h0m2 3h0m0-3h0m1-1h0m0-1h0m5 4h0m1-3h0m9 1h0m-106 4h0m0 3h0m0 0h0m1-4h0m0 1h0m0 3h0m0-3h0m1 1h0m0-2h0m0 6h0m0-5h0m2 1h0m0-1h0m1 4h0m0-4h0m0 3h0m1-2h0m2 0h0m0 2h0m0-2h0m0 0h0m0 3h0m1-2h0m0 1h0m1 2h0m0-3h0m0-1h0m1 0h0m0-1h0m0 2h0m1-1h0m1-2h0m0 3h0m0 0h0m0 1h0m0 1h0m1-5h0m0 2h0m0 0h0m0 0h0m1 2h0m0 2h0m0-2h0m2 1h0m1-3h0m0 1h0m0-1h0m0 2h0m1-3h0m0 4h0m0 0h0m0 0h0m1 0h0m1-3h0m0 3h0m0-1h0m1-1h0m1 1h0m0-1h0m0-2h0m0 4h0m0-1h0m1-2h0m1 1h0m1-3h0m0 4h0m0-1h0m1 0h0m0 2h0m1 0h0m0 0h0m0 0h0m0 1h0m1-1h0m0 0h0m0-1h0m1-3h0m0 4h0m2-5h0m0 2h0m1 3h0m0-3h0m0 1h0m1 0h0m0 1h0m0-4h0m1 6h0m0-5h0m1 0h0m0 0h0m1 3h0m0-2h0m1 1h0m0 1h0m1-4h0m0 0h0m1 1h0m0 1h0m1 1h0m0-2h0m0 0h0m1 0h0m0 2h0m0-1h0m1-1h0m0 1h0m0-1h0m0 1h0m1-1h0m0 2h0m0 2h0m1 0h0m0-1h0m0 0h0m0-1h0m1 0h0m0-3h0m0 4h0m1-3h0m1 1h0m1 0h0m0 2h0m0-2h0m0 3h0m0-4h0m0 3h0m1 1h0m0 1h0m1-1h0m1 1h0m0-2h0m1-2h0m0 3h0m1-4h0m0 2h0m1 0h0m0-2h0m1 4h0m0 0h0m0-5h0m1 4h0m0-4h0m1 2h0m0 0h0m0 1h0m0 2h0m0-4h0m1 3h0m1-1h0m0 3h0m0-4h0m0 0h0m1 1h0m0 1h0m1-2h0m0 1h0m0 2h0m0-1h0m1-2h0m0 2h0m1-2h0m1 1h0m1-2h0m0 0h0m1 2h0m0 3h0m0-2h0m1-1h0m1-2h0m0 4h0m0-3h0m1 1h0m0-2h0m1 1h0m0 1h0m0 1h0m0-4h0m0 4h0m1 1h0m0-1h0m1 0h0m1-1h0m0-2h0m0 3h0m2-1h0m1-2h0m1-1h0m0 4h0m1-3h0m1 3h0m1 0h0m0 1h0m2-2h0m2-2h0m0 0h0m0 5h0m2-3h0m1 1h0m1 1h0m2-2h0m1-3h0m6 5h0m-98 6h0m0-5h0m1 2h0m0 1h0m1-1h0m1 0h0m0 3h0m0-5h0m1 2h0m1 0h0m0 2h0m1-4h0m0 6h0m1-5h0m0 3h0m0-2h0m0 2h0m0 0h0m0 0h0m1 0h0m1-2h0m1 1h0m0-2h0m1 3h0m0 1h0m1 0h0m2-2h0m0 1h0m1 2h0m0-4h0m0 0h0m0 2h0m1-1h0m0-1h0m0 2h0m1-3h0m0-1h0m0 4h0m0-2h0m0 3h0m1-4h0m0 2h0m1-2h0m0 4h0m0 0h0m0-3h0m1-2h0m0 4h0m0-4h0m0 5h0m1-4h0m0 0h0m0 2h0m0 0h0m1-2h0m0 4h0m0-4h0m1 4h0m0-3h0m0 0h0m0 3h0m0-2h0m0-1h0m0 3h0m0-2h0m0 3h0m1-4h0m0 3h0m2-3h0m0 2h0m0-2h0m0 0h0m1-1h0m0 4h0m0-2h0m0 2h0m1 1h0m0-4h0m0-2h0m1 5h0m1-2h0m2-2h0m0 2h0m0-2h0m1 3h0m0-1h0m0 0h0m1 0h0m0-1h0m0 3h0m0-3h0m0 0h0m2 1h0m0 2h0m2-2h0m1 0h0m0-2h0m0 2h0m0 2h0m2-1h0m0 1h0m0-2h0m1-1h0m1 4h0m0-5h0m1 5h0m0-2h0m0 2h0m0-3h0m0 2h0m2-3h0m0 1h0m1-3h0m0 6h0m0-5h0m1-1h0m0 4h0m0-1h0m1 2h0m1-4h0m0 0h0m0 4h0m0-5h0m0 2h0m0 3h0m2-1h0m0 1h0m0-1h0m0 0h0m1-1h0m0 0h0m0 2h0m1-4h0m1 3h0m0-1h0m2 3h0m0-2h0m0-1h0m1-1h0m0 0h0m0-1h0m0 3h0m0-3h0m0 1h0m1 1h0m0 2h0m1-4h0m0 2h0m0-1h0m0-1h0m1 2h0m0-1h0m1-1h0m1 4h0m1-2h0m0 2h0m0-1h0m0-1h0m3 1h0m0-1h0m2 0h0m0 1h0m1-1h0m1-3h0m1 1h0m3 0h0m1 0h0m3 0h0m3 5h0m11-3h0m3-2h0m4 0h0m-100 10h0m0-2h0m1 1h0m0 1h0m1-4h0m0 0h0m0-1h0m0 3h0m1 2h0m0-2h0m1 2h0m0-1h0m1 0h0m0 0h0m1-3h0m0 5h0m0-1h0m1-3h0m0 2h0m1 1h0m0-3h0m1 0h0m1 1h0m1-1h0m0 3h0m1-3h0m0 3h0m1-2h0m1-2h0m0 0h0m1 0h0m0 4h0m0-4h0m0-1h0m1 4h0m1 1h0m0 0h0m0-2h0m0-1h0m1 3h0m0-3h0m0 0h0m1-2h0m0 5h0m0-2h0m1 1h0m0-1h0m0 1h0m1 1h0m0 0h0m1-1h0m0 1h0m0 0h0m0-2h0m1 3h0m0-2h0m2-3h0m0 1h0m1-1h0m0 2h0m1-1h0m2 1h0m0-1h0m1 1h0m0-2h0m0 3h0m1-1h0m0-3h0m0 2h0m0 2h0m0 0h0m1-3h0m0 0h0m0 5h0m1-1h0m1-2h0m0 1h0m0-1h0m1-2h0m0-1h0m0 4h0m0 2h0m0 0h0m0-1h0m1-2h0m0-2h0m0 4h0m0-5h0m1 6h0m0-2h0m1-2h0m0 3h0m0 0h0m0-1h0m0 0h0m1 2h0m0-2h0m1-1h0m0 0h0m0 1h0m1-3h0m0 2h0m0-2h0m1 1h0m0 3h0m1-2h0m0-1h0m0-1h0m0 3h0m1-1h0m0-2h0m0 4h0m0-4h0m0 1h0m0-1h0m0 4h0m0-2h0m0 0h0m1-2h0m0 5h0m0-4h0m0 1h0m1 3h0m0-4h0m0 4h0m0-4h0m0 2h0m0-2h0m1-1h0m0 4h0m0-3h0m1 1h0m1-3h0m0 5h0m0 0h0m0-5h0m2 4h0m1-3h0m0 1h0m2 2h0m0 1h0m0-1h0m1-2h0m1 1h0m1-2h0m1 5h0m1-3h0m0 3h0m1-3h0m1-3h0m2 3h0m0-1h0m1 1h0m1-2h0m0 3h0m1-1h0m1 2h0m5-1h0m2-3h0m1 1h0m-75 10h0m1-4h0m0 0h0m1 1h0m0-2h0m0 2h0m1 2h0m0 1h0m0-4h0m1 3h0m2 1h0m0-4h0m0-2h0m0 6h0m1-1h0m1-1h0m2-3h0m0 2h0m0 3h0m1 0h0m1-1h0m0-1h0m1-1h0m0 1h0m0-1h0m1 1h0m0-4h0m0 0h0m0 3h0m0 2h0m1-1h0m0-3h0m0 4h0m1-2h0m0-1h0m0 0h0m0 3h0m1 1h0m0-3h0m0-1h0m0 0h0m0-1h0m0-1h0m1 5h0m1-2h0m0-3h0m1 4h0m0-2h0m0-1h0m0 0h0m0 2h0m1 0h0m0-2h0m0 5h0m1-4h0m0 2h0m1 0h0m1-1h0m0-1h0m0 2h0m1-2h0m1 0h0m0-1h0m0 1h0m0 3h0m1-1h0m0-3h0m0 3h0m2 0h0m0-1h0m0 2h0m0 0h0m0-4h0m0 2h0m1 2h0m1-1h0m1-4h0m1 5h0m0-4h0m1 2h0m1-1h0m0 4h0m1-2h0m0-2h0m1 2h0m0 0h0m0-3h0m0-1h0m0 2h0m1-1h0m0 0h0m0 3h0m1-3h0m0 0h0m0 1h0m1 2h0m0-3h0m0-1h0m1 0h0m0 3h0m0-1h0m0 1h0m0 0h0m1 0h0m0 0h0m1 1h0m1-4h0m0 2h0m0 1h0m1 2h0m1 1h0m0-4h0m1 2h0m1-3h0m0 2h0m1 1h0m0 1h0m1-1h0m0-4h0m3 2h0m0-1h0m2 0h0m0 3h0m1 2h0m2-5h0m1 0h0m3 3h0m8-1h0m0-1h0m3 3h0m2-1h0m-75 4h0m0-1h0m0 4h0m0 0h0m1 0h0m0-4h0m0 0h0m1 1h0m0-1h0m0 3h0m0-1h0m0-3h0m1 3h0m0-1h0m0 0h0m1-2h0m1 0h0m0 4h0m0 2h0m0-4h0m0 2h0m1 1h0m1-1h0m1 0h0m1 2h0m0-6h0m0 1h0m1 3h0m0-1h0m1-2h0m0 0h0m1 3h0m0-3h0m0 3h0m0-2h0m2 4h0m0-1h0m1-3h0m0 1h0m2 3h0m0-3h0m0 0h0m0 1h0m1-2h0m1 0h0m0 2h0m1-3h0m0 1h0m1 3h0m0-3h0m1-1h0m0 4h0m0 0h0m0 1h0m0-3h0m1-2h0m0 5h0m1-2h0m0-1h0m0 1h0m0 1h0m0 1h0m1 0h0m0-3h0m0 0h0m1 2h0m0 0h0m0-3h0m0-1h0m0 3h0m1-3h0m0 0h0m1 1h0m0-1h0m0 4h0m0-2h0m0 1h0m1-1h0m0-1h0m0-2h0m0 3h0m0 1h0m1-1h0m0-2h0m1 0h0m0 0h0m1 5h0m1-1h0m0-3h0m0 0h0m0-2h0m1 6h0m0 0h0m0-4h0m0 3h0m0-2h0m1 2h0m0-2h0m1-2h0m1 1h0m1-2h0m0 3h0m1 2h0m1 0h0m2-4h0m0 5h0m2-6h0m1 1h0m0 1h0m2 1h0m2 2h0m0-5h0m9 5h0m1 1h0m1-4h0m6-1h0m6 1h0m0-1h0m-72 6h0m0-1h0m0 1h0m1 0h0m1 1h0m2 0h0m0 0h0m1 0h0m0-1h0m2 0h0m0 1h0m0 0h0m1-1h0m1 0h0m0 0h0m1 1h0m1-1h0m0 0h0m0-1h0m0 2h0m0 0h0m0 0h0m1-1h0m0 1h0m0-1h0m1 1h0m1-1h0m0 0h0m0 0h0m0-1h0m0 2h0m1-1h0m1-1h0m0 1h0m1-1h0m0 1h0m2 0h0m0 0h0m0 0h0m0 0h0m0 1h0m1-1h0m0 1h0m1-1h0m0 0h0m1 0h0m1 1h0m1 0h0m3-1h0m1-1h0m0 1h0m1-1h0m0 1h0m1 0h0m0 0h0m0 0h0m0 0h0m1 0h0m0 0h0m3-1h0m1 1h0m0 1h0m1-1h0m8 0h0m13 0h0" stroke="#9911FF" stroke-width="2.8" stroke-linecap="round" fill="none"/>
<line x1="1064.5" y1="297.6" x2="1447" y2="297.6" stroke="#E03030" stroke-width="2.2" stroke-dasharray="7.5 5.5"/>
<line x1="1064.5" y1="350.6" x2="1447" y2="350.6" stroke="#9933FF" stroke-width="2.2" stroke-dasharray="7.5 5.5"/>
<line x1="1064.5" y1="370.1" x2="1447" y2="370.1" stroke="#2222EE" stroke-width="2.2" stroke-dasharray="7.5 5.5"/>
<line x1="1064.5" y1="395.2" x2="1447" y2="88.3" stroke="#000" stroke-width="2.4" stroke-dasharray="7.5 4.5"/>
<text x="1437" y="287" font-size="26" fill="#E03030" text-anchor="end">3.5 eV</text>
<text x="1437" y="341" font-size="26" fill="#9933FF" text-anchor="end">1.6 eV</text>
<text x="1437" y="391" font-size="26" fill="#2222EE" text-anchor="end">0.9 eV</text>
<rect x="1064.50" y="88.30" width="382.70" height="306.90" fill="none" stroke="#222" stroke-width="1.4"/>
<text x="1064.5" y="421.8" font-size="26" text-anchor="middle" >0</text>
<text x="1057.5" y="401.8" font-size="18.5" text-anchor="end" >0</text>
<text x="1134.1" y="421.8" font-size="26" text-anchor="middle" >2</text>
<text x="1057.5" y="346.0" font-size="18.5" text-anchor="end" >2</text>
<text x="1203.7" y="421.8" font-size="26" text-anchor="middle" >4</text>
<text x="1057.5" y="290.2" font-size="18.5" text-anchor="end" >4</text>
<text x="1273.2" y="421.8" font-size="26" text-anchor="middle" >6</text>
<text x="1057.5" y="234.4" font-size="18.5" text-anchor="end" >6</text>
<text x="1342.8" y="421.8" font-size="26" text-anchor="middle" >8</text>
<text x="1057.5" y="178.6" font-size="18.5" text-anchor="end" >8</text>
<text x="1412.4" y="421.8" font-size="26" text-anchor="middle" >10</text>
<text x="1057.5" y="122.8" font-size="18.5" text-anchor="end" >10</text>
<path d="M1064.5 395.2L1064.5 388.8M1064.5 395.2L1070.9 395.2M1099.3 395.2L1099.3 392.0M1064.5 367.3L1067.7 367.3M1134.1 395.2L1134.1 388.8M1064.5 339.4L1070.9 339.4M1168.9 395.2L1168.9 392.0M1064.5 311.5L1067.7 311.5M1203.7 395.2L1203.7 388.8M1064.5 283.6L1070.9 283.6M1238.5 395.2L1238.5 392.0M1064.5 255.7L1067.7 255.7M1273.2 395.2L1273.2 388.8M1064.5 227.8L1070.9 227.8M1308.0 395.2L1308.0 392.0M1064.5 199.9L1067.7 199.9M1342.8 395.2L1342.8 388.8M1064.5 172.0L1070.9 172.0M1377.6 395.2L1377.6 392.0M1064.5 144.1L1067.7 144.1M1412.4 395.2L1412.4 388.8M1064.5 116.2L1070.9 116.2M1447.2 395.2L1447.2 392.0M1064.5 88.3L1067.7 88.3" stroke="#222" stroke-width="1.3" fill="none"/>
<text x="1069" y="113.9" font-size="26">C<tspan font-size="18" dy="6">1</tspan><tspan dy="-6"> and R</tspan><tspan font-size="18" dy="6">2</tspan></text>
<text x="1256" y="450" font-size="26" text-anchor="middle">MP calculated <tspan font-style="italic">E</tspan><tspan font-size="18" dy="6">g</tspan></text>
<text transform="translate(1022.5,363) rotate(-90)" font-size="26">AlphaMat updated <tspan font-style="italic">E</tspan><tspan font-size="18" dy="6">g</tspan></text>
<text x="71.5" y="468.0" font-size="36" font-weight="bold" >d</text>
<rect x="114.30" y="513.30" width="76.58" height="21.80" fill="#FFF5CC"/>
<rect x="190.58" y="513.30" width="76.58" height="21.80" fill="#E2A9B9"/>
<rect x="266.86" y="513.30" width="76.58" height="21.80" fill="#9B77A6"/>
<rect x="343.14" y="513.30" width="76.58" height="21.80" fill="#565688"/>
<rect x="419.42" y="513.30" width="76.58" height="21.80" fill="#333352"/>
<rect x="114.30" y="513.30" width="381.40" height="21.80" fill="none" stroke="#444" stroke-width="1.0"/>
<text x="114.3" y="500.5" font-size="26" text-anchor="middle" >-1.0</text>
<text x="190.6" y="500.5" font-size="26" text-anchor="middle" >0.0</text>
<text x="266.9" y="500.5" font-size="26" text-anchor="middle" >1.0</text>
<text x="343.1" y="500.5" font-size="26" text-anchor="middle" >2.0</text>
<text x="419.4" y="500.5" font-size="26" text-anchor="middle" >3.0</text>
<text x="495.7" y="500.5" font-size="26" text-anchor="middle" >4.0</text>
<path d="M114.3 513.3L114.3 507.5M190.6 513.3L190.6 507.5M266.9 513.3L266.9 507.5M343.1 513.3L343.1 507.5M419.4 513.3L419.4 507.5M495.7 513.3L495.7 507.5" stroke="#444" stroke-width="1.0" fill="none"/>
<text x="58.0" y="531.0" font-size="19" >log(<tspan font-style="italic">Ø</tspan>)</text>
<path d="M203.3 591.6L206.4 584.5L212.5 580.5L219.6 581.5L223.6 577.4L221.6 571.3L225.7 567.2L231.8 570.3L236.8 575.4L238.9 583.5L237.9 589.6L231.8 592.6L223.6 593.7L215.5 596.7L207.4 597.7L203.3 595.7ZM154.6 646.5L158.6 642.4L160.7 636.3L159.7 628.2L162.7 622.1L167.8 621.1L171.8 626.1L174.9 628.2L175.9 636.3L173.9 642.4L168.8 643.4L163.7 644.4L158.6 648.5L155.6 648.5Z" fill="#E2A9B9" stroke="#E2A9B9" stroke-width="2" stroke-linejoin="round"/>
<path d="M229 582h0m2 1h0m-5 9h0m80 37h0m26-2h0m7 8h0m-42 1h0m38 4h0m34 0h0m-92 6h0m-4 5h0m16-1h0m47 0h0m26-1h0m4 2h0m19 2h0m-197 4h0m60-1h0m52 0h0m39-3h0m3 5h0m40-3h0m-217 8h0m1 2h0m2-6h0m2 3h0m18-1h0m1 2h0m12-3h0m2 2h0m177 0h0m5 3h0m8-1h0m-246 7h0m1-2h0m24-4h0m2 6h0m1-3h0m63-2h0m52 0h0m40 1h0m-172 8h0m3-1h0m5 1h0m5-1h0m19 0h0m48-1h0m50 2h0m7-1h0m2 1h0m-146 4h0m5-2h0m5 1h0m4 4h0m6 0h0m3 1h0m13-4h0m7-1h0m103 2h0m26-2h0m6 3h0m24-3h0m-190 10h0m9 0h0m1-4h0m1 4h0m2-4h0m1 2h0m3-1h0m11 0h0m2 4h0m0-1h0m0-3h0m1 3h0m61-1h0m71-1h0m13-2h0m1 3h0m-179 2h0m17 1h0m55 2h0m3 2h0m0-2h0m19 0h0m59 3h0m22-4h0m6 0h0m-194 5h0m34-1h0m3 1h0m89 3h0m10-1h0m3 2h0m2-1h0m27 0h0m31-2h0m-189 6h0m13 1h0m3 3h0m1-5h0m0 4h0m16-2h0m3 0h0m2 3h0m72-3h0m72-1h0m4 3h0m11-2h0m-183 5h0m2 3h0m1 0h0m1 0h0m22-4h0m2 0h0m5 4h0m108-3h0m4-1h0m-151 10h0m29-1h0m45 1h0m31-1h0m10 1h0m25-2h0m5-2h0m29 0h0m9 0h0m-178 8h0m22 0h0m3-2h0m4 0h0m7 1h0m16 3h0m3-4h0m19 2h0m1 1h0m10 2h0m0-4h0m15 3h0m7 0h0m2-2h0m3-1h0m7 0h0m11 2h0m-127 8h0m7-1h0m4-4h0m2 4h0m9 1h0m3-5h0m2 4h0m2 0h0m2 0h0m2-3h0m15 1h0m10 0h0m6-1h0m4-2h0m1 0h0m17 4h0m3-2h0m8 2h0m12-3h0m5 0h0m1 0h0m8 2h0m5 2h0m0 0h0m0-1h0m28 1h0m-157 4h0m9 3h0m13-4h0m10-1h0m9 1h0m9 3h0m8 0h0m1 1h0m28-1h0m12-2h0m3-1h0m18 3h0m3-1h0m3 1h0m5 1h0m6-3h0m1 3h0m0-2h0m-133 7h0m2-3h0m21-2h0m11 1h0m1 5h0m19-4h0m15 2h0m27-2h0m7 4h0m0 0h0m5-1h0m5-2h0m9 1h0m2 2h0m11-4h0m2-2h0m20 6h0m-157 2h0m7-1h0m2 5h0m18-5h0m13 1h0m4-1h0m10 2h0m12 2h0m8 0h0m21-1h0m3-1h0m3-1h0m2 3h0m2-2h0m4-1h0m2 1h0m0 0h0m11-1h0m2-2h0m0 5h0m3-4h0m51 2h0m12 0h0m-145 5h0m0-2h0m10 5h0m5-5h0m4 5h0m1-3h0m2 0h0m6 3h0m13 0h0m3-3h0m4 2h0m11-2h0m5-1h0m0 4h0m46 0h0m8 0h0m4-3h0m26-2h0m-169 9h0m4 2h0m30-4h0m11 2h0m13 0h0m40-2h0m1 1h0m1 1h0m11-1h0m-85 10h0m6-5h0m32 2h0m22 0h0m8 0h0m2-1h0m6-1h0m8 3h0m23-3h0m28 3h0m-144 5h0m7-2h0m4 0h0m6 3h0m2 0h0m1 1h0m32-4h0m13-1h0m46 6h0m35-5h0m-118 11h0m6-6h0m13 1h0m63 0h0m4 0h0m1 2h0m4 2h0m20-3h0m-142 7h0m6 0h0m0-2h0m24 0h0m25 1h0m24 2h0m14-4h0m4 0h0m13 5h0m0 0h0m4 0h0m-78 2h0m24 1h0m16-1h0m2 0h0m10-1h0m9 3h0m17-1h0m5 2h0m4-3h0m0 0h0m3 2h0m6 3h0m-97 1h0m4 2h0m0 0h0m33 0h0m14-1h0m4-1h0m31 1h0m1-1h0m4 4h0m-93 1h0m12 3h0m2 1h0m17-4h0m6 4h0m46-2h0m-78 8h0m3 2h0m4 3h0" stroke="#FFF5CC" stroke-width="4.6" stroke-linecap="round" fill="none"/>
<path d="M335 563h0m14 0h0m-105 3h0m4-1h0m37 4h0m5-2h0m40-3h0m4 5h0m8 0h0m4-4h0m10 1h0m1 3h0m-93 1h0m17 4h0m5-1h0m1 0h0m6 2h0m0-5h0m0 0h0m2 3h0m1 1h0m0-2h0m4 0h0m7 1h0m21-1h0m11-2h0m2 4h0m3-4h0m3-1h0m-122 9h0m3 2h0m35-1h0m0-2h0m2 2h0m4-4h0m8 4h0m1-1h0m7 1h0m5 0h0m3-4h0m3 5h0m2-2h0m11 2h0m2-4h0m1 4h0m2-4h0m1-1h0m0 2h0m11-2h0m0 1h0m0 5h0m8-1h0m3-2h0m11 2h0m4 0h0m2-1h0m1 1h0m6 1h0m0-4h0m3 1h0m-157 7h0m9-2h0m4 4h0m2-5h0m2 3h0m1 2h0m2-4h0m0 0h0m2 1h0m2-3h0m1 3h0m22 3h0m6 0h0m0-2h0m2 1h0m0-4h0m12-1h0m1 5h0m1 0h0m0 0h0m4 0h0m0-5h0m2 2h0m0-1h0m4-1h0m0 5h0m4-5h0m4 6h0m11-1h0m4-5h0m2 1h0m1 3h0m0-1h0m1 2h0m1 0h0m3-5h0m1 2h0m3-2h0m2 5h0m0-3h0m3 3h0m2-4h0m3 3h0m1-3h0m2 0h0m10 0h0m4 3h0m1 1h0m1 1h0m0 0h0m0 0h0m4-4h0m2 1h0m1-1h0m0 2h0m1-1h0m8-1h0m2-1h0m2 2h0m8 1h0m6 1h0m-167 7h0m2-3h0m4 2h0m2-3h0m11 0h0m20 0h0m1 0h0m0 2h0m1 0h0m5-3h0m6 0h0m4 4h0m2 0h0m1-3h0m0 0h0m1-1h0m2 0h0m0 4h0m2-5h0m6 2h0m4 3h0m2-2h0m19 2h0m1-3h0m3 1h0m5-1h0m2 4h0m2-2h0m3 1h0m12-2h0m0 2h0m0-3h0m1 3h0m3-4h0m1 2h0m3-2h0m0 0h0m2 4h0m0-2h0m1 1h0m5 1h0m8-1h0m4 1h0m4 0h0m4-1h0m6 2h0m12-5h0m7 4h0m-177 1h0m27 0h0m3 6h0m9-4h0m6 0h0m0 3h0m11-4h0m4 0h0m20 2h0m2 1h0m1-2h0m8 0h0m1 1h0m2-2h0m3 5h0m0-1h0m2-5h0m2 6h0m1-1h0m3-3h0m1-1h0m2 0h0m0 0h0m1 4h0m3-3h0m2 3h0m0-4h0m19 3h0m6-2h0m6-2h0m5 1h0m2 2h0m4-3h0m3 1h0m4 0h0m0 3h0m2 1h0m1-1h0m2-4h0m2 2h0m2 1h0m0 0h0m2-3h0m5 5h0m5-5h0m-159 10h0m3-1h0m4 1h0m1 0h0m9 1h0m2 1h0m5-1h0m5 0h0m3-3h0m0 2h0m10 0h0m1 1h0m2 1h0m10-4h0m8 4h0m11-1h0m2-3h0m1-1h0m1 2h0m3 1h0m0-3h0m1 4h0m2-2h0m6 2h0m2-4h0m1-1h0m5 1h0m5 5h0m1-6h0m1 5h0m6-1h0m0 0h0m1 0h0m0 1h0m13 0h0m14-5h0m2 5h0m1-2h0m0-2h0m1 1h0m0 0h0m7 0h0m1 3h0m3 0h0m13-4h0m4 2h0m-228 6h0m0-1h0m50 3h0m5 0h0m3 1h0m1-3h0m0 1h0m3-1h0m2-2h0m1 5h0m5-4h0m5 1h0m2 2h0m1-1h0m4 1h0m3-4h0m0 3h0m0-3h0m2 4h0m4-1h0m10 1h0m1-1h0m10 1h0m2-2h0m2 3h0m1-2h0m10-4h0m0 1h0m2 3h0m1-4h0m0 6h0m1-2h0m1 1h0m0-1h0m8-4h0m2 0h0m3 6h0m1-3h0m3-2h0m2 3h0m10-2h0m3 0h0m1 4h0m1-2h0m2-3h0m1 3h0m2-2h0m2-1h0m2 3h0m2 0h0m2-3h0m2 1h0m1 3h0m2-2h0m2-1h0m2 1h0m11-2h0m0 4h0m10-1h0m2-2h0m-209 7h0m18-2h0m4 0h0m5 3h0m1 2h0m0-2h0m2 2h0m2-4h0m1 0h0m1 2h0m1-4h0m1 2h0m3 3h0m3-4h0m6 0h0m4 2h0m1-2h0m1 3h0m3-2h0m3 3h0m25-1h0m4-1h0m4 2h0m18-4h0m1 0h0m5 1h0m2-2h0m1 4h0m7 2h0m1-5h0m3 3h0m15-1h0m0-1h0m18-2h0m10 3h0m23-2h0m3 4h0m1-4h0m13 2h0m2-3h0m3 5h0m2-1h0m2 1h0m-225 2h0m0 1h0m8 4h0m0 0h0m5-1h0m1-1h0m1 1h0m0-1h0m8 0h0m1 0h0m0-1h0m2 0h0m0 0h0m13 2h0m1-2h0m7-1h0m3 0h0m2 3h0m6-5h0m3 0h0m2 4h0m3 1h0m2-3h0m12 4h0m2-5h0m3 2h0m1-2h0m1 1h0m0 0h0m2-2h0m4 1h0m4 2h0m1-2h0m0 2h0m2-1h0m2 2h0m7-3h0m1 4h0m2-1h0m1 0h0m0-4h0m3 1h0m2 3h0m2 2h0m0-1h0m4-1h0m4-3h0m0 4h0m1 1h0m3-3h0m0-1h0m2 1h0m2 2h0m3-1h0m8 1h0m11-3h0m7 1h0m9 2h0m3-4h0m0 3h0m0-3h0m0 1h0m3 1h0m0 2h0m1-3h0m10 1h0m2 2h0m2-1h0m4 2h0m1-3h0m1-3h0m3 4h0m5-3h0m4 1h0m1 1h0m8-2h0m0 3h0m5-1h0m-227 9h0m13-4h0m3 1h0m1-1h0m13 1h0m5-1h0m0 2h0m2-2h0m1 4h0m45-1h0m5-5h0m1 4h0m5 1h0m4-2h0m2-1h0m0 3h0m1 1h0m3-1h0m1-2h0m0 0h0m3-1h0m4 0h0m2 0h0m2 0h0m2 3h0m1 1h0m1-3h0m9 1h0m2-4h0m1 2h0m2 0h0m0-2h0m1 3h0m0-3h0m2 5h0m0-3h0m4 1h0m2 1h0m12 2h0m1-1h0m14 0h0m0-2h0m1 2h0m4-4h0m2 4h0m2-5h0m2 2h0m5-1h0m1 5h0m4-5h0m5 3h0m0-1h0m4 0h0m1-2h0m2 4h0m2-5h0m5 0h0m3 2h0m-244 9h0m7-3h0m0 0h0m2 3h0m1-4h0m4 4h0m24-1h0m1-2h0m1 3h0m3-5h0m5 1h0m1 1h0m6-1h0m5 2h0m0 1h0m14-3h0m1 5h0m2-2h0m1-4h0m0 3h0m4-2h0m5 3h0m5 1h0m1-2h0m3-1h0m1 2h0m0 0h0m6 1h0m10-1h0m0-2h0m1 0h0m2 0h0m5 3h0m2-1h0m9-1h0m4-1h0m1-2h0m1 0h0m3 4h0m2-3h0m0 3h0m4 1h0m1-3h0m1-1h0m1-1h0m3 5h0m0-1h0m0-2h0m1 2h0m1 2h0m0-2h0m1-2h0m1 4h0m10-4h0m1 2h0m0 1h0m1-3h0m0-1h0m2 3h0m2-3h0m1 0h0m0 1h0m5 1h0m2 2h0m1-2h0m4 1h0m3-2h0m1 1h0m1 3h0m4-3h0m1 1h0m4-3h0m5 3h0m0-1h0m2 3h0m1-1h0m1 0h0m2 0h0m15-3h0m1 3h0m1 1h0m0-3h0m3 2h0m1-1h0m0-3h0m4 0h0m26 2h0m-251 3h0m1 2h0m16 3h0m14-5h0m15 4h0m3-1h0m0-1h0m2-1h0m3 2h0m14 0h0m1 1h0m3-3h0m1 4h0m0-2h0m7 1h0m25-2h0m2 1h0m1 0h0m0 2h0m4-4h0m2 0h0m2 2h0m2 3h0m2-4h0m5 3h0m1-1h0m7-1h0m3 0h0m3-1h0m7 2h0m0-1h0m9 2h0m8-2h0m0-3h0m2 2h0m5 3h0m3 0h0m1-1h0m3-4h0m3 3h0m5 2h0m1-3h0m15 2h0m1-1h0m1 3h0m9-1h0m0-4h0m1 2h0m2-3h0m5 6h0m3 0h0m0-1h0m16 1h0m0 0h0m4-5h0m6 3h0m0-3h0m1-1h0m1 5h0m22 1h0m-239 3h0m1 1h0m3 0h0m1 1h0m0-2h0m5 0h0m3-2h0m13-1h0m15 5h0m6-1h0m0 1h0m2-3h0m0 3h0m1 0h0m1-2h0m1 1h0m14-1h0m2 1h0m2 0h0m5-4h0m0 6h0m1 0h0m0-1h0m1-3h0m1 2h0m9-1h0m1 1h0m1 0h0m1-1h0m2 1h0m1-4h0m2 6h0m2-3h0m2 2h0m3 1h0m1-1h0m0-1h0m1 2h0m10-5h0m1 2h0m4 0h0m1-1h0m3-2h0m0 4h0m3-2h0m1-2h0m0 1h0m1 4h0m1-5h0m2 1h0m6-1h0m1 2h0m0 0h0m3 2h0m1 0h0m4-1h0m1-1h0m3 2h0m1-4h0m2 5h0m1 1h0m0-2h0m0-3h0m2 2h0m4 1h0m3-1h0m6 0h0m3-3h0m0 2h0m10-2h0m5 4h0m7 0h0m5-3h0m0 1h0m4 2h0m4-2h0m0-2h0m1 1h0m2 4h0m1-3h0m18-1h0m9 3h0m2 1h0m-287 2h0m23 3h0m3 0h0m6 1h0m34-3h0m2 4h0m2-5h0m0 1h0m14 3h0m2-2h0m0-3h0m20 5h0m1 0h0m2-3h0m1 2h0m1-2h0m1 2h0m1-3h0m1 0h0m2 1h0m2 1h0m5 1h0m0 0h0m0-1h0m5 2h0m5-4h0m4 1h0m4-1h0m0 2h0m1 0h0m0 1h0m2-1h0m2-2h0m0 4h0m4 1h0m10-2h0m1-2h0m1 0h0m2-1h0m1 0h0m1 3h0m6-3h0m6 3h0m4-2h0m0 2h0m1 0h0m0-3h0m0 3h0m1-2h0m2 2h0m6 0h0m1-4h0m1 4h0m4 1h0m6-3h0m1 2h0m1-1h0m1 1h0m1-3h0m7 4h0m5-4h0m1 3h0m1-3h0m2 4h0m2-3h0m1 3h0m7 0h0m0-2h0m3 1h0m1 0h0m2-1h0m2-3h0m2 1h0m3 4h0m2-4h0m4 0h0m29 0h0m3 0h0m4 1h0m6 4h0m-272 1h0m6 2h0m0-3h0m38 0h0m2 5h0m8-4h0m2 1h0m2-1h0m3 4h0m0-1h0m3-4h0m1 4h0m0-4h0m5 5h0m2-2h0m2-3h0m11 6h0m0-1h0m2-3h0m2-1h0m5 2h0m2-3h0m1 5h0m2-3h0m0 3h0m2-5h0m3 4h0m2 0h0m1 1h0m0-5h0m0 6h0m2-1h0m2-5h0m1 4h0m1-3h0m2 1h0m0 3h0m1 0h0m1-4h0m2 2h0m0 1h0m1-1h0m1 2h0m1-2h0m6-3h0m6 3h0m0 1h0m1-1h0m0 3h0m2-4h0m2 0h0m2 0h0m7 2h0m4 1h0m4-2h0m2 0h0m2-2h0m8 2h0m6 0h0m0 3h0m1-4h0m0 2h0m1-4h0m3 1h0m0 0h0m0 4h0m4-4h0m1 3h0m16-4h0m3 2h0m3 1h0m0-3h0m3 1h0m0 1h0m5 3h0m2 0h0m8-5h0m45 2h0m0-1h0m4 1h0m0-1h0m2 0h0m-292 10h0m2 0h0m3-2h0m1 0h0m2 0h0m17 1h0m11-1h0m0 3h0m1-1h0m37 1h0m1-4h0m2 0h0m9 2h0m4-3h0m8 2h0m1 2h0m6-4h0m1 0h0m0 4h0m1-1h0m2-3h0m1 1h0m1 2h0m4 1h0m10-3h0m2-2h0m1 6h0m1-1h0m1-2h0m7 1h0m2-1h0m1-1h0m1 2h0m0 0h0m7 0h0m4 0h0m1-4h0m3 5h0m4-2h0m1-2h0m0 2h0m1 0h0m1 1h0m0-1h0m2-3h0m4 2h0m3 2h0m0 1h0m3-2h0m3 1h0m4-1h0m0 1h0m1-1h0m0 2h0m3 0h0m1 1h0m1-6h0m2 0h0m16 6h0m4-5h0m2 1h0m1 0h0m1 3h0m3-4h0m2 3h0m2-1h0m2-3h0m4 0h0m4 3h0m32 1h0m24-1h0m4 2h0m-291 6h0m8-2h0m0 0h0m2-2h0m0 0h0m53 2h0m1 2h0m2-2h0m2-2h0m1 4h0m0 0h0m1-3h0m5 0h0m0 0h0m0-1h0m0 4h0m3-3h0m0-2h0m1 1h0m10 0h0m2 2h0m0 0h0m1-1h0m8 0h0m2 3h0m6-3h0m0 1h0m4 3h0m3-6h0m0 4h0m6 1h0m6-5h0m2 1h0m3 4h0m1-2h0m5-3h0m4 0h0m3 1h0m1 4h0m3-2h0m2 0h0m2-2h0m4 4h0m2 0h0m0-1h0m1 2h0m1-2h0m1 1h0m4-1h0m1-3h0m2 2h0m13 2h0m0 0h0m6 0h0m4-4h0m17 1h0m5 0h0m2 0h0m74 2h0m4 0h0m-313 3h0m4 0h0m14 3h0m2 1h0m1 0h0m6-3h0m19-2h0m0 5h0m1 1h0m0-2h0m6 2h0m32-3h0m0 0h0m2-1h0m2 1h0m0-2h0m4 0h0m5 0h0m3 5h0m0-1h0m3-1h0m3-2h0m3-1h0m3 0h0m0 1h0m6 2h0m6 0h0m1-3h0m1 4h0m2-3h0m1 3h0m6-3h0m3 0h0m8 3h0m2-1h0m0-1h0m0-3h0m3 3h0m0-1h0m1 0h0m2-1h0m0 5h0m1 0h0m1-5h0m3 4h0m1-2h0m8-1h0m4-1h0m1 2h0m10-1h0m0 0h0m0 2h0m0 2h0m2-3h0m1 0h0m3 2h0m7-3h0m4-1h0m1 3h0m1-2h0m8 1h0m25-1h0m15 2h0m-244 7h0m6 0h0m1-4h0m25 3h0m9 1h0m1 0h0m22-2h0m1 0h0m3 3h0m26 0h0m2 0h0m0-4h0m2 1h0m2-2h0m2 4h0m4 0h0m7-1h0m2 1h0m0-5h0m5 4h0m1 0h0m1 1h0m3-1h0m0 0h0m1 0h0m3 0h0m0 1h0m0-3h0m7 2h0m6-3h0m4 2h0m5 3h0m3-1h0m0-1h0m6-1h0m2 1h0m1 0h0m1-3h0m1-1h0m7 5h0m3-3h0m0 2h0m5 1h0m1-1h0m2 0h0m10-3h0m7 1h0m3 0h0m2 1h0m0 2h0m0 1h0m46-1h0m6-5h0m14 6h0m4 0h0m7 0h0m23-2h0m-313 3h0m9 4h0m1-3h0m4 1h0m11-1h0m2 0h0m1 2h0m5-1h0m3-3h0m1 4h0m10 2h0m3-2h0m3-1h0m14-2h0m7-1h0m2 0h0m20 4h0m2-2h0m1 2h0m0-1h0m1 1h0m3 0h0m0-1h0m0-1h0m2-2h0m1 1h0m1 2h0m2-2h0m1 2h0m3 0h0m0-2h0m8 3h0m2-4h0m0 2h0m1 0h0m1 3h0m1-4h0m7 5h0m1-1h0m0-1h0m2 0h0m1 2h0m4-3h0m0-1h0m5 1h0m3-1h0m1-1h0m1 0h0m1 1h0m0-2h0m1 3h0m1 0h0m2 2h0m0 0h0m1 0h0m2-2h0m0 2h0m2-4h0m0 1h0m3-1h0m0-1h0m1 2h0m0 0h0m5-2h0m1 4h0m1 1h0m1 1h0m1-4h0m0-1h0m4 1h0m1 0h0m1-1h0m0 3h0m3 0h0m3-3h0m0 0h0m4 5h0m0-3h0m0 2h0m2 0h0m1-1h0m2-4h0m3 5h0m0-3h0m1 3h0m82-5h0m6 0h0m3 2h0m23-2h0m0 1h0m-311 6h0m2 4h0m4-3h0m4 2h0m3-3h0m6 4h0m1-1h0m11-4h0m16 1h0m25 5h0m2-1h0m1-4h0m11 4h0m2 1h0m0-1h0m2 0h0m2-4h0m1 5h0m4-4h0m5 1h0m2 3h0m2-5h0m1 2h0m2-1h0m0 1h0m3 3h0m4-3h0m5-2h0m0-1h0m15 3h0m0-2h0m2 1h0m4 3h0m1-3h0m1 4h0m2 0h0m0-4h0m0 2h0m1-4h0m1 5h0m7 1h0m2-3h0m2-1h0m2 2h0m0 0h0m2 1h0m1-2h0m0 0h0m0-1h0m2-1h0m3 1h0m0 2h0m4-1h0m1 1h0m1-3h0m0 3h0m1 0h0m2 0h0m2 2h0m1-6h0m3 4h0m1-4h0m2 2h0m2 4h0m1-1h0m2-1h0m7 0h0m1-3h0m0 1h0m3 4h0m1-5h0m1 0h0m1 4h0m1 0h0m1-3h0m56 2h0m7 0h0m1-1h0m4-3h0m9 2h0m-278 7h0m1-1h0m3-1h0m0 1h0m2 3h0m5-4h0m5 4h0m7 0h0m3-2h0m11-2h0m38 5h0m1-1h0m1-3h0m3 2h0m2-1h0m1 0h0m1 3h0m7-1h0m0 1h0m5-4h0m3 0h0m4-2h0m1 3h0m1-2h0m10 5h0m2 0h0m0-2h0m1 0h0m1 1h0m0 0h0m9-3h0m0-1h0m1 3h0m2-1h0m0 2h0m3 0h0m2-2h0m0-3h0m0 2h0m1 0h0m1-1h0m1-1h0m3 0h0m0 4h0m1 0h0m3-1h0m1 0h0m1 3h0m3-6h0m0 1h0m1 2h0m0-3h0m0 3h0m1-1h0m4-2h0m5 2h0m2 3h0m1-2h0m3-1h0m0 2h0m5 1h0m2-4h0m2 2h0m2-2h0m1-1h0m1 3h0m1-1h0m8 2h0m1-1h0m0 2h0m3-1h0m3-3h0m0 4h0m2-3h0m0 0h0m1 1h0m1 0h0m10 2h0m2-3h0m19-1h0m3 3h0m5-2h0m6 0h0m9 3h0m9 0h0m16-2h0m-275 3h0m16 3h0m4 0h0m23 2h0m19-3h0m14 2h0m1-2h0m0 0h0m1 0h0m0 2h0m1-2h0m0-2h0m9 5h0m2-3h0m0 2h0m3-2h0m13-2h0m3 6h0m0-3h0m0-3h0m1 4h0m0 1h0m1-1h0m1-2h0m2 0h0m3 1h0m1 2h0m0 1h0m6-2h0m0-2h0m1 3h0m4-1h0m2-3h0m1 5h0m22-1h0m5-1h0m0-2h0m5-1h0m1 4h0m2-2h0m10-1h0m0-1h0m2 3h0m0-1h0m1 1h0m7 2h0m5-3h0m3-1h0m0 4h0m2-1h0m6 0h0m1 0h0m-199 1h0m3 3h0m2 0h0m5-2h0m3 2h0m4 2h0m20 0h0m32-5h0m3 1h0m11 0h0m7 1h0m2 0h0m3-1h0m2 0h0m1-1h0m14 3h0m2-1h0m7-1h0m5 0h0m2 2h0m0 0h0m14 0h0m0 0h0m3-2h0m6 2h0m2 1h0m0-2h0m1 2h0m0 1h0m5-4h0m1 4h0m0 0h0m4 0h0m1-5h0m0 1h0m1 0h0m1 0h0m2 3h0m1-2h0m3 3h0m5-2h0m2-3h0m2 2h0m2 3h0m1-4h0m3 3h0m4-3h0m1 3h0m1 0h0m0 0h0m38 1h0m5-4h0m-237 10h0m2-4h0m9 2h0m0-1h0m18-2h0m4 5h0m1 0h0m0-2h0m0-1h0m2 2h0m2-3h0m1 4h0m0 0h0m1-4h0m3 1h0m39 2h0m11 1h0m4 0h0m1 0h0m19 1h0m30-4h0m3 0h0m0-1h0m4 3h0m4-1h0m3-2h0m2 4h0m2 0h0m4 0h0m7 0h0m2 1h0m2-5h0m3-1h0m8 0h0m33 2h0m25 1h0m3 3h0m12-3h0m10-2h0m2 5h0m-269 2h0m3 0h0m1 0h0m4 3h0m5-4h0m8 3h0m5 0h0m4-1h0m0 3h0m5-5h0m1 4h0m1 0h0m0 1h0m11 0h0m1-6h0m6 1h0m1 3h0m13 0h0m1-1h0m1-1h0m3 2h0m0 1h0m0-4h0m1 4h0m2-1h0m4-2h0m1 2h0m10 0h0m1-2h0m4 1h0m1-1h0m8 1h0m1-3h0m1 2h0m2 1h0m3 2h0m14-3h0m4 3h0m25-4h0m6 3h0m2-3h0m46 1h0m23 2h0m0-2h0m27 2h0m-253 7h0m3-2h0m7 1h0m3-1h0m15-2h0m3 1h0m4 4h0m1-3h0m6-2h0m1 1h0m1-1h0m7 5h0m9-5h0m1 0h0m5 2h0m1-3h0m1 0h0m3 3h0m0 2h0m4-4h0m3-1h0m2 3h0m2 2h0m2-3h0m1-1h0m0 0h0m2 0h0m3 2h0m2-1h0m0 1h0m5-1h0m8-1h0m4 0h0m2 5h0m0-3h0m1-1h0m0 3h0m1 0h0m1-4h0m6 3h0m13 1h0m3-2h0m11 3h0m52-5h0m3 3h0m20-2h0m6 4h0m6-1h0m3-2h0m27 1h0m2 0h0m-271 5h0m3 0h0m1-2h0m4 1h0m2 1h0m9 1h0m5-2h0m10 1h0m0 3h0m4-6h0m3 0h0m0 5h0m6-3h0m12 3h0m5-2h0m0-1h0m17 3h0m0 1h0m6 0h0m8-3h0m6 2h0m3-1h0m15 0h0m0 2h0m1-1h0m0 0h0m0-2h0m1 0h0m0-1h0m4-2h0m3 0h0m1 3h0m2-2h0m6 2h0m1 1h0m2-1h0m1-1h0m37 4h0m33-3h0m25-1h0m36 0h0m5 3h0m-274 6h0m4-2h0m2 3h0m10-5h0m7-1h0m3 3h0m1-2h0m7 3h0m0 0h0m0 0h0m2 1h0m0-4h0m5-1h0m2 5h0m1-5h0m8 1h0m1 1h0m0-1h0m1 0h0m3 3h0m4-3h0m8 3h0m3 2h0m6-1h0m24 0h0m1-1h0m4-2h0m4 2h0m1 1h0m0 0h0m1-5h0m4 3h0m3 2h0m8-4h0m2 2h0m2-1h0m0 0h0m1 2h0m2-2h0m17-2h0m2 2h0m0 0h0m4 0h0m1 0h0m1 4h0m2-1h0m8 1h0m0-5h0m0 2h0m1 2h0m1 0h0m2-2h0m-165 8h0m3 1h0m1-2h0m2 1h0m1-4h0m2 2h0m8 0h0m13-2h0m2 2h0m4 0h0m0-3h0m2 1h0m3 1h0m0 3h0m3 1h0m2-1h0m0-1h0m8 2h0m9-2h0m1 1h0m2-4h0m2 0h0m1 0h0m0 2h0m13 2h0m4-3h0m12 4h0m2-2h0m2-1h0m2-2h0m7 4h0m0-2h0m2-1h0m30 1h0m0-1h0m1 1h0m0-2h0m1 2h0m1 0h0m0 3h0m5-5h0m3 5h0m0-2h0m5 0h0m9 0h0m7-1h0m3 3h0m8-1h0m30-4h0m21 4h0m-191 6h0m4-3h0m7-1h0m2-1h0m3 6h0m0-2h0m0 2h0m20-3h0m0-3h0m3 2h0m2 0h0m4 0h0m3 3h0m23 0h0m1-1h0m22-2h0m4 3h0m0 0h0m8-2h0m6 1h0m8-3h0m1 0h0m1 2h0m1-3h0m0 4h0m0-1h0m1-1h0m0-2h0m2 5h0m8 0h0m24-1h0m20-4h0m18 3h0m-226 6h0m5 2h0m16 1h0m5-1h0m8-5h0m7 2h0m1 1h0m7 0h0m4-2h0m16 2h0m29 1h0m13 0h0m14-2h0m1 2h0m3-2h0m2 1h0m1-3h0m9 2h0m16 4h0m0-5h0m0 5h0m1-3h0m1-3h0m3 2h0m2 2h0m0-2h0m2-2h0m2 5h0m1-3h0m2-2h0m-167 9h0m12 1h0m1 2h0m3-3h0m1 2h0m1-4h0m1 0h0m0 3h0m6 1h0m4 1h0m12-5h0m1 0h0m11 1h0m8 3h0m3-5h0m0 0h0m1 5h0m8-1h0m2-1h0m10 0h0m11-3h0m22 2h0m0 1h0m5 2h0m3-2h0m2 1h0m1-4h0m1 1h0m2 0h0m27 0h0m1 5h0m8-2h0m0 1h0m-154 6h0m16-5h0m3 3h0m0-3h0m0 0h0m8 6h0m3-4h0m2-1h0m0 1h0m18 3h0m14-2h0m5-1h0m22 2h0m4 0h0m13-3h0m2 4h0m0-4h0m0 4h0m1-1h0m5 2h0m6-3h0m0-1h0m1-1h0m0 2h0m8-3h0m5 4h0m1-2h0m1 3h0m1 1h0m14-5h0m-152 7h0m10 0h0m10 0h0m2 1h0m2 1h0m1 2h0m0-2h0m4 0h0m0-1h0m14 1h0m3-3h0m1-1h0m2 1h0m5 2h0m2 1h0m5 1h0m4 0h0m1-4h0m13 1h0m3 2h0m1 0h0m10 2h0m17-5h0m7 3h0m17-1h0m2-1h0m3-1h0m0 5h0m-140 2h0m13 1h0m2 2h0m0-4h0m0 0h0m4 1h0m0 0h0m7 3h0m3-1h0m1 0h0m1-3h0m2 1h0m2-1h0m3 5h0m12-5h0m4-1h0m12 1h0m3 0h0m5 3h0m2 0h0m0 1h0m8-3h0m0 2h0m5-3h0m1-1h0m21 2h0m1-1h0m2 5h0m3-2h0m1 1h0m1-1h0m9 0h0m6-2h0m16 2h0m1-2h0m-151 5h0m2 2h0m1 0h0m1-2h0m11 1h0m13 1h0m19-1h0m1 1h0m0-2h0m4 1h0m12 1h0m5-1h0m3 3h0m0 1h0m2-5h0m1 4h0m1-1h0m3 1h0m10-3h0m2 0h0m0 1h0m15 3h0m0-4h0m3 3h0m0-4h0m2 1h0m0 4h0m3-5h0m1 3h0m5-3h0m2 3h0m5-2h0m0 4h0m29-5h0m-121 9h0m17 1h0m9-4h0m3-1h0m16 0h0m1 3h0m2-3h0m3 2h0m5 1h0m18 2h0m5-3h0m3-1h0m1 4h0m3-2h0m1-1h0m1-2h0m0 3h0m4-3h0m0 5h0m27-1h0m2-2h0m0-1h0m1 1h0m-123 6h0m4 3h0m2-1h0m10-4h0m2 1h0m5 0h0m4 2h0m7 1h0m4 0h0m5-3h0m4-1h0m25 2h0m2 3h0m3-5h0m3 5h0m13-4h0m-92 5h0m8 1h0m2 1h0m56 8h0" stroke="#E2A9B9" stroke-width="4.6" stroke-linecap="round" fill="none"/>
<path d="M331 563h0m-46 3h0m49 2h0m15-3h0m6 2h0m-90 7h0m32-3h0m14 1h0m9 1h0m3-3h0m8 3h0m8-3h0m1 5h0m17-3h0m-96 8h0m1 0h0m2-5h0m2 6h0m5 0h0m17-1h0m4-1h0m14-2h0m3-1h0m3 3h0m10-2h0m16 0h0m4-2h0m-86 12h0m4-4h0m22 3h0m2-5h0m26 2h0m0 4h0m13-5h0m6 0h0m16 1h0m4-1h0m13 2h0m17 3h0m-120 4h0m11 2h0m37-5h0m4 3h0m4-3h0m39 1h0m5 0h0m3 0h0m9-1h0m19-1h0m2 4h0m4 0h0m-142 4h0m0 3h0m16-2h0m25 3h0m15-2h0m9 0h0m7-3h0m8 5h0m0-4h0m11-1h0m3 2h0m11-1h0m3-1h0m16 3h0m4 1h0m4-4h0m2 5h0m2-4h0m0 3h0m17-1h0m-147 7h0m15-2h0m4 1h0m2 2h0m6-5h0m1 1h0m17-2h0m0 3h0m7 0h0m7 0h0m4 2h0m3-3h0m16-1h0m7 2h0m13-1h0m9 3h0m0 1h0m4-2h0m20-2h0m3 2h0m0-4h0m21 5h0m-221 4h0m1 2h0m39-2h0m1 1h0m5 1h0m2-1h0m22-2h0m2-1h0m1 4h0m0-1h0m9-1h0m2-1h0m20 2h0m11 0h0m0 0h0m5-2h0m1 0h0m6 3h0m2 0h0m2-2h0m1 2h0m3 0h0m1 0h0m8-3h0m3-2h0m12 3h0m0-3h0m7 2h0m0-1h0m7 0h0m2 3h0m0-1h0m1 1h0m12-1h0m6-2h0m5-1h0m-206 12h0m15-1h0m3 0h0m0-3h0m14 1h0m2-3h0m10 6h0m2-3h0m12 3h0m21-5h0m49 2h0m0-1h0m5 0h0m13 3h0m3-4h0m1 1h0m21 0h0m3 0h0m26-1h0m16 1h0m3-1h0m9 4h0m1-2h0m2 0h0m-229 8h0m2-2h0m1-3h0m5 6h0m2-3h0m2 0h0m1-1h0m6-1h0m0 5h0m1-3h0m15 2h0m3-1h0m6-2h0m3 1h0m8-2h0m4 1h0m23 4h0m5-6h0m12 5h0m0-3h0m4 3h0m5-1h0m1 0h0m12 1h0m1 0h0m0-3h0m5-2h0m5 3h0m3-2h0m35-1h0m0 3h0m6 0h0m17 2h0m18-3h0m3 1h0m1 2h0m9 0h0m-256 6h0m3 0h0m3-4h0m2 2h0m4 1h0m20-2h0m15 2h0m3-2h0m1 0h0m10 4h0m3-5h0m47 5h0m3-4h0m23 4h0m36-5h0m10 2h0m32-2h0m5 4h0m2 0h0m0-2h0m3-1h0m5-1h0m7 2h0m2-3h0m8 5h0m-248 2h0m3 2h0m4-1h0m4 4h0m1-2h0m2-4h0m1 4h0m18-3h0m1 4h0m9-2h0m9 0h0m13-1h0m5 2h0m15 0h0m14 0h0m2-2h0m63 1h0m9-1h0m1 3h0m0-4h0m5 4h0m5 0h0m13 0h0m24-4h0m5 3h0m6 1h0m3-1h0m0 0h0m1-1h0m0 2h0m22 1h0m-243 0h0m25 0h0m40 5h0m6-1h0m2-1h0m1-2h0m2 3h0m43-3h0m64 3h0m14 0h0m2 1h0m1 0h0m20 0h0m20 0h0m3-4h0m4 3h0m9-3h0m-271 9h0m12-3h0m19 1h0m11-1h0m5 2h0m17 0h0m19 1h0m3 2h0m2-1h0m6 0h0m0-4h0m19 4h0m22-3h0m80-1h0m3 3h0m4-3h0m3 3h0m4-1h0m11 2h0m2-1h0m2-2h0m10 2h0m0-3h0m21 3h0m3 0h0m1-2h0m2 3h0m4 0h0m0-4h0m-289 6h0m101 2h0m88-2h0m11 2h0m28 0h0m9 1h0m1-4h0m6 4h0m3-1h0m0 0h0m6 0h0m4-3h0m-130 9h0m37-2h0m66-1h0m37 6h0m2-4h0m6 2h0m17-4h0m6 5h0m-165 3h0m53 3h0m9-5h0m76 5h0m1-5h0m0 2h0m3 4h0m23-5h0m-187 8h0m93 2h0m3 1h0m1-3h0m2 1h0m6 0h0m2-1h0m5 2h0m5-2h0m4 3h0m33-3h0m0-1h0m2 1h0m1 2h0m5-3h0m-69 8h0m0-3h0m7 3h0m5 0h0m5-1h0m12 0h0m1-2h0m1 4h0m2 0h0m3-3h0m2 2h0m2-1h0m5 1h0m3 1h0m2 0h0m2 0h0m4-1h0m-204 6h0m147-1h0m1-1h0m1 1h0m2-1h0m5 3h0m0-1h0m0-4h0m4 1h0m1 1h0m0-1h0m18 4h0m1-4h0m1 1h0m2 4h0m3-5h0m1 0h0m2 0h0m2 1h0m1 1h0m1 0h0m3 0h0m3-1h0m1-2h0m2 0h0m1 0h0m0 1h0m6 0h0m12 4h0m-161 5h0m42-3h0m35-1h0m12 3h0m0 1h0m0-2h0m1-1h0m1-1h0m0 6h0m3-5h0m1 2h0m6 2h0m17-5h0m2 0h0m2 1h0m2 1h0m1 2h0m1-3h0m1 4h0m6 0h0m2 0h0m0-4h0m3 3h0m3 2h0m3-3h0m7-2h0m5 4h0m22-4h0m-232 10h0m17-1h0m4-1h0m25-1h0m37 3h0m14-1h0m30 1h0m15-1h0m3-3h0m0 5h0m1-5h0m0 3h0m6-1h0m17-1h0m2 4h0m2-4h0m1 3h0m2-4h0m0 5h0m0-2h0m1-3h0m1 2h0m1-1h0m0 3h0m1-4h0m1 1h0m1 1h0m3 2h0m2 0h0m0-2h0m2 1h0m4-4h0m3 3h0m3 3h0m-131 4h0m19-3h0m21 1h0m30 3h0m4 0h0m1 1h0m1-5h0m2 0h0m1 1h0m4-2h0m16 2h0m2 0h0m1 1h0m2 2h0m3-3h0m2 2h0m4-4h0m2 1h0m7 3h0m2-4h0m2 2h0m0 2h0m0-4h0m2 6h0m0-1h0m3-1h0m2 0h0m1-3h0m3 2h0m6 0h0m0-1h0m1-2h0m1 2h0m1 3h0m0-2h0m4 0h0m0 1h0m1-1h0m-157 9h0m5-3h0m33 2h0m37-5h0m4 1h0m3 0h0m1 3h0m0 0h0m20-3h0m1 2h0m0-1h0m6 1h0m1 2h0m1-1h0m0-2h0m1 1h0m1 1h0m2-4h0m1 1h0m0 3h0m1 0h0m9-3h0m2 0h0m2 3h0m4-3h0m1 2h0m2-2h0m1 4h0m15-2h0m6-3h0m-186 8h0m104 2h0m1 1h0m3 1h0m0-2h0m18-1h0m6-3h0m2 6h0m0-4h0m0 4h0m2-1h0m1-3h0m4 2h0m8 1h0m0-3h0m8 1h0m2 0h0m16-2h0m0 0h0m2 5h0m5 0h0m-122 4h0m45-1h0m1-1h0m1-1h0m17 1h0m1 0h0m0 3h0m1-1h0m4 1h0m1-3h0m3 2h0m0 1h0m2-3h0m4 4h0m2-3h0m0 2h0m2-5h0m0 5h0m6-1h0m5 1h0m3 0h0m1-1h0m1-3h0m1 4h0m2-1h0m4-3h0m1 1h0m3 3h0m3 1h0m1-2h0m0-1h0m3 3h0m3-1h0m1-1h0m1 0h0m0 2h0m2-5h0m2 2h0m-216 8h0m149-2h0m1-1h0m3-1h0m2 1h0m2 1h0m0-3h0m2 3h0m0 1h0m4-2h0m1 0h0m1 1h0m0-2h0m2 2h0m5 0h0m1 0h0m5 0h0m4-1h0m1 4h0m4-1h0m1-1h0m1-2h0m0 3h0m0-4h0m0 3h0m1-1h0m4 3h0m2-6h0m7 2h0m1 1h0m7 2h0m2-3h0m1-1h0m0 2h0m1-2h0m0 2h0m0-3h0m1 2h0m-97 4h0m34 4h0m0 1h0m5-4h0m3 3h0m0-3h0m1 4h0m8 0h0m4-2h0m0 1h0m0 1h0m5-1h0m3-2h0m1 3h0m0-2h0m1 2h0m5-3h0m1 2h0m0 1h0m1-4h0m14 4h0m2-3h0m7 1h0m2 3h0m-236 6h0m173-3h0m2 0h0m1-1h0m0 4h0m1-1h0m2-2h0m1 0h0m2 2h0m5 0h0m2-1h0m1 0h0m1-1h0m0 1h0m1-1h0m3 0h0m1-2h0m1 3h0m1-2h0m0 3h0m0-1h0m3-1h0m1-2h0m0 2h0m0 2h0m0 0h0m1-3h0m0-1h0m2 5h0m1-4h0m1-1h0m1 1h0m1 3h0m0-5h0m1 4h0m14-1h0m0 2h0m2-4h0m1 5h0m1-1h0m2-4h0m1 0h0m9 0h0m0 4h0m1-3h0m2-1h0m-57 9h0m1-4h0m3 3h0m1 3h0m2 0h0m2-5h0m3 5h0m2-5h0m2 3h0m0 2h0m26-2h0m6 1h0m0-3h0m5 3h0m1-3h0m-166 5h0m112 5h0m2-4h0m5 0h0m1 3h0m0-5h0m0 1h0m2 0h0m3 3h0m2-3h0m2 1h0m1-1h0m8 4h0m2-1h0m1-1h0m4 1h0m6 0h0m1-2h0m1-2h0m2 6h0m3-5h0m4 4h0m7-1h0m1-2h0m-66 9h0m4-3h0m5 0h0m0 2h0m16-1h0m3-1h0m1 1h0m2 0h0m1-2h0m2 0h0m2 5h0m0 0h0m3-3h0m2 1h0m3 1h0m1 0h0m1-4h0m2 2h0m2 3h0m0 0h0m9-5h0m-57 5h0m5 3h0m27-1h0m7 0h0m0 3h0m1-5h0m2 3h0m1-2h0m4 5h0m2-5h0m0 2h0m0-1h0m0 1h0m1-1h0m0 1h0m1-2h0m0 2h0m1-2h0m-140 10h0m98-4h0m30 0h0m-164 10h0m132-1h0" stroke="#9B77A6" stroke-width="4.6" stroke-linecap="round" fill="none"/>
<path d="M224 580h0m-6 6h0m9-4h0m-11 7h0m18-2h0m-15 8h0m33 0h0m1 9h0m24 27h0m15 1h0m18 3h0m9-3h0m40-2h0m2 0h0m-33 5h0m13 5h0m16-1h0m2-1h0m10 2h0m-99 5h0m6 1h0m26-1h0m4 2h0m20-1h0m41-2h0m4-2h0m-132 10h0m53 1h0m20-2h0m85 2h0m-210 3h0m2-2h0m1 0h0m4 3h0m40-1h0m83 1h0m66 0h0m3 0h0m-222 6h0m3-3h0m37 3h0m47-1h0m51 2h0m19 1h0m27-2h0m3-1h0m16 2h0m8-5h0m15 3h0m-223 5h0m1 0h0m60-1h0m121 0h0m-201 7h0m7 0h0m7 2h0m12-1h0m11-1h0m2 3h0m4-2h0m3 1h0m4 1h0m1-5h0m8 6h0m71-6h0m3 2h0m44 0h0m26 3h0m-196 5h0m9-3h0m1 5h0m9-1h0m4-4h0m2 0h0m14-1h0m3 5h0m49-2h0m9-2h0m26 4h0m74-2h0m2 2h0m-192 1h0m3 5h0m0-5h0m13 1h0m88 2h0m61-2h0m4 1h0m-168 4h0m12 2h0m7 0h0m1 0h0m1 0h0m5-2h0m15 2h0m32 0h0m9 1h0m13 1h0m51-1h0m35-1h0m-196 7h0m9 0h0m3-3h0m3 4h0m3 0h0m69 1h0m48 0h0m42-2h0m20-2h0m-188 9h0m9-2h0m8 2h0m3-3h0m2 3h0m4 1h0m10-3h0m36 3h0m32-5h0m58 0h0m8 6h0m-162 6h0m5 0h0m3-1h0m0-1h0m15-1h0m3-3h0m5 4h0m1-1h0m5 0h0m70-2h0m60 1h0m-160 5h0m11 0h0m7 2h0m11 0h0m1 0h0m18 0h0m0 2h0m40 0h0m47-4h0m4 0h0m1 3h0m2-1h0m3 1h0m0-1h0m0-2h0m10 3h0m11 1h0m-172 5h0m1-3h0m36 0h0m2 2h0m3 2h0m5-3h0m5 3h0m1-1h0m1-4h0m1 4h0m0 0h0m0 2h0m16-5h0m1 3h0m10-1h0m6 2h0m21-3h0m2 3h0m16 0h0m26-2h0m-153 6h0m8 1h0m13-3h0m2 5h0m8-1h0m12 0h0m3-4h0m2 1h0m2 1h0m3-1h0m15 0h0m6 3h0m1 0h0m24-2h0m11 2h0m1 0h0m0 1h0m2-3h0m14 1h0m8 0h0m-120 3h0m11 2h0m7 2h0m24-3h0m1-1h0m8 2h0m57-2h0m9 0h0m8 2h0m5 3h0m-120 1h0m1 0h0m8 5h0m2 0h0m7 0h0m15-4h0m19 2h0m1 1h0m12-3h0m16 3h0m2 0h0m18-3h0m14 3h0m15-1h0m1-2h0m33-1h0m-165 5h0m13 0h0m5 1h0m32 3h0m0 1h0m4-4h0m40-1h0m12 5h0m12-3h0m0 1h0m19 0h0m17-3h0m-121 7h0m4 2h0m5 2h0m5-1h0m5-2h0m1 1h0m16 2h0m2-5h0m2 4h0m2-2h0m13-1h0m9 1h0m9 4h0m35 0h0m4-1h0m15 0h0m2 0h0m11-3h0m-141 10h0m6-1h0m1-4h0m3 3h0m25-2h0m1 0h0m0 3h0m9-2h0m2-2h0m1 3h0m24-1h0m0 0h0m16 1h0m47 2h0m6-4h0m-159 8h0m11-2h0m17 4h0m25-6h0m22 2h0m1 3h0m10-3h0m3 2h0m18 0h0m15-2h0m26 0h0m3 2h0m0-3h0m10 4h0m-148 6h0m21-4h0m1 3h0m11-4h0m40 6h0m4 0h0m16-6h0m17 1h0m23 1h0m1 3h0m6 0h0m13-3h0m-131 7h0m15 1h0m5 1h0m7-5h0m5 3h0m22 3h0m0 0h0m6-1h0m10-2h0m22-2h0m23-1h0m-111 8h0m4 2h0m22 0h0m14-1h0m0 2h0m3-1h0m3 1h0m45-3h0m4 2h0m7 2h0m0-5h0m-103 8h0m6-2h0m15 1h0m6 0h0m5 1h0m20-2h0m10 1h0m16 1h0m5 1h0m14-2h0m1 0h0m-54 9h0m7-1h0m6-3h0m4 1h0m3 2h0m5 0h0m13-3h0m48 1h0m-121 6h0m4-2h0m7 2h0m7 0h0m7 1h0m5-1h0m1-1h0m39 0h0m13 1h0m-81 5h0m4 4h0m58 2h0" stroke="#FFF5CC" stroke-width="4.6" stroke-linecap="round" fill="none"/>
<path d="M336 563h0m-97 5h0m7-4h0m45 5h0m37 0h0m2-4h0m3 0h0m3 0h0m12 1h0m9 2h0m-132 2h0m42 4h0m4 1h0m0-4h0m1 1h0m3 1h0m4 1h0m10-5h0m2 0h0m6 3h0m1 0h0m1 1h0m0 0h0m9 1h0m3-2h0m2 2h0m4-2h0m2 2h0m0-4h0m6 0h0m1 3h0m10 0h0m1-1h0m7-1h0m8-1h0m0 1h0m1 4h0m6-3h0m-133 8h0m35 1h0m1-4h0m0 1h0m5-1h0m5-1h0m3 3h0m3-2h0m8 3h0m0-1h0m1 0h0m3-2h0m0-1h0m1 2h0m7-1h0m8 0h0m1-1h0m3 0h0m0 0h0m3 4h0m8-1h0m11-2h0m3 1h0m4 0h0m1 0h0m5 1h0m5 0h0m4-1h0m4-1h0m0 0h0m3 1h0m3 2h0m-147 5h0m1-3h0m1 0h0m4 1h0m1 3h0m0 0h0m2 0h0m0 0h0m1-2h0m1 1h0m7-1h0m25 1h0m2-4h0m3 1h0m8 1h0m0 1h0m2-2h0m6 0h0m6 2h0m0 0h0m19 2h0m2-1h0m1-2h0m2 1h0m3 0h0m5 1h0m2-1h0m15-3h0m1 4h0m7-1h0m0 0h0m1 1h0m1 0h0m0-2h0m2-1h0m1 4h0m1-1h0m9 1h0m13-4h0m0 3h0m-166 3h0m9 0h0m6 5h0m7 0h0m2-1h0m24 0h0m0-2h0m1-2h0m3 2h0m14 0h0m1 0h0m5-3h0m3 5h0m3-3h0m3 0h0m1 0h0m1 4h0m6-2h0m10-3h0m0 0h0m1-1h0m0 1h0m1 4h0m2 1h0m0 0h0m4 0h0m6-4h0m0 0h0m4 0h0m14 3h0m8-4h0m3 1h0m2 1h0m6-1h0m1 1h0m3 2h0m4 0h0m1 1h0m1-3h0m2-2h0m9 2h0m21 2h0m4-1h0m-185 2h0m35 4h0m12 0h0m1 0h0m3 2h0m11-1h0m2-2h0m5-1h0m1 1h0m0-2h0m9 1h0m0 3h0m7 0h0m6 1h0m2-1h0m0-3h0m2 4h0m0-6h0m6 4h0m2 0h0m0-1h0m4-1h0m1 3h0m2-2h0m1 3h0m0-4h0m9 3h0m2-1h0m5 1h0m5 0h0m2-4h0m2 3h0m2-1h0m1 0h0m2 1h0m2 0h0m0-1h0m5 3h0m9 0h0m1-6h0m2 3h0m1-1h0m1 0h0m13 3h0m0-4h0m9 0h0m1 0h0m11 4h0m-164 4h0m0 1h0m2-2h0m12 1h0m2 2h0m4-4h0m2 5h0m2-2h0m14-4h0m3 3h0m2 2h0m1 0h0m12-5h0m1 5h0m1-2h0m1-3h0m6 3h0m0-2h0m0 3h0m1-2h0m3 2h0m0-1h0m0-1h0m16 2h0m1-3h0m1 0h0m8 2h0m2-2h0m3-1h0m1 2h0m1 2h0m5-1h0m2 0h0m2-1h0m0 0h0m1 2h0m2-1h0m2 2h0m2-2h0m4 3h0m0-2h0m1 1h0m9-4h0m2 3h0m12-3h0m22 1h0m3 3h0m-229 5h0m2-1h0m37 3h0m5-2h0m16 0h0m3 0h0m1 1h0m6-4h0m1 0h0m8 4h0m1-1h0m3-2h0m4 2h0m1 2h0m2-3h0m7-1h0m1 1h0m3 2h0m8-2h0m2-2h0m3 1h0m4 0h0m0 3h0m2-1h0m2 0h0m8 1h0m2-3h0m0 2h0m3-3h0m1 5h0m4-4h0m0 2h0m17-1h0m8 1h0m2-1h0m2 0h0m1-3h0m3 1h0m0 1h0m8-1h0m0 5h0m1-3h0m3-2h0m4 2h0m5-2h0m8 1h0m2 4h0m14 0h0m-218 2h0m21-2h0m3 3h0m0 2h0m1 0h0m1 0h0m6 0h0m4-2h0m0 1h0m1-1h0m3 2h0m5-2h0m4-1h0m4-2h0m2 5h0m5-3h0m26-2h0m1 2h0m3 0h0m0-1h0m5 1h0m0 2h0m6-4h0m10 3h0m1 2h0m0-4h0m5 1h0m3-2h0m0 0h0m2 3h0m0 1h0m5 2h0m3-1h0m4 0h0m1-4h0m10 1h0m4 0h0m20-2h0m2 6h0m7-6h0m24 3h0m1 0h0m2 2h0m2-4h0m8 1h0m1 3h0m1-1h0m1 0h0m0 1h0m8-3h0m-228 9h0m0-2h0m2 3h0m4-1h0m3-3h0m4 3h0m6-1h0m1-2h0m0 2h0m4-4h0m1 1h0m0 1h0m1 3h0m0 1h0m1-4h0m1 2h0m3 0h0m5-2h0m1-1h0m3 2h0m1 2h0m5-2h0m19-2h0m4 3h0m3-1h0m20 1h0m1 1h0m9-2h0m1-2h0m2 4h0m3 1h0m3-1h0m0-3h0m2 2h0m3 1h0m4-3h0m11 2h0m3 0h0m1 1h0m2-1h0m1-4h0m2 4h0m4 1h0m3-3h0m2 0h0m4 0h0m2 1h0m0-1h0m3 4h0m11-3h0m3 0h0m2-1h0m7 4h0m15-2h0m10-1h0m0 0h0m0-1h0m15 1h0m1-2h0m1 2h0m5 0h0m2-2h0m-259 9h0m2 0h0m4 1h0m3-1h0m21 1h0m6-4h0m1 4h0m3-5h0m6 4h0m4 1h0m11 1h0m1-3h0m0 2h0m8-3h0m4 0h0m38 3h0m5-5h0m1 3h0m2 2h0m2-2h0m4 3h0m0-3h0m6 0h0m1-2h0m1 2h0m1 1h0m7-3h0m0 5h0m7-1h0m2-3h0m3-1h0m2 3h0m2 1h0m4-2h0m2 2h0m3-4h0m0 1h0m3 3h0m2-2h0m2 1h0m1 0h0m0 1h0m6-2h0m3 0h0m2-2h0m4-1h0m1 5h0m1 1h0m5-2h0m1 1h0m1 0h0m2-4h0m3 2h0m17 3h0m6-3h0m1 0h0m3 2h0m1-4h0m3 1h0m14 2h0m-241 3h0m1 3h0m4-1h0m17-1h0m2-2h0m22 2h0m3 0h0m3 2h0m2-3h0m1 1h0m4 0h0m4 0h0m3 2h0m2 1h0m3-1h0m1-2h0m3 3h0m8-1h0m3 0h0m0 2h0m6-5h0m14 0h0m2 2h0m1-3h0m1 3h0m2 0h0m6 2h0m1-3h0m0 3h0m1-4h0m5 5h0m1-3h0m1-1h0m3-1h0m2 0h0m0 1h0m2 2h0m2-1h0m2 2h0m0-4h0m0 0h0m4 5h0m1-3h0m2 2h0m14-1h0m3-2h0m3 0h0m0 0h0m7-2h0m9 2h0m11 3h0m3-4h0m0-1h0m22 2h0m5 0h0m3-1h0m0 4h0m2-1h0m22 1h0m4 0h0m3-1h0m-255 4h0m2-1h0m28-1h0m1 3h0m3-2h0m17 0h0m0 1h0m3-1h0m1 1h0m1 0h0m5 0h0m0 4h0m5-3h0m1-1h0m0 0h0m3-1h0m2 1h0m5-1h0m0 0h0m3 0h0m2 5h0m26-3h0m1-1h0m0 4h0m3-2h0m2-2h0m4-1h0m7 5h0m0-2h0m0 1h0m1-3h0m0 2h0m3 2h0m5 0h0m7 0h0m3 0h0m1-4h0m7-1h0m6 0h0m8 0h0m1 5h0m0-3h0m4 3h0m1-3h0m4 3h0m0-2h0m0-3h0m1 4h0m3 1h0m5-5h0m4-1h0m0 4h0m3-2h0m0 4h0m1-4h0m3 0h0m4 0h0m0 2h0m3-4h0m1 3h0m2 0h0m5 3h0m4-1h0m4-1h0m20 1h0m0 1h0m2 0h0m5 0h0m1-1h0m1-1h0m2 1h0m4-2h0m-268 8h0m15-4h0m20 0h0m22 2h0m1-2h0m1 0h0m2 2h0m6 0h0m3 2h0m5-2h0m8 0h0m9-1h0m5-2h0m6 2h0m11-1h0m2 4h0m4-5h0m1 1h0m1 3h0m0 1h0m4-3h0m0 0h0m1 0h0m1 4h0m2-4h0m6-1h0m2 1h0m0 0h0m0 2h0m0-2h0m2-1h0m0 0h0m5 5h0m2-5h0m1 5h0m3-5h0m0 2h0m4 2h0m5-4h0m14 2h0m2-2h0m4 1h0m2 3h0m0-3h0m2-1h0m6 4h0m4-2h0m1 1h0m5-4h0m0 6h0m0-1h0m0 0h0m1-1h0m7-2h0m2-2h0m0 1h0m3 1h0m1-1h0m0 4h0m1 1h0m4-1h0m1-5h0m6 3h0m3-1h0m6 2h0m1 0h0m0-1h0m1 0h0m1 2h0m0-3h0m46 4h0m6-5h0m0 1h0m-258 9h0m38-2h0m1 0h0m3-2h0m14 4h0m8-4h0m0 1h0m6 3h0m6 0h0m3-2h0m5 3h0m3-6h0m5 2h0m1 2h0m0 1h0m3-2h0m0-1h0m5 4h0m2-3h0m1 0h0m3 2h0m1-2h0m0-2h0m2 1h0m3 0h0m1 0h0m4 2h0m1 1h0m3 0h0m1 1h0m3 0h0m2-2h0m4 1h0m3-1h0m6 1h0m1-4h0m2 2h0m9 0h0m1-1h0m0-1h0m3 3h0m0 1h0m0-2h0m3 3h0m2-2h0m4-1h0m0 1h0m2-4h0m1 1h0m1 4h0m3-2h0m4-2h0m0 4h0m1 0h0m3-4h0m4 3h0m3-1h0m0 1h0m0-3h0m0 1h0m1 0h0m1-2h0m1 4h0m0-3h0m6 3h0m0 1h0m1-2h0m1 2h0m3 0h0m3-3h0m9 3h0m44-2h0m-280 9h0m15-3h0m4 1h0m6-2h0m2 3h0m1 0h0m32-4h0m3 1h0m4 1h0m0 2h0m1-3h0m2-1h0m1 0h0m1 2h0m0 1h0m1-4h0m2 0h0m3 0h0m2 1h0m2-1h0m5 1h0m12-1h0m1 2h0m2 0h0m0-2h0m1 6h0m2-6h0m3 5h0m3-1h0m1 0h0m0-4h0m0 2h0m1 3h0m0-2h0m1-1h0m0 4h0m2-6h0m4 2h0m2 1h0m0 1h0m1 0h0m0 1h0m2 0h0m2 0h0m1-4h0m6-1h0m0 3h0m1 0h0m0 0h0m1 0h0m0 1h0m0 1h0m1-4h0m6 4h0m1-1h0m2-3h0m2 4h0m0-3h0m5 0h0m1 2h0m4 1h0m0-2h0m3-3h0m0 5h0m0 1h0m0-2h0m1-1h0m0-1h0m1 2h0m0-1h0m1 3h0m3-1h0m8 1h0m4-5h0m2 1h0m2-1h0m2 2h0m3 1h0m3-1h0m0-2h0m4 0h0m3 0h0m0 2h0m2-2h0m0 2h0m2 1h0m11-1h0m0-2h0m3 0h0m1 1h0m1 2h0m1-2h0m3 3h0m1 0h0m3-3h0m1-1h0m3 3h0m2 0h0m1-4h0m1 4h0m48-1h0m2 0h0m1-3h0m4 5h0m-283 7h0m3-2h0m18-4h0m6 1h0m0 1h0m2 2h0m3-1h0m24-1h0m2 4h0m2 0h0m7-2h0m2 1h0m1-1h0m1-2h0m3-2h0m2 5h0m18 0h0m2-3h0m6 4h0m0-5h0m2 2h0m2 0h0m6-3h0m5 5h0m1-5h0m2 1h0m0 0h0m0 1h0m3-1h0m0 2h0m3-1h0m1-1h0m0 4h0m1-2h0m2-2h0m1 4h0m0-2h0m7-2h0m0-1h0m2 5h0m0-4h0m2 4h0m2-3h0m1 4h0m4-3h0m1 1h0m1-2h0m0 0h0m2-1h0m0 4h0m0-3h0m2 2h0m0-1h0m2 2h0m6-3h0m1 1h0m4-1h0m0 1h0m2 0h0m2-2h0m1 3h0m0-3h0m2 3h0m5 0h0m1-1h0m1-2h0m1-1h0m5 0h0m18 2h0m1 2h0m0-1h0m5-3h0m1 0h0m4 3h0m5 1h0m0 1h0m1-1h0m0-4h0m35 4h0m0-2h0m21 2h0m1-3h0m0 0h0m-285 5h0m7 4h0m26-3h0m0 3h0m35-3h0m1-1h0m0 4h0m2-2h0m1 1h0m16-1h0m2 0h0m3 1h0m0 1h0m2 1h0m0-1h0m1-1h0m0 1h0m2 2h0m0-3h0m1 0h0m1-3h0m4 1h0m1 2h0m0-2h0m0 5h0m0-3h0m1 2h0m2-2h0m1 1h0m0-1h0m1 1h0m4-1h0m3 3h0m4-2h0m2-3h0m7 4h0m8 0h0m9-3h0m0 3h0m0-5h0m1 4h0m5 0h0m7-4h0m2 1h0m0 1h0m0 0h0m2 3h0m0 1h0m1-1h0m4-3h0m8 0h0m6-2h0m6 6h0m7-4h0m4 0h0m5 0h0m2 0h0m5 0h0m3 1h0m1 0h0m6 2h0m63-5h0m2 3h0m-302 9h0m36-2h0m3 1h0m22 0h0m2 0h0m14-4h0m3 5h0m0-5h0m3 1h0m2-2h0m1 3h0m1-2h0m6 3h0m2 2h0m8-6h0m5 1h0m1 2h0m1-1h0m0-2h0m0 2h0m1 2h0m0-2h0m0-1h0m1 4h0m2 0h0m4 0h0m1-2h0m7-3h0m1 1h0m4-1h0m4 3h0m3 0h0m0 0h0m3-3h0m1 4h0m1-4h0m1 1h0m5 4h0m2-5h0m6 4h0m1-4h0m1 5h0m0-1h0m1-1h0m1 1h0m0-1h0m1-3h0m3 3h0m1-1h0m0-1h0m0 3h0m4-1h0m1 1h0m1-2h0m1-1h0m0 1h0m2-2h0m1 0h0m2 4h0m2 2h0m2-3h0m1 3h0m9-4h0m1 3h0m0-2h0m2 1h0m1 1h0m6-2h0m20 3h0m25-4h0m60 0h0m2 1h0m-315 8h0m4 0h0m6-5h0m4 3h0m7 0h0m12 2h0m4-3h0m5 0h0m2 3h0m3-1h0m0 0h0m4 2h0m15-4h0m0 3h0m2 0h0m2 0h0m21-3h0m5 0h0m6 0h0m4 2h0m0-3h0m1 3h0m1 1h0m2-2h0m0 2h0m8-2h0m6 2h0m1-4h0m1 5h0m0-4h0m2-1h0m0 2h0m5 2h0m0 0h0m13 1h0m8-6h0m2 5h0m0 1h0m2-4h0m1 3h0m1-4h0m1 5h0m0-1h0m13 0h0m0 1h0m1-1h0m1-3h0m1 1h0m5 2h0m2-1h0m1-1h0m2-1h0m5 4h0m5-4h0m1 2h0m0-1h0m2-2h0m1 2h0m4 0h0m2 1h0m6 2h0m67-2h0m23 0h0m-284 6h0m2 2h0m1-1h0m0-2h0m1 3h0m1-4h0m3 1h0m0 2h0m4-2h0m4 0h0m1-1h0m8-1h0m20 0h0m26 1h0m5 1h0m1-2h0m1-1h0m0 4h0m0 1h0m0-5h0m1 4h0m2-3h0m1 0h0m1 3h0m1 1h0m0-1h0m2-1h0m2 1h0m4-3h0m2-1h0m3 3h0m1 2h0m7-3h0m2 1h0m0 3h0m1 0h0m3-3h0m3-2h0m3 0h0m1 4h0m3-2h0m2 2h0m1-1h0m2-3h0m1 4h0m1-3h0m2 0h0m1 2h0m0 2h0m7-5h0m1 1h0m1-2h0m3 2h0m1 2h0m1-1h0m3 2h0m3 0h0m3 0h0m0-1h0m1-1h0m5-1h0m0 0h0m1-1h0m4 1h0m2-1h0m0-1h0m5 2h0m3 0h0m0 1h0m1 1h0m0-2h0m2-2h0m1 4h0m2-3h0m70 1h0m10 2h0m1-1h0m0-2h0m1 2h0m6-3h0m15 2h0m1 3h0m0-3h0m0-1h0m5-1h0m-297 8h0m1 0h0m1 1h0m1-2h0m0 0h0m3-1h0m1 6h0m8-1h0m1 0h0m3-1h0m2-2h0m2 0h0m5 1h0m0 1h0m4 0h0m32-4h0m1 5h0m0-2h0m10-2h0m1 1h0m1-1h0m4 1h0m8-2h0m0 3h0m0-2h0m3 4h0m0-2h0m1 1h0m6-1h0m3 0h0m3 0h0m2-3h0m2 2h0m12 3h0m0-5h0m1 1h0m3 1h0m4 2h0m1 2h0m1-4h0m2 0h0m1 4h0m1-2h0m0 0h0m1-4h0m0 3h0m0-2h0m1 3h0m4 1h0m0-4h0m2 4h0m4-2h0m2 1h0m3 1h0m2-2h0m0 2h0m1 0h0m2-1h0m0 1h0m0-4h0m1 3h0m1-3h0m1 3h0m0-1h0m2 0h0m0 3h0m0 0h0m1-1h0m0-3h0m5 1h0m2 1h0m3-3h0m1 5h0m3-4h0m1-1h0m1 3h0m3-1h0m8 1h0m0 1h0m2-4h0m2-1h0m1 6h0m15-5h0m3 0h0m21 3h0m3 2h0m27 0h0m1-1h0m6-3h0m23-1h0m-301 9h0m7 1h0m1-1h0m4-3h0m15 5h0m2-2h0m6-4h0m31 2h0m1 2h0m0-3h0m1 2h0m0 0h0m0-1h0m1 2h0m9 1h0m4 0h0m4-3h0m1 0h0m7 2h0m3 0h0m6 1h0m1-1h0m8 0h0m2-2h0m6 4h0m10-1h0m0-4h0m2 1h0m0 4h0m1-6h0m0 2h0m1 2h0m2-1h0m1 1h0m0 1h0m7-3h0m1 1h0m0 1h0m3-1h0m1-2h0m1 1h0m1 2h0m3 1h0m1-3h0m2 1h0m2-2h0m2 5h0m0-1h0m2-4h0m3 0h0m3-1h0m7 2h0m3 2h0m0 1h0m2-1h0m3 0h0m9-1h0m0 2h0m0-5h0m0 2h0m0 0h0m1 1h0m0 0h0m0-2h0m4 2h0m1 1h0m1-2h0m1 2h0m1 1h0m1 0h0m3-2h0m6 1h0m31-1h0m3 0h0m-241 4h0m1 0h0m16 3h0m1 0h0m1 1h0m0 1h0m14-2h0m10 0h0m1-2h0m18 1h0m12-1h0m0-1h0m2 1h0m1 0h0m1 1h0m1 2h0m3-3h0m0 0h0m9-1h0m0 3h0m1-4h0m1 5h0m6-2h0m5 1h0m3-2h0m3 1h0m0 0h0m5-1h0m0 3h0m4-5h0m0 1h0m2 1h0m4 2h0m2 0h0m3-2h0m1 2h0m2 0h0m2-4h0m1 5h0m1 1h0m11-1h0m0-1h0m6-2h0m0 3h0m1-3h0m2 2h0m3 0h0m7 1h0m0-5h0m2 3h0m2 3h0m2-3h0m1 0h0m1-2h0m3 0h0m1 0h0m1 0h0m1 3h0m3 1h0m3-1h0m1-2h0m1 3h0m1-4h0m1 1h0m2 2h0m3 0h0m4-1h0m0 0h0m45-1h0m36-1h0m2 1h0m-270 5h0m1 4h0m4-2h0m1 2h0m5-4h0m12 0h0m10 0h0m20 4h0m8-5h0m11 2h0m17 0h0m1-1h0m17 1h0m2-2h0m0 1h0m1 0h0m5-1h0m9 1h0m12 2h0m0 0h0m0 2h0m0-4h0m1 1h0m6 1h0m1 2h0m1-4h0m1 4h0m3-5h0m2 3h0m4 0h0m5 1h0m1 1h0m1-4h0m0 3h0m1-1h0m0-1h0m0 4h0m2-3h0m2-1h0m1-1h0m4 3h0m3-3h0m2 0h0m3 0h0m1 2h0m1-3h0m2 3h0m1 1h0m0-2h0m0 3h0m2-1h0m1 2h0m3-6h0m28 4h0m3-2h0m-229 4h0m8 3h0m6-1h0m7-1h0m5 0h0m8 4h0m0-3h0m1 4h0m7-1h0m17-1h0m7-2h0m12 1h0m7 1h0m25 1h0m16 1h0m14-5h0m9 2h0m0 0h0m3-2h0m2 0h0m2 3h0m3 1h0m1-3h0m4 2h0m1 2h0m1-5h0m1 1h0m5 1h0m4 2h0m1-3h0m0-1h0m2 1h0m2-2h0m7 6h0m1-4h0m0 0h0m0-2h0m2 2h0m1 2h0m0-4h0m28 3h0m24-1h0m15 1h0m20 2h0m1-3h0m-258 9h0m6-1h0m19 1h0m9-5h0m1 5h0m2-1h0m3 1h0m4 0h0m4-1h0m14-2h0m1 0h0m1 3h0m0-2h0m12 3h0m5-2h0m11-1h0m2 1h0m0-4h0m2 4h0m10-2h0m8 2h0m1 1h0m3-1h0m19-2h0m2 0h0m2-1h0m13 5h0m1-2h0m3 0h0m0-3h0m5 4h0m1 0h0m4-3h0m19 3h0m63-1h0m-262 5h0m1 1h0m4-1h0m5-2h0m8 1h0m4 3h0m3-2h0m9-1h0m2 2h0m1-1h0m1 1h0m2 1h0m1 0h0m1-3h0m0 3h0m3-3h0m1 2h0m0 0h0m5-2h0m0 0h0m10 0h0m4-2h0m3 5h0m1-5h0m7 4h0m0-1h0m3 1h0m0-4h0m1 3h0m1 1h0m1 1h0m0 1h0m3-2h0m0-4h0m1 5h0m2 0h0m1-2h0m2 2h0m3 0h0m5-2h0m2-1h0m4-1h0m5 1h0m0 1h0m3-3h0m10 0h0m0 5h0m1 0h0m3-3h0m17 2h0m0 2h0m55-3h0m21 2h0m4-2h0m13-2h0m11 0h0m-243 9h0m6 0h0m5 0h0m2-2h0m4 0h0m1 3h0m2-5h0m6 1h0m18 1h0m0 1h0m8-2h0m1 5h0m4-5h0m4 1h0m6-1h0m1 0h0m13 2h0m2 2h0m4-2h0m5-2h0m7 4h0m11-1h0m3-4h0m1 6h0m1-6h0m0 6h0m3-5h0m3 2h0m2 1h0m0-3h0m1 5h0m2-2h0m1 2h0m5 0h0m3-2h0m14-2h0m28 4h0m37-3h0m2-1h0m16 3h0m4-1h0m33-2h0m-268 5h0m16 3h0m5-2h0m2 1h0m5-3h0m3 2h0m0 4h0m1-1h0m6 1h0m0-2h0m4-1h0m3-3h0m2 0h0m1 3h0m0-2h0m1 2h0m4 1h0m5-3h0m12 3h0m1 1h0m2-5h0m4 3h0m8-3h0m16 4h0m1 2h0m4-4h0m3 1h0m1-2h0m5 0h0m8 4h0m0 1h0m4 0h0m0-4h0m0 3h0m2-4h0m4-1h0m0 0h0m2 2h0m2 1h0m10-1h0m4 0h0m4 2h0m2-1h0m0-1h0m3 1h0m3 3h0m1-3h0m2-2h0m2 0h0m8 0h0m33 0h0m21 3h0m7-4h0m-235 9h0m7 1h0m2 1h0m3-1h0m1 2h0m5-4h0m11-1h0m7 3h0m5-2h0m4 1h0m7 0h0m3-3h0m5 1h0m13 5h0m1-3h0m1 3h0m17-5h0m4 1h0m4-1h0m3 2h0m5-2h0m5 1h0m1-2h0m2 3h0m1-1h0m1 4h0m5-3h0m6 0h0m4-1h0m14 4h0m5-6h0m4 0h0m3 5h0m7-1h0m2-3h0m0 2h0m5 0h0m1 0h0m2 1h0m1 0h0m2-1h0m3-1h0m73-1h0m5 1h0m-250 5h0m4 2h0m26 0h0m10-1h0m1 3h0m2-5h0m2 4h0m3 2h0m6-1h0m5-4h0m2 0h0m1 4h0m2 0h0m11-1h0m1 1h0m3 0h0m0-3h0m1 2h0m0 1h0m2-3h0m3 4h0m3-2h0m2 0h0m3 1h0m16 1h0m5-1h0m24 1h0m8-4h0m6 0h0m7 3h0m3-1h0m2-2h0m3 1h0m0-2h0m1 3h0m0 1h0m6-2h0m1 2h0m7-2h0m1 1h0m29-1h0m-202 7h0m1-2h0m2 0h0m25 3h0m3-4h0m4 2h0m5-2h0m1 0h0m3 4h0m5-5h0m5 2h0m1 3h0m9-2h0m1-1h0m0 3h0m0-2h0m6 1h0m26-1h0m7-1h0m22 3h0m3-2h0m0-2h0m4 3h0m2-2h0m1 2h0m2-1h0m3-1h0m1 2h0m10-3h0m7 0h0m1 2h0m2 2h0m2-1h0m1-1h0m1-3h0m1 3h0m58 1h0m-223 3h0m23 4h0m2-2h0m1 0h0m1 2h0m1-3h0m0 0h0m1 2h0m2-3h0m2 3h0m0-1h0m2-1h0m0-1h0m0 1h0m10 2h0m7 1h0m11-4h0m1 1h0m0 4h0m1-3h0m1 1h0m12-2h0m1 2h0m1-4h0m7 6h0m1-3h0m35 0h0m1 2h0m7 1h0m5-6h0m20 6h0m5-2h0m-144 6h0m2-3h0m0 5h0m0-2h0m9 1h0m2-1h0m1-1h0m1-1h0m4 1h0m0 1h0m7 0h0m4 0h0m1-1h0m1-2h0m2 0h0m2 0h0m7 0h0m9 0h0m10 3h0m1 0h0m4-2h0m1-1h0m1-1h0m0 0h0m2 0h0m2 0h0m7 6h0m25-4h0m1 0h0m3 2h0m6 2h0m6-4h0m1 1h0m7-2h0m4 4h0m0 0h0m6 0h0m2-2h0m1-2h0m7 1h0m1 1h0m-146 4h0m10 4h0m9-2h0m0 0h0m1 3h0m0-5h0m8 4h0m2 0h0m10-3h0m6 3h0m6 0h0m14 1h0m14-5h0m8 1h0m17 1h0m1-1h0m2 0h0m1 0h0m1 2h0m2 1h0m0-4h0m17-1h0m3 4h0m2 1h0m0-3h0m1-1h0m1 1h0m-129 5h0m3 3h0m0 0h0m2 0h0m2-2h0m3 1h0m1-1h0m3 0h0m1-2h0m1 1h0m4 0h0m1 3h0m3-1h0m17-1h0m2 3h0m5-4h0m9-1h0m0 3h0m4 0h0m0 0h0m0-2h0m1 0h0m7 0h0m5 2h0m6 0h0m18-3h0m2 1h0m1 3h0m2-3h0m3 1h0m4 3h0m1-1h0m3-2h0m3 3h0m4 0h0m1 1h0m1-5h0m-138 8h0m0-2h0m1 4h0m35-4h0m2 1h0m1-2h0m16 1h0m1 1h0m4 1h0m21 1h0m4-1h0m5-1h0m1 3h0m4-3h0m1 3h0m14-4h0m10 3h0m1 0h0m2 0h0m1-1h0m4-3h0m2 3h0m2-2h0m23 2h0m4-2h0m-123 11h0m1-2h0m11 1h0m1-5h0m1 3h0m0 2h0m5-4h0m2 4h0m6-2h0m4 0h0m10-3h0m1 3h0m2 2h0m5-2h0m1 1h0m5 0h0m2-1h0m1 0h0m0-3h0m4 4h0m1 1h0m14-1h0m1 0h0m4 1h0m0 0h0m1 0h0m1-4h0m1 3h0m2 0h0m7-4h0m1 4h0m0 1h0m3-2h0m0 1h0m0-2h0m26 1h0m1-1h0m0 2h0m0-2h0m1 1h0m0 2h0m-128 4h0m6 1h0m2 0h0m0 1h0m6-1h0m3-1h0m17-2h0m3 2h0m2 1h0m2-3h0m35 0h0m10 2h0m0 1h0m2-2h0m0-1h0m0 3h0m7-3h0m31 1h0m-120 5h0m1 0h0m1 2h0m2-2h0m5 0h0m-9 6h0" stroke="#E2A9B9" stroke-width="4.6" stroke-linecap="round" fill="none"/>
<path d="M287 565h0m38 2h0m8-2h0m0-1h0m2 2h0m-68 5h0m14 2h0m7 2h0m6-1h0m25 0h0m33-2h0m4-1h0m1 2h0m-94 8h0m9-2h0m2-3h0m20 1h0m22 2h0m8 1h0m5 1h0m22-4h0m14 2h0m4 1h0m-112 6h0m12-3h0m1 0h0m13 2h0m15-3h0m7 3h0m2 0h0m10 1h0m8-5h0m5 2h0m4 2h0m0 1h0m20-3h0m23 1h0m-62 8h0m28 1h0m6-1h0m0-4h0m26 4h0m1 0h0m5 0h0m9 0h0m2-4h0m10 2h0m-121 8h0m3-1h0m11 1h0m11-1h0m0-3h0m8 4h0m14-4h0m1 1h0m15-1h0m2 4h0m3-3h0m29 2h0m5-2h0m0 3h0m13-2h0m2 0h0m0-3h0m-127 11h0m11-2h0m6 0h0m3 1h0m2 2h0m0 0h0m17 0h0m5-5h0m3 4h0m2 0h0m4-1h0m4 1h0m2-3h0m8 1h0m1 3h0m2-3h0m12-1h0m4 3h0m20-5h0m1 4h0m4-1h0m1 0h0m2 1h0m2 0h0m0-3h0m2 3h0m1-4h0m0 5h0m1-5h0m2 5h0m5-4h0m8 1h0m-208 10h0m48 0h0m33-5h0m14-1h0m0 6h0m10-3h0m8 3h0m11-4h0m6-1h0m4 1h0m3 2h0m1-4h0m3 3h0m1 2h0m1-2h0m5 0h0m11 3h0m4-6h0m2 4h0m3-1h0m10 1h0m0-2h0m5-2h0m40 1h0m1 2h0m-195 7h0m3 0h0m10-2h0m5-2h0m0 1h0m0 4h0m3 0h0m8-5h0m48 2h0m1 2h0m7-3h0m2 0h0m3 4h0m4-5h0m3 3h0m5-1h0m5 4h0m2-4h0m26-1h0m31 4h0m19-3h0m9 4h0m-227 4h0m11-2h0m3-1h0m2-1h0m1 0h0m14 1h0m4 4h0m2 0h0m14-3h0m10 1h0m0 2h0m5 1h0m14-2h0m1-3h0m1 3h0m3-1h0m20 1h0m6 0h0m4-2h0m26 3h0m34-1h0m9 1h0m22 0h0m1-1h0m8 1h0m0-2h0m0-2h0m5 3h0m2-2h0m1 4h0m-251 5h0m0-4h0m0 0h0m26 1h0m13 3h0m9-5h0m7 6h0m4-1h0m2-4h0m1 3h0m0-2h0m3 2h0m51-2h0m7-2h0m9 2h0m23-1h0m3-1h0m39 2h0m23 1h0m5 0h0m4 3h0m-232 0h0m0 0h0m5 4h0m1 0h0m2 2h0m1-5h0m0 0h0m1 4h0m2 0h0m20-1h0m4-4h0m1 3h0m0 2h0m4 0h0m20-5h0m6 5h0m1-1h0m12-3h0m2 2h0m11 1h0m4-2h0m32 0h0m0 3h0m99-3h0m2-1h0m5-1h0m24 4h0m9 1h0m-262 2h0m0 5h0m1 0h0m0-3h0m0-3h0m1 3h0m1-2h0m18 0h0m69 0h0m0 1h0m114-1h0m1 2h0m0-2h0m13 2h0m5 1h0m4-1h0m24 1h0m1 0h0m14 2h0m-277 5h0m54-2h0m0-2h0m12 4h0m1-1h0m1 0h0m0-3h0m26 5h0m1-3h0m1-3h0m3 4h0m98-2h0m20 1h0m0 0h0m2 0h0m0-2h0m1 0h0m0 4h0m3-3h0m1-1h0m7 0h0m4 0h0m3 3h0m4 1h0m35-2h0m4-1h0m-283 5h0m1 0h0m3-1h0m119 2h0m5-1h0m1 0h0m43 3h0m53 0h0m3-2h0m4-1h0m15 3h0m1-1h0m1-1h0m20 3h0m22-5h0m1 2h0m-125 9h0m16-1h0m15-2h0m13 1h0m7 2h0m47 0h0m7 0h0m3 0h0m1 0h0m19-4h0m-188 10h0m96-4h0m17 4h0m47-2h0m2-2h0m0 3h0m1-4h0m1 2h0m3 1h0m22-1h0m-213 6h0m74 2h0m30-2h0m18 2h0m3-1h0m10 0h0m3 1h0m2 1h0m4-2h0m40-3h0m2 5h0m1-1h0m33-1h0m1 1h0m-229 8h0m11-1h0m62 0h0m14-2h0m42 3h0m4-6h0m1 0h0m2 0h0m2 3h0m1-1h0m2 2h0m2 0h0m1-2h0m1 2h0m0 0h0m2-2h0m5-1h0m0 0h0m1 2h0m9 1h0m3-1h0m1 0h0m2 3h0m2-3h0m0 2h0m10-1h0m-129 6h0m62-1h0m25-2h0m0-1h0m2 0h0m19 1h0m1 4h0m3-3h0m0 0h0m3 0h0m0 1h0m1 0h0m5 2h0m1-1h0m1-2h0m0-1h0m0 1h0m1 4h0m0-2h0m1-4h0m4 6h0m1-2h0m0-3h0m39 5h0m-191 3h0m56 1h0m21-2h0m25 1h0m3-1h0m0 2h0m2 0h0m1-1h0m22-3h0m1 3h0m1 2h0m0-3h0m10 3h0m0-1h0m1-3h0m1 2h0m4-2h0m6 4h0m0-3h0m2 3h0m6-2h0m7 2h0m27 0h0m-177 3h0m80-1h0m3 0h0m2 0h0m1 4h0m0-5h0m1 3h0m0-1h0m1 2h0m4-1h0m15 1h0m4 0h0m2 0h0m4 0h0m4-3h0m6 3h0m1-3h0m1 4h0m2-2h0m4 3h0m2-2h0m10 2h0m1-5h0m3 1h0m2-1h0m1-1h0m-214 9h0m13 2h0m19-4h0m17 2h0m36 3h0m7 0h0m19-2h0m4 1h0m26-4h0m0 2h0m1 2h0m0 0h0m4-2h0m19 0h0m2 3h0m1-3h0m1 3h0m0-3h0m1-1h0m1 2h0m0-3h0m1 5h0m0-4h0m0 2h0m3-2h0m1 1h0m0 2h0m8-4h0m2 5h0m3-2h0m1-3h0m1 1h0m0-1h0m1 2h0m12-2h0m2 0h0m10 2h0m0 0h0m0 0h0m1-3h0m2 2h0m1 3h0m0-4h0m-109 10h0m7 1h0m15-5h0m7 3h0m2-2h0m5 0h0m1-2h0m17 5h0m4-4h0m3 4h0m7 0h0m2-2h0m2 1h0m7-3h0m2-1h0m2 1h0m0 0h0m2 4h0m9-4h0m10 2h0m2 0h0m4 1h0m-127 4h0m30 2h0m16-2h0m19 4h0m1 0h0m2-4h0m1-2h0m1 6h0m0-5h0m2 4h0m1-3h0m0-2h0m3 5h0m0-3h0m1 4h0m0 0h0m5-2h0m0-2h0m1-1h0m9 5h0m3-3h0m1 0h0m4 2h0m1 0h0m1-2h0m1 1h0m12-2h0m4 3h0m7-1h0m0-1h0m3 1h0m0-1h0m-215 6h0m148 0h0m3 1h0m2-2h0m1 0h0m1 2h0m3-2h0m0-1h0m3 3h0m4 1h0m1-2h0m0 2h0m0-3h0m3 0h0m0 1h0m1 1h0m2 0h0m1-1h0m1-2h0m0 2h0m2 0h0m6-3h0m2 4h0m0-2h0m1-2h0m0 2h0m2 3h0m0 1h0m1-4h0m5 3h0m2 0h0m3-1h0m6 1h0m2 1h0m1-2h0m0-2h0m2-1h0m1-1h0m1 2h0m-69 8h0m0 0h0m1-2h0m1 2h0m1-1h0m4 3h0m4-6h0m2 4h0m1-1h0m1-1h0m1 2h0m4 0h0m2-3h0m0 1h0m0 1h0m5-2h0m6 1h0m0 0h0m1 0h0m4-1h0m3 0h0m1-1h0m0 1h0m1-1h0m0 5h0m1-5h0m2 1h0m1 4h0m0-5h0m1 2h0m3 2h0m1 0h0m8 2h0m2-4h0m1 4h0m0 0h0m1-3h0m1 0h0m1-2h0m1 5h0m3-4h0m3 2h0m-228 6h0m60-4h0m95 0h0m5 3h0m3-2h0m2 1h0m2 4h0m4-1h0m4-1h0m1 0h0m2 1h0m6 1h0m1-5h0m3 5h0m1-5h0m1 0h0m5 3h0m3-1h0m1 2h0m1 1h0m5-4h0m4 3h0m1-1h0m2-1h0m0 0h0m5-2h0m4 4h0m5-1h0m6-2h0m0 2h0m1 1h0m-76 2h0m8 3h0m1-3h0m1 1h0m2-1h0m2 3h0m1-3h0m1 3h0m3 1h0m0-3h0m0 3h0m2-3h0m2 2h0m2-2h0m2 3h0m2-2h0m1 3h0m2-5h0m2 4h0m1 0h0m0-3h0m1 1h0m1 0h0m1 3h0m1-2h0m6-3h0m1-1h0m18 5h0m0 0h0m2 0h0m0-3h0m1 1h0m4-1h0m1-1h0m2 3h0m1 0h0m1-3h0m1 1h0m0 1h0m1-2h0m0 1h0m0 3h0m-242 1h0m5 4h0m168-3h0m3 0h0m5 0h0m3 0h0m1 3h0m2 0h0m5-3h0m5 1h0m1 3h0m2 0h0m3-4h0m22 5h0m0-3h0m6-2h0m2 2h0m1-2h0m2 0h0m1 4h0m1-1h0m1 0h0m1-1h0m3-3h0m-204 9h0m141 1h0m1 0h0m4 1h0m0-2h0m2 3h0m1-5h0m1 0h0m2-1h0m5 5h0m1 1h0m0-4h0m1-1h0m8 2h0m2 1h0m0-1h0m0 0h0m4 1h0m10 1h0m5-1h0m1-3h0m4 3h0m2 1h0m1 0h0m3-4h0m1 5h0m1-2h0m-160 3h0m96 4h0m1-4h0m1 1h0m0-2h0m1 5h0m2-3h0m3 0h0m1 2h0m18-2h0m4 4h0m0-4h0m4 0h0m2 1h0m0 1h0m3-1h0m1-2h0m1 1h0m2 2h0m1-2h0m0 2h0m3-3h0m4 0h0m1 1h0m2 0h0m0 1h0m0 3h0m2 0h0m0-1h0m1 0h0m1-3h0m1 1h0m-55 4h0m0 4h0m4-4h0m3 0h0m0 1h0m1 2h0m18-3h0m3 1h0m0 1h0m3-2h0m1 0h0m0 4h0m4-2h0m2 2h0m0-5h0m1 2h0m2-2h0m0 5h0m2-3h0m1 2h0m-214 6h0m175 0h0m1-3h0m2-1h0m24 3h0m1-2h0m5 0h0m1 0h0m2 0h0m-215 10h0m25-3h0m73 3h0m82-1h0m0-2h0m3-1h0m-136 30h0" stroke="#9B77A6" stroke-width="4.6" stroke-linecap="round" fill="none"/>
<path d="M237 569h0m-13 8h0m-6 7h0m8 0h0m-3 7h0m28 1h0m72 36h0m15-3h0m4 3h0m22 1h0m-74 0h0m17 6h0m35-1h0m3-1h0m16 7h0m-62 5h0m2 1h0m53-4h0m10 2h0m-92 9h0m1-4h0m28 2h0m67-3h0m39 4h0m-116 4h0m30-2h0m18 2h0m44 2h0m-199 7h0m2-4h0m1 2h0m1 0h0m2-3h0m4 1h0m6 1h0m51 1h0m13-1h0m8-2h0m31 1h0m4 2h0m15-1h0m6 2h0m0-1h0m3 1h0m15 0h0m-197 6h0m17 0h0m2-4h0m133 5h0m34-3h0m14-2h0m-199 8h0m1-2h0m2 2h0m14-1h0m3 0h0m1 1h0m0-2h0m15 4h0m7-4h0m7-1h0m32 4h0m122-3h0m2 4h0m-199 5h0m2 1h0m0-5h0m11 2h0m29 0h0m11-1h0m100 4h0m7-1h0m-160 5h0m1 1h0m5-1h0m6 1h0m2 1h0m5 0h0m1-2h0m15-1h0m3 1h0m0 3h0m3-5h0m53 1h0m22 0h0m6-2h0m10 4h0m35-2h0m7 0h0m12 2h0m-197 6h0m23-3h0m1 5h0m3-5h0m1 1h0m4-2h0m2 5h0m35-4h0m50 3h0m3-4h0m23 5h0m6 0h0m23-4h0m1 0h0m25 4h0m-171 6h0m81-1h0m75-1h0m14 2h0m-193 2h0m3 2h0m6 1h0m7-1h0m5-2h0m10 4h0m53-4h0m19 5h0m92-1h0m-183 1h0m1 5h0m4-3h0m9 1h0m1-2h0m0 1h0m2 2h0m1-4h0m2 4h0m1-1h0m7 2h0m5-4h0m6 3h0m0-3h0m0-1h0m106 5h0m19 0h0m1 1h0m15-1h0m5-2h0m2 1h0m1-3h0m-187 10h0m1-4h0m1 4h0m23 1h0m16-3h0m0 1h0m13-2h0m36 3h0m9 0h0m14 1h0m33-4h0m5 1h0m-143 5h0m0 1h0m12 1h0m5 0h0m10-2h0m11 0h0m3 2h0m7-1h0m6 1h0m9 1h0m9-4h0m10 1h0m7 0h0m13 2h0m4 1h0m1-1h0m4-2h0m1 2h0m15 1h0m26-4h0m-156 8h0m0 2h0m1-1h0m0-2h0m2 4h0m17-4h0m1 3h0m24 0h0m4-3h0m3 1h0m4 0h0m3 2h0m14-5h0m13 4h0m2-2h0m3 2h0m10 1h0m2-1h0m0-1h0m1-3h0m11 6h0m0-1h0m17-3h0m0 0h0m11 2h0m-138 5h0m4 0h0m5-2h0m15 0h0m1 3h0m20 0h0m8 1h0m5-3h0m1-1h0m3 3h0m1-1h0m11 0h0m7-1h0m16 0h0m18 0h0m21 3h0m1-2h0m18 3h0m-131 5h0m2-2h0m7 2h0m0-2h0m1 2h0m31-5h0m45 5h0m6-3h0m8-2h0m28 2h0m22-1h0m4 3h0m-141 3h0m27 4h0m2-1h0m1 0h0m1-2h0m12 1h0m19-1h0m0-1h0m3-1h0m7 4h0m2-1h0m1 0h0m48-1h0m6-1h0m9 2h0m3-2h0m0 0h0m-124 7h0m9-2h0m4 4h0m18 1h0m5-4h0m74 1h0m15-1h0m-130 9h0m0 0h0m10 1h0m0 0h0m4-5h0m2 0h0m13 0h0m4 6h0m2-4h0m9 1h0m4-1h0m27 2h0m12-3h0m0 3h0m1 0h0m2 1h0m24-3h0m13 0h0m9-2h0m0 6h0m-153 6h0m12-1h0m13-5h0m4 4h0m9-3h0m17 2h0m18 1h0m1-1h0m15 2h0m35-2h0m2 2h0m1-2h0m3 1h0m27-3h0m-127 6h0m3 2h0m14-2h0m3 4h0m2-1h0m24 0h0m4 0h0m57-3h0m7 2h0m7 1h0m4 1h0m-135 6h0m10 0h0m15-1h0m5-3h0m9 1h0m3-1h0m7 3h0m17 0h0m12 1h0m9-4h0m31 4h0m11 1h0m-141 5h0m9 0h0m7-4h0m8 4h0m6-4h0m6 2h0m18 2h0m1-4h0m1 4h0m3-2h0m4 0h0m8 2h0m19-2h0m23-1h0m8 3h0m-121 3h0m128 3h0m27-3h0m-122 9h0m5 0h0m12-3h0m28 0h0m2-2h0m1 4h0m7 1h0m23 1h0m11-1h0m6 1h0m3-4h0m-98 6h0m3 2h0m11 1h0m3-1h0m8-3h0m1 0h0m7-1h0m45 2h0m-10 11h0" stroke="#FFF5CC" stroke-width="4.6" stroke-linecap="round" fill="none"/>
<path d="M334 562h0m18 0h0m-113 7h0m3-3h0m83 1h0m5-1h0m14-3h0m2 1h0m1 0h0m1 5h0m8-4h0m1 2h0m-93 5h0m0-1h0m2 3h0m2-1h0m3 0h0m4 0h0m0-2h0m1 1h0m3-2h0m0 0h0m6 2h0m7-2h0m7 3h0m0 0h0m16-1h0m1-2h0m2 3h0m1-3h0m5 1h0m7 0h0m2 1h0m2 0h0m2-1h0m2 1h0m4 3h0m14 0h0m-134 0h0m6 5h0m0 0h0m47-4h0m1 1h0m0 1h0m1 0h0m1 2h0m4-1h0m1-2h0m2 4h0m1-2h0m6-1h0m12 3h0m0 0h0m0-1h0m1-1h0m0-4h0m2 4h0m1-1h0m7 2h0m0-3h0m6 1h0m0 2h0m4-1h0m2 1h0m0-3h0m1-2h0m4 1h0m0 1h0m3-2h0m0 3h0m1-3h0m6 6h0m7-2h0m1 2h0m0-2h0m1-2h0m5 2h0m0 1h0m1 0h0m1 0h0m2-1h0m4 0h0m1 0h0m4 0h0m-156 8h0m7-3h0m1 1h0m3 1h0m6 0h0m2-3h0m2 2h0m21 0h0m5-1h0m0 0h0m2-2h0m9 2h0m1 0h0m7 0h0m11 1h0m1-3h0m13 3h0m0 2h0m2-4h0m0 3h0m2-4h0m0 2h0m9-2h0m7 1h0m10-1h0m10-1h0m2 5h0m1-1h0m3-3h0m3 3h0m4-1h0m0 0h0m1-2h0m1 0h0m10 2h0m2 2h0m3-2h0m3 0h0m0 1h0m2 0h0m0 1h0m4 0h0m-167 2h0m2-1h0m1 4h0m16-3h0m1 2h0m15-2h0m2 2h0m20 0h0m0-1h0m2 1h0m1 0h0m2 0h0m2-1h0m7 3h0m17-5h0m1 5h0m2-2h0m4-1h0m1 2h0m1 0h0m3-4h0m1 0h0m1 5h0m5 0h0m1-4h0m7 5h0m11-3h0m1-2h0m2 1h0m0 4h0m2-1h0m1 1h0m4-1h0m2-3h0m5-2h0m3 1h0m1 4h0m9-3h0m0 1h0m2 3h0m4-2h0m13-2h0m3 0h0m3 3h0m4 0h0m-147 6h0m9-1h0m1-2h0m4 1h0m0 3h0m6-6h0m3 3h0m0 2h0m5-1h0m1-3h0m11 3h0m11-3h0m1 4h0m3-4h0m0 1h0m1 4h0m2-2h0m3-3h0m0 2h0m3 0h0m0 3h0m0 0h0m3-1h0m1-2h0m1-1h0m1-2h0m4 5h0m0-3h0m7 2h0m1-1h0m0 1h0m2-1h0m1-1h0m5 4h0m0-3h0m0 2h0m0-5h0m2 1h0m1 3h0m1-2h0m0 0h0m4 3h0m2-2h0m1-2h0m1 3h0m2-4h0m2 6h0m3-5h0m1 0h0m15 4h0m1-4h0m1 3h0m4-2h0m3-1h0m4 1h0m5-2h0m2 5h0m3-5h0m-147 11h0m1-3h0m10 1h0m5-1h0m0 3h0m0-1h0m0-2h0m2 0h0m3 0h0m2 3h0m4-4h0m9 4h0m13 0h0m2-2h0m9-2h0m5 2h0m2 3h0m1-3h0m2-1h0m7 1h0m0-2h0m1 3h0m5-2h0m0 3h0m1-1h0m1-1h0m0-2h0m0 0h0m2 1h0m0-1h0m7 0h0m2 2h0m2 0h0m2 1h0m8 0h0m2-3h0m0 1h0m12 0h0m1 2h0m1 0h0m7 1h0m2 0h0m0 0h0m5 0h0m1-4h0m0 4h0m2-2h0m2 1h0m2-2h0m15 0h0m-220 5h0m1 3h0m40 1h0m1-1h0m5-2h0m2 2h0m3 1h0m19-3h0m1 2h0m4-4h0m1 2h0m2 1h0m8 3h0m7-2h0m5-2h0m8 1h0m1-1h0m1 2h0m8-2h0m1 3h0m1-2h0m7 1h0m2 1h0m3 0h0m1-5h0m3 1h0m1 2h0m0 2h0m3-2h0m1-1h0m5 0h0m0 2h0m11-2h0m9 2h0m3 1h0m4 0h0m0-5h0m1 4h0m1-1h0m1-1h0m4-2h0m5 2h0m10-1h0m1 4h0m4-4h0m0 4h0m5-3h0m-210 8h0m1 1h0m0-1h0m1 1h0m0 0h0m15-3h0m5 2h0m1 0h0m1-2h0m5 1h0m3-1h0m1 3h0m1-2h0m0 2h0m4-4h0m2 4h0m1-3h0m6 0h0m0 1h0m2 0h0m4 2h0m1-2h0m9-3h0m1 0h0m0 1h0m2 3h0m2 2h0m18-2h0m1-3h0m1 4h0m2 1h0m1-4h0m0 2h0m2-1h0m4-2h0m1 3h0m12-1h0m2 3h0m9-2h0m2-1h0m1-2h0m2-1h0m1 4h0m2-2h0m1-2h0m2 0h0m1 3h0m8-3h0m4 4h0m19-3h0m8 3h0m6-3h0m28 2h0m18 2h0m5 0h0m0 1h0m2-2h0m3-2h0m-261 10h0m29-4h0m3 4h0m7-5h0m1 0h0m4 3h0m4-3h0m0 4h0m1-3h0m0 1h0m1-2h0m5-1h0m2 1h0m2-1h0m4 1h0m12 3h0m0 1h0m2-3h0m2 0h0m3 1h0m11 0h0m1-1h0m1-1h0m16 1h0m2 0h0m3 2h0m8-2h0m2-1h0m0 2h0m1 0h0m1-2h0m1 2h0m1 1h0m0-4h0m18 2h0m0 2h0m0-2h0m1 3h0m2-4h0m3 4h0m1-1h0m6 1h0m7-1h0m2-4h0m11 0h0m3 5h0m6 0h0m8-4h0m2 2h0m0 1h0m1-2h0m4-1h0m1 1h0m20 2h0m12 1h0m0 0h0m12-4h0m8 1h0m-259 10h0m8-3h0m26 1h0m3 1h0m2-5h0m2 3h0m2 1h0m0-3h0m0 4h0m2-1h0m1-2h0m7 2h0m0-2h0m9 2h0m1-4h0m1 0h0m47 1h0m1 3h0m1 0h0m3 2h0m1-2h0m1 0h0m0-2h0m3 4h0m3-3h0m2-2h0m0 1h0m0 3h0m4 0h0m4-3h0m2 0h0m4 2h0m1-4h0m0 6h0m0-3h0m4 3h0m1 0h0m3-4h0m8-2h0m1 3h0m0 0h0m0 2h0m2 0h0m1-5h0m1 3h0m1 1h0m1 2h0m2-5h0m0 1h0m2 3h0m2-3h0m1 3h0m0-4h0m5 1h0m0-1h0m4 2h0m3 2h0m1-1h0m6-2h0m4 1h0m2-1h0m4 2h0m1 2h0m0-3h0m3 1h0m3-3h0m7 1h0m0-1h0m8 2h0m7-2h0m7 2h0m1 2h0m9-3h0m2-2h0m-245 8h0m28 4h0m9-6h0m9 4h0m2-1h0m4-1h0m1 3h0m7 1h0m5-4h0m0-1h0m11 2h0m7-2h0m25 0h0m9 4h0m2-1h0m11 1h0m1-5h0m0 3h0m2-2h0m0-1h0m0 3h0m1-1h0m6 0h0m3-2h0m1 3h0m1-3h0m4 2h0m1-2h0m0 0h0m2 6h0m1-5h0m7 2h0m1 2h0m0-4h0m5 0h0m3 5h0m1-2h0m4-1h0m1 0h0m2 2h0m3-3h0m1 3h0m2-3h0m0 3h0m2 0h0m1-2h0m1 1h0m0 1h0m3-3h0m4 0h0m1 0h0m1 2h0m2-4h0m2 3h0m16 2h0m0-5h0m2 5h0m2-5h0m2 4h0m1-1h0m1 2h0m4 0h0m1-4h0m0 3h0m2 1h0m1-4h0m0-1h0m1 6h0m2-3h0m23 0h0m0 2h0m7-2h0m-263 5h0m24 4h0m13-2h0m0-2h0m1-1h0m14-1h0m6 4h0m0-1h0m0 1h0m1-2h0m7 2h0m9-4h0m1 2h0m0-1h0m1 0h0m28 5h0m1-5h0m3 0h0m2 4h0m0-2h0m1-3h0m2 3h0m0 1h0m1-2h0m1 3h0m0-1h0m3-2h0m3 2h0m11-4h0m1 5h0m4-2h0m1-1h0m2 4h0m1-1h0m1-4h0m1 0h0m1-1h0m1 4h0m0 1h0m4-3h0m17 3h0m1-2h0m2 1h0m1-2h0m1 2h0m0-3h0m8 5h0m5-1h0m7-4h0m2 0h0m0-1h0m5 3h0m1 2h0m1-5h0m0 1h0m2 1h0m1 1h0m1 2h0m1-4h0m2 3h0m0-2h0m11-1h0m0 3h0m3-3h0m3 4h0m4-4h0m14 3h0m8-1h0m14 3h0m2 0h0m-265 0h0m35 2h0m2 0h0m0-2h0m3 3h0m1 0h0m0 0h0m9 1h0m3-3h0m4 1h0m0 1h0m17 2h0m1-2h0m2-1h0m1 0h0m1 2h0m6-2h0m1 1h0m1 2h0m0-3h0m1 0h0m24 4h0m4-3h0m2-1h0m1 1h0m8-2h0m6 4h0m20-1h0m2 2h0m4-1h0m1 1h0m1-6h0m3 5h0m1-4h0m3 3h0m1-4h0m0 3h0m0 1h0m4-1h0m0-1h0m4 0h0m5 3h0m1-2h0m2 2h0m1 0h0m1-3h0m0 0h0m6-2h0m0 5h0m1-1h0m0-1h0m2-1h0m1 2h0m1 1h0m2-4h0m1 4h0m1-3h0m5 3h0m1-1h0m4 2h0m3-5h0m6 3h0m5 1h0m7-2h0m0 2h0m6-4h0m1-1h0m3 5h0m0-3h0m1-2h0m0 3h0m23 0h0m1-1h0m4 3h0m-251 7h0m36-4h0m4-1h0m0 5h0m4-2h0m3-1h0m5 3h0m1-3h0m6-1h0m3 0h0m3-1h0m1 1h0m1-1h0m14 1h0m3-2h0m0 1h0m1 2h0m5-3h0m2 3h0m0-2h0m1 2h0m6-2h0m0 2h0m0 0h0m1 2h0m4 0h0m5 1h0m4-1h0m2-5h0m0 4h0m0-2h0m2 2h0m2 1h0m1-1h0m1-3h0m0 3h0m0 0h0m3 0h0m7 0h0m0 0h0m0 1h0m0-2h0m2 0h0m1 2h0m3-5h0m2 5h0m1-2h0m4-1h0m2-1h0m4 2h0m1-2h0m5 1h0m9 0h0m0 3h0m0 0h0m2-4h0m3 3h0m7 0h0m1-2h0m1-1h0m2 1h0m4 4h0m3-1h0m3-1h0m2 0h0m1-3h0m3 4h0m1-3h0m6-1h0m0 3h0m7-3h0m0 0h0m7 4h0m2-3h0m3-2h0m31 1h0m0 3h0m3 0h0m-264 4h0m4 1h0m3-2h0m38 3h0m6-1h0m0 0h0m7 3h0m0-4h0m1-1h0m1 1h0m1 4h0m1-5h0m1 3h0m2 1h0m0 0h0m1-1h0m2 0h0m4-3h0m1-1h0m0 4h0m9-4h0m1 2h0m1 3h0m0 0h0m1 0h0m0-2h0m1-2h0m2 0h0m3 5h0m0-2h0m0-2h0m1-1h0m1 4h0m5-4h0m13 0h0m0 2h0m0-1h0m1 1h0m1-3h0m3 4h0m0-3h0m1 2h0m2-3h0m0 5h0m5 1h0m1-3h0m1 1h0m1 0h0m1 0h0m1-1h0m2 1h0m5 0h0m1-2h0m0 3h0m0-1h0m1 0h0m0-2h0m2-1h0m2 5h0m4 0h0m0 0h0m1-4h0m0 3h0m6-2h0m3 1h0m0-1h0m4-2h0m2 2h0m0 3h0m0-2h0m0-3h0m1 3h0m2-1h0m3 0h0m1-2h0m4 1h0m0 1h0m5 1h0m2-2h0m4 1h0m0-3h0m10 5h0m4 1h0m1-5h0m1 3h0m0-2h0m1 3h0m1-2h0m4 2h0m3-4h0m2 3h0m0-1h0m53-1h0m2-2h0m4 5h0m4 0h0m-291 4h0m5 1h0m1-1h0m1-3h0m13 1h0m16 2h0m26 0h0m11-2h0m0 2h0m2 0h0m3 1h0m2 1h0m4 0h0m5-4h0m10 4h0m1-5h0m5 2h0m2 3h0m1-2h0m7 3h0m4-5h0m1 0h0m2 3h0m2 0h0m3-1h0m2 0h0m3-3h0m0 1h0m2-1h0m0 2h0m1 2h0m4-2h0m2 4h0m7-4h0m2 4h0m0-3h0m4-1h0m1 3h0m2-4h0m2 4h0m2-3h0m1 3h0m0-2h0m2 0h0m0-2h0m1 3h0m2-1h0m9 0h0m2 3h0m3-2h0m1-4h0m2 5h0m9 0h0m2-5h0m13 4h0m6 1h0m2 1h0m1-1h0m1-5h0m6 0h0m0 4h0m1 0h0m2-2h0m0 0h0m1 1h0m0-1h0m61-1h0m-285 7h0m4 2h0m10-4h0m6 2h0m6 1h0m6-3h0m26 1h0m1 3h0m1-1h0m0 0h0m0 0h0m1-1h0m5 3h0m0-3h0m1-2h0m3 6h0m1-3h0m6 2h0m10-1h0m4-1h0m2 1h0m0 2h0m2-5h0m0 0h0m0 0h0m5 0h0m0 1h0m7 3h0m0 0h0m1-2h0m4 1h0m0 0h0m2 0h0m1-1h0m3 0h0m3-2h0m0 2h0m1 3h0m1-2h0m2-4h0m1 0h0m3 0h0m4 6h0m2-4h0m3 2h0m4 0h0m0-1h0m0 3h0m1-5h0m5 2h0m7-2h0m2 4h0m3-3h0m0 1h0m1-1h0m6 2h0m0-4h0m2 3h0m2-2h0m3 1h0m5-1h0m2 0h0m1 1h0m4 0h0m10 0h0m3 0h0m8-1h0m14-1h0m35 1h0m29 3h0m1-4h0m3 2h0m-298 6h0m0 0h0m24 0h0m1 1h0m2-1h0m2 2h0m3 2h0m6-5h0m0 4h0m9 0h0m3-2h0m0 0h0m18-1h0m3 2h0m2-2h0m1 3h0m8 0h0m1-2h0m9 3h0m5-4h0m0-1h0m0 0h0m7 0h0m0-1h0m2 3h0m4 1h0m2-2h0m0 2h0m3-1h0m1 2h0m2-3h0m2 0h0m1 0h0m1 0h0m1 3h0m1-4h0m3 3h0m1-1h0m4 2h0m4 0h0m1-1h0m3 2h0m1-3h0m1-2h0m5 0h0m2 1h0m0 2h0m4 1h0m5-3h0m1 2h0m3 0h0m1-1h0m1-2h0m1 4h0m1 0h0m2 1h0m3-1h0m1-2h0m0-2h0m1 3h0m1-3h0m0 3h0m1 0h0m6-3h0m1 2h0m1-1h0m6 1h0m5-2h0m26 1h0m22 1h0m-255 7h0m0 1h0m1-4h0m4 4h0m6 1h0m1-4h0m2 2h0m4 1h0m8-3h0m10 3h0m5-1h0m4-3h0m17 0h0m3 2h0m18-2h0m7 3h0m7-1h0m0 0h0m0 0h0m3-1h0m2 4h0m2-5h0m1 1h0m5 4h0m4-1h0m6-2h0m0 0h0m2 0h0m0-2h0m0 3h0m5 1h0m1-4h0m0 4h0m5-2h0m10 2h0m1-4h0m1 4h0m6-3h0m5 1h0m0 3h0m0-4h0m1 1h0m1-3h0m0 2h0m2 4h0m1-3h0m2 1h0m4-4h0m1 5h0m2-3h0m2 3h0m5-3h0m0 3h0m0-2h0m0 1h0m1-2h0m1 0h0m3-1h0m6 3h0m1 0h0m1 2h0m5-3h0m5 1h0m4 0h0m0 1h0m3-4h0m0 5h0m1-2h0m0 1h0m1-5h0m60 4h0m8 1h0m5 1h0m-272 2h0m0 0h0m2 3h0m6-1h0m3-3h0m3 1h0m1 2h0m6 1h0m16-3h0m11 0h0m1 1h0m4-1h0m23 3h0m3-1h0m3 0h0m1-4h0m0 1h0m1 1h0m1 1h0m3 2h0m1 1h0m0-4h0m1 1h0m1-1h0m0-1h0m1 2h0m1 1h0m0 0h0m1 0h0m0 1h0m1 0h0m4 0h0m1-1h0m3-3h0m2 3h0m0-3h0m3 0h0m2 4h0m2 1h0m0-2h0m1 1h0m2-1h0m1-2h0m1 2h0m7-2h0m3 3h0m1 1h0m1-5h0m4 2h0m6-1h0m0-2h0m1 4h0m2 0h0m1-1h0m0 2h0m1-5h0m0 5h0m4-2h0m0 1h0m0 2h0m2-3h0m2-2h0m0 2h0m1-2h0m1 1h0m2-2h0m1 3h0m5 3h0m1-2h0m1-1h0m3 0h0m8 0h0m4 3h0m1-2h0m4-1h0m0 1h0m1-2h0m12-1h0m4 3h0m5 0h0m41 1h0m11-2h0m9-1h0m1 0h0m2-2h0m5 3h0m17-1h0m0 2h0m5 1h0m-304 7h0m2-3h0m4-2h0m2 1h0m4 0h0m1 2h0m4-3h0m1 1h0m1 0h0m4-1h0m6 0h0m7 3h0m2-3h0m1-1h0m25 5h0m1-4h0m0 0h0m0 4h0m1 0h0m1-4h0m1 0h0m2 3h0m1-3h0m11 3h0m7 1h0m1-1h0m4-4h0m2 2h0m0-1h0m0 0h0m0 0h0m4 3h0m2-2h0m1-2h0m1 2h0m0 0h0m2 3h0m1-2h0m3-2h0m2 3h0m4-2h0m14 0h0m1 1h0m0-3h0m0 5h0m3-1h0m2-3h0m1 1h0m1 3h0m1-1h0m1-1h0m2 1h0m2-2h0m0 3h0m1 0h0m1-2h0m1 2h0m1-4h0m2 0h0m0 0h0m2 3h0m3 1h0m1-3h0m1 3h0m1-4h0m7 1h0m1 0h0m1-1h0m1 2h0m1-1h0m7 1h0m0 1h0m2-4h0m0 2h0m1 2h0m2 1h0m0-2h0m2-3h0m1 1h0m2 5h0m1 0h0m1-2h0m1-3h0m3 3h0m5-3h0m3 4h0m46-4h0m21 2h0m3 2h0m1 0h0m30-3h0m-294 8h0m8 0h0m7-1h0m0 0h0m2 3h0m1-2h0m0 0h0m1-1h0m5-1h0m3-2h0m6 1h0m28 3h0m3-4h0m9 6h0m1-5h0m1 3h0m3-1h0m0-2h0m4 1h0m2 0h0m9 2h0m0-2h0m2 1h0m1-2h0m0 1h0m2 2h0m2-2h0m9 3h0m6-2h0m0 1h0m7 1h0m1-2h0m4 1h0m0-2h0m2 2h0m3-2h0m1-2h0m0 3h0m5-1h0m7 1h0m4 2h0m2-5h0m2 3h0m0 3h0m1-6h0m1 4h0m3-3h0m1 2h0m6 2h0m1-4h0m3 4h0m7-3h0m3 3h0m1-1h0m2-3h0m0 0h0m3-1h0m0 5h0m2-1h0m1-1h0m0-1h0m2 2h0m2 1h0m4 0h0m2-2h0m0 2h0m3-4h0m30 0h0m46 5h0m-283 3h0m6-2h0m11 0h0m27 0h0m2 5h0m19-4h0m3 1h0m8 0h0m4 2h0m0-4h0m5 2h0m5-1h0m0-2h0m9 5h0m4-1h0m1 0h0m3 1h0m3-4h0m0 1h0m1-1h0m3 1h0m0 2h0m4-2h0m1 4h0m1-6h0m1 4h0m0 1h0m1-1h0m0-3h0m1 2h0m0 0h0m3 2h0m0 0h0m2-4h0m0 1h0m13 2h0m10 2h0m2-3h0m2-2h0m3 1h0m1 4h0m3-3h0m0-2h0m2 2h0m2 0h0m4 2h0m4 0h0m5 1h0m0-4h0m4 3h0m0-1h0m2 2h0m5-1h0m1-2h0m5-1h0m1 0h0m1 3h0m5-2h0m1 2h0m0-1h0m0-2h0m36 0h0m1 1h0m19 1h0m20-2h0m7 1h0m-278 4h0m9 3h0m12-1h0m2-3h0m3 1h0m1 0h0m6 3h0m1-1h0m27 0h0m13-2h0m11 0h0m8 1h0m0 0h0m2 0h0m1-1h0m6-1h0m1 1h0m0 0h0m6 0h0m4-1h0m3 1h0m28 4h0m2 1h0m3-4h0m3-1h0m0-1h0m3 1h0m1 3h0m2 1h0m0-2h0m2 2h0m1-2h0m1-2h0m3 3h0m1 2h0m3-1h0m1-4h0m1 4h0m2 1h0m1-5h0m1 0h0m5-1h0m13 0h0m3 0h0m1 3h0m39-1h0m17 4h0m-249 6h0m4-5h0m3 2h0m13 2h0m0-2h0m4 0h0m1 3h0m1-6h0m7 3h0m9 0h0m19 2h0m15-1h0m1 1h0m2 1h0m14-1h0m2 1h0m49-4h0m1 2h0m4 0h0m0-3h0m2 2h0m3 0h0m4 3h0m1-1h0m1-4h0m1 4h0m1-1h0m2-4h0m0 1h0m5 2h0m1-3h0m3 5h0m11-4h0m1 3h0m2-3h0m26 1h0m7 1h0m6-1h0m1-1h0m16 0h0m14 3h0m9 0h0m-266 2h0m1 3h0m5-3h0m1 2h0m11 0h0m3 0h0m3 2h0m0-2h0m2 0h0m4 0h0m4 1h0m3 3h0m1-5h0m2 4h0m4 0h0m4-2h0m1 1h0m5-3h0m2 4h0m0 0h0m1-2h0m1 3h0m3-2h0m3 0h0m1-2h0m8 0h0m1-2h0m7 5h0m7-4h0m2 4h0m6-3h0m1 3h0m6-1h0m6-3h0m4-1h0m3 5h0m0-2h0m7-2h0m4 2h0m2 0h0m2 1h0m20-3h0m1-1h0m4 1h0m2 1h0m1 1h0m14-1h0m1 4h0m2-6h0m5 4h0m0-1h0m3 2h0m1-5h0m50 1h0m13 0h0m16 1h0m3 1h0m8 2h0m-269 3h0m7 2h0m3-2h0m5 3h0m5 0h0m1-1h0m1 0h0m2 2h0m11-2h0m1-1h0m3 0h0m1-1h0m2-1h0m2 1h0m3 3h0m3-1h0m2 1h0m2-1h0m1-3h0m0 3h0m3 0h0m1 1h0m4-1h0m2 2h0m3-1h0m2-3h0m9-1h0m0 4h0m2-1h0m1-3h0m5 2h0m4-2h0m1 5h0m8-5h0m3 2h0m3-2h0m4 1h0m0-2h0m1 4h0m0-1h0m8 2h0m4-2h0m1 1h0m49-3h0m35 3h0m6-1h0m9-2h0m36 2h0m12-2h0m3 5h0m-274 1h0m5-1h0m2 2h0m1 3h0m3-3h0m1 3h0m9-1h0m4 0h0m3-1h0m1-1h0m4-1h0m2 3h0m4-3h0m2-1h0m7 2h0m1 1h0m3-1h0m2-1h0m5 3h0m0-2h0m2-1h0m2 3h0m1-3h0m1 2h0m0 1h0m1 0h0m8-4h0m1 0h0m5 5h0m6 0h0m5-3h0m2 1h0m5-1h0m3 1h0m1-2h0m19 0h0m0 3h0m3-4h0m2 2h0m2 1h0m1-3h0m0 2h0m1 1h0m4-2h0m0 0h0m11 0h0m42 5h0m21-5h0m-202 6h0m4 4h0m1-2h0m10-3h0m0 3h0m0 2h0m2-3h0m3 0h0m1 4h0m1-4h0m2-1h0m3 2h0m4 3h0m0-5h0m5-1h0m5 2h0m1-2h0m6 6h0m8-3h0m3-1h0m1 1h0m3-1h0m5 3h0m3-1h0m2-1h0m0 1h0m3-3h0m13 0h0m5 1h0m3 3h0m5-1h0m4 0h0m5-4h0m3 0h0m4 4h0m0 1h0m0-5h0m0 5h0m9-3h0m0 1h0m3-1h0m1 1h0m17-1h0m5 4h0m2 0h0m3-3h0m6 1h0m9-1h0m2-1h0m0 3h0m2-5h0m1 4h0m2-1h0m53 1h0m26 2h0m8-2h0m-265 5h0m2 0h0m10 0h0m1-3h0m3 1h0m18 3h0m5 0h0m0-1h0m1-1h0m2 2h0m3-2h0m1 1h0m4 1h0m0-2h0m7-1h0m5 3h0m1-3h0m5 2h0m4 2h0m5-4h0m8 4h0m1-1h0m5-2h0m0-1h0m0 2h0m7-1h0m5 2h0m0 1h0m4-4h0m1 1h0m1 3h0m1-4h0m2 0h0m7 4h0m3-3h0m2 4h0m2-6h0m2 4h0m1-2h0m17 2h0m0-3h0m3 3h0m6 1h0m0-4h0m3 1h0m3 2h0m4 1h0m1 0h0m1-2h0m1 0h0m1 0h0m1-2h0m1 3h0m0-2h0m6 1h0m2-1h0m39 1h0m21 1h0m7 0h0m5 1h0m3-4h0m7 0h0m7 2h0m-222 7h0m3 2h0m0-4h0m3 1h0m2 2h0m9-3h0m2 2h0m4 0h0m4-4h0m2 5h0m0-1h0m1 2h0m4-1h0m2 0h0m4-2h0m1 1h0m0-3h0m2 0h0m2-1h0m2 5h0m1-2h0m1 0h0m17 0h0m7 2h0m1 0h0m0-5h0m27 5h0m1-4h0m0 2h0m2-1h0m0 3h0m1 0h0m5-2h0m3-2h0m5 2h0m7-3h0m1 4h0m1-4h0m2 2h0m2 3h0m1-4h0m1 2h0m3-2h0m1 5h0m39-5h0m-200 5h0m1 0h0m4 3h0m21 1h0m1 1h0m1-3h0m0 2h0m4 0h0m1 0h0m3-2h0m4 2h0m0 1h0m2-5h0m2 4h0m2-2h0m1 4h0m6-4h0m1 3h0m1-4h0m2 1h0m3 2h0m0 0h0m1 0h0m2 0h0m2-1h0m0-1h0m4 2h0m7 1h0m2 0h0m16-1h0m2 2h0m3-3h0m1 1h0m30 2h0m2-1h0m1-4h0m3 4h0m2-1h0m2-1h0m0 1h0m17-3h0m1 1h0m4 1h0m0-2h0m2 4h0m2-4h0m0-1h0m2 4h0m1 0h0m1-1h0m44-1h0m-212 7h0m16 1h0m5-4h0m1 3h0m0-1h0m2-1h0m1 5h0m4-2h0m7-3h0m1 0h0m1 0h0m1 2h0m2-3h0m5 3h0m3 3h0m0-2h0m2-2h0m10 0h0m0 0h0m2 0h0m2 4h0m0-4h0m8 0h0m1 1h0m4 0h0m6 0h0m38 1h0m2 0h0m1-3h0m4 0h0m2 1h0m2-1h0m0 4h0m1 0h0m1-3h0m18-1h0m8 2h0m-146 8h0m0 0h0m4 0h0m4 1h0m0-3h0m3 3h0m1-6h0m1 5h0m0-4h0m2 2h0m2 1h0m3 1h0m6-2h0m5 1h0m5-2h0m3-2h0m1 5h0m2-2h0m2 1h0m3-3h0m1 1h0m1 0h0m4 1h0m0-1h0m12 0h0m16 0h0m26 0h0m5-1h0m24 1h0m2 1h0m6-1h0m10-2h0m-157 11h0m6-2h0m3 1h0m9 0h0m4-2h0m3-1h0m3 4h0m2-3h0m3 0h0m0 3h0m6 0h0m2-4h0m5 4h0m0-3h0m1 3h0m0-3h0m4 0h0m1 3h0m1-1h0m2-3h0m15-1h0m10 0h0m4 5h0m2-5h0m0 6h0m1-4h0m4 4h0m0-1h0m4-1h0m3-2h0m20 0h0m0-1h0m3 4h0m15-1h0m2-2h0m1-2h0m3 4h0m0 2h0m2-6h0m-150 8h0m10 4h0m18-4h0m1-1h0m1 1h0m8 1h0m26-2h0m0 0h0m8 4h0m0-1h0m7 1h0m1 1h0m1-3h0m7 1h0m5-2h0m3 1h0m3 2h0m1-3h0m17 3h0m2-2h0m2 1h0m1 0h0m3 1h0m2-1h0m3 0h0m2-1h0m1 1h0m2-3h0m8 1h0m3 2h0m18 2h0m-161 1h0m7 4h0m1-3h0m44 1h0m2 3h0m1-2h0m12 0h0m0-3h0m7 1h0m2 0h0m3 1h0m5 1h0m8 0h0m0-2h0m2-1h0m1 2h0m0 1h0m1-3h0m18 3h0m0-1h0m1-3h0m1 1h0m1 5h0m0-4h0m1-1h0m2 3h0m6 1h0m2-2h0m1-2h0m2 2h0m2 0h0m5 0h0m25 2h0m-126 6h0m7-1h0m8-4h0m0 2h0m5 0h0m1 2h0m1-2h0m3 1h0m4 1h0m1 2h0m9-5h0m5-1h0m1 5h0m9-4h0m3 1h0m0 0h0m0 0h0m2-1h0m0 3h0m1 1h0m16 0h0m5-5h0m1 5h0m0 0h0m4-4h0m3 5h0m1-6h0m1 3h0m13-3h0m-106 11h0m12 1h0m2 0h0m2 0h0m0-4h0m3 3h0m12-1h0m8-1h0m2-2h0m1 2h0m5 1h0m1 0h0m28-3h0m3 2h0m8-2h0m1 2h0m0 0h0m0-1h0m39-1h0m3 0h0m-120 10h0m5 0h0m5-3h0m-9 5h0m3 0h0m56 3h0m3-1h0m1 0h0m1 0h0" stroke="#E2A9B9" stroke-width="4.6" stroke-linecap="round" fill="none"/>
<path d="M282 569h0m2-1h0m47-3h0m4 0h0m-41 6h0m3 3h0m30-2h0m1 2h0m23-3h0m2 4h0m-86 1h0m26 5h0m30-3h0m2 2h0m4-4h0m6 4h0m0-1h0m1 2h0m19 0h0m-98 4h0m0 1h0m14-4h0m3-1h0m1 6h0m0-4h0m2 0h0m12 0h0m7 2h0m9 1h0m4-1h0m15-4h0m1 5h0m2-1h0m20-2h0m2 3h0m0 1h0m6-2h0m16 0h0m2-3h0m-117 11h0m7-1h0m2-1h0m14-3h0m1 5h0m11-5h0m16 2h0m3-3h0m2 5h0m4-4h0m0 0h0m2 0h0m11 4h0m17-2h0m6 0h0m1 2h0m5-3h0m11 0h0m34 3h0m-147 6h0m11-1h0m41-2h0m13 0h0m5 3h0m5-3h0m0-2h0m19 0h0m12 1h0m19 1h0m2 3h0m5-4h0m3 0h0m4 4h0m2 0h0m6-4h0m2 0h0m-151 8h0m3 2h0m8-4h0m5 0h0m7 3h0m9-3h0m8 1h0m12 1h0m7-3h0m10 5h0m2-4h0m2 2h0m7 0h0m2 0h0m3-2h0m0 2h0m22-1h0m6 1h0m10-2h0m8 3h0m2 1h0m7-4h0m0 3h0m2-2h0m1 2h0m1 1h0m4-4h0m-204 8h0m44 2h0m9-2h0m10-2h0m6 4h0m5 1h0m1-6h0m18 0h0m18 3h0m1-1h0m2 3h0m12-2h0m9 2h0m3 0h0m6-3h0m1 4h0m14-3h0m4-2h0m6 3h0m3 0h0m7-2h0m0 0h0m15 3h0m-196 7h0m20-4h0m4 1h0m1 0h0m11 3h0m17-1h0m6-4h0m0 1h0m16-2h0m49 3h0m23-2h0m14 1h0m7 1h0m35-3h0m7 4h0m0-1h0m5-2h0m9 0h0m1 5h0m-257 6h0m32-6h0m3 4h0m0-1h0m17 0h0m12-1h0m9 2h0m3-2h0m3-1h0m4 4h0m25 1h0m18-3h0m15-2h0m18 0h0m3 5h0m3 0h0m0-2h0m0 1h0m8-3h0m1 4h0m2-1h0m2-2h0m20 2h0m5-4h0m6 2h0m1 0h0m11 3h0m7-4h0m3-2h0m7 4h0m6-4h0m5 5h0m6-1h0m-255 5h0m28-1h0m4 1h0m0 0h0m5-2h0m5 2h0m2-2h0m3 0h0m1 2h0m1 1h0m11 1h0m2-2h0m6 1h0m3 1h0m1 0h0m58-3h0m44-1h0m2 1h0m0-1h0m0-1h0m8 0h0m16 0h0m2 0h0m9 3h0m11 0h0m1 3h0m1-3h0m3 0h0m3-2h0m12 1h0m2 2h0m8-4h0m-252 9h0m3 2h0m0-5h0m3 3h0m4-1h0m1 0h0m27 2h0m1-1h0m9-3h0m15 0h0m14 0h0m1 4h0m0 0h0m3-3h0m12 5h0m27-2h0m11 1h0m39 0h0m14 0h0m39-2h0m0-2h0m4 4h0m1-1h0m6 0h0m0-3h0m19 5h0m3-1h0m8-3h0m3 1h0m-260 5h0m3 2h0m28 0h0m30-2h0m0-1h0m1 4h0m4-2h0m6-1h0m5 1h0m7 1h0m35-1h0m37-3h0m46 5h0m5-5h0m9 4h0m1 1h0m9-3h0m16 3h0m2 0h0m1 0h0m2 0h0m-261 5h0m3 1h0m49-2h0m12 1h0m3-2h0m1 0h0m4 3h0m0-1h0m18-4h0m0 3h0m8 0h0m3 1h0m42-4h0m10 4h0m38 0h0m26 0h0m3-2h0m0 3h0m0-1h0m3-1h0m2-1h0m8 3h0m6 0h0m4 0h0m9-4h0m3 4h0m4-4h0m18 1h0m-278 5h0m73 4h0m17-3h0m76-1h0m35-1h0m33 2h0m5 1h0m4-1h0m46-2h0m1 1h0m-139 7h0m12 2h0m31 2h0m2-5h0m45 3h0m26-2h0m1 3h0m1-2h0m0 2h0m1-3h0m1-1h0m2 2h0m0 1h0m1-2h0m21 4h0m1-1h0m3-3h0m-183 8h0m20 0h0m24-1h0m3 0h0m19-1h0m8 1h0m42-3h0m36 5h0m7-4h0m0 0h0m0 1h0m19 1h0m-149 8h0m35-4h0m23 3h0m4 1h0m2 1h0m1 0h0m4-1h0m2 1h0m1-2h0m2 1h0m15 1h0m31-3h0m0 0h0m3 2h0m0 0h0m1-4h0m-176 10h0m112-3h0m3-1h0m4 3h0m1-4h0m1 4h0m0 1h0m0 0h0m2 0h0m0-4h0m2 4h0m2-4h0m0 5h0m3-5h0m4-1h0m6 2h0m5 0h0m1 3h0m5 0h0m0 0h0m0-1h0m1-1h0m0 3h0m1-4h0m1 1h0m12 2h0m-146 3h0m25 4h0m61-3h0m6 1h0m0 2h0m7-2h0m5 0h0m20-2h0m0 2h0m0-1h0m2 3h0m0-2h0m0 2h0m2-1h0m0-4h0m0 4h0m1-1h0m3 1h0m0-4h0m2 3h0m1-1h0m0 0h0m5-1h0m1 3h0m6 1h0m8 0h0m24-2h0m-189 2h0m25 3h0m29-1h0m1 1h0m24 2h0m22-3h0m1 2h0m4 0h0m0 1h0m8 1h0m20-3h0m2-2h0m4 4h0m2-2h0m0-2h0m1-1h0m6 5h0m1-3h0m5 2h0m0-3h0m1 4h0m1-3h0m0 0h0m34 0h0m1 4h0m-192 0h0m75 5h0m8-2h0m5 2h0m4-2h0m13 0h0m0 0h0m0 2h0m4-2h0m3-2h0m0 0h0m18 5h0m1-1h0m0-1h0m0-1h0m0 0h0m0 0h0m1-2h0m2-1h0m0 1h0m1 1h0m0 3h0m2-1h0m0 1h0m0-5h0m4 4h0m0 0h0m1-3h0m5 3h0m0-4h0m1 2h0m1 3h0m1-2h0m3-1h0m2 1h0m1 1h0m0-2h0m1 0h0m2 4h0m3-3h0m9-3h0m1 1h0m1 1h0m-195 9h0m26 0h0m13-1h0m44 0h0m1-3h0m6 3h0m33 1h0m0-1h0m3 0h0m2 1h0m2-2h0m19-1h0m4-1h0m0 2h0m2 3h0m0-6h0m2 5h0m2-2h0m0-1h0m2 2h0m0 1h0m2-2h0m0-3h0m0 5h0m3-1h0m4 1h0m3 0h0m1-3h0m1-1h0m1 2h0m1 1h0m2-1h0m2-2h0m0 3h0m2-3h0m0 1h0m8 0h0m2 2h0m4-1h0m3 1h0m-179 6h0m13 2h0m13-2h0m22 2h0m44-3h0m7 0h0m5-2h0m1 1h0m0 3h0m0-1h0m2 1h0m21-4h0m0 3h0m1-1h0m0-1h0m0-1h0m4 4h0m1-1h0m3 1h0m0-4h0m7 4h0m1 0h0m6-1h0m6-2h0m0-1h0m4 5h0m3-4h0m11-1h0m1 1h0m3-1h0m0 4h0m4-1h0m-172 3h0m45 0h0m48 1h0m1 3h0m0-2h0m1-2h0m16 2h0m0 1h0m2-2h0m1-1h0m2-1h0m4 1h0m0 1h0m4 2h0m1 2h0m2-5h0m1 3h0m4 1h0m3-2h0m2-3h0m6 5h0m1 0h0m3 1h0m9-3h0m15-2h0m-180 10h0m46-2h0m26-2h0m27 3h0m17 2h0m1-6h0m0 5h0m0 0h0m3-4h0m0 4h0m2-3h0m2 0h0m7-1h0m1 4h0m1-3h0m0 3h0m6 0h0m2-4h0m4 1h0m0-1h0m1 2h0m8-2h0m1 4h0m6-2h0m3-1h0m1 2h0m1-3h0m0 5h0m2-3h0m4-1h0m3-2h0m0 3h0m1-1h0m-234 5h0m126 2h0m42-2h0m1 1h0m1 0h0m1-1h0m2 5h0m2-4h0m1-1h0m1 0h0m2 0h0m0 3h0m12-2h0m1 3h0m1-4h0m13 5h0m0-2h0m3-3h0m2 0h0m0 3h0m2 0h0m1 1h0m8-4h0m1 3h0m1-4h0m2 1h0m4 1h0m0 1h0m2 2h0m1-4h0m2-1h0m0 1h0m2 0h0m-72 6h0m1 2h0m0 3h0m2-4h0m2 2h0m2-4h0m0 5h0m0-2h0m2 3h0m2-4h0m1 3h0m6-4h0m0 4h0m1 0h0m0 0h0m3-2h0m1 1h0m2-1h0m5 0h0m1 0h0m0-1h0m3 0h0m3 2h0m2 1h0m0-2h0m1 2h0m1-3h0m2 3h0m6-5h0m0 2h0m6 3h0m6-2h0m2-2h0m1 0h0m6 2h0m2 3h0m1-2h0m0-3h0m1 3h0m4-3h0m-76 5h0m4 5h0m4-2h0m2 0h0m0 0h0m1 2h0m0-4h0m8 0h0m4 4h0m0-3h0m1 4h0m0-5h0m2 3h0m1 1h0m0 0h0m1-1h0m1 0h0m1-1h0m2 0h0m2 1h0m8-2h0m1 3h0m2-2h0m1-1h0m13 3h0m2-4h0m3 2h0m0-1h0m2 3h0m1 0h0m1 0h0m1-2h0m0 1h0m3-2h0m5 2h0m0-1h0m1 1h0m-214 5h0m117-3h0m29 0h0m5 2h0m6 2h0m2-2h0m1-1h0m4 2h0m1-3h0m1 3h0m0 2h0m7-5h0m3 1h0m1 4h0m7-5h0m15 5h0m1-1h0m2-1h0m3 2h0m4-1h0m-53 4h0m0 0h0m2-2h0m1 1h0m2 3h0m1 0h0m0-1h0m1-1h0m1 1h0m1-2h0m3 3h0m1 0h0m1-2h0m6-1h0m1 4h0m0-4h0m2 0h0m3 3h0m10-2h0m1 2h0m0-1h0m0 0h0m0 3h0m4-1h0m6-4h0m1 5h0m1-3h0m1-2h0m1 2h0m2-2h0m-173 7h0m115 2h0m1-1h0m1 1h0m1-3h0m3 0h0m0 2h0m3-2h0m22-1h0m0 4h0m1 1h0m6-5h0m0 3h0m6 1h0m9-2h0m0 0h0m-53 4h0m2 2h0m2 1h0m2 3h0m0-3h0m7-2h0m20 2h0m3-1h0m2-1h0m0 0h0m0 4h0m1-5h0m1 4h0m1-1h0m0 3h0m-34 1h0m1 1h0m1-2h0m6 2h0m25-2h0m4 2h0m-187 8h0m36 8h0m1 0h0m28 2h0" stroke="#9B77A6" stroke-width="4.6" stroke-linecap="round" fill="none"/>
<ellipse cx="441" cy="750.3" rx="9.3" ry="15.8" transform="rotate(22 441 750.3)" fill="none" stroke="#14147A" stroke-width="2.2"/>
<rect x="114.30" y="537.50" width="381.70" height="307.80" fill="none" stroke="#222" stroke-width="1.4"/>
<path d="M114.3 553.4L120.7 553.4M114.3 569.6L117.4 569.6M114.3 585.9L120.7 585.9M114.3 602.1L117.4 602.1M114.3 618.4L120.7 618.4M114.3 634.6L117.4 634.6M114.3 650.9L120.7 650.9M114.3 667.1L117.4 667.1M114.3 683.4L120.7 683.4M114.3 699.6L117.4 699.6M114.3 715.9L120.7 715.9M114.3 732.1L117.4 732.1M114.3 748.4L120.7 748.4M114.3 764.6L117.4 764.6M114.3 780.9L120.7 780.9M114.3 797.1L117.4 797.1M114.3 813.4L120.7 813.4M114.3 829.6L117.4 829.6M133.4 845.3L133.4 842.2M152.6 845.3L152.6 838.9M171.8 845.3L171.8 842.2M190.9 845.3L190.9 838.9M210.1 845.3L210.1 842.2M229.2 845.3L229.2 838.9M248.3 845.3L248.3 842.2M267.5 845.3L267.5 838.9M286.6 845.3L286.6 842.2M305.8 845.3L305.8 838.9M324.9 845.3L324.9 842.2M344.1 845.3L344.1 838.9M363.2 845.3L363.2 842.2M382.4 845.3L382.4 838.9M401.6 845.3L401.6 842.2M420.7 845.3L420.7 838.9M439.8 845.3L439.8 842.2M459.0 845.3L459.0 838.9M478.1 845.3L478.1 842.2" stroke="#222" stroke-width="1.3" fill="none"/>
<text transform="translate(100,692) rotate(-90)" font-size="26" text-anchor="middle">T-SNE_2</text>
<text x="305.0" y="878.0" font-size="26" text-anchor="middle" >T-SNE_1</text>
<text x="461.5" y="831.6" font-size="26">R<tspan font-size="18" dy="7">7</tspan></text>
<text x="561.0" y="510.5" font-size="36" font-weight="bold" >e</text>
<rect x="616.00" y="518.30" width="818.20" height="307.70" fill="none" stroke="#222" stroke-width="1.4"/>
<text x="616.0" y="858.5" font-size="26" text-anchor="middle" >0</text>
<text x="820.5" y="858.5" font-size="26" text-anchor="middle" >50</text>
<text x="1025.1" y="858.5" font-size="26" text-anchor="middle" >100</text>
<text x="1229.7" y="858.5" font-size="26" text-anchor="middle" >150</text>
<text x="1434.2" y="858.5" font-size="26" text-anchor="middle" >200</text>
<path d="M616.0 805.9L622.0 805.9M616.0 794.1L622.0 794.1M616.0 785.7L622.0 785.7M616.0 779.2L622.0 779.2M616.0 773.9L622.0 773.9M616.0 769.5L622.0 769.5M616.0 765.6L622.0 765.6M616.0 762.2L622.0 762.2M616.0 759.1L628.0 759.1M616.0 739.0L622.0 739.0M616.0 727.2L622.0 727.2M616.0 718.8L622.0 718.8M616.0 712.3L622.0 712.3M616.0 707.0L622.0 707.0M616.0 702.6L622.0 702.6M616.0 698.7L622.0 698.7M616.0 695.3L622.0 695.3M616.0 692.2L628.0 692.2M616.0 672.1L622.0 672.1M616.0 660.3L622.0 660.3M616.0 651.9L622.0 651.9M616.0 645.4L622.0 645.4M616.0 640.1L622.0 640.1M616.0 635.7L622.0 635.7M616.0 631.8L622.0 631.8M616.0 628.4L622.0 628.4M616.0 625.3L628.0 625.3M616.0 605.2L622.0 605.2M616.0 593.4L622.0 593.4M616.0 585.0L622.0 585.0M616.0 578.5L622.0 578.5M616.0 573.2L622.0 573.2M616.0 568.8L622.0 568.8M616.0 564.9L622.0 564.9M616.0 561.5L622.0 561.5M616.0 558.4L628.0 558.4M616.0 538.3L622.0 538.3M616.0 526.5L622.0 526.5M718.3 826.0L718.3 819.9M820.5 826.0L820.5 813.8M922.8 826.0L922.8 819.9M1025.1 826.0L1025.1 813.8M1127.4 826.0L1127.4 819.9M1229.7 826.0L1229.7 813.8M1331.9 826.0L1331.9 819.9" stroke="#222" stroke-width="1.3" fill="none"/>
<text x="602" y="835.2" font-size="26" text-anchor="end">10<tspan font-size="18" dy="-12">-1</tspan></text>
<text x="602" y="768.3" font-size="26" text-anchor="end">10<tspan font-size="18" dy="-12">0</tspan></text>
<text x="602" y="701.4" font-size="26" text-anchor="end">10<tspan font-size="18" dy="-12">1</tspan></text>
<text x="602" y="634.5" font-size="26" text-anchor="end">10<tspan font-size="18" dy="-12">2</tspan></text>
<text x="602" y="567.6" font-size="26" text-anchor="end">10<tspan font-size="18" dy="-12">3</tspan></text>
<text x="1025.0" y="891.0" font-size="26" text-anchor="middle" >Compound</text>
<text transform="translate(544.4,670.7) rotate(-90)" font-size="26" text-anchor="middle">κ (W m<tspan font-size="18" dy="-10">-1</tspan><tspan dy="10"> K</tspan><tspan font-size="18" dy="-10">-1</tspan><tspan dy="10">)</tspan></text>
<line x1="616" y1="624.5" x2="1434.2" y2="624.5" stroke="#808080" stroke-width="2.2" stroke-dasharray="9 5"/>
<path d="M683.5 561.5l-9 -7M683.5 561.5l9 -7M683.5 561.5l-9 7M683.5 561.5l9 7M683.5 561.5l-10 0M683.5 561.5l10 0M711.7 540.3l-9 -7M711.7 540.3l9 -7M711.7 540.3l-9 7M711.7 540.3l9 7M711.7 540.3l-10 0M711.7 540.3l10 0M711.7 550.9l-9 -7M711.7 550.9l9 -7M711.7 550.9l-9 7M711.7 550.9l9 7M711.7 550.9l-10 0M711.7 550.9l10 0M711.7 572.1l-9 -7M711.7 572.1l9 -7M711.7 572.1l-9 7M711.7 572.1l9 7M711.7 572.1l-10 0M711.7 572.1l10 0M740.6 540.3l-9 -7M740.6 540.3l9 -7M740.6 540.3l-9 7M740.6 540.3l9 7M740.6 540.3l-10 0M740.6 540.3l10 0M740.6 561.5l-9 -7M740.6 561.5l9 -7M740.6 561.5l-9 7M740.6 561.5l9 7M740.6 561.5l-10 0M740.6 561.5l10 0M740.6 572.1l-9 -7M740.6 572.1l9 -7M740.6 572.1l-9 7M740.6 572.1l9 7M740.6 572.1l-10 0M740.6 572.1l10 0M769.2 550.9l-9 -7M769.2 550.9l9 -7M769.2 550.9l-9 7M769.2 550.9l9 7M769.2 550.9l-10 0M769.2 550.9l10 0M769.2 561.5l-9 -7M769.2 561.5l9 -7M769.2 561.5l-9 7M769.2 561.5l9 7M769.2 561.5l-10 0M769.2 561.5l10 0M797.8 540.3l-9 -7M797.8 540.3l9 -7M797.8 540.3l-9 7M797.8 540.3l9 7M797.8 540.3l-10 0M797.8 540.3l10 0M797.8 550.9l-9 -7M797.8 550.9l9 -7M797.8 550.9l-9 7M797.8 550.9l9 7M797.8 550.9l-10 0M797.8 550.9l10 0M797.8 572.1l-9 -7M797.8 572.1l9 -7M797.8 572.1l-9 7M797.8 572.1l9 7M797.8 572.1l-10 0M797.8 572.1l10 0M826.3 540.3l-9 -7M826.3 540.3l9 -7M826.3 540.3l-9 7M826.3 540.3l9 7M826.3 540.3l-10 0M826.3 540.3l10 0M826.3 561.5l-9 -7M826.3 561.5l9 -7M826.3 561.5l-9 7M826.3 561.5l9 7M826.3 561.5l-10 0M826.3 561.5l10 0M826.3 572.1l-9 -7M826.3 572.1l9 -7M826.3 572.1l-9 7M826.3 572.1l9 7M826.3 572.1l-10 0M826.3 572.1l10 0M854.9 550.9l-9 -7M854.9 550.9l9 -7M854.9 550.9l-9 7M854.9 550.9l9 7M854.9 550.9l-10 0M854.9 550.9l10 0" stroke="#9FB8CC" stroke-width="1.1" fill="none"/>
<path d="M661.8 551.9L675.8 549.9M661.8 562.5L675.8 560.5M661.8 571.5L675.8 569.5M690.3 530.4L704.3 528.4M690.3 541.8L704.3 539.8M690.3 551.9L704.3 549.9M690.3 562.5L704.3 560.5M690.3 573.1L704.3 571.1M690.3 583.8L704.3 581.8M718.9 531.5L732.9 529.5M718.9 541.8L732.9 539.8M718.9 551.9L732.9 549.9M718.9 562.5L732.9 560.5M718.9 573.1L732.9 571.1M718.9 582.9L732.9 580.9M747.5 530.4L761.5 528.4M747.5 541.8L761.5 539.8M747.5 551.9L761.5 549.9M747.5 562.5L761.5 560.5M747.5 573.1L761.5 571.1M747.5 584.6L761.5 582.6M776.1 530.4L790.1 528.4M776.1 541.8L790.1 539.8M776.1 551.9L790.1 549.9M776.1 562.5L790.1 560.5M776.1 573.1L790.1 571.1M776.1 583.8L790.1 581.8M804.6 531.5L818.6 529.5M804.6 541.8L818.6 539.8M804.6 551.9L818.6 549.9M804.6 562.5L818.6 560.5M804.6 573.1L818.6 571.1M804.6 582.9L818.6 580.9M833.2 530.4L847.2 528.4M833.2 541.8L847.2 539.8M833.2 551.9L847.2 549.9M833.2 562.5L847.2 560.5M833.2 573.1L847.2 571.1M833.2 584.6L847.2 582.6M862.6 542.1L876.6 540.1M862.6 551.9L876.6 549.9M862.6 561.7L876.6 559.7" stroke="#A08070" stroke-width="1.2" fill="none"/>
<path d="M697 529h0m29 2h0m28-2h0m29 0h0m29 2h0m28-2h0m-143 12h0m29 0h0m28 0h0m29 0h0m29 0h0m28 0h0m30 0h0m-201 10h0m28 0h0m29 0h0m28 0h0m29 0h0m29 0h0m28 0h0m30 0h0m0 10h0m-201 1h0m28 0h0m29 0h0m28 0h0m29 0h0m29 0h0m28 0h0m-171 9h0m28 1h0m29 0h0m28 0h0m29 0h0m29 0h0m28 0h0m-143 11h0m29-1h0m28 2h0m29-1h0m29-1h0m28 2h0" stroke="#8B6A58" stroke-width="3.6" stroke-linecap="round" fill="none"/>
<g fill="#fff" stroke="#A8B4D0" stroke-width="0.9"><circle cx="661.3" cy="551.9" r="1.4"/><circle cx="676.3" cy="549.9" r="1.4"/><circle cx="661.3" cy="562.5" r="1.4"/><circle cx="676.3" cy="560.5" r="1.4"/><circle cx="661.3" cy="571.5" r="1.4"/><circle cx="676.3" cy="569.5" r="1.4"/><circle cx="689.8" cy="530.4" r="1.4"/><circle cx="704.8" cy="528.4" r="1.4"/><circle cx="689.8" cy="541.8" r="1.4"/><circle cx="704.8" cy="539.8" r="1.4"/><circle cx="689.8" cy="551.9" r="1.4"/><circle cx="704.8" cy="549.9" r="1.4"/><circle cx="689.8" cy="562.5" r="1.4"/><circle cx="704.8" cy="560.5" r="1.4"/><circle cx="689.8" cy="573.1" r="1.4"/><circle cx="704.8" cy="571.1" r="1.4"/><circle cx="689.8" cy="583.8" r="1.4"/><circle cx="704.8" cy="581.8" r="1.4"/><circle cx="718.4" cy="531.5" r="1.4"/><circle cx="733.4" cy="529.5" r="1.4"/><circle cx="718.4" cy="541.8" r="1.4"/><circle cx="733.4" cy="539.8" r="1.4"/><circle cx="718.4" cy="551.9" r="1.4"/><circle cx="733.4" cy="549.9" r="1.4"/><circle cx="718.4" cy="562.5" r="1.4"/><circle cx="733.4" cy="560.5" r="1.4"/><circle cx="718.4" cy="573.1" r="1.4"/><circle cx="733.4" cy="571.1" r="1.4"/><circle cx="718.4" cy="582.9" r="1.4"/><circle cx="733.4" cy="580.9" r="1.4"/><circle cx="747.0" cy="530.4" r="1.4"/><circle cx="762.0" cy="528.4" r="1.4"/><circle cx="747.0" cy="541.8" r="1.4"/><circle cx="762.0" cy="539.8" r="1.4"/><circle cx="747.0" cy="551.9" r="1.4"/><circle cx="762.0" cy="549.9" r="1.4"/><circle cx="747.0" cy="562.5" r="1.4"/><circle cx="762.0" cy="560.5" r="1.4"/><circle cx="747.0" cy="573.1" r="1.4"/><circle cx="762.0" cy="571.1" r="1.4"/><circle cx="747.0" cy="584.6" r="1.4"/><circle cx="762.0" cy="582.6" r="1.4"/><circle cx="775.6" cy="530.4" r="1.4"/><circle cx="790.6" cy="528.4" r="1.4"/><circle cx="775.6" cy="541.8" r="1.4"/><circle cx="790.6" cy="539.8" r="1.4"/><circle cx="775.6" cy="551.9" r="1.4"/><circle cx="790.6" cy="549.9" r="1.4"/><circle cx="775.6" cy="562.5" r="1.4"/><circle cx="790.6" cy="560.5" r="1.4"/><circle cx="775.6" cy="573.1" r="1.4"/><circle cx="790.6" cy="571.1" r="1.4"/><circle cx="775.6" cy="583.8" r="1.4"/><circle cx="790.6" cy="581.8" r="1.4"/><circle cx="804.1" cy="531.5" r="1.4"/><circle cx="819.1" cy="529.5" r="1.4"/><circle cx="804.1" cy="541.8" r="1.4"/><circle cx="819.1" cy="539.8" r="1.4"/><circle cx="804.1" cy="551.9" r="1.4"/><circle cx="819.1" cy="549.9" r="1.4"/><circle cx="804.1" cy="562.5" r="1.4"/><circle cx="819.1" cy="560.5" r="1.4"/><circle cx="804.1" cy="573.1" r="1.4"/><circle cx="819.1" cy="571.1" r="1.4"/><circle cx="804.1" cy="582.9" r="1.4"/><circle cx="819.1" cy="580.9" r="1.4"/><circle cx="832.7" cy="530.4" r="1.4"/><circle cx="847.7" cy="528.4" r="1.4"/><circle cx="832.7" cy="541.8" r="1.4"/><circle cx="847.7" cy="539.8" r="1.4"/><circle cx="832.7" cy="551.9" r="1.4"/><circle cx="847.7" cy="549.9" r="1.4"/><circle cx="832.7" cy="562.5" r="1.4"/><circle cx="847.7" cy="560.5" r="1.4"/><circle cx="832.7" cy="573.1" r="1.4"/><circle cx="847.7" cy="571.1" r="1.4"/><circle cx="832.7" cy="584.6" r="1.4"/><circle cx="847.7" cy="582.6" r="1.4"/><circle cx="862.1" cy="542.1" r="1.4"/><circle cx="877.1" cy="540.1" r="1.4"/><circle cx="862.1" cy="551.9" r="1.4"/><circle cx="877.1" cy="549.9" r="1.4"/><circle cx="862.1" cy="561.7" r="1.4"/><circle cx="877.1" cy="559.7" r="1.4"/></g>
<rect x="680.3" y="558.3" width="6.4" height="6.4" rx="1.5" fill="#A9D0E6" stroke="#6C9BB8" stroke-width="1"/>
<rect x="708.5" y="537.1" width="6.4" height="6.4" rx="1.5" fill="#A9D0E6" stroke="#6C9BB8" stroke-width="1"/>
<rect x="708.5" y="547.7" width="6.4" height="6.4" rx="1.5" fill="#A9D0E6" stroke="#6C9BB8" stroke-width="1"/>
<rect x="708.5" y="568.9" width="6.4" height="6.4" rx="1.5" fill="#A9D0E6" stroke="#6C9BB8" stroke-width="1"/>
<rect x="737.4" y="537.1" width="6.4" height="6.4" rx="1.5" fill="#A9D0E6" stroke="#6C9BB8" stroke-width="1"/>
<rect x="737.4" y="558.3" width="6.4" height="6.4" rx="1.5" fill="#A9D0E6" stroke="#6C9BB8" stroke-width="1"/>
<rect x="737.4" y="568.9" width="6.4" height="6.4" rx="1.5" fill="#A9D0E6" stroke="#6C9BB8" stroke-width="1"/>
<rect x="766.0" y="547.7" width="6.4" height="6.4" rx="1.5" fill="#A9D0E6" stroke="#6C9BB8" stroke-width="1"/>
<rect x="766.0" y="558.3" width="6.4" height="6.4" rx="1.5" fill="#A9D0E6" stroke="#6C9BB8" stroke-width="1"/>
<rect x="794.6" y="537.1" width="6.4" height="6.4" rx="1.5" fill="#A9D0E6" stroke="#6C9BB8" stroke-width="1"/>
<rect x="794.6" y="547.7" width="6.4" height="6.4" rx="1.5" fill="#A9D0E6" stroke="#6C9BB8" stroke-width="1"/>
<rect x="794.6" y="568.9" width="6.4" height="6.4" rx="1.5" fill="#A9D0E6" stroke="#6C9BB8" stroke-width="1"/>
<rect x="823.1" y="537.1" width="6.4" height="6.4" rx="1.5" fill="#A9D0E6" stroke="#6C9BB8" stroke-width="1"/>
<rect x="823.1" y="558.3" width="6.4" height="6.4" rx="1.5" fill="#A9D0E6" stroke="#6C9BB8" stroke-width="1"/>
<rect x="823.1" y="568.9" width="6.4" height="6.4" rx="1.5" fill="#A9D0E6" stroke="#6C9BB8" stroke-width="1"/>
<rect x="851.7" y="547.7" width="6.4" height="6.4" rx="1.5" fill="#A9D0E6" stroke="#6C9BB8" stroke-width="1"/>
<defs><pattern id="hc1" patternUnits="userSpaceOnUse" width="18.00" height="10.39" patternTransform="rotate(17.2)"><path d="M0.00 5.20L3.00 0.00L9.00 0.00L12.00 5.20L9.00 10.39L3.00 10.39ZM12.00 5.20L18.00 5.20" stroke="#55AA55" stroke-width="1.1" fill="none"/><g fill="#3E9E3E"><circle cx="0.00" cy="5.20" r="1.5"/><circle cx="3.00" cy="0.00" r="1.5"/><circle cx="9.00" cy="0.00" r="1.5"/><circle cx="12.00" cy="5.20" r="1.5"/><circle cx="9.00" cy="10.39" r="1.5"/><circle cx="3.00" cy="10.39" r="1.5"/><circle cx="18.00" cy="5.20" r="1.5"/></g></pattern></defs>
<path d="M930.2 533.4L960.8 523.2L1026.1 524.2L1077.1 528.3L1077.1 574.2L1050.6 582.3L981.2 582.3L930.2 578.3Z" fill="url(#hc1)"/>
<path d="M950 535h0m7-4h0m61 4h0m-77 3h0m69 1h0m-20 10h0m9-3h0m67 1h0m-15 7h0m8-3h0m-118 7h0m9-3h0m60 5h0m8-3h0m-19 9h0m-9 3h0m69 2h0m7-3h0m-15 6h0" stroke="#CC3322" stroke-width="6.6" stroke-linecap="round" fill="none"/>
<path d="M981 534h0m68 1h0m-75 3h0m60 5h0m8-4h0m-76 7h0m68 2h0m-75 2h0m22 5h0m45-4h0m-52 7h0m68 2h0m7-3h0m-83 9h0m8-3h0m60 0h0m-75 6h0m67 2h0m8-3h0" stroke="#2228AA" stroke-width="5.8" stroke-linecap="round" fill="none"/>
<defs><pattern id="hc2" patternUnits="userSpaceOnUse" width="15.60" height="9.01" patternTransform="rotate(28.6)"><path d="M0.00 4.50L2.60 0.00L7.80 0.00L10.40 4.50L7.80 9.01L2.60 9.01ZM10.40 4.50L15.60 4.50" stroke="#4A9F4A" stroke-width="1.2" fill="none"/><g fill="#3E9E3E"><circle cx="0.00" cy="4.50" r="1.4"/><circle cx="2.60" cy="0.00" r="1.4"/><circle cx="7.80" cy="0.00" r="1.4"/><circle cx="10.40" cy="4.50" r="1.4"/><circle cx="7.80" cy="9.01" r="1.4"/><circle cx="2.60" cy="9.01" r="1.4"/><circle cx="15.60" cy="4.50" r="1.4"/></g></pattern></defs>
<path d="M1124.1 527.2L1140.4 521.1L1185.3 529.3L1198.6 539.5L1193.5 570.1L1183.3 584.4L1144.5 580.3L1122.0 570.1Z" fill="url(#hc2)"/>
<path d="M1173 539h0m6 7h0m-10 5h0m-18 6h0m-10 5h0m6 6h0" stroke="#EE9933" stroke-width="6.0" stroke-linecap="round" fill="none"/>
<defs><pattern id="lat3" patternUnits="userSpaceOnUse" width="6.00" height="10.39" patternTransform="rotate(0.0)"><path d="M0 0H6.00M0 5.20H6.00M0 10.39H6.00M0 0L6.00 10.39M6.00 0L0 10.39M3.00 5.20L6.00 0M3.00 5.20L0 0" stroke="#8AA898" stroke-width="1.0"/><g fill="#5DB56D"><circle r="1.5"/><circle cx="6.00" r="1.5"/><circle cx="3.00" cy="5.20" r="1.5"/><circle cy="10.39" r="1.5"/><circle cx="6.00" cy="10.39" r="1.5"/></g></pattern></defs>
<path d="M977.6 724.7L1063.3 722.7L1069.4 743.1L1069.4 775.7L1061.2 800.2L973.5 801.2L967.3 788.0L967.3 741.0Z" fill="url(#lat3)"/>
<path d="M1005 734h0m4 0h0m21 0h0m-41 6h0m15-4h0m38 0h0m-32 12h0m57 4h0m-61 5h0m62 4h0m-70 9h0m7-2h0m18 0h0m5-1h0m2 2h0m-62 7h0m25-1h0m53 2h0m-68 4h0m9 1h0m30-2h0m14 1h0m-62 4h0m52-1h0m-38 5h0m64 2h0m-61 7h0m16-3h0m25 3h0m15-1h0" stroke="#A8B0D8" stroke-width="3.0" stroke-linecap="round" fill="none"/>
<path d="M982 728h0m2-2h0m21-1h0m27 1h0m7 1h0m-66 6h0m2 1h0m74 0h0m4-1h0m-84 7h0m31-3h0m0 0h0m15 3h0m-25 6h0m25-4h0m13 1h0m-51 6h0m38 4h0m8-4h0m6 1h0m-62 5h0m11 2h0m19 1h0m38-2h0m-65 3h0m26 2h0m4-1h0m20 4h0m43-4h0m4 2h0m-98 4h0m9 1h0m56 1h0m-44 9h0m66 0h0m8-3h0m1-2h0m-61 6h0m28 1h0m3 3h0m3-3h0m-59 9h0m5 0h0m19 1h0m1-5h0m27 0h0m2 1h0m-41 9h0m4 1h0m34 0h0m2-2h0m12-4h0m5 1h0m-61 7h0m9 1h0m0-1h0m9 3h0m32-1h0m10-2h0m14 0h0" stroke="#6B4A3A" stroke-width="3.0" stroke-linecap="round" fill="none"/>
<path d="M987 725h0m43 5h0m0 3h0m29-1h0m-14 3h0m-69 9h0m33-3h0m7 5h0m43 0h0m-57 1h0m0 4h0m16-2h0m5-2h0m-27 8h0m18 1h0m37 0h0m16 2h0m-96 3h0m80-1h0m17 5h0m-21 3h0m-44 5h0m9 1h0m10 2h0m28-3h0m-4 4h0m-31 10h0m13 1h0m4-3h0m11 3h0m-70 7h0m70 0h0" stroke="#A898C0" stroke-width="3.0" stroke-linecap="round" fill="none"/>
<defs><pattern id="hc4" patternUnits="userSpaceOnUse" width="22.50" height="12.99" patternTransform="rotate(0.0)"><path d="M0.00 6.50L3.75 0.00L11.25 0.00L15.00 6.50L11.25 12.99L3.75 12.99ZM15.00 6.50L22.50 6.50" stroke="#2E8B2E" stroke-width="2.0" fill="none"/><g fill="#238823"><circle cx="0.00" cy="6.50" r="2.2"/><circle cx="3.75" cy="0.00" r="2.2"/><circle cx="11.25" cy="0.00" r="2.2"/><circle cx="15.00" cy="6.50" r="2.2"/><circle cx="11.25" cy="12.99" r="2.2"/><circle cx="3.75" cy="12.99" r="2.2"/><circle cx="22.50" cy="6.50" r="2.2"/></g></pattern></defs>
<path d="M1127.6 715.5L1185.7 751.2L1189.8 792.0L1156.1 810.4L1095.9 775.7L1095.9 734.9Z" fill="url(#hc4)"/>
<g fill="#fff" stroke="#A890B8" stroke-width="1.6"><circle cx="1127.6" cy="718.6" r="2.4"/><circle cx="1099.0" cy="736.9" r="2.4"/><circle cx="1156.1" cy="736.9" r="2.4"/><circle cx="1185.7" cy="754.3" r="2.4"/><circle cx="1099.0" cy="771.6" r="2.4"/><circle cx="1127.6" cy="790.0" r="2.4"/><circle cx="1156.1" cy="807.3" r="2.4"/><circle cx="1185.7" cy="790.0" r="2.4"/><circle cx="1127.6" cy="754.3" r="2.4"/><circle cx="1156.1" cy="771.6" r="2.4"/></g>
<defs><pattern id="lat5" patternUnits="userSpaceOnUse" width="7.00" height="12.12" patternTransform="rotate(29.8)"><path d="M0 0H7.00M0 6.06H7.00M0 12.12H7.00M0 0L7.00 12.12M7.00 0L0 12.12M3.50 6.06L7.00 0M3.50 6.06L0 0" stroke="#2F8F2F" stroke-width="1.8"/><g fill="#2A882A"><circle r="1.9"/><circle cx="7.00" r="1.9"/><circle cx="3.50" cy="6.06" r="1.9"/><circle cy="12.12" r="1.9"/><circle cx="7.00" cy="12.12" r="1.9"/></g></pattern></defs>
<path d="M1212.1 722.7L1249.5 721.8L1263.1 727.8L1269.9 737.1L1286.9 740.5L1295.4 749.0L1298.8 766.1L1298.8 786.5L1295.4 795.0L1285.2 798.4L1261.4 797.5L1247.8 791.6L1241.0 783.1L1229.1 778.0L1220.6 771.2L1213.8 759.3L1210.4 749.0L1203.6 740.5L1207.0 732.0Z" fill="url(#lat5)"/>
<path d="M1213 727h0m0-3h0m10 0h0m0 1h0m3 3h0m1-2h0m6 0h0m8 0h0m2-1h0m-34 8h0m3-2h0m6 3h0m7-3h0m15 1h0m8-3h0m5 3h0m-34 8h0m41 0h0m-48 6h0m7-2h0m9-1h0m10 3h0m10-2h0m-22 6h0m0-3h0m13 4h0m14-2h0m9 0h0m1 0h0m11 3h0m-48 7h0m2-6h0m35 2h0m2 0h0m15 0h0m7 4h0m1 0h0m-67 2h0m21 1h0m43-1h0m4-2h0m-29 7h0m-29 7h0m38 0h0m3-1h0m1 5h0m10-6h0m11 3h0m2-1h0m-48 17h0m20 4h0" stroke="#3A9A3A" stroke-width="3.8" stroke-linecap="round" fill="none"/>
<defs><pattern id="lat6" patternUnits="userSpaceOnUse" width="7.00" height="12.12" patternTransform="rotate(29.8)"><path d="M0 0H7.00M0 6.06H7.00M0 12.12H7.00M0 0L7.00 12.12M7.00 0L0 12.12M3.50 6.06L7.00 0M3.50 6.06L0 0" stroke="#2F8F2F" stroke-width="1.8"/><g fill="#2A882A"><circle r="1.9"/><circle cx="7.00" r="1.9"/><circle cx="3.50" cy="6.06" r="1.9"/><circle cy="12.12" r="1.9"/><circle cx="7.00" cy="12.12" r="1.9"/></g></pattern></defs>
<path d="M1322.7 663.2L1351.6 658.9L1361.8 664.0L1372.0 670.8L1390.7 681.0L1409.4 692.9L1411.1 718.4L1411.1 740.5L1402.6 742.2L1382.2 747.3L1361.8 738.8L1343.1 725.2L1326.1 715.0L1321.0 703.1L1317.6 686.1L1312.4 681.0Z" fill="url(#lat6)"/>
<path d="M1325 665h0m4 3h0m44 9h0m-39 6h0m17 4h0m13-3h0m15 0h0m-43 6h0m55 1h0m0 1h0m-56 5h0m47-3h0m17 0h0m-30 8h0m36 4h0m-75 11h0m63 0h0m13-4h0m2-1h0m-21 10h0m14-2h0m3 0h0m-48 7h0m53 4h0m-46 7h0m16 6h0" stroke="#3A9A3A" stroke-width="3.8" stroke-linecap="round" fill="none"/>
<path d="M1354 664h0m16 11h0m-41 7h0m53 1h0m-34 5h0m45 5h0m-35 4h0m8-3h0m7 0h0m-23 7h0m-18 8h0m16 1h0m31-4h0m19 8h0m-58 8h0m4-3h0m27 0h0m-23 6h0m46-2h0m1 1h0m12-1h0m-12 11h0m-12 5h0" stroke="#DD3333" stroke-width="3.8" stroke-linecap="round" fill="none"/>
<line x1="1117.0" y1="625.0" x2="864.9" y2="583.8" stroke="#FF0000" stroke-width="1.6"/>
<polygon points="854.0,582.0 865.6,579.3 864.1,588.2" fill="#FF0000"/>
<line x1="1117.0" y1="625.0" x2="1075.5" y2="590.4" stroke="#FF0000" stroke-width="1.6"/>
<polygon points="1067.0,583.4 1078.3,587.0 1072.6,593.9" fill="#FF0000"/>
<line x1="1121.0" y1="622.0" x2="1134.9" y2="598.0" stroke="#FF0000" stroke-width="1.6"/>
<polygon points="1140.4,588.5 1138.8,600.3 1131.0,595.8" fill="#FF0000"/>
<line x1="1331.0" y1="595.0" x2="1065.0" y2="726.9" stroke="#FF0000" stroke-width="1.6"/>
<polygon points="1055.1,731.8 1063.0,722.9 1067.0,730.9" fill="#FF0000"/>
<line x1="1341.0" y1="588.0" x2="1175.9" y2="720.9" stroke="#FF0000" stroke-width="1.6"/>
<polygon points="1167.3,727.8 1173.0,717.4 1178.7,724.4" fill="#FF0000"/>
<line x1="1351.0" y1="585.0" x2="1270.6" y2="713.4" stroke="#FF0000" stroke-width="1.6"/>
<polygon points="1264.8,722.7 1266.8,711.0 1274.5,715.8" fill="#FF0000"/>
<line x1="1356.2" y1="587.0" x2="1356.2" y2="641.0" stroke="#FF0000" stroke-width="1.6"/>
<polygon points="1356.2,652.0 1351.7,641.0 1360.7,641.0" fill="#FF0000"/>
<g fill="rgba(255,120,120,0.35)" stroke="#FF2020" stroke-width="1.1"><rect x="1108.1" y="619.8" width="7" height="7"/><rect x="1112.2" y="619.2" width="7" height="7"/><rect x="1116.3" y="618.6" width="7" height="7"/><rect x="1120.4" y="618.3" width="7" height="7"/><rect x="1124.5" y="618.0" width="7" height="7"/><rect x="1128.6" y="617.8" width="7" height="7"/><rect x="1132.7" y="617.5" width="7" height="7"/><rect x="1136.8" y="617.3" width="7" height="7"/><rect x="1140.9" y="617.0" width="7" height="7"/><rect x="1145.0" y="616.7" width="7" height="7"/><rect x="1149.1" y="616.5" width="7" height="7"/><rect x="1153.2" y="616.2" width="7" height="7"/><rect x="1157.3" y="616.0" width="7" height="7"/><rect x="1161.4" y="615.7" width="7" height="7"/><rect x="1165.5" y="615.5" width="7" height="7"/><rect x="1169.6" y="615.2" width="7" height="7"/><rect x="1173.7" y="615.0" width="7" height="7"/><rect x="1177.7" y="614.7" width="7" height="7"/><rect x="1181.8" y="614.5" width="7" height="7"/><rect x="1185.9" y="614.2" width="7" height="7"/><rect x="1190.0" y="614.0" width="7" height="7"/><rect x="1194.1" y="613.7" width="7" height="7"/><rect x="1198.2" y="613.5" width="7" height="7"/><rect x="1202.3" y="613.2" width="7" height="7"/><rect x="1206.4" y="613.0" width="7" height="7"/><rect x="1210.5" y="612.7" width="7" height="7"/><rect x="1214.6" y="612.5" width="7" height="7"/><rect x="1218.7" y="612.2" width="7" height="7"/><rect x="1222.8" y="612.0" width="7" height="7"/><rect x="1226.9" y="611.7" width="7" height="7"/><rect x="1231.0" y="611.5" width="7" height="7"/><rect x="1235.1" y="611.2" width="7" height="7"/><rect x="1239.2" y="611.0" width="7" height="7"/><rect x="1243.3" y="610.7" width="7" height="7"/><rect x="1247.4" y="610.5" width="7" height="7"/><rect x="1251.5" y="610.1" width="7" height="7"/><rect x="1255.6" y="609.6" width="7" height="7"/><rect x="1259.7" y="609.2" width="7" height="7"/><rect x="1263.8" y="608.8" width="7" height="7"/><rect x="1267.9" y="608.4" width="7" height="7"/><rect x="1272.0" y="608.1" width="7" height="7"/><rect x="1276.1" y="607.7" width="7" height="7"/><rect x="1280.1" y="607.4" width="7" height="7"/><rect x="1284.2" y="607.0" width="7" height="7"/><rect x="1288.3" y="606.7" width="7" height="7"/><rect x="1292.4" y="606.0" width="7" height="7"/><rect x="1296.5" y="603.9" width="7" height="7"/><rect x="1300.6" y="601.7" width="7" height="7"/><rect x="1304.7" y="599.6" width="7" height="7"/><rect x="1308.8" y="597.6" width="7" height="7"/><rect x="1312.9" y="595.5" width="7" height="7"/><rect x="1317.0" y="593.4" width="7" height="7"/><rect x="1321.1" y="591.9" width="7" height="7"/><rect x="1325.2" y="591.0" width="7" height="7"/><rect x="1329.3" y="590.1" width="7" height="7"/><rect x="1333.4" y="589.4" width="7" height="7"/><rect x="1337.5" y="588.9" width="7" height="7"/><rect x="1341.6" y="588.5" width="7" height="7"/><rect x="1345.7" y="586.6" width="7" height="7"/><rect x="1349.8" y="584.0" width="7" height="7"/><rect x="1353.9" y="581.5" width="7" height="7"/></g>
<g fill="rgba(170,170,255,0.55)" stroke="#2020FF" stroke-width="1.1"><circle cx="620.1" cy="807.3" r="4.4"/><circle cx="624.2" cy="794.6" r="4.4"/><circle cx="628.3" cy="793.2" r="4.4"/><circle cx="632.4" cy="786.5" r="4.4"/><circle cx="636.5" cy="783.9" r="4.4"/><circle cx="640.6" cy="781.2" r="4.4"/><circle cx="644.7" cy="780.5" r="4.4"/><circle cx="648.8" cy="779.8" r="4.4"/><circle cx="652.9" cy="777.8" r="4.4"/><circle cx="657.0" cy="775.8" r="4.4"/><circle cx="661.1" cy="774.2" r="4.4"/><circle cx="665.2" cy="772.6" r="4.4"/><circle cx="669.2" cy="771.6" r="4.4"/><circle cx="673.3" cy="771.3" r="4.4"/><circle cx="677.4" cy="769.9" r="4.4"/><circle cx="681.5" cy="767.9" r="4.4"/><circle cx="685.6" cy="765.8" r="4.4"/><circle cx="689.7" cy="763.6" r="4.4"/><circle cx="693.8" cy="761.5" r="4.4"/><circle cx="697.9" cy="760.1" r="4.4"/><circle cx="702.0" cy="758.8" r="4.4"/><circle cx="706.1" cy="758.0" r="4.4"/><circle cx="710.2" cy="757.2" r="4.4"/><circle cx="714.3" cy="756.1" r="4.4"/><circle cx="718.4" cy="755.1" r="4.4"/><circle cx="722.5" cy="754.2" r="4.4"/><circle cx="726.6" cy="753.4" r="4.4"/><circle cx="730.7" cy="752.6" r="4.4"/><circle cx="734.8" cy="751.7" r="4.4"/><circle cx="738.9" cy="750.8" r="4.4"/><circle cx="743.0" cy="749.7" r="4.4"/><circle cx="747.1" cy="748.6" r="4.4"/><circle cx="751.2" cy="747.3" r="4.4"/><circle cx="755.3" cy="746.0" r="4.4"/><circle cx="759.4" cy="744.8" r="4.4"/><circle cx="763.5" cy="744.0" r="4.4"/><circle cx="767.6" cy="743.1" r="4.4"/><circle cx="771.6" cy="742.0" r="4.4"/><circle cx="775.7" cy="740.9" r="4.4"/><circle cx="779.8" cy="739.1" r="4.4"/><circle cx="783.9" cy="736.7" r="4.4"/><circle cx="788.0" cy="735.1" r="4.4"/><circle cx="792.1" cy="734.3" r="4.4"/><circle cx="796.2" cy="734.1" r="4.4"/><circle cx="800.3" cy="734.0" r="4.4"/><circle cx="804.4" cy="733.8" r="4.4"/><circle cx="808.5" cy="733.5" r="4.4"/><circle cx="812.6" cy="733.0" r="4.4"/><circle cx="816.7" cy="732.4" r="4.4"/><circle cx="820.8" cy="731.3" r="4.4"/><circle cx="824.9" cy="730.2" r="4.4"/><circle cx="829.0" cy="729.2" r="4.4"/><circle cx="833.1" cy="728.4" r="4.4"/><circle cx="837.2" cy="727.4" r="4.4"/><circle cx="841.3" cy="725.2" r="4.4"/><circle cx="845.4" cy="723.0" r="4.4"/><circle cx="849.5" cy="721.9" r="4.4"/><circle cx="853.6" cy="721.4" r="4.4"/><circle cx="857.7" cy="720.8" r="4.4"/><circle cx="861.8" cy="720.1" r="4.4"/><circle cx="865.9" cy="718.3" r="4.4"/><circle cx="870.0" cy="714.0" r="4.4"/><circle cx="874.0" cy="712.2" r="4.4"/><circle cx="878.1" cy="709.4" r="4.4"/><circle cx="882.2" cy="704.2" r="4.4"/><circle cx="886.3" cy="702.6" r="4.4"/><circle cx="890.4" cy="701.6" r="4.4"/><circle cx="894.5" cy="700.5" r="4.4"/><circle cx="898.6" cy="699.5" r="4.4"/><circle cx="902.7" cy="698.7" r="4.4"/><circle cx="906.8" cy="697.9" r="4.4"/><circle cx="910.9" cy="697.1" r="4.4"/><circle cx="915.0" cy="696.3" r="4.4"/><circle cx="919.1" cy="695.1" r="4.4"/><circle cx="923.2" cy="693.8" r="4.4"/><circle cx="927.3" cy="692.6" r="4.4"/><circle cx="931.4" cy="691.4" r="4.4"/><circle cx="935.5" cy="690.4" r="4.4"/><circle cx="939.6" cy="689.6" r="4.4"/><circle cx="943.7" cy="688.8" r="4.4"/><circle cx="947.8" cy="688.1" r="4.4"/><circle cx="951.9" cy="687.2" r="4.4"/><circle cx="956.0" cy="686.3" r="4.4"/><circle cx="960.1" cy="685.4" r="4.4"/><circle cx="964.2" cy="684.4" r="4.4"/><circle cx="968.3" cy="683.5" r="4.4"/><circle cx="972.4" cy="682.7" r="4.4"/><circle cx="976.4" cy="682.0" r="4.4"/><circle cx="980.5" cy="681.2" r="4.4"/><circle cx="984.6" cy="680.5" r="4.4"/><circle cx="988.7" cy="679.7" r="4.4"/><circle cx="992.8" cy="678.9" r="4.4"/><circle cx="996.9" cy="678.1" r="4.4"/><circle cx="1001.0" cy="677.4" r="4.4"/><circle cx="1005.1" cy="676.6" r="4.4"/><circle cx="1009.2" cy="676.0" r="4.4"/><circle cx="1013.3" cy="675.4" r="4.4"/><circle cx="1017.4" cy="674.8" r="4.4"/><circle cx="1021.5" cy="674.1" r="4.4"/><circle cx="1025.6" cy="673.3" r="4.4"/><circle cx="1029.7" cy="672.6" r="4.4"/><circle cx="1033.8" cy="671.8" r="4.4"/><circle cx="1037.9" cy="667.2" r="4.4"/><circle cx="1042.0" cy="661.1" r="4.4"/><circle cx="1046.1" cy="659.5" r="4.4"/><circle cx="1050.2" cy="658.8" r="4.4"/><circle cx="1054.3" cy="658.8" r="4.4"/><circle cx="1058.4" cy="657.6" r="4.4"/><circle cx="1062.5" cy="654.6" r="4.4"/><circle cx="1066.6" cy="651.7" r="4.4"/><circle cx="1070.7" cy="648.8" r="4.4"/><circle cx="1074.8" cy="645.7" r="4.4"/><circle cx="1078.8" cy="642.4" r="4.4"/><circle cx="1082.9" cy="640.3" r="4.4"/><circle cx="1087.0" cy="638.7" r="4.4"/><circle cx="1091.1" cy="627.0" r="4.4"/><circle cx="1095.2" cy="625.2" r="4.4"/><circle cx="1099.3" cy="624.9" r="4.4"/><circle cx="1103.4" cy="624.6" r="4.4"/><circle cx="1107.5" cy="624.1" r="4.4"/><circle cx="1304.5" cy="603.5" r="4.4"/><circle cx="1309.0" cy="602.0" r="4.4"/><circle cx="1339.0" cy="588.0" r="4.4"/><circle cx="1343.0" cy="587.5" r="4.4"/><circle cx="1346.5" cy="586.5" r="4.4"/><circle cx="1359.2" cy="578.0" r="4.4"/><circle cx="1364.4" cy="578.3" r="4.4"/><circle cx="1368.2" cy="552.1" r="4.4"/><circle cx="1371.9" cy="543.6" r="4.4"/><circle cx="1376.4" cy="534.1" r="4.4"/></g>
<line x1="1303.8" y1="599.2" x2="1291.9" y2="586.4" stroke="#0000EE" stroke-width="1.6"/>
<polygon points="1285.8,579.8 1294.9,583.7 1289.0,589.1" fill="#0000EE"/>
<line x1="1353.2" y1="573.8" x2="1341.6" y2="567.6" stroke="#0000EE" stroke-width="1.6"/>
<polygon points="1333.7,563.3 1343.5,564.0 1339.7,571.1" fill="#0000EE"/>
<line x1="1368.2" y1="582.8" x2="1382.0" y2="590.4" stroke="#0000EE" stroke-width="1.6"/>
<polygon points="1389.9,594.8 1380.1,593.9 1384.0,586.9" fill="#0000EE"/>
<line x1="1364.4" y1="542.4" x2="1344.8" y2="538.3" stroke="#0000EE" stroke-width="1.6"/>
<polygon points="1336.0,536.4 1345.6,534.3 1344.0,542.2" fill="#0000EE"/>
<line x1="1383.9" y1="536.4" x2="1399.1" y2="540.7" stroke="#0000EE" stroke-width="1.6"/>
<polygon points="1407.8,543.1 1398.1,544.5 1400.2,536.8" fill="#0000EE"/>
<line x1="1374.9" y1="554.4" x2="1387.9" y2="561.3" stroke="#0000EE" stroke-width="1.6"/>
<polygon points="1395.8,565.6 1386.0,564.9 1389.8,557.8" fill="#0000EE"/>
<text x="1300" y="540.9" font-size="25" fill="#0000EE">BN</text>
<text x="1410.5" y="552.1" font-size="25" fill="#0000EE">C</text>
<text x="1292.5" y="564.1" font-size="25" fill="#0000EE">SiC</text>
<text x="1236.5" y="575" font-size="25" fill="#0000EE">GaN</text>
<text x="1384.5" y="585.8" font-size="25" fill="#0000EE">BAs</text>
<text x="1389" y="613.5" font-size="25" fill="#0000EE">BP</text>
<text x="726" y="611.3" font-size="26" fill="#FF0000">Al<tspan font-size="18" dy="7">2</tspan><tspan dy="-7">(CN</tspan><tspan font-size="18" dy="7">2</tspan><tspan dy="-7">)</tspan><tspan font-size="18" dy="7">3</tspan></text>
<text x="989" y="603.8" font-size="26" fill="#FF0000">VCoB<tspan font-size="18" dy="7">3</tspan></text>
<text x="1145" y="600.7" font-size="26" fill="#FF0000">Mg(B<tspan font-size="18" dy="7">6</tspan><tspan dy="-7">C)</tspan><tspan font-size="18" dy="7">2</tspan></text>
<text x="919" y="814.5" font-size="26" fill="#FF0000">BeCN<tspan font-size="18" dy="7">2</tspan></text>
<text x="1088.5" y="813.5" font-size="26" fill="#FF0000">B<tspan font-size="18" dy="7">6</tspan><tspan dy="-7">P</tspan></text>
<text x="1238.8" y="814.5" font-size="26" fill="#FF0000">B<tspan font-size="18" dy="7">13</tspan><tspan dy="-7">C</tspan><tspan font-size="18" dy="7">2</tspan></text>
<text x="1315.3" y="755.9" font-size="26" fill="#FF0000">B<tspan font-size="18" dy="7">6</tspan><tspan dy="-7">O</tspan></text>
<text x="72.0" y="946.5" font-size="36" font-weight="bold" >f</text>
<rect x="110.50" y="939.30" width="381.50" height="306.70" fill="none" stroke="#111" stroke-width="1.4"/>
<text x="110.5" y="1273.0" font-size="26" text-anchor="middle" >0</text>
<text x="205.9" y="1273.0" font-size="26" text-anchor="middle" >30</text>
<text x="301.2" y="1273.0" font-size="26" text-anchor="middle" >60</text>
<text x="396.6" y="1273.0" font-size="26" text-anchor="middle" >90</text>
<text x="492.0" y="1273.0" font-size="26" text-anchor="middle" >120</text>
<text x="103.0" y="1221.5" font-size="26" text-anchor="end" >0.00</text>
<text x="103.0" y="1112.2" font-size="26" text-anchor="end" >0.08</text>
<text x="103.0" y="1002.9" font-size="26" text-anchor="end" >0.16</text>
<path d="M158.2 1246.0L158.2 1242.8M205.9 1246.0L205.9 1239.6M253.6 1246.0L253.6 1242.8M301.2 1246.0L301.2 1239.6M348.9 1246.0L348.9 1242.8M396.6 1246.0L396.6 1239.6M444.3 1246.0L444.3 1242.8M110.5 1212.3L116.9 1212.3M110.5 1157.6L113.7 1157.6M110.5 1103.0L116.9 1103.0M110.5 1048.3L113.7 1048.3M110.5 993.7L116.9 993.7" stroke="#111" stroke-width="1.3" fill="none"/>
<text x="301.2" y="1314.6" font-size="26" text-anchor="middle" >Feature</text>
<text transform="translate(44.5,1092.7) rotate(-90)" font-size="26" text-anchor="middle">Feature importance</text>
<path d="M114.0 1198.4C114.7 1203.0 115.5 1212.3 116.2 1212.3C117.6 1212.3 119.0 1205.2 120.4 1205.2C121.3 1205.2 122.3 1212.3 123.2 1212.3C124.4 1212.3 125.5 1175.2 126.7 1175.2C128.0 1175.2 129.3 1200.3 130.5 1200.3C131.1 1200.3 131.6 1197.3 132.1 1197.3C132.8 1197.3 133.4 1201.6 134.0 1201.6C135.8 1201.6 137.6 1192.8 139.4 1192.8C141.0 1192.8 142.6 1212.3 144.2 1212.3C145.9 1212.3 147.6 1190.1 149.3 1190.1C150.0 1190.1 150.8 1199.4 151.5 1199.4C154.9 1199.4 158.3 1194.7 161.7 1194.7C163.6 1194.7 165.5 1212.3 167.4 1212.3C168.6 1212.3 169.7 1201.0 170.9 1201.0C172.2 1201.0 173.4 1212.3 174.7 1212.3C176.7 1212.3 178.7 1191.7 180.8 1191.3C183.0 1190.8 185.2 1190.6 187.4 1190.6C189.4 1190.6 191.5 1203.4 193.5 1203.4C195.7 1203.4 197.9 1189.3 200.2 1189.3C202.2 1189.3 204.2 1205.2 206.2 1205.2C207.5 1205.2 208.7 1190.6 210.0 1190.6C211.3 1190.6 212.6 1204.3 213.8 1204.3C215.4 1204.3 217.0 1192.0 218.6 1192.0C220.8 1192.0 223.0 1212.3 225.3 1212.3C229.2 1212.3 233.1 1212.3 237.0 1212.3C239.0 1212.3 241.1 1198.4 243.1 1198.4C244.7 1198.4 246.3 1212.3 247.8 1212.3C248.9 1212.3 250.0 1201.7 251.0 1201.7C252.1 1201.7 253.1 1203.4 254.2 1203.4C255.2 1203.4 256.1 1199.4 257.1 1199.4C258.1 1199.4 259.2 1211.0 260.2 1211.0C261.6 1211.0 263.0 1196.4 264.4 1196.4C266.3 1196.4 268.2 1200.3 270.1 1200.3C272.1 1200.3 274.1 1195.7 276.1 1195.7C278.1 1195.7 280.2 1212.3 282.2 1212.3C283.6 1212.3 284.9 1195.1 286.3 1195.1C287.4 1195.1 288.4 1212.3 289.5 1212.3C291.1 1212.3 292.7 1193.7 294.3 1193.7C295.8 1193.7 297.4 1212.3 299.0 1212.3C301.9 1212.3 304.7 1212.3 307.6 1212.3C309.0 1212.3 310.4 1203.9 311.7 1203.9C312.4 1203.9 313.0 1204.5 313.6 1204.5C314.9 1204.5 316.2 1198.9 317.5 1198.9C318.6 1198.9 319.8 1212.3 321.0 1212.3C323.9 1212.3 326.9 1212.3 329.9 1212.3C331.1 1212.3 332.4 1201.7 333.7 1201.7C335.2 1201.7 336.6 1212.3 338.1 1212.3C339.9 1212.3 341.7 1177.7 343.5 1177.7C344.8 1177.7 346.1 1193.8 347.3 1198.6C348.9 1204.5 350.5 1211.9 352.1 1211.9C353.3 1211.9 354.4 1203.9 355.6 1203.9C357.2 1203.9 358.8 1212.3 360.4 1212.3C362.1 1212.3 363.8 1204.9 365.5 1204.9C366.5 1204.9 367.6 1207.7 368.6 1207.7C370.7 1207.7 372.7 1188.2 374.7 1188.2C375.9 1188.2 377.0 1212.3 378.2 1212.3C385.6 1212.3 393.0 1212.3 400.4 1212.3C401.6 1212.3 402.8 1188.9 403.9 1188.9C405.1 1188.9 406.3 1212.3 407.4 1212.3C417.6 1212.3 427.8 1212.3 438.0 1212.3C440.3 1212.3 442.6 1176.0 444.9 1176.0C446.4 1176.0 447.9 1189.2 449.4 1193.1C450.9 1197.0 452.4 1202.1 453.9 1202.1C455.8 1202.1 457.7 1198.3 459.6 1195.1C461.4 1192.1 463.2 1181.2 465.0 1181.2C466.8 1181.2 468.6 1202.3 470.4 1202.3C471.7 1202.3 472.9 1033.6 474.2 1033.6C475.6 1033.6 477.0 1199.5 478.3 1200.3C479.5 1201.0 480.7 1201.4 481.8 1201.4C483.3 1201.4 484.8 1183.3 486.3 1183.3C488.2 1183.3 490.1 1195.4 492.0 1201.4" fill="none" stroke="#0000FF" stroke-width="2.6" stroke-linejoin="round"/>
<text x="113" y="964.2" font-size="25">C<tspan font-size="17" dy="6">1</tspan></text>
<text x="292" y="1008.3" font-size="26">MNVE<tspan font-size="18" dy="-10" font-style="italic">p</tspan><tspan dy="10"> (13.0%)</tspan></text>
<text x="119.5" y="1146.4" font-size="26"><tspan font-style="italic">frac</tspan><tspan font-size="18" dy="6">B</tspan><tspan dy="-6"> (2.7%)</tspan></text>
<text x="182" y="1177.6" font-size="26"><tspan font-style="italic">frac</tspan><tspan font-size="18" dy="6">Ta</tspan><tspan dy="-6"> (2.5%)</tspan></text>
<text x="304" y="1150.5" font-size="26">MPTR (2.7%)</text>
<polygon points="127.0,1157.8 128.9,1162.8 134.2,1163.1 130.1,1166.4 131.5,1171.5 127.0,1168.7 122.5,1171.5 123.9,1166.4 119.8,1163.1 125.1,1162.8" fill="#FF0000"/>
<polygon points="342.8,1162.0 344.7,1167.0 350.0,1167.3 345.9,1170.6 347.3,1175.7 342.8,1172.9 338.3,1175.7 339.7,1170.6 335.6,1167.3 340.9,1167.0" fill="#FF0000"/>
<polygon points="444.8,1161.4 446.7,1166.4 452.0,1166.7 447.9,1170.0 449.3,1175.1 444.8,1172.3 440.3,1175.1 441.7,1170.0 437.6,1166.7 442.9,1166.4" fill="#FF0000"/>
<polygon points="473.0,1020.1 474.9,1025.1 480.2,1025.4 476.1,1028.7 477.5,1033.8 473.0,1031.0 468.5,1033.8 469.9,1028.7 465.8,1025.4 471.1,1025.1" fill="#FF0000"/>
<text x="525.0" y="946.5" font-size="36" font-weight="bold" >g</text>
<rect x="587.50" y="939.90" width="382.40" height="306.40" fill="none" stroke="#111" stroke-width="1.4"/>
<text x="587.5" y="1273.0" font-size="26" text-anchor="middle" >0</text>
<text x="683.1" y="1273.0" font-size="26" text-anchor="middle" >30</text>
<text x="778.7" y="1273.0" font-size="26" text-anchor="middle" >60</text>
<text x="874.3" y="1273.0" font-size="26" text-anchor="middle" >90</text>
<text x="969.9" y="1273.0" font-size="26" text-anchor="middle" >120</text>
<text x="580.0" y="1222.5" font-size="26" text-anchor="end" >0.00</text>
<text x="580.0" y="1112.9" font-size="26" text-anchor="end" >0.08</text>
<text x="580.0" y="1003.3" font-size="26" text-anchor="end" >0.16</text>
<path d="M635.3 1246.3L635.3 1243.1M683.1 1246.3L683.1 1239.9M730.9 1246.3L730.9 1243.1M778.7 1246.3L778.7 1239.9M826.5 1246.3L826.5 1243.1M874.3 1246.3L874.3 1239.9M922.1 1246.3L922.1 1243.1M587.5 1213.3L593.9 1213.3M587.5 1158.5L590.7 1158.5M587.5 1103.7L593.9 1103.7M587.5 1048.9L590.7 1048.9M587.5 994.1L593.9 994.1" stroke="#111" stroke-width="1.3" fill="none"/>
<text x="778.7" y="1314.6" font-size="26" text-anchor="middle" >Feature</text>
<text transform="translate(521.5,1093.1) rotate(-90)" font-size="26" text-anchor="middle">Feature importance</text>
<path d="M590.4 1213.0C591.2 1213.1 592.1 1213.3 592.9 1213.3C594.6 1213.3 596.3 1208.1 598.0 1206.9C599.6 1205.8 601.2 1204.6 602.8 1204.6C604.1 1204.6 605.3 1211.7 606.6 1211.7C607.7 1211.7 608.7 1198.7 609.8 1198.7C610.8 1198.7 611.7 1206.2 612.7 1206.2C613.8 1206.2 615.0 1159.3 616.2 1159.3C617.5 1159.3 618.7 1213.3 620.0 1213.3C621.1 1213.3 622.1 1204.2 623.2 1204.2C623.9 1204.2 624.7 1208.7 625.4 1208.7C626.9 1208.7 628.4 1207.3 629.9 1207.3C632.4 1207.3 635.0 1210.3 637.5 1210.3C638.8 1210.3 640.1 1192.9 641.4 1192.9C642.7 1192.9 644.1 1213.3 645.5 1213.3C647.5 1213.3 649.5 1205.5 651.6 1205.5C652.7 1205.5 653.9 1208.7 655.1 1208.7C657.0 1208.7 658.9 1180.1 660.8 1180.1C662.7 1180.1 664.6 1206.5 666.5 1206.5C667.9 1206.5 669.3 1200.1 670.7 1200.1C673.2 1200.1 675.8 1208.7 678.3 1208.7C680.1 1208.7 681.9 1196.7 683.7 1196.7C687.1 1196.7 690.5 1209.6 693.9 1209.6C695.6 1209.6 697.3 1195.1 699.0 1195.1C700.2 1195.1 701.4 1213.3 702.5 1213.3C703.7 1213.3 704.9 1208.3 706.0 1208.3C707.8 1208.3 709.7 1212.3 711.5 1212.3C712.8 1212.3 714.2 1206.0 715.6 1206.0C716.2 1206.0 716.9 1207.9 717.5 1207.9C718.7 1207.9 719.9 1204.9 721.0 1204.9C722.6 1204.9 724.2 1213.3 725.8 1213.3C727.4 1213.3 729.0 1213.3 730.6 1213.3C732.0 1213.3 733.3 1204.9 734.7 1204.9C735.5 1204.9 736.2 1208.7 737.0 1208.7C739.1 1208.7 741.2 1199.2 743.3 1199.2C744.4 1199.2 745.5 1201.9 746.5 1201.9C747.7 1201.9 748.9 1200.1 750.0 1200.1C751.0 1200.1 751.9 1206.9 752.9 1206.9C754.0 1206.9 755.0 1179.7 756.1 1179.7C757.3 1179.7 758.6 1213.3 759.9 1213.3C761.1 1213.3 762.2 1207.9 763.4 1207.9C764.1 1207.9 764.9 1210.3 765.6 1210.3C767.0 1210.3 768.4 1204.6 769.8 1204.6C771.6 1204.6 773.4 1209.6 775.2 1209.6C776.4 1209.6 777.5 1209.6 778.7 1209.6C779.8 1209.6 780.8 1213.0 781.9 1213.0C782.7 1213.0 783.6 1210.1 784.4 1207.6C785.7 1203.9 787.0 1188.8 788.3 1188.8C789.3 1188.8 790.4 1205.7 791.4 1206.9C792.5 1208.1 793.6 1208.2 794.6 1208.9C796.8 1210.2 798.9 1213.0 801.0 1213.0C802.1 1213.0 803.1 1211.9 804.2 1211.9C805.1 1211.9 806.1 1212.5 807.1 1212.5C808.4 1212.5 809.8 1209.2 811.2 1209.2C812.1 1209.2 812.9 1209.6 813.8 1209.6C815.6 1209.6 817.4 1203.8 819.2 1203.8C820.6 1203.8 821.9 1212.1 823.3 1212.3C826.1 1212.8 828.8 1213.0 831.6 1213.0C832.9 1213.0 834.1 1208.7 835.4 1208.7C836.6 1208.7 837.8 1212.8 838.9 1212.8C840.1 1212.8 841.3 1205.1 842.4 1205.1C844.5 1205.1 846.5 1208.7 848.5 1208.7C849.7 1208.7 850.8 1196.0 852.0 1196.0C853.2 1196.0 854.3 1213.3 855.5 1213.3C862.6 1213.3 869.7 1213.3 876.8 1213.3C878.0 1213.3 879.2 1206.9 880.4 1206.9C881.5 1206.9 882.7 1213.3 883.9 1213.3C894.3 1213.3 904.7 1213.3 915.1 1213.3C917.1 1213.3 919.1 1202.2 921.1 1187.2C922.3 1178.5 923.5 1120.3 924.6 1120.3C925.9 1120.3 927.2 1201.9 928.5 1201.9C929.4 1201.9 930.4 1188.5 931.3 1188.5C932.4 1188.5 933.5 1204.2 934.5 1204.2C936.4 1204.2 938.4 1018.0 940.3 1018.0C941.6 1018.0 943.0 1198.1 944.4 1198.1C945.5 1198.1 946.5 1176.0 947.6 1176.0C948.4 1176.0 949.3 1191.3 950.1 1191.3C951.4 1191.3 952.7 1151.1 954.0 1151.1C955.8 1151.1 957.6 1198.1 959.4 1198.1C960.4 1198.1 961.5 1066.6 962.6 1066.6C963.7 1066.6 964.9 1202.8 966.1 1202.8C967.0 1202.8 968.0 1202.5 968.9 1202.4" fill="none" stroke="#0000FF" stroke-width="2.6" stroke-linejoin="round"/>
<text x="591.5" y="964.2" font-size="25">R<tspan font-size="17" dy="6">2</tspan></text>
<text x="816" y="996.5" font-size="26">ME (14.3%)</text>
<text x="775" y="1068.3" font-size="26">FVE<tspan font-size="18" dy="-10" font-style="italic">p</tspan><tspan dy="10"> (10.7%)</tspan></text>
<text x="755.5" y="1122.1" font-size="26">MPTC (6.7%)</text>
<text x="628" y="1162.7" font-size="26"><tspan font-style="italic">frac</tspan><tspan font-size="18" dy="6">F</tspan><tspan dy="-6"> (3.9%)</tspan></text>
<polygon points="616.6,1144.7 618.5,1149.7 623.8,1150.0 619.7,1153.3 621.1,1158.4 616.6,1155.6 612.1,1158.4 613.5,1153.3 609.4,1150.0 614.7,1149.7" fill="#FF0000"/>
<polygon points="924.8,1105.1 926.7,1110.1 932.0,1110.4 927.9,1113.7 929.3,1118.8 924.8,1116.0 920.3,1118.8 921.7,1113.7 917.6,1110.4 922.9,1110.1" fill="#FF0000"/>
<polygon points="940.4,1001.0 942.3,1006.0 947.6,1006.3 943.5,1009.6 944.9,1014.7 940.4,1011.9 935.9,1014.7 937.3,1009.6 933.2,1006.3 938.5,1006.0" fill="#FF0000"/>
<polygon points="962.6,1051.0 964.5,1056.0 969.8,1056.3 965.7,1059.6 967.1,1064.7 962.6,1061.9 958.1,1064.7 959.5,1059.6 955.4,1056.3 960.7,1056.0" fill="#FF0000"/>
<text x="988.0" y="946.5" font-size="36" font-weight="bold" >h</text>
<rect x="1066.20" y="939.90" width="382.40" height="306.40" fill="none" stroke="#111" stroke-width="1.4"/>
<text x="1066.2" y="1273.0" font-size="26" text-anchor="middle" >0</text>
<text x="1161.8" y="1273.0" font-size="26" text-anchor="middle" >30</text>
<text x="1257.4" y="1273.0" font-size="26" text-anchor="middle" >60</text>
<text x="1353.0" y="1273.0" font-size="26" text-anchor="middle" >90</text>
<text x="1448.6" y="1273.0" font-size="26" text-anchor="middle" >120</text>
<text x="1058.7" y="1235.4" font-size="26" text-anchor="end" >0.00</text>
<text x="1058.7" y="1170.0" font-size="26" text-anchor="end" >0.08</text>
<text x="1058.7" y="1104.6" font-size="26" text-anchor="end" >0.16</text>
<text x="1058.7" y="1039.2" font-size="26" text-anchor="end" >0.24</text>
<text x="1058.7" y="973.8" font-size="26" text-anchor="end" >0.32</text>
<path d="M1114.0 1246.3L1114.0 1243.1M1161.8 1246.3L1161.8 1239.9M1209.6 1246.3L1209.6 1243.1M1257.4 1246.3L1257.4 1239.9M1305.2 1246.3L1305.2 1243.1M1353.0 1246.3L1353.0 1239.9M1400.8 1246.3L1400.8 1243.1M1066.2 1226.2L1072.6 1226.2M1066.2 1193.5L1069.4 1193.5M1066.2 1160.8L1072.6 1160.8M1066.2 1128.1L1069.4 1128.1M1066.2 1095.4L1072.6 1095.4M1066.2 1062.7L1069.4 1062.7M1066.2 1030.0L1072.6 1030.0M1066.2 997.3L1069.4 997.3M1066.2 964.6L1072.6 964.6" stroke="#111" stroke-width="1.3" fill="none"/>
<text x="1257.4" y="1314.6" font-size="26" text-anchor="middle" >Feature</text>
<text transform="translate(1000.2,1093.1) rotate(-90)" font-size="26" text-anchor="middle">Feature importance</text>
<path d="M1068.7 1226.2C1070.6 1225.9 1072.4 1225.8 1074.2 1225.2C1075.8 1224.6 1077.4 1211.2 1078.9 1211.2C1080.3 1211.2 1081.7 1223.3 1083.1 1224.4C1084.5 1225.5 1085.9 1226.2 1087.2 1226.2C1088.7 1226.2 1090.2 1219.0 1091.7 1219.0C1093.0 1219.0 1094.2 1226.2 1095.5 1226.2C1097.0 1226.2 1098.5 1226.2 1100.0 1226.2C1101.4 1226.2 1102.7 1209.9 1104.1 1209.9C1105.4 1209.9 1106.7 1226.2 1107.9 1226.2C1109.0 1226.2 1110.1 1224.4 1111.1 1224.4C1112.0 1224.4 1112.8 1225.8 1113.7 1225.8C1114.8 1225.8 1116.0 1223.5 1117.2 1223.5C1119.0 1223.5 1120.8 1226.2 1122.6 1226.2C1124.0 1226.2 1125.4 1225.8 1126.7 1225.8C1128.6 1225.8 1130.4 1226.2 1132.2 1226.2C1133.5 1226.2 1134.9 1224.8 1136.3 1224.8C1137.6 1224.8 1138.9 1226.2 1140.1 1226.2C1142.9 1226.2 1145.7 1226.2 1148.4 1226.2C1149.8 1226.2 1151.2 1222.7 1152.6 1222.7C1153.4 1222.7 1154.3 1223.8 1155.1 1223.8C1156.3 1223.8 1157.4 1221.7 1158.6 1221.7C1159.7 1221.7 1160.7 1222.1 1161.8 1222.1C1162.8 1222.1 1163.7 1219.9 1164.7 1219.9C1165.6 1219.9 1166.6 1223.8 1167.5 1223.8C1168.8 1223.8 1170.1 1205.8 1171.4 1205.8C1172.5 1205.8 1173.7 1221.2 1174.9 1222.7C1176.5 1224.8 1178.1 1226.2 1179.6 1226.2C1181.0 1226.2 1182.4 1221.0 1183.8 1221.0C1184.9 1221.0 1185.9 1226.2 1187.0 1226.2C1195.2 1226.2 1203.3 1226.2 1211.5 1226.2C1213.6 1226.2 1215.8 1214.9 1217.9 1214.9C1219.5 1214.9 1221.1 1226.2 1222.7 1226.2C1224.7 1226.2 1226.7 1221.7 1228.7 1221.7C1231.5 1221.7 1234.2 1226.2 1237.0 1226.2C1239.0 1226.2 1241.0 1222.1 1243.1 1222.1C1244.9 1222.1 1246.7 1226.2 1248.5 1226.2C1273.2 1226.2 1298.0 1226.2 1322.7 1226.2C1324.2 1226.2 1325.7 1219.9 1327.2 1219.9C1328.7 1219.9 1330.2 1226.2 1331.6 1226.2C1352.9 1226.2 1374.1 1226.2 1395.4 1226.2C1397.2 1226.2 1399.0 1152.3 1400.8 1152.3C1403.3 1152.3 1405.9 1219.9 1408.4 1219.9C1410.8 1219.9 1413.1 1203.6 1415.5 1203.6C1417.8 1203.6 1420.1 1224.4 1422.5 1224.4C1424.6 1224.4 1426.7 1093.3 1428.8 1093.3C1430.4 1093.3 1432.0 1225.5 1433.6 1225.5C1435.3 1225.5 1437.0 971.2 1438.7 971.2C1440.4 971.2 1442.1 1226.2 1443.8 1226.2C1444.9 1226.2 1445.9 1226.2 1447.0 1226.2" fill="none" stroke="#0000FF" stroke-width="2.6" stroke-linejoin="round"/>
<text x="1069" y="964.2" font-size="25">R<tspan font-size="17" dy="6">7</tspan></text>
<text x="1271" y="972.9" font-size="26">FVE<tspan font-size="18" dy="-10" font-style="italic">s</tspan><tspan dy="10"> (31.1%)</tspan></text>
<text x="1237" y="1095.3" font-size="26">MNVE<tspan font-size="18" dy="-10" font-style="italic">p</tspan><tspan dy="10"> (16.2%)</tspan></text>
<text x="1233" y="1153.3" font-size="26">MPTR (9.0%)</text>
<text x="1247.5" y="1205.3" font-size="26">MAR (2.7%)</text>
<polygon points="1438.1,957.3 1440.0,962.3 1445.3,962.6 1441.2,965.9 1442.6,971.0 1438.1,968.2 1433.6,971.0 1435.0,965.9 1430.9,962.6 1436.2,962.3" fill="#FF0000"/>
<polygon points="1428.4,1079.8 1430.3,1084.8 1435.6,1085.1 1431.5,1088.4 1432.9,1093.5 1428.4,1090.7 1423.9,1093.5 1425.3,1088.4 1421.2,1085.1 1426.5,1084.8" fill="#FF0000"/>
<polygon points="1400.0,1137.7 1401.9,1142.7 1407.2,1143.0 1403.1,1146.3 1404.5,1151.4 1400.0,1148.6 1395.5,1151.4 1396.9,1146.3 1392.8,1143.0 1398.1,1142.7" fill="#FF0000"/>
<polygon points="1415.6,1189.1 1417.5,1194.1 1422.8,1194.4 1418.7,1197.7 1420.1,1202.8 1415.6,1200.0 1411.1,1202.8 1412.5,1197.7 1408.4,1194.4 1413.7,1194.1" fill="#FF0000"/>
</svg></body></html>
